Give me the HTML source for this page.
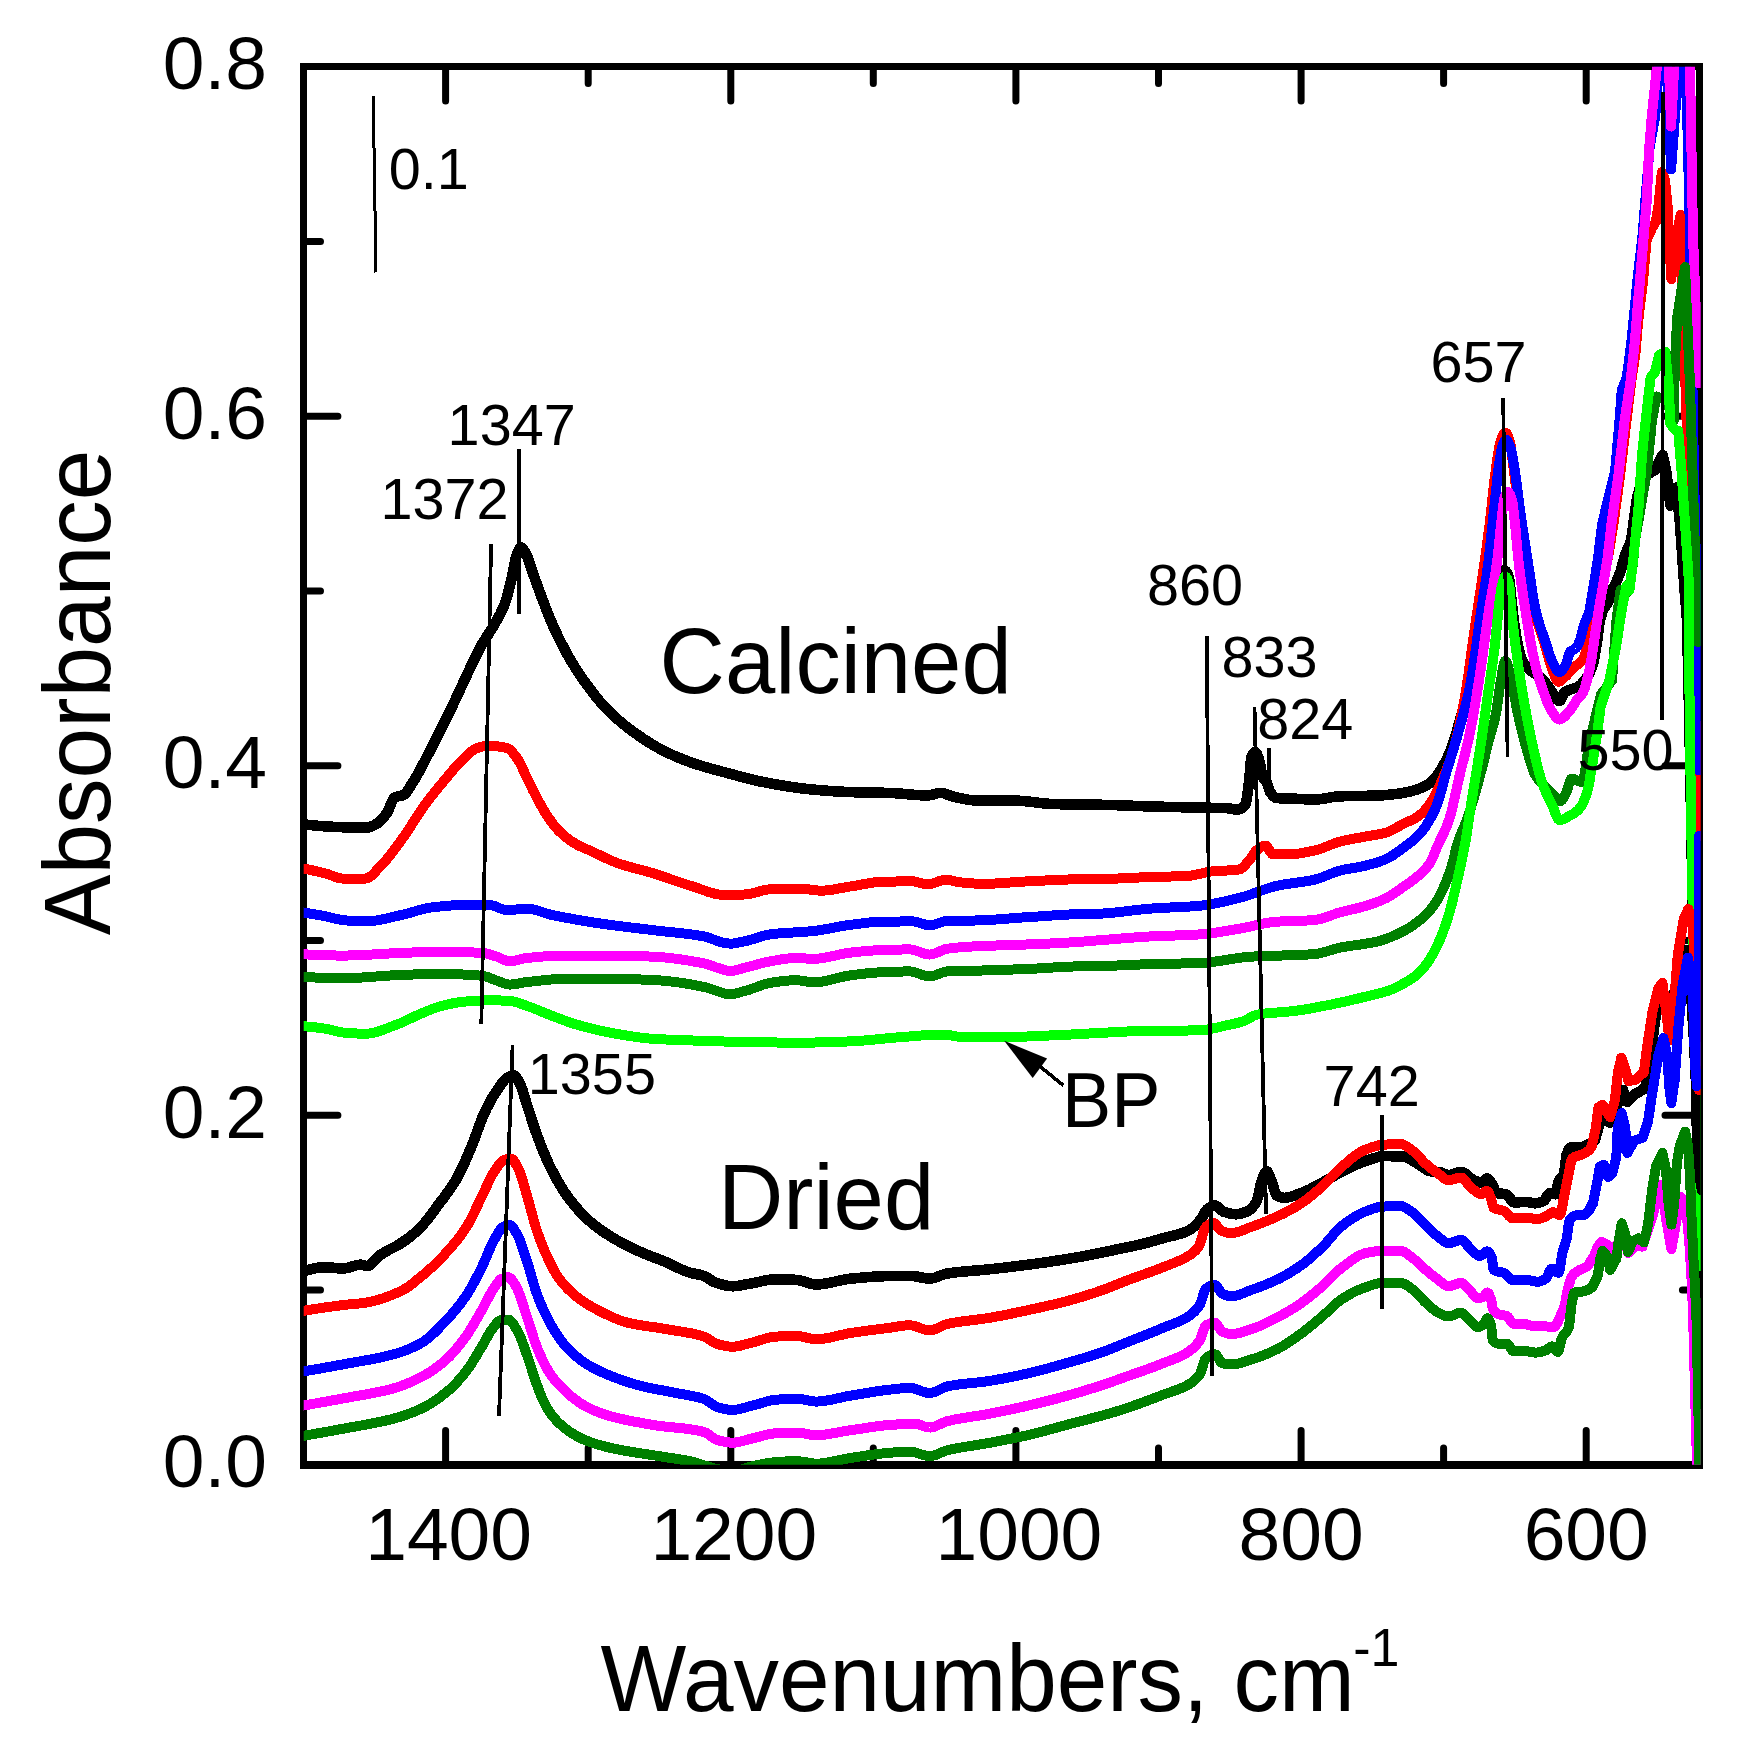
<!DOCTYPE html>
<html lang="en"><head><meta charset="utf-8"><title>IR spectra: calcined and dried samples</title>
<style>html,body{margin:0;padding:0;background:#fff}svg{display:block}text{font-family:"Liberation Sans",sans-serif;fill:#000}.cv{fill:none;stroke-width:10.0;stroke-linejoin:round;stroke-linecap:round}.ln{stroke:#000;stroke-width:3.8;fill:none;shape-rendering:crispEdges}.fr{stroke:#000;stroke-width:7;fill:none}.t{stroke:#000;stroke-width:7;stroke-linecap:round;fill:none}</style></head><body>
<svg width="1743" height="1762" viewBox="0 0 1743 1762">
<rect x="0" y="0" width="1743" height="1762" fill="#fff"/>
<defs><clipPath id="pc"><rect x="303.7" y="66.7" width="1397.0" height="1398.1"/></clipPath></defs>
<g shape-rendering="crispEdges">
<rect class="fr" x="303.7" y="66.7" width="1395.5" height="1398.1"/>
<path d="M300.2,1464.9 H1702.7" stroke="#000" stroke-width="8"/>
</g>
<path class="t" d="M445.6,1464.8 v-34.2 M445.6,66.7 v34.2 M588.2,1464.8 v-16.8 M588.2,66.7 v16.8 M730.8,1464.8 v-34.2 M730.8,66.7 v34.2 M873.3,1464.8 v-16.8 M873.3,66.7 v16.8 M1015.9,1464.8 v-34.2 M1015.9,66.7 v34.2 M1158.5,1464.8 v-16.8 M1158.5,66.7 v16.8 M1301.1,1464.8 v-34.2 M1301.1,66.7 v34.2 M1443.6,1464.8 v-16.8 M1443.6,66.7 v16.8 M1586.2,1464.8 v-34.2 M1586.2,66.7 v34.2 M303.7,1290.0 h16.8 M1699.2,1290.0 h-16.8 M303.7,1115.3 h34.2 M1699.2,1115.3 h-34.2 M303.7,940.5 h16.8 M1699.2,940.5 h-16.8 M303.7,765.8 h34.2 M1699.2,765.8 h-34.2 M303.7,591.0 h16.8 M1699.2,591.0 h-16.8 M303.7,416.2 h34.2 M1699.2,416.2 h-34.2 M303.7,241.5 h16.8 M1699.2,241.5 h-16.8"/>
<g clip-path="url(#pc)" shape-rendering="crispEdges">
<path class="cv" stroke="#000" style="stroke-width:10.6" d="M300.0,824.0 301.0,824.1 302.0,824.2 303.0,824.3 304.0,824.4 305.0,824.5 306.0,824.6 307.0,824.7 308.0,824.8 309.0,824.9 310.0,825.0 311.0,825.1 312.0,825.2 313.0,825.3 314.0,825.4 315.0,825.5 316.0,825.6 317.0,825.7 318.0,825.8 319.0,825.8 320.0,825.9 321.0,826.0 322.0,826.1 323.0,826.2 324.0,826.2 325.0,826.3 326.0,826.4 327.0,826.4 328.0,826.5 329.0,826.6 330.0,826.6 331.0,826.7 332.0,826.7 333.0,826.8 334.0,826.8 335.0,826.9 336.0,826.9 337.0,827.0 337.9,827.0 338.0,827.0 339.0,827.0 340.0,827.1 341.0,827.1 342.0,827.2 343.0,827.2 344.0,827.2 345.0,827.3 346.0,827.3 347.0,827.3 348.0,827.4 349.0,827.4 350.0,827.4 351.0,827.5 352.0,827.5 353.0,827.5 354.0,827.5 355.0,827.6 356.0,827.6 357.0,827.6 358.0,827.6 359.0,827.6 360.0,827.7 361.0,827.7 362.0,827.7 363.0,827.7 364.0,827.7 365.0,827.7 365.6,827.7 366.0,827.7 367.0,827.6 368.0,827.5 369.0,827.2 370.0,826.9 371.0,826.6 372.0,826.1 373.0,825.7 374.0,825.2 375.0,824.6 376.0,824.1 377.0,823.5 378.0,822.9 378.3,822.7 379.0,822.2 380.0,821.4 381.0,820.5 382.0,819.4 383.0,818.2 384.0,817.0 385.0,815.6 386.0,814.2 387.0,812.7 387.1,812.6 388.0,811.0 389.0,808.8 390.0,806.4 391.0,803.8 392.0,801.4 393.0,799.4 394.0,798.0 394.7,797.4 395.0,797.3 396.0,796.9 397.0,796.6 398.0,796.4 399.0,796.2 400.0,796.0 401.0,795.8 402.0,795.5 403.0,795.2 403.5,795.0 404.0,794.7 405.0,794.0 406.0,792.9 407.0,791.7 408.0,790.3 409.0,788.7 410.0,787.0 411.0,785.3 412.0,783.6 413.0,782.0 413.6,781.0 414.0,780.4 415.0,778.8 416.0,777.1 417.0,775.4 418.0,773.6 419.0,771.8 420.0,770.0 421.0,768.1 422.0,766.2 423.0,764.3 424.0,762.4 425.0,760.5 426.0,758.5 427.0,756.6 428.0,754.6 429.0,752.7 430.0,750.7 431.0,748.8 431.3,748.2 432.0,746.9 433.0,744.9 434.0,743.0 435.0,741.0 436.0,739.1 437.0,737.1 438.0,735.1 439.0,733.1 440.0,731.1 441.0,729.1 442.0,727.1 443.0,725.1 444.0,723.1 445.0,721.1 446.0,719.1 447.0,717.0 448.0,715.0 449.0,712.9 450.0,710.9 451.0,708.8 451.5,707.8 452.0,706.8 453.0,704.7 454.0,702.6 455.0,700.5 456.0,698.4 457.0,696.2 458.0,694.1 459.0,691.9 460.0,689.8 461.0,687.6 462.0,685.5 463.0,683.3 464.0,681.2 465.0,679.0 466.0,676.9 467.0,674.7 468.0,672.6 469.0,670.5 470.0,668.4 471.0,666.3 471.7,664.9 472.0,664.3 473.0,662.2 474.0,660.1 475.0,658.1 476.0,656.0 477.0,654.0 478.0,651.9 479.0,650.0 480.0,648.0 481.0,646.2 481.8,644.7 482.0,644.3 483.0,642.6 484.0,641.0 485.0,639.4 486.0,637.8 487.0,636.3 488.0,634.8 489.0,633.2 490.0,631.7 491.0,630.2 492.0,628.6 493.0,626.9 494.0,625.2 494.4,624.5 495.0,623.4 496.0,621.7 497.0,619.9 498.0,618.1 499.0,616.3 500.0,614.4 501.0,612.4 502.0,610.3 503.0,608.0 504.0,605.6 504.5,604.3 505.0,602.9 506.0,600.0 506.5,598.4 507.0,596.7 507.5,594.9 508.0,593.1 508.5,591.2 509.0,589.3 509.5,587.3 510.0,585.3 510.5,583.3 511.0,581.2 511.5,579.1 512.0,576.9 512.1,576.5 512.5,574.7 513.0,572.1 513.5,569.3 514.0,566.4 514.5,563.6 515.0,561.1 515.5,559.0 515.9,557.6 516.0,557.3 517.0,554.4 518.0,551.7 519.0,549.5 520.0,548.0 520.9,547.5 521.0,547.5 522.0,547.9 523.0,549.0 524.0,550.4 525.0,552.1 526.0,553.8 527.0,555.8 528.0,558.4 529.0,561.3 529.5,562.9 530.0,564.5 530.5,566.1 531.0,567.6 531.5,569.2 532.0,570.7 532.3,571.5 533.0,573.4 534.0,576.2 535.0,579.0 536.0,581.8 537.0,584.6 538.0,587.3 539.0,590.1 540.0,592.8 541.0,595.5 542.0,598.1 542.4,599.2 543.0,600.8 544.0,603.4 545.0,606.0 546.0,608.6 547.0,611.2 548.0,613.7 549.0,616.2 550.0,618.7 551.0,621.0 552.0,623.4 552.5,624.5 553.0,625.6 554.0,627.8 555.0,630.0 556.0,632.2 557.0,634.3 558.0,636.4 559.0,638.4 560.0,640.4 561.0,642.4 562.0,644.4 563.0,646.3 564.0,648.2 565.0,650.1 566.0,651.9 567.0,653.7 567.6,654.8 568.0,655.5 569.0,657.3 570.0,659.0 571.0,660.7 572.0,662.4 573.0,664.0 574.0,665.6 575.0,667.3 576.0,668.8 577.0,670.4 578.0,672.0 579.0,673.5 580.0,675.0 581.0,676.5 582.0,677.9 583.0,679.4 584.0,680.8 585.0,682.2 585.3,682.6 586.0,683.6 587.0,684.9 588.0,686.3 589.0,687.6 590.0,689.0 591.0,690.3 592.0,691.6 593.0,692.9 594.0,694.2 595.0,695.5 596.0,696.7 597.0,697.9 598.0,699.2 599.0,700.4 600.0,701.6 601.0,702.7 602.0,703.9 603.0,705.0 604.0,706.1 605.0,707.2 606.0,708.2 607.0,709.3 608.0,710.3 609.0,711.3 610.0,712.3 611.0,713.3 612.0,714.2 613.0,715.1 614.0,716.1 615.0,717.0 616.0,717.9 617.0,718.8 618.0,719.7 619.0,720.5 620.0,721.4 621.0,722.2 622.0,723.1 623.0,723.9 624.0,724.7 625.0,725.5 626.0,726.3 627.0,727.1 628.0,727.8 629.0,728.6 630.0,729.4 631.0,730.1 632.0,730.9 633.0,731.6 633.3,731.8 634.0,732.3 635.0,733.0 636.0,733.7 637.0,734.4 638.0,735.1 639.0,735.8 640.0,736.5 641.0,737.2 642.0,737.9 643.0,738.6 644.0,739.2 645.0,739.9 646.0,740.5 647.0,741.2 648.0,741.8 649.0,742.5 650.0,743.1 651.0,743.7 652.0,744.3 653.0,744.9 654.0,745.5 655.0,746.1 656.0,746.7 657.0,747.2 658.0,747.8 659.0,748.3 660.0,748.9 661.0,749.4 662.0,749.9 663.0,750.4 663.5,750.7 664.0,751.0 665.0,751.4 666.0,751.9 667.0,752.4 668.0,752.9 669.0,753.4 670.0,753.8 671.0,754.3 672.0,754.8 673.0,755.2 674.0,755.7 675.0,756.1 676.0,756.5 677.0,757.0 678.0,757.4 679.0,757.8 680.0,758.2 681.0,758.6 682.0,759.0 683.0,759.4 684.0,759.8 685.0,760.2 686.0,760.6 687.0,761.0 688.0,761.3 689.0,761.7 690.0,762.1 691.0,762.4 692.0,762.8 693.0,763.1 693.8,763.4 694.0,763.5 695.0,763.8 696.0,764.1 697.0,764.5 698.0,764.8 699.0,765.1 700.0,765.4 701.0,765.7 702.0,766.0 703.0,766.3 704.0,766.6 705.0,766.9 706.0,767.2 707.0,767.5 708.0,767.8 709.0,768.1 710.0,768.4 711.0,768.6 712.0,768.9 713.0,769.2 714.0,769.5 715.0,769.7 716.0,770.0 717.0,770.3 718.0,770.5 719.0,770.8 720.0,771.1 721.0,771.3 722.0,771.6 723.0,771.9 724.0,772.1 725.0,772.4 726.0,772.7 727.0,772.9 728.0,773.2 729.0,773.4 729.2,773.5 730.0,773.7 731.0,774.0 732.0,774.3 733.0,774.5 734.0,774.8 735.0,775.1 736.0,775.3 737.0,775.6 738.0,775.9 739.0,776.2 740.0,776.4 741.0,776.7 742.0,777.0 743.0,777.2 744.0,777.5 745.0,777.8 746.0,778.0 747.0,778.3 748.0,778.6 749.0,778.8 750.0,779.1 751.0,779.3 752.0,779.6 753.0,779.8 754.0,780.0 755.0,780.3 756.0,780.5 757.0,780.7 758.0,781.0 759.0,781.2 760.0,781.4 761.0,781.6 762.0,781.8 763.0,782.0 763.1,782.0 764.0,782.2 765.0,782.4 766.0,782.6 767.0,782.7 768.0,782.9 769.0,783.1 770.0,783.3 771.0,783.5 772.0,783.7 773.0,783.8 774.0,784.0 775.0,784.2 776.0,784.4 777.0,784.6 778.0,784.7 779.0,784.9 780.0,785.1 781.0,785.2 782.0,785.4 783.0,785.6 784.0,785.7 785.0,785.9 786.0,786.1 787.0,786.2 788.0,786.4 789.0,786.5 790.0,786.7 791.0,786.8 792.0,787.0 793.0,787.1 794.0,787.3 795.0,787.4 796.0,787.6 797.0,787.7 798.0,787.8 799.0,788.0 800.0,788.1 801.0,788.2 802.0,788.4 803.0,788.5 804.0,788.6 805.0,788.7 806.0,788.8 807.0,788.9 808.0,789.0 809.0,789.2 810.0,789.3 811.0,789.4 812.0,789.5 813.0,789.5 813.6,789.6 814.0,789.6 815.0,789.7 816.0,789.8 817.0,789.9 818.0,790.0 819.0,790.1 820.0,790.2 821.0,790.2 822.0,790.3 823.0,790.4 824.0,790.5 825.0,790.6 826.0,790.6 827.0,790.7 828.0,790.8 829.0,790.9 830.0,790.9 831.0,791.0 832.0,791.1 833.0,791.2 834.0,791.2 835.0,791.3 836.0,791.4 837.0,791.4 838.0,791.5 839.0,791.5 840.0,791.6 841.0,791.6 842.0,791.7 843.0,791.7 844.0,791.8 845.0,791.8 846.0,791.9 847.0,791.9 848.0,792.0 849.0,792.0 850.0,792.0 851.0,792.1 851.5,792.1 852.0,792.1 853.0,792.1 854.0,792.2 855.0,792.2 856.0,792.2 857.0,792.3 858.0,792.3 859.0,792.3 860.0,792.3 861.0,792.3 862.0,792.4 863.0,792.4 864.0,792.4 865.0,792.4 866.0,792.4 867.0,792.4 868.0,792.5 869.0,792.5 870.0,792.5 871.0,792.5 872.0,792.5 873.0,792.5 874.0,792.6 875.0,792.6 876.0,792.6 877.0,792.6 878.0,792.6 879.0,792.6 880.0,792.7 881.0,792.7 882.0,792.7 883.0,792.7 884.0,792.8 885.0,792.8 886.0,792.8 887.0,792.8 888.0,792.9 889.0,792.9 889.3,792.9 890.0,792.9 891.0,793.0 892.0,793.0 893.0,793.1 894.0,793.1 895.0,793.2 896.0,793.3 897.0,793.3 898.0,793.4 899.0,793.5 900.0,793.6 901.0,793.6 902.0,793.7 903.0,793.8 904.0,793.9 905.0,794.0 906.0,794.1 907.0,794.2 908.0,794.3 909.0,794.4 910.0,794.5 911.0,794.5 912.0,794.6 913.0,794.7 914.0,794.8 915.0,794.9 916.0,794.9 917.0,795.0 918.0,795.1 919.0,795.1 920.0,795.2 921.0,795.2 922.0,795.3 923.0,795.3 924.0,795.4 925.0,795.4 926.0,795.4 927.0,795.4 927.2,795.4 928.0,795.4 929.0,795.3 930.0,795.1 931.0,794.9 932.0,794.7 933.0,794.5 934.0,794.2 935.0,793.9 936.0,793.7 937.0,793.4 938.0,793.2 939.0,793.1 940.0,792.9 941.0,792.9 941.1,792.9 942.0,792.9 943.0,793.1 944.0,793.3 945.0,793.7 946.0,794.0 947.0,794.4 948.0,794.8 949.0,795.2 950.0,795.6 951.0,796.0 952.0,796.3 952.5,796.4 953.0,796.5 954.0,796.7 955.0,797.0 956.0,797.2 957.0,797.4 958.0,797.6 959.0,797.9 960.0,798.1 961.0,798.3 962.0,798.5 963.0,798.7 964.0,798.9 965.0,799.1 966.0,799.3 967.0,799.5 968.0,799.7 969.0,799.8 970.0,799.9 971.0,800.1 972.0,800.2 973.0,800.3 974.0,800.4 975.0,800.4 976.0,800.5 977.0,800.5 977.7,800.5 978.0,800.5 979.0,800.5 980.0,800.5 981.0,800.5 982.0,800.5 983.0,800.5 984.0,800.5 985.0,800.5 986.0,800.5 987.0,800.5 988.0,800.5 989.0,800.5 990.0,800.5 991.0,800.5 992.0,800.5 993.0,800.5 994.0,800.5 995.0,800.5 996.0,800.5 997.0,800.5 998.0,800.5 999.0,800.5 1000.0,800.5 1001.0,800.5 1002.0,800.5 1003.0,800.5 1004.0,800.5 1005.0,800.5 1006.0,800.5 1007.0,800.5 1008.0,800.5 1009.0,800.5 1010.0,800.5 1011.0,800.5 1012.0,800.5 1013.0,800.5 1014.0,800.5 1015.0,800.5 1016.0,800.5 1017.0,800.6 1018.0,800.6 1019.0,800.7 1020.0,800.8 1021.0,800.8 1022.0,800.9 1023.0,801.0 1024.0,801.1 1025.0,801.2 1026.0,801.3 1027.0,801.4 1028.0,801.5 1029.0,801.6 1030.0,801.7 1031.0,801.8 1032.0,802.0 1033.0,802.1 1034.0,802.2 1035.0,802.3 1036.0,802.4 1037.0,802.6 1038.0,802.7 1039.0,802.8 1040.0,802.9 1041.0,803.0 1042.0,803.2 1043.0,803.3 1044.0,803.4 1045.0,803.5 1046.0,803.5 1047.0,803.6 1048.0,803.7 1049.0,803.8 1050.0,803.8 1051.0,803.9 1052.0,803.9 1053.0,804.0 1053.5,804.0 1054.0,804.0 1055.0,804.0 1056.0,804.1 1057.0,804.1 1058.0,804.1 1059.0,804.1 1060.0,804.2 1061.0,804.2 1062.0,804.2 1063.0,804.2 1064.0,804.2 1065.0,804.2 1066.0,804.3 1067.0,804.3 1068.0,804.3 1069.0,804.3 1070.0,804.3 1071.0,804.3 1072.0,804.4 1073.0,804.4 1074.0,804.4 1075.0,804.4 1076.0,804.4 1077.0,804.4 1078.0,804.4 1079.0,804.4 1080.0,804.4 1081.0,804.5 1082.0,804.5 1083.0,804.5 1084.0,804.5 1085.0,804.5 1086.0,804.5 1087.0,804.5 1088.0,804.5 1089.0,804.6 1090.0,804.6 1091.0,804.6 1092.0,804.6 1093.0,804.6 1094.0,804.6 1095.0,804.6 1096.0,804.7 1097.0,804.7 1098.0,804.7 1099.0,804.7 1100.0,804.7 1101.0,804.7 1102.0,804.8 1103.0,804.8 1104.0,804.8 1105.0,804.8 1106.0,804.8 1107.0,804.9 1108.0,804.9 1109.0,804.9 1110.0,805.0 1111.0,805.0 1112.0,805.0 1113.0,805.0 1114.0,805.1 1115.0,805.1 1116.0,805.1 1117.0,805.2 1118.0,805.2 1119.0,805.2 1120.0,805.3 1121.0,805.3 1122.0,805.4 1123.0,805.4 1124.0,805.4 1125.0,805.5 1126.0,805.5 1127.0,805.6 1128.0,805.6 1129.0,805.6 1130.0,805.7 1131.0,805.7 1132.0,805.7 1133.0,805.8 1134.0,805.8 1135.0,805.9 1136.0,805.9 1137.0,805.9 1138.0,806.0 1139.0,806.0 1140.0,806.1 1141.0,806.1 1142.0,806.1 1143.0,806.2 1144.0,806.2 1145.0,806.2 1146.0,806.3 1147.0,806.3 1148.0,806.3 1149.0,806.4 1150.0,806.4 1150.5,806.4 1151.0,806.4 1152.0,806.4 1153.0,806.5 1154.0,806.5 1155.0,806.5 1156.0,806.6 1157.0,806.6 1158.0,806.6 1159.0,806.6 1160.0,806.7 1161.0,806.7 1162.0,806.7 1163.0,806.7 1164.0,806.8 1165.0,806.8 1166.0,806.8 1167.0,806.8 1168.0,806.9 1169.0,806.9 1170.0,806.9 1171.0,806.9 1172.0,807.0 1173.0,807.0 1174.0,807.0 1175.0,807.0 1176.0,807.0 1177.0,807.1 1178.0,807.1 1179.0,807.1 1180.0,807.1 1181.0,807.2 1182.0,807.2 1183.0,807.2 1184.0,807.2 1185.0,807.3 1186.0,807.3 1187.0,807.3 1188.0,807.3 1189.0,807.3 1190.0,807.4 1191.0,807.4 1192.0,807.4 1193.0,807.4 1194.0,807.4 1195.0,807.5 1196.0,807.5 1197.0,807.5 1198.0,807.5 1199.0,807.6 1200.0,807.6 1201.0,807.6 1202.0,807.6 1203.0,807.6 1204.0,807.7 1205.0,807.7 1206.0,807.7 1207.0,807.7 1208.0,807.7 1209.0,807.7 1210.0,807.7 1211.0,807.8 1212.0,807.8 1213.0,807.8 1214.0,807.8 1215.0,807.8 1216.0,807.8 1217.0,807.9 1218.0,807.9 1219.0,807.9 1220.0,807.9 1221.0,807.9 1222.0,808.0 1223.0,808.0 1224.0,808.0 1225.0,808.1 1226.0,808.1 1226.2,808.1 1227.0,808.1 1228.0,808.2 1229.0,808.4 1230.0,808.6 1231.0,808.7 1232.0,808.9 1233.0,809.1 1234.0,809.3 1235.0,809.4 1236.0,809.5 1237.0,809.6 1237.6,809.6 1238.0,809.6 1239.0,809.4 1240.0,809.2 1241.0,808.7 1242.0,808.1 1243.0,807.3 1244.0,806.4 1245.0,805.3 1245.2,805.1 1246.0,802.9 1246.5,800.5 1247.0,797.5 1247.5,794.0 1248.0,790.2 1248.5,786.3 1249.0,782.4 1249.5,777.5 1249.7,775.1 1249.9,772.6 1250.1,770.0 1250.3,767.5 1250.5,765.1 1250.7,762.8 1250.9,760.8 1251.4,757.4 1251.5,757.1 1251.9,756.2 1252.9,754.2 1253.9,752.8 1254.9,752.2 1255.3,752.1 1255.9,752.4 1256.9,754.0 1257.9,756.5 1258.9,759.3 1259.0,759.6 1259.9,763.2 1260.4,765.9 1260.9,768.8 1261.4,771.6 1261.9,774.2 1262.4,776.2 1262.8,777.3 1262.9,777.5 1263.9,779.1 1264.9,780.2 1265.9,781.3 1266.6,782.4 1266.9,783.0 1267.9,785.7 1268.4,787.3 1268.9,788.9 1269.4,790.4 1270.4,792.5 1270.4,792.5 1271.4,793.8 1272.4,795.0 1273.4,796.1 1274.4,797.0 1275.4,797.6 1276.4,798.0 1276.7,798.0 1277.4,798.1 1278.4,798.1 1279.4,798.2 1280.4,798.3 1281.4,798.3 1282.4,798.4 1283.4,798.4 1284.4,798.5 1285.4,798.5 1286.4,798.5 1287.4,798.5 1288.4,798.6 1289.4,798.6 1290.4,798.6 1291.4,798.6 1292.4,798.7 1293.4,798.7 1294.4,798.7 1295.4,798.7 1296.4,798.8 1296.9,798.8 1297.4,798.8 1298.4,798.9 1299.4,798.9 1300.4,799.0 1301.4,799.0 1302.4,799.1 1303.4,799.1 1304.4,799.2 1305.4,799.2 1306.4,799.3 1307.4,799.3 1308.4,799.4 1309.4,799.4 1310.4,799.4 1311.4,799.5 1312.4,799.5 1313.4,799.5 1314.4,799.5 1314.6,799.5 1315.4,799.5 1316.4,799.5 1317.4,799.4 1318.4,799.3 1319.4,799.2 1320.4,799.1 1321.4,799.0 1322.4,798.8 1323.4,798.7 1324.4,798.5 1325.4,798.3 1326.4,798.2 1327.4,798.0 1328.4,797.8 1329.4,797.6 1330.4,797.4 1331.4,797.3 1332.4,797.1 1333.4,796.9 1334.4,796.8 1335.4,796.7 1336.4,796.6 1337.4,796.5 1338.4,796.4 1339.4,796.3 1339.8,796.3 1340.4,796.3 1341.4,796.2 1342.4,796.2 1343.4,796.2 1344.4,796.2 1345.4,796.1 1346.4,796.1 1347.4,796.1 1348.4,796.1 1349.4,796.0 1350.4,796.0 1351.4,796.0 1352.4,796.0 1353.4,796.0 1354.4,796.0 1355.4,795.9 1356.4,795.9 1357.4,795.9 1358.4,795.9 1359.4,795.9 1360.4,795.9 1361.4,795.9 1362.4,795.8 1363.4,795.8 1364.4,795.8 1365.4,795.8 1366.4,795.8 1367.4,795.8 1368.4,795.7 1369.4,795.7 1370.4,795.7 1371.4,795.7 1372.4,795.7 1373.4,795.6 1374.4,795.6 1375.4,795.6 1376.4,795.5 1377.4,795.5 1377.7,795.5 1378.4,795.5 1379.4,795.4 1380.4,795.4 1381.4,795.3 1382.4,795.3 1383.4,795.2 1384.4,795.1 1385.4,795.0 1386.4,795.0 1387.4,794.9 1388.4,794.8 1389.4,794.7 1390.4,794.6 1391.4,794.5 1392.4,794.4 1393.4,794.2 1394.4,794.1 1395.4,794.0 1396.4,793.9 1397.4,793.8 1397.9,793.7 1398.4,793.6 1399.4,793.5 1400.4,793.4 1401.4,793.2 1402.4,793.0 1403.4,792.9 1404.4,792.7 1405.4,792.5 1406.4,792.3 1407.4,792.0 1408.4,791.8 1409.4,791.6 1410.4,791.3 1411.4,791.1 1412.4,790.8 1413.4,790.5 1414.4,790.3 1415.4,790.0 1415.6,789.9 1416.4,789.7 1417.4,789.3 1418.4,789.0 1419.4,788.6 1420.4,788.2 1421.4,787.8 1422.4,787.3 1423.4,786.8 1424.4,786.3 1425.4,785.8 1426.4,785.2 1427.4,784.6 1428.4,784.0 1429.4,783.3 1430.4,782.6 1430.7,782.4 1431.4,781.9 1432.4,780.9 1433.4,779.9 1434.4,778.8 1435.4,777.5 1436.4,776.2 1437.4,774.8 1438.4,773.3 1439.4,771.8 1440.4,770.3 1440.8,769.7 1441.4,768.8 1442.4,767.1 1443.4,765.4 1444.4,763.6 1445.4,761.7 1446.4,759.7 1447.4,757.6 1448.4,755.4 1449.4,753.1 1450.4,750.7 1450.9,749.5 1451.4,748.2 1452.4,745.5 1453.4,742.6 1453.9,741.0 1454.4,739.4 1454.9,737.8 1455.4,736.2 1455.9,734.5 1456.4,732.8 1456.9,731.0 1457.4,729.3 1457.9,727.5 1458.4,725.7 1458.9,723.9 1459.4,722.1 1459.9,720.4 1460.0,720.0 1460.4,718.6 1460.9,716.7 1461.4,714.8 1461.9,712.9 1462.4,711.0 1462.9,709.0 1463.4,707.0 1463.9,705.0 1464.4,703.0 1464.9,700.9 1465.4,698.9 1465.9,696.8 1466.4,694.8 1466.9,692.7 1467.4,690.6 1467.9,688.5 1468.4,686.5 1468.9,684.4 1469.4,682.4 1469.9,680.4 1470.0,680.0 1470.4,678.4 1470.9,676.4 1471.4,674.4 1471.9,672.4 1472.4,670.4 1472.9,668.4 1473.4,666.4 1473.9,664.4 1474.4,662.4 1474.9,660.4 1475.4,658.4 1475.9,656.4 1476.4,654.4 1476.9,652.4 1477.4,650.4 1477.9,648.4 1478.4,646.4 1478.9,644.4 1479.4,642.4 1479.9,640.4 1480.0,640.0 1480.4,638.4 1480.9,636.3 1481.4,634.3 1481.9,632.2 1482.4,630.1 1482.9,628.0 1483.4,625.9 1483.9,623.8 1484.4,621.6 1484.9,619.5 1485.4,617.5 1485.9,615.4 1486.4,613.4 1486.9,611.4 1487.4,609.4 1487.9,607.5 1488.4,605.6 1488.9,603.8 1489.4,602.0 1489.9,600.3 1490.0,600.0 1490.4,598.7 1490.9,597.0 1491.4,595.4 1491.9,593.7 1492.4,592.1 1492.9,590.5 1493.4,589.0 1493.9,587.5 1494.9,584.7 1495.9,582.3 1496.9,580.2 1497.0,580.0 1497.9,578.3 1498.9,576.5 1499.9,574.7 1500.9,573.1 1501.9,571.8 1502.9,570.8 1503.9,570.3 1504.3,570.3 1504.9,570.4 1505.9,571.3 1506.9,572.9 1507.9,575.0 1508.9,577.7 1509.0,578.0 1509.9,583.8 1510.4,588.8 1510.6,591.0 1510.8,593.1 1511.0,595.2 1511.2,597.2 1511.5,600.0 1511.7,601.7 1512.2,606.1 1512.7,610.5 1513.2,614.9 1513.7,619.0 1514.2,622.9 1514.5,625.0 1514.7,626.4 1515.2,629.7 1515.7,633.0 1516.2,636.1 1516.7,639.1 1517.2,641.8 1517.7,644.4 1518.2,646.7 1518.5,648.0 1518.7,648.8 1519.2,650.8 1519.7,652.7 1520.2,654.5 1520.7,656.2 1521.2,657.7 1522.2,660.4 1523.0,662.0 1523.2,662.3 1524.2,663.9 1525.2,665.3 1526.2,666.5 1527.2,667.6 1528.2,668.6 1529.2,669.5 1530.2,670.3 1531.0,671.0 1531.2,671.2 1532.2,671.9 1533.2,672.6 1534.2,673.2 1535.2,673.8 1536.2,674.4 1537.0,675.0 1537.2,675.1 1538.2,675.9 1539.2,676.7 1540.2,677.5 1541.2,678.3 1542.2,679.2 1543.2,680.2 1544.0,681.0 1544.2,681.2 1545.2,682.4 1546.2,683.7 1547.2,685.1 1548.2,686.5 1549.2,688.0 1550.2,689.5 1551.2,690.9 1552.0,692.0 1552.2,692.3 1553.2,693.7 1554.2,695.4 1555.2,697.0 1556.2,698.5 1557.2,699.8 1558.2,700.6 1559.2,701.0 1559.3,701.0 1560.2,700.5 1561.2,699.0 1562.2,696.9 1563.2,694.7 1564.2,692.9 1565.0,692.0 1565.2,691.9 1566.2,691.3 1567.2,690.8 1568.2,690.4 1569.2,690.0 1570.2,689.7 1571.2,689.3 1572.0,689.0 1572.2,688.9 1573.2,688.6 1574.2,688.2 1575.2,687.9 1576.2,687.6 1577.2,687.2 1578.2,686.7 1578.2,686.7 1579.2,686.1 1580.2,685.3 1581.2,684.4 1582.2,683.3 1583.2,682.2 1584.2,681.0 1585.0,680.0 1585.2,679.8 1586.2,678.4 1587.2,677.0 1588.2,675.4 1589.2,673.6 1590.0,672.0 1590.2,671.4 1591.2,668.7 1592.2,665.9 1593.2,663.1 1593.6,662.0 1593.7,661.4 1594.2,658.5 1594.7,655.5 1595.2,652.6 1595.7,649.6 1596.2,646.7 1596.7,643.8 1597.0,642.0 1597.2,640.4 1597.7,636.6 1598.2,632.7 1598.7,628.8 1599.2,624.9 1599.7,621.0 1599.7,621.0 1600.2,619.3 1600.7,617.7 1601.2,616.0 1601.7,614.3 1602.2,612.7 1603.0,610.0 1603.2,609.7 1604.2,608.2 1605.2,606.7 1606.2,605.2 1607.0,604.0 1607.2,603.6 1608.2,601.9 1609.2,600.1 1610.2,598.4 1610.4,598.0 1611.2,594.9 1611.7,593.0 1612.2,591.1 1612.7,589.2 1613.0,588.0 1613.2,587.7 1614.2,586.0 1615.2,584.3 1616.0,583.0 1616.2,582.5 1617.2,579.9 1618.2,577.3 1619.2,574.7 1620.2,572.1 1621.0,570.0 1621.2,569.2 1621.7,567.4 1622.2,565.5 1622.7,563.6 1623.2,561.7 1623.7,559.9 1624.2,558.0 1624.7,556.1 1625.0,555.0 1625.2,554.5 1626.2,552.2 1627.2,549.9 1628.2,547.5 1629.2,545.2 1630.2,542.9 1631.0,541.0 1631.2,539.6 1631.7,536.0 1632.2,532.4 1632.7,528.8 1633.2,525.2 1633.7,521.6 1634.2,518.1 1634.7,514.5 1635.2,510.9 1635.7,507.3 1636.2,503.7 1636.7,500.1 1637.0,498.0 1637.2,497.3 1637.7,495.5 1638.2,493.7 1638.7,491.9 1639.2,490.1 1639.7,488.3 1640.2,486.5 1640.7,484.7 1641.7,481.1 1642.0,480.0 1642.7,479.3 1643.7,478.3 1644.7,477.3 1645.7,476.3 1646.7,475.3 1647.7,474.3 1648.0,474.0 1648.7,473.6 1649.7,473.0 1650.7,472.5 1651.7,471.9 1652.7,471.3 1653.7,470.7 1654.7,470.2 1655.0,470.0 1655.7,468.6 1656.7,466.6 1657.7,464.6 1658.7,462.6 1659.0,462.0 1659.7,460.7 1660.7,458.8 1661.7,456.9 1662.7,455.0 1662.7,455.0 1663.7,459.5 1664.2,461.8 1664.7,464.1 1665.2,466.4 1665.7,468.6 1666.0,470.0 1666.2,471.6 1666.7,475.7 1667.2,479.7 1667.4,481.4 1667.6,483.0 1667.8,484.6 1668.0,486.2 1668.2,487.9 1668.4,489.5 1668.6,491.1 1669.1,495.2 1669.6,499.2 1670.1,503.3 1670.4,505.7 1671.1,503.7 1672.1,500.9 1672.6,499.5 1673.1,498.1 1673.5,497.0 1673.6,496.7 1674.1,495.1 1674.6,493.6 1675.1,492.0 1675.6,490.4 1676.5,487.6 1676.6,488.6 1677.6,499.0 1678.1,504.1 1678.3,506.2 1678.5,508.3 1678.7,510.4 1678.9,512.4 1679.1,514.5 1679.3,516.6 1679.5,518.6 1679.7,520.7 1679.9,522.8 1680.0,523.8 1680.1,525.3 1680.3,528.2 1680.5,531.1 1680.7,534.0 1680.9,537.0 1681.1,539.9 1681.3,542.8 1681.5,545.7 1681.7,548.7 1681.9,551.6 1682.1,554.5 1682.3,557.4 1682.5,560.4 1682.7,563.3 1682.9,566.2 1683.1,569.1 1683.3,572.1 1683.5,575.0 1683.5,575.0 1683.7,577.6 1683.9,580.1 1684.1,582.7 1684.3,585.3 1684.5,587.9 1684.7,590.4 1684.9,593.0 1685.1,595.6 1685.3,598.1 1685.5,600.7 1685.7,603.3 1685.9,605.9 1686.1,608.4 1686.3,611.0 1686.5,613.6 1686.7,616.1 1686.9,618.7 1687.0,620.0 1687.1,624.4 1687.3,633.2 1687.5,642.0 1687.7,650.8 1687.9,659.6 1688.1,668.4 1688.3,677.2 1688.5,686.0 1688.7,694.8 1688.9,703.6 1689.1,712.4 1689.3,721.2 1689.5,730.0 1689.5,730.0 1689.7,741.0 1689.9,752.0 1690.1,763.0 1690.3,774.0 1690.5,785.0 1690.7,796.0 1690.9,807.0 1691.1,818.0 1691.3,829.0 1691.5,840.0 1691.5,840.0 1691.7,852.0 1691.9,864.0 1692.1,876.0 1692.3,888.0 1692.5,900.0 1692.7,912.0 1692.9,924.0 1693.0,930.0 1693.1,933.2 1693.3,939.6 1693.5,946.0 1693.7,952.4 1693.9,958.8 1694.1,965.2 1694.3,971.6 1694.5,978.0 1694.7,984.4 1694.9,990.8 1695.1,997.2 1695.3,1003.6 1695.5,1010.0 1695.7,1016.4 1695.9,1022.8 1696.1,1029.2 1696.3,1035.6 1696.5,1042.0 1696.7,1048.4 1696.9,1054.8 1697.1,1061.2 1697.3,1067.6 1697.5,1074.0 1697.7,1080.4 1697.9,1086.8 1698.0,1090.0"/>
<path class="cv" stroke="#f00" d="M300.0,868.0 301.0,868.2 302.0,868.4 303.0,868.5 304.0,868.7 305.0,868.9 306.0,869.1 307.0,869.3 308.0,869.5 309.0,869.7 310.0,869.9 311.0,870.1 312.0,870.3 313.0,870.5 314.0,870.8 315.0,871.0 316.0,871.2 317.0,871.4 318.0,871.7 319.0,871.9 320.0,872.1 321.0,872.4 322.0,872.6 323.0,872.9 324.0,873.1 325.0,873.4 325.2,873.4 326.0,873.6 327.0,873.9 328.0,874.2 329.0,874.6 330.0,875.0 331.0,875.3 332.0,875.7 333.0,876.1 334.0,876.5 335.0,876.8 336.0,877.2 337.0,877.5 338.0,877.8 339.0,878.0 340.0,878.2 341.0,878.4 342.0,878.5 342.9,878.5 343.0,878.5 344.0,878.5 345.0,878.5 346.0,878.5 347.0,878.5 348.0,878.5 349.0,878.5 350.0,878.5 351.0,878.5 352.0,878.5 353.0,878.5 354.0,878.5 355.0,878.5 356.0,878.5 357.0,878.5 358.0,878.5 359.0,878.5 360.0,878.5 361.0,878.5 362.0,878.5 363.0,878.5 364.0,878.5 365.0,878.5 365.6,878.5 366.0,878.5 367.0,878.3 368.0,878.0 369.0,877.5 370.0,876.8 371.0,876.1 372.0,875.2 373.0,874.2 374.0,873.2 375.0,872.1 376.0,871.0 377.0,869.9 378.0,868.8 379.0,867.7 380.0,866.6 380.8,865.8 381.0,865.6 382.0,864.6 383.0,863.5 384.0,862.4 385.0,861.3 386.0,860.2 387.0,859.0 388.0,857.8 389.0,856.5 390.0,855.3 391.0,854.0 392.0,852.7 393.0,851.4 394.0,850.1 395.0,848.7 396.0,847.4 397.0,846.0 398.0,844.7 399.0,843.3 400.0,842.0 401.0,840.6 402.0,839.2 403.0,837.8 404.0,836.4 405.0,834.9 406.0,833.5 407.0,832.0 408.0,830.5 409.0,828.9 410.0,827.4 411.0,825.8 412.0,824.3 413.0,822.7 414.0,821.2 415.0,819.6 416.0,818.0 417.0,816.5 418.0,814.9 419.0,813.4 420.0,811.9 421.0,810.4 422.0,808.9 423.0,807.5 424.0,806.0 425.0,804.6 426.0,803.3 426.2,803.0 427.0,801.9 428.0,800.6 429.0,799.3 430.0,798.0 431.0,796.7 432.0,795.4 433.0,794.2 434.0,792.9 435.0,791.7 436.0,790.5 437.0,789.3 438.0,788.1 439.0,786.9 440.0,785.7 441.0,784.5 442.0,783.3 443.0,782.1 443.9,781.0 444.0,780.9 445.0,779.7 446.0,778.5 447.0,777.3 448.0,776.1 449.0,774.9 450.0,773.7 451.0,772.5 452.0,771.3 453.0,770.1 454.0,768.9 455.0,767.8 456.0,766.7 457.0,765.6 458.0,764.5 459.0,763.4 460.0,762.4 461.0,761.4 461.6,760.8 462.0,760.4 463.0,759.4 464.0,758.4 465.0,757.4 466.0,756.4 467.0,755.4 468.0,754.4 469.0,753.5 470.0,752.6 471.0,751.7 472.0,750.9 473.0,750.2 474.0,749.5 475.0,748.9 476.0,748.5 476.7,748.2 477.0,748.1 478.0,747.8 479.0,747.4 480.0,747.1 481.0,746.8 482.0,746.6 483.0,746.3 484.0,746.1 485.0,745.9 486.0,745.8 487.0,745.7 488.0,745.7 489.0,745.7 490.0,745.7 491.0,745.8 492.0,745.8 493.0,745.9 494.0,746.0 495.0,746.1 496.0,746.2 497.0,746.3 498.0,746.4 499.0,746.6 500.0,746.7 501.0,746.9 502.0,747.1 503.0,747.3 504.0,747.5 505.0,747.7 506.0,748.0 507.0,748.2 508.0,748.6 509.0,749.1 510.0,749.9 511.0,750.8 512.0,751.8 513.0,753.0 514.0,754.2 515.0,755.5 516.0,756.8 517.0,758.2 517.1,758.3 518.0,759.6 519.0,761.3 520.0,763.1 521.0,765.1 522.0,767.2 523.0,769.4 524.0,771.6 525.0,773.9 526.0,776.0 527.0,778.1 527.2,778.5 528.0,780.1 529.0,782.1 530.0,784.2 531.0,786.2 532.0,788.3 533.0,790.3 534.0,792.3 535.0,794.3 536.0,796.3 537.0,798.1 537.3,798.7 538.0,800.0 539.0,801.8 540.0,803.6 541.0,805.4 542.0,807.2 543.0,809.0 544.0,810.6 545.0,812.3 546.0,813.9 547.0,815.4 547.4,816.0 548.0,816.9 549.0,818.3 550.0,819.8 551.0,821.2 552.0,822.6 553.0,823.9 554.0,825.2 555.0,826.5 556.0,827.7 557.0,828.9 558.0,830.0 559.0,831.0 560.0,832.0 561.0,832.9 562.0,833.8 563.0,834.7 564.0,835.6 565.0,836.4 566.0,837.2 567.0,838.0 568.0,838.7 569.0,839.5 570.0,840.2 571.0,840.9 572.0,841.6 573.0,842.2 574.0,842.8 575.0,843.4 576.0,844.0 577.0,844.6 577.7,845.0 578.0,845.2 579.0,845.7 580.0,846.2 581.0,846.7 582.0,847.1 583.0,847.6 584.0,848.0 585.0,848.4 586.0,848.9 587.0,849.3 588.0,849.7 589.0,850.1 590.0,850.6 590.3,850.7 591.0,851.0 592.0,851.5 593.0,851.9 594.0,852.4 595.0,852.9 596.0,853.4 597.0,853.9 598.0,854.3 599.0,854.8 600.0,855.3 601.0,855.8 602.0,856.3 603.0,856.8 604.0,857.2 605.0,857.7 606.0,858.2 607.0,858.7 608.0,859.1 609.0,859.6 610.0,860.0 611.0,860.5 612.0,860.9 613.0,861.3 614.0,861.7 615.0,862.1 616.0,862.5 617.0,862.9 618.0,863.3 618.1,863.3 619.0,863.6 620.0,864.0 621.0,864.3 622.0,864.6 623.0,864.9 624.0,865.2 625.0,865.5 626.0,865.8 627.0,866.1 628.0,866.4 629.0,866.7 630.0,867.0 631.0,867.3 632.0,867.5 633.0,867.8 634.0,868.1 635.0,868.3 636.0,868.6 637.0,868.9 638.0,869.1 639.0,869.4 640.0,869.7 641.0,869.9 642.0,870.2 643.0,870.4 644.0,870.7 645.0,871.0 646.0,871.2 647.0,871.5 648.0,871.8 649.0,872.1 650.0,872.4 651.0,872.7 652.0,872.9 653.0,873.2 653.5,873.4 654.0,873.6 655.0,873.9 656.0,874.2 657.0,874.5 658.0,874.8 659.0,875.2 660.0,875.5 661.0,875.8 662.0,876.2 663.0,876.5 664.0,876.8 665.0,877.2 666.0,877.5 667.0,877.9 668.0,878.2 669.0,878.6 670.0,878.9 671.0,879.3 672.0,879.6 673.0,880.0 674.0,880.3 675.0,880.6 676.0,881.0 677.0,881.3 678.0,881.7 679.0,882.0 680.0,882.4 681.0,882.7 682.0,883.0 683.0,883.4 684.0,883.7 685.0,884.0 686.0,884.4 687.0,884.7 688.0,885.0 689.0,885.3 690.0,885.6 691.0,885.9 691.3,886.0 692.0,886.2 693.0,886.5 694.0,886.8 695.0,887.2 696.0,887.5 697.0,887.9 698.0,888.2 699.0,888.6 700.0,888.9 701.0,889.3 702.0,889.7 703.0,890.0 704.0,890.4 705.0,890.7 706.0,891.1 707.0,891.4 708.0,891.8 709.0,892.1 710.0,892.4 711.0,892.7 712.0,893.0 713.0,893.3 714.0,893.5 715.0,893.8 716.0,894.0 717.0,894.2 718.0,894.4 719.0,894.5 720.0,894.7 721.0,894.8 722.0,894.8 723.0,894.9 724.0,894.9 724.1,894.9 725.0,894.9 726.0,894.9 727.0,894.9 728.0,894.9 729.0,894.9 730.0,894.9 731.0,894.8 732.0,894.8 733.0,894.8 734.0,894.8 735.0,894.8 736.0,894.7 737.0,894.7 738.0,894.7 739.0,894.6 740.0,894.6 741.0,894.6 742.0,894.5 743.0,894.5 744.0,894.5 745.0,894.4 745.4,894.4 746.0,894.4 747.0,894.3 748.0,894.2 749.0,894.0 750.0,893.9 751.0,893.7 752.0,893.4 753.0,893.2 754.0,892.9 755.0,892.7 756.0,892.4 757.0,892.1 758.0,891.8 759.0,891.5 760.0,891.3 761.0,891.0 762.0,890.7 763.0,890.5 764.0,890.2 765.0,890.0 766.0,889.8 767.0,889.7 768.0,889.5 769.0,889.4 770.0,889.3 770.7,889.3 771.0,889.3 772.0,889.3 773.0,889.2 774.0,889.2 775.0,889.2 776.0,889.1 777.0,889.1 778.0,889.1 779.0,889.1 780.0,889.0 781.0,889.0 782.0,889.0 783.0,889.0 784.0,889.0 785.0,888.9 786.0,888.9 787.0,888.9 788.0,888.9 789.0,888.9 790.0,888.9 791.0,888.9 792.0,888.8 793.0,888.8 794.0,888.8 795.0,888.8 796.0,888.8 797.0,888.8 798.0,888.8 799.0,888.8 800.0,888.8 801.0,888.8 802.0,888.8 803.0,888.8 804.0,888.9 805.0,889.0 806.0,889.1 807.0,889.2 808.0,889.3 809.0,889.4 810.0,889.6 811.0,889.7 812.0,889.8 813.0,890.0 814.0,890.1 815.0,890.2 816.0,890.3 817.0,890.4 818.0,890.5 819.0,890.5 820.0,890.6 821.0,890.6 821.2,890.6 822.0,890.6 823.0,890.6 824.0,890.5 825.0,890.5 826.0,890.4 827.0,890.3 828.0,890.2 829.0,890.1 830.0,890.0 831.0,889.9 832.0,889.7 833.0,889.6 834.0,889.4 835.0,889.2 836.0,889.1 837.0,888.9 838.0,888.7 839.0,888.5 840.0,888.3 841.0,888.1 842.0,888.0 843.0,887.8 844.0,887.6 845.0,887.4 846.0,887.2 847.0,887.0 848.0,886.9 849.0,886.7 850.0,886.5 851.0,886.4 851.5,886.3 852.0,886.2 853.0,886.1 854.0,885.9 855.0,885.7 856.0,885.6 857.0,885.4 858.0,885.2 859.0,885.0 860.0,884.8 861.0,884.7 862.0,884.5 863.0,884.3 864.0,884.1 865.0,883.9 866.0,883.7 867.0,883.6 868.0,883.4 869.0,883.2 870.0,883.0 871.0,882.9 872.0,882.7 873.0,882.6 874.0,882.5 875.0,882.3 876.0,882.2 877.0,882.1 878.0,882.0 879.0,881.9 880.0,881.9 881.0,881.8 881.8,881.8 882.0,881.8 883.0,881.8 884.0,881.7 885.0,881.7 886.0,881.7 887.0,881.7 888.0,881.6 889.0,881.6 890.0,881.6 891.0,881.6 892.0,881.5 893.0,881.5 894.0,881.5 895.0,881.5 896.0,881.5 897.0,881.4 898.0,881.4 899.0,881.4 900.0,881.4 901.0,881.4 902.0,881.4 903.0,881.4 904.0,881.3 905.0,881.3 906.0,881.3 907.0,881.3 908.0,881.3 909.0,881.3 910.0,881.3 911.0,881.3 912.0,881.3 912.1,881.3 913.0,881.3 914.0,881.4 915.0,881.6 916.0,881.8 917.0,882.0 918.0,882.3 919.0,882.6 920.0,882.9 921.0,883.2 922.0,883.5 923.0,883.7 924.0,884.0 925.0,884.1 926.0,884.2 927.0,884.3 927.2,884.3 928.0,884.3 929.0,884.2 930.0,884.0 931.0,883.8 932.0,883.6 933.0,883.3 934.0,883.0 935.0,882.6 936.0,882.3 937.0,881.9 938.0,881.6 939.0,881.2 940.0,880.9 941.0,880.6 942.0,880.3 943.0,880.1 944.0,880.0 945.0,879.8 946.0,879.8 946.1,879.8 947.0,879.8 948.0,879.9 949.0,880.0 950.0,880.2 951.0,880.4 952.0,880.6 953.0,880.9 954.0,881.1 955.0,881.4 956.0,881.6 957.0,881.8 958.0,882.0 959.0,882.2 960.0,882.3 961.0,882.4 962.0,882.5 963.0,882.6 964.0,882.7 965.0,882.8 966.0,882.9 967.0,883.0 968.0,883.1 969.0,883.1 970.0,883.2 971.0,883.3 972.0,883.4 973.0,883.4 974.0,883.5 975.0,883.6 976.0,883.6 977.0,883.7 978.0,883.7 979.0,883.7 980.0,883.8 981.0,883.8 982.0,883.8 982.8,883.8 983.0,883.8 984.0,883.8 985.0,883.8 986.0,883.8 987.0,883.8 988.0,883.7 989.0,883.7 990.0,883.7 991.0,883.6 992.0,883.6 993.0,883.6 994.0,883.5 995.0,883.5 996.0,883.4 997.0,883.4 998.0,883.3 999.0,883.2 1000.0,883.2 1001.0,883.1 1002.0,883.1 1003.0,883.0 1004.0,882.9 1005.0,882.9 1006.0,882.8 1007.0,882.7 1008.0,882.6 1009.0,882.6 1010.0,882.5 1011.0,882.4 1012.0,882.3 1013.0,882.3 1014.0,882.2 1015.0,882.1 1016.0,882.1 1017.0,882.0 1018.0,881.9 1019.0,881.8 1020.0,881.8 1021.0,881.7 1022.0,881.6 1023.0,881.6 1024.0,881.5 1025.0,881.5 1026.0,881.4 1027.0,881.4 1028.0,881.3 1028.2,881.3 1029.0,881.3 1030.0,881.2 1031.0,881.2 1032.0,881.1 1033.0,881.1 1034.0,881.0 1035.0,881.0 1036.0,880.9 1037.0,880.9 1038.0,880.8 1039.0,880.8 1040.0,880.7 1041.0,880.7 1042.0,880.6 1043.0,880.6 1044.0,880.5 1045.0,880.5 1046.0,880.4 1047.0,880.4 1048.0,880.3 1049.0,880.3 1050.0,880.2 1051.0,880.2 1052.0,880.1 1053.0,880.1 1054.0,880.0 1055.0,880.0 1056.0,879.9 1057.0,879.9 1058.0,879.8 1059.0,879.8 1060.0,879.7 1061.0,879.7 1062.0,879.7 1063.0,879.6 1064.0,879.6 1065.0,879.6 1066.0,879.5 1067.0,879.5 1068.0,879.5 1069.0,879.4 1070.0,879.4 1071.0,879.4 1072.0,879.3 1073.0,879.3 1074.0,879.3 1075.0,879.3 1076.0,879.2 1077.0,879.2 1078.0,879.2 1078.7,879.2 1079.0,879.2 1080.0,879.2 1081.0,879.2 1082.0,879.2 1083.0,879.1 1084.0,879.1 1085.0,879.1 1086.0,879.1 1087.0,879.1 1088.0,879.1 1089.0,879.1 1090.0,879.1 1091.0,879.1 1092.0,879.1 1093.0,879.1 1094.0,879.1 1095.0,879.1 1096.0,879.0 1097.0,879.0 1098.0,879.0 1099.0,879.0 1100.0,879.0 1101.0,879.0 1102.0,879.0 1103.0,878.9 1104.0,878.9 1105.0,878.9 1106.0,878.9 1107.0,878.9 1108.0,878.8 1109.0,878.8 1110.0,878.8 1111.0,878.7 1112.0,878.7 1113.0,878.7 1114.0,878.6 1115.0,878.6 1116.0,878.5 1117.0,878.5 1118.0,878.5 1119.0,878.4 1120.0,878.4 1121.0,878.3 1122.0,878.3 1123.0,878.2 1124.0,878.2 1125.0,878.1 1126.0,878.1 1127.0,878.0 1128.0,878.0 1129.0,878.0 1130.0,877.9 1131.0,877.9 1132.0,877.8 1133.0,877.8 1134.0,877.7 1135.0,877.7 1136.0,877.6 1137.0,877.6 1138.0,877.5 1139.0,877.5 1140.0,877.4 1141.0,877.4 1142.0,877.3 1143.0,877.3 1144.0,877.3 1145.0,877.2 1146.0,877.2 1147.0,877.1 1148.0,877.1 1149.0,877.1 1150.0,877.0 1150.5,877.0 1151.0,877.0 1152.0,876.9 1153.0,876.9 1154.0,876.9 1155.0,876.9 1156.0,876.8 1157.0,876.8 1158.0,876.8 1159.0,876.8 1160.0,876.7 1161.0,876.7 1162.0,876.7 1163.0,876.7 1164.0,876.6 1165.0,876.6 1166.0,876.6 1167.0,876.6 1168.0,876.5 1169.0,876.5 1170.0,876.5 1171.0,876.5 1172.0,876.4 1173.0,876.4 1174.0,876.4 1175.0,876.4 1176.0,876.3 1177.0,876.3 1178.0,876.3 1179.0,876.2 1180.0,876.2 1181.0,876.2 1182.0,876.1 1183.0,876.1 1184.0,876.0 1185.0,876.0 1186.0,875.9 1187.0,875.9 1188.0,875.8 1188.4,875.8 1189.0,875.8 1190.0,875.7 1191.0,875.6 1192.0,875.4 1193.0,875.3 1194.0,875.1 1195.0,874.9 1196.0,874.7 1197.0,874.5 1198.0,874.3 1199.0,874.1 1200.0,873.9 1201.0,873.6 1202.0,873.4 1203.0,873.2 1204.0,872.9 1205.0,872.7 1206.0,872.5 1207.0,872.3 1208.0,872.1 1209.0,871.9 1210.0,871.7 1211.0,871.5 1212.0,871.4 1213.0,871.3 1213.6,871.2 1214.0,871.2 1215.0,871.1 1216.0,871.0 1217.0,870.9 1218.0,870.9 1219.0,870.8 1220.0,870.7 1221.0,870.7 1222.0,870.7 1223.0,870.6 1224.0,870.6 1225.0,870.5 1226.0,870.5 1227.0,870.5 1228.0,870.4 1229.0,870.4 1230.0,870.3 1231.0,870.3 1232.0,870.2 1233.0,870.1 1234.0,870.0 1235.0,870.0 1236.0,869.9 1237.0,869.7 1238.0,869.6 1238.9,869.5 1239.0,869.5 1240.0,869.2 1241.0,868.7 1242.0,868.0 1243.0,867.1 1244.0,866.2 1245.0,865.1 1246.0,864.0 1247.0,862.8 1248.0,861.7 1249.0,860.6 1250.0,859.4 1251.0,858.0 1252.0,856.5 1253.0,854.9 1254.0,853.4 1255.0,852.1 1256.0,850.9 1256.5,850.5 1257.0,850.1 1258.0,849.3 1259.0,848.5 1260.0,847.8 1261.0,847.1 1262.0,846.5 1263.0,846.0 1264.0,845.7 1265.0,845.5 1265.4,845.5 1266.0,845.7 1267.0,846.5 1268.0,847.9 1269.0,849.6 1270.0,851.4 1271.0,852.9 1272.0,854.0 1272.9,854.3 1273.0,854.3 1274.0,854.3 1275.0,854.3 1276.0,854.3 1277.0,854.3 1278.0,854.3 1279.0,854.3 1280.0,854.3 1281.0,854.3 1282.0,854.3 1283.0,854.3 1284.0,854.3 1285.0,854.3 1286.0,854.3 1287.0,854.3 1288.0,854.3 1289.0,854.3 1289.3,854.3 1290.0,854.3 1291.0,854.3 1292.0,854.2 1293.0,854.2 1294.0,854.1 1295.0,854.0 1296.0,853.9 1297.0,853.8 1298.0,853.7 1299.0,853.5 1300.0,853.4 1301.0,853.2 1302.0,853.1 1303.0,852.9 1304.0,852.7 1305.0,852.5 1306.0,852.3 1307.0,852.1 1308.0,851.9 1309.0,851.7 1310.0,851.5 1311.0,851.3 1312.0,851.1 1313.0,850.8 1314.0,850.6 1314.6,850.5 1315.0,850.4 1316.0,850.2 1317.0,849.9 1318.0,849.6 1319.0,849.3 1320.0,849.0 1321.0,848.6 1322.0,848.3 1323.0,847.9 1324.0,847.5 1325.0,847.1 1326.0,846.7 1327.0,846.3 1328.0,845.9 1329.0,845.5 1330.0,845.1 1331.0,844.7 1332.0,844.3 1333.0,843.9 1334.0,843.5 1335.0,843.2 1336.0,842.8 1337.0,842.5 1338.0,842.2 1339.0,841.9 1339.8,841.7 1340.0,841.6 1341.0,841.4 1342.0,841.2 1343.0,840.9 1344.0,840.7 1345.0,840.5 1346.0,840.2 1347.0,840.0 1348.0,839.8 1349.0,839.6 1350.0,839.4 1351.0,839.2 1352.0,839.0 1353.0,838.8 1354.0,838.7 1355.0,838.5 1356.0,838.3 1357.0,838.1 1358.0,837.9 1359.0,837.7 1360.0,837.6 1361.0,837.4 1362.0,837.2 1363.0,837.0 1364.0,836.8 1365.0,836.6 1365.1,836.6 1366.0,836.4 1367.0,836.3 1368.0,836.1 1369.0,835.9 1370.0,835.8 1371.0,835.6 1372.0,835.4 1373.0,835.3 1374.0,835.1 1375.0,835.0 1376.0,834.8 1377.0,834.7 1378.0,834.5 1379.0,834.3 1380.0,834.1 1381.0,833.9 1382.0,833.7 1383.0,833.5 1384.0,833.2 1385.0,833.0 1385.3,832.9 1386.0,832.7 1387.0,832.4 1388.0,832.0 1389.0,831.6 1390.0,831.1 1391.0,830.6 1392.0,830.1 1393.0,829.6 1394.0,829.0 1395.0,828.5 1396.0,827.9 1397.0,827.3 1398.0,826.7 1399.0,826.2 1400.0,825.6 1401.0,825.1 1402.0,824.5 1403.0,824.0 1404.0,823.5 1405.0,823.0 1406.0,822.6 1407.0,822.1 1408.0,821.7 1409.0,821.3 1410.0,820.8 1411.0,820.4 1412.0,819.9 1413.0,819.4 1414.0,818.9 1415.0,818.3 1416.0,817.8 1417.0,817.1 1418.0,816.5 1418.1,816.4 1419.0,815.7 1420.0,814.9 1421.0,814.1 1422.0,813.1 1423.0,812.1 1424.0,811.1 1425.0,810.0 1426.0,808.8 1427.0,807.6 1428.0,806.3 1429.0,805.0 1430.0,803.6 1430.7,802.6 1431.0,802.2 1432.0,800.6 1433.0,799.0 1434.0,797.2 1435.0,795.4 1436.0,793.4 1437.0,791.4 1438.0,789.3 1439.0,787.1 1440.0,784.9 1441.0,782.6 1442.0,780.3 1443.0,778.0 1443.3,777.3 1444.0,775.7 1445.0,773.3 1446.0,770.8 1447.0,768.3 1448.0,765.7 1449.0,763.0 1450.0,760.2 1451.0,757.2 1451.5,755.7 1452.0,754.1 1452.5,752.5 1453.0,750.9 1453.4,749.5 1453.5,749.2 1454.0,747.4 1454.5,745.6 1455.0,743.8 1455.5,741.8 1456.0,739.9 1456.5,737.9 1457.0,735.8 1457.5,733.7 1458.0,731.5 1458.5,729.3 1459.0,727.0 1459.5,724.7 1460.0,722.4 1460.5,720.0 1461.0,717.5 1461.5,715.0 1462.0,712.5 1462.5,709.9 1463.0,707.3 1463.5,704.7 1464.0,702.0 1464.5,699.3 1465.0,696.5 1465.5,693.6 1466.0,690.6 1466.5,687.5 1467.0,684.2 1467.5,680.9 1468.0,677.4 1468.5,673.9 1469.0,670.2 1469.5,666.6 1470.0,662.9 1470.5,659.2 1471.0,655.4 1471.5,651.7 1472.0,648.0 1472.5,644.3 1473.0,640.6 1473.5,637.0 1474.0,633.5 1474.5,630.0 1475.0,626.6 1475.5,623.3 1476.0,619.9 1476.5,616.6 1477.0,613.3 1477.5,610.1 1478.0,606.8 1478.5,603.5 1479.0,600.2 1479.5,596.9 1480.0,593.6 1480.5,590.3 1481.0,586.9 1481.5,583.5 1482.0,580.0 1482.5,576.5 1483.0,573.0 1483.5,569.5 1484.0,566.0 1484.5,562.4 1485.0,558.9 1485.5,555.3 1486.0,551.7 1486.5,548.0 1487.0,544.3 1487.5,540.6 1488.0,536.8 1488.5,532.9 1489.0,529.0 1489.5,525.0 1490.0,520.9 1490.5,516.5 1491.0,511.9 1491.5,507.3 1492.0,502.5 1492.5,497.8 1493.0,493.1 1493.5,488.5 1494.0,484.0 1494.5,479.7 1495.0,475.7 1495.5,472.0 1496.0,468.4 1496.5,464.8 1497.0,461.2 1497.5,457.8 1498.0,454.4 1498.5,451.3 1499.0,448.5 1499.5,445.9 1500.0,443.7 1500.5,442.0 1501.0,440.5 1502.0,437.6 1503.0,435.1 1504.0,433.4 1505.0,432.5 1505.2,432.5 1506.0,432.8 1507.0,434.2 1508.0,436.3 1509.0,438.9 1510.0,442.0 1510.5,444.1 1511.0,447.1 1511.5,450.7 1512.0,454.8 1512.5,459.2 1513.0,463.7 1513.5,468.0 1514.0,472.0 1514.5,475.8 1515.0,479.6 1515.5,483.4 1516.0,487.3 1516.5,491.1 1517.0,494.9 1517.5,498.7 1518.0,502.5 1518.5,506.3 1519.0,510.0 1519.5,513.7 1520.0,517.4 1520.5,521.1 1521.0,524.7 1521.5,528.4 1522.0,532.0 1522.5,535.7 1523.0,539.3 1523.5,542.8 1524.0,546.3 1524.5,549.8 1525.0,553.3 1525.5,556.7 1526.0,560.0 1526.5,563.3 1527.0,566.7 1527.5,570.1 1528.0,573.5 1528.5,577.0 1529.0,580.3 1529.5,583.7 1530.0,587.0 1530.5,590.2 1531.0,593.4 1531.5,596.5 1532.0,599.4 1532.5,602.2 1533.0,604.9 1533.5,607.4 1534.0,609.7 1534.3,611.0 1534.5,611.8 1535.0,613.8 1535.5,615.8 1536.0,617.6 1536.5,619.3 1537.0,621.0 1537.5,622.6 1538.0,624.1 1538.5,625.7 1539.5,628.6 1540.5,631.4 1541.5,634.2 1542.5,637.1 1543.5,640.2 1544.0,641.8 1544.5,643.5 1545.0,645.2 1545.5,646.9 1546.0,648.7 1546.5,650.5 1547.0,652.3 1547.5,654.1 1548.0,655.9 1548.5,657.6 1549.0,659.3 1549.5,661.0 1550.0,662.6 1550.5,664.2 1551.0,665.6 1551.5,667.0 1552.0,668.4 1553.0,671.3 1554.0,674.2 1555.0,677.0 1556.0,679.3 1557.0,680.9 1558.0,681.7 1558.2,681.7 1559.0,681.6 1560.0,681.2 1561.0,680.6 1562.0,679.8 1563.0,678.9 1564.0,677.9 1565.0,676.9 1566.0,676.0 1567.0,675.0 1568.0,673.9 1569.0,672.7 1570.0,671.4 1571.0,670.2 1572.0,669.0 1573.0,668.0 1574.0,667.1 1575.0,666.4 1576.0,665.7 1577.0,665.1 1578.0,664.4 1579.0,663.7 1580.0,662.8 1581.0,661.8 1581.7,661.0 1582.0,660.6 1583.0,658.9 1584.0,656.8 1585.0,654.3 1586.0,651.5 1587.0,648.4 1587.5,646.7 1588.0,645.0 1588.5,643.0 1589.0,640.7 1589.5,638.1 1590.0,635.3 1590.5,632.5 1591.0,630.0 1591.5,627.5 1592.0,625.0 1592.5,623.2 1593.0,621.5 1593.5,619.8 1594.0,618.0 1594.5,616.2 1595.0,614.5 1595.5,612.8 1596.0,611.0 1596.5,608.0 1597.0,605.0 1597.5,602.0 1598.0,599.0 1598.5,596.0 1599.0,593.0 1599.5,590.0 1600.0,587.0 1600.5,584.0 1601.0,581.0 1601.5,578.0 1602.0,575.0 1602.5,573.6 1603.0,572.2 1604.0,569.3 1605.0,566.5 1606.0,563.7 1607.0,560.8 1607.5,559.4 1608.0,558.0 1608.5,554.9 1609.0,551.8 1609.5,548.7 1610.0,545.6 1610.5,542.5 1611.0,539.3 1611.5,536.2 1612.0,533.1 1612.5,530.0 1613.0,526.9 1613.5,523.8 1614.0,520.1 1614.5,516.4 1615.0,512.7 1615.5,509.0 1616.0,505.3 1616.5,501.6 1617.0,497.9 1617.5,494.2 1618.0,490.5 1618.5,486.8 1619.0,483.1 1619.5,479.4 1620.0,475.7 1620.5,472.0 1621.0,467.7 1621.5,463.4 1622.0,459.1 1622.5,454.8 1623.0,450.5 1623.5,446.2 1624.0,442.0 1624.5,437.7 1625.0,433.4 1625.5,429.1 1626.0,424.8 1626.5,420.5 1627.0,416.4 1627.5,412.4 1628.0,408.4 1628.5,404.3 1629.0,400.2 1629.5,396.2 1630.0,392.1 1630.5,388.1 1631.0,384.1 1631.5,380.0 1632.0,376.6 1632.5,373.2 1633.0,369.9 1633.5,366.5 1634.0,363.1 1634.5,359.8 1635.0,356.4 1635.5,353.0 1636.0,346.9 1636.2,344.5 1636.4,342.1 1636.6,339.6 1636.8,337.2 1637.0,334.8 1637.2,332.3 1637.4,329.9 1637.6,327.5 1637.8,325.0 1638.0,322.6 1638.0,322.6 1638.5,318.5 1639.0,314.4 1639.5,310.3 1640.0,306.2 1640.5,302.1 1641.0,298.1 1641.5,294.0 1642.0,289.9 1642.5,285.8 1643.0,281.7 1643.0,281.7 1643.5,275.9 1643.7,273.5 1643.9,271.2 1644.1,268.9 1644.3,266.5 1644.5,264.2 1644.7,261.9 1644.9,259.6 1645.1,257.2 1645.3,254.9 1645.5,252.6 1645.7,250.2 1645.9,247.9 1646.4,242.1 1646.5,240.9 1646.9,240.0 1647.4,238.8 1647.9,237.6 1648.9,235.3 1649.9,232.9 1650.9,230.6 1651.9,228.2 1652.0,228.0 1652.9,226.6 1653.9,225.0 1654.9,223.4 1655.8,222.0 1655.9,221.4 1656.4,218.2 1656.9,215.1 1657.4,211.9 1657.9,208.8 1658.4,205.6 1658.5,205.0 1658.9,201.1 1659.1,199.2 1659.3,197.2 1659.5,195.3 1659.7,193.4 1659.9,191.4 1660.1,189.5 1660.3,187.5 1660.5,185.6 1660.7,183.6 1660.9,181.7 1661.4,176.9 1661.9,172.0 1661.9,172.0 1662.9,174.6 1663.9,177.2 1664.4,178.5 1664.9,179.7 1665.0,180.0 1665.4,184.0 1665.9,189.0 1666.4,194.0 1666.6,196.0 1666.8,198.0 1667.0,200.0 1667.2,202.0 1667.4,204.0 1667.5,205.0 1667.6,206.9 1667.8,210.8 1668.0,214.7 1668.2,218.6 1668.4,222.5 1668.6,226.4 1668.8,230.3 1669.0,234.2 1669.2,238.1 1669.4,242.0 1669.6,245.9 1669.8,249.8 1670.0,253.7 1670.2,257.6 1670.4,261.5 1670.6,265.4 1670.8,269.3 1671.0,273.2 1671.3,279.0 1671.5,277.3 1672.5,269.0 1673.0,264.9 1673.5,260.7 1673.7,259.1 1673.9,257.4 1674.1,255.8 1674.3,254.1 1674.5,252.4 1674.7,250.8 1674.9,249.1 1675.1,247.5 1675.6,243.3 1676.0,240.0 1676.1,239.4 1676.6,236.7 1677.1,233.9 1677.6,231.1 1678.1,228.3 1678.6,225.6 1679.1,222.8 1679.6,220.0 1680.1,217.2 1680.5,215.0 1681.1,236.9 1681.3,244.1 1681.5,251.4 1681.7,258.7 1681.9,266.0 1682.1,273.3 1682.3,280.6 1682.5,287.9 1682.7,295.1 1682.9,302.4 1683.1,309.7 1683.3,317.0 1683.3,317.0 1683.5,323.4 1683.7,329.7 1683.9,336.1 1684.1,342.5 1684.3,348.9 1684.5,355.2 1684.7,361.6 1684.9,368.0 1685.1,374.3 1685.3,380.7 1685.5,387.1 1685.7,393.4 1685.9,399.8 1686.0,403.0 1686.1,406.4 1686.3,413.3 1686.5,420.2 1686.7,427.1 1686.9,434.0 1687.1,440.8 1687.3,447.7 1687.5,454.6 1687.7,461.5 1687.9,468.4 1688.1,475.2 1688.3,482.1 1688.5,489.0 1688.5,489.0 1688.7,495.6 1688.9,502.2 1689.1,508.8 1689.3,515.4 1689.5,522.1 1689.7,528.7 1689.9,535.3 1690.1,541.9 1690.3,548.5 1690.5,555.1 1690.7,561.7 1690.9,568.3 1691.1,575.0 1691.3,581.6 1691.5,588.2 1691.7,594.8 1691.9,601.4 1692.1,608.0 1692.3,614.6 1692.5,621.2 1692.7,627.8 1692.9,634.5 1693.1,641.1 1693.3,647.7 1693.5,654.3 1693.7,660.9 1693.9,667.5 1694.1,674.1 1694.3,680.7 1694.5,687.4 1694.7,694.0 1694.9,700.6 1695.1,707.2 1695.3,713.8 1695.5,720.4 1695.7,727.0 1695.9,733.6 1696.1,740.2 1696.3,746.9 1696.5,753.5 1696.7,760.1 1696.9,766.7 1697.0,770.0 1697.1,774.4 1697.3,783.2 1697.5,792.0 1697.7,800.8 1697.9,809.6 1698.1,818.4 1698.3,827.2 1698.5,836.0"/>
<path class="cv" stroke="#00f" d="M300.0,912.0 301.0,912.1 302.0,912.3 303.0,912.4 304.0,912.6 305.0,912.8 306.0,912.9 307.0,913.1 308.0,913.2 309.0,913.4 310.0,913.6 311.0,913.7 312.0,913.9 313.0,914.1 314.0,914.2 315.0,914.4 316.0,914.6 317.0,914.8 318.0,915.0 319.0,915.1 320.0,915.3 321.0,915.5 322.0,915.7 323.0,915.9 324.0,916.1 325.0,916.3 325.2,916.3 326.0,916.5 327.0,916.7 328.0,916.9 329.0,917.1 330.0,917.4 331.0,917.6 332.0,917.9 333.0,918.2 334.0,918.4 335.0,918.7 336.0,918.9 337.0,919.1 338.0,919.3 339.0,919.5 340.0,919.7 341.0,919.9 342.0,920.0 342.9,920.1 343.0,920.1 344.0,920.2 345.0,920.3 346.0,920.4 347.0,920.5 348.0,920.6 349.0,920.6 350.0,920.7 351.0,920.8 352.0,920.9 353.0,920.9 354.0,921.0 355.0,921.1 356.0,921.1 357.0,921.2 358.0,921.2 359.0,921.3 360.0,921.3 361.0,921.3 362.0,921.4 363.0,921.4 364.0,921.4 365.0,921.4 365.6,921.4 366.0,921.4 367.0,921.4 368.0,921.3 369.0,921.3 370.0,921.2 371.0,921.2 372.0,921.1 373.0,920.9 374.0,920.8 375.0,920.7 376.0,920.5 377.0,920.4 378.0,920.2 379.0,920.0 380.0,919.8 381.0,919.7 382.0,919.4 383.0,919.2 384.0,919.0 385.0,918.8 386.0,918.6 387.0,918.3 388.0,918.1 389.0,917.9 390.0,917.6 391.0,917.4 392.0,917.2 393.0,916.9 394.0,916.7 395.0,916.4 396.0,916.2 397.0,916.0 398.0,915.8 399.0,915.5 400.0,915.3 401.0,915.1 402.0,914.9 403.0,914.7 404.0,914.4 405.0,914.2 406.0,913.9 407.0,913.6 408.0,913.4 409.0,913.1 410.0,912.8 411.0,912.5 412.0,912.2 413.0,911.9 414.0,911.6 415.0,911.3 416.0,911.0 417.0,910.7 418.0,910.4 419.0,910.1 420.0,909.9 421.0,909.6 422.0,909.3 423.0,909.1 424.0,908.8 425.0,908.6 426.0,908.4 427.0,908.2 428.0,908.0 429.0,907.8 430.0,907.7 431.0,907.5 431.3,907.5 432.0,907.4 433.0,907.3 434.0,907.2 435.0,907.1 436.0,907.0 437.0,906.8 438.0,906.7 439.0,906.6 440.0,906.5 441.0,906.4 442.0,906.3 443.0,906.2 444.0,906.1 445.0,906.0 446.0,905.9 447.0,905.8 448.0,905.7 449.0,905.7 450.0,905.6 451.0,905.5 452.0,905.4 453.0,905.4 454.0,905.3 455.0,905.3 456.0,905.2 457.0,905.2 458.0,905.1 459.0,905.1 460.0,905.1 461.0,905.0 462.0,905.0 463.0,905.0 464.0,905.0 464.1,905.0 465.0,905.0 466.0,905.0 467.0,905.0 468.0,905.0 469.0,905.0 470.0,905.0 471.0,905.0 472.0,905.0 473.0,905.0 474.0,905.0 475.0,905.0 476.0,905.0 477.0,905.0 478.0,905.0 479.0,905.0 480.0,905.0 481.0,905.0 482.0,905.0 483.0,905.0 484.0,905.0 485.0,905.0 486.0,905.0 487.0,905.0 488.0,905.0 489.0,905.0 489.3,905.0 490.0,905.0 491.0,905.1 492.0,905.3 493.0,905.6 494.0,905.9 495.0,906.2 496.0,906.6 497.0,907.0 498.0,907.4 499.0,907.9 500.0,908.3 501.0,908.7 502.0,909.0 503.0,909.3 504.0,909.6 505.0,909.8 506.0,910.0 507.0,910.0 508.0,910.0 509.0,910.0 510.0,909.9 511.0,909.9 512.0,909.8 513.0,909.7 514.0,909.7 515.0,909.6 516.0,909.5 517.0,909.4 518.0,909.3 519.0,909.2 520.0,909.1 521.0,909.1 522.0,909.0 523.0,908.9 524.0,908.9 525.0,908.8 526.0,908.8 527.0,908.8 527.2,908.8 528.0,908.8 529.0,908.9 530.0,909.0 531.0,909.1 532.0,909.2 533.0,909.4 534.0,909.6 535.0,909.9 536.0,910.1 537.0,910.4 538.0,910.7 539.0,911.0 540.0,911.3 541.0,911.7 542.0,912.0 543.0,912.3 544.0,912.7 545.0,913.0 546.0,913.3 547.0,913.6 548.0,913.9 549.0,914.2 550.0,914.5 551.0,914.8 552.0,915.0 552.5,915.1 553.0,915.2 554.0,915.4 555.0,915.6 556.0,915.8 557.0,916.0 558.0,916.2 559.0,916.4 560.0,916.6 561.0,916.8 562.0,917.0 563.0,917.2 564.0,917.4 565.0,917.6 566.0,917.8 567.0,918.0 568.0,918.2 569.0,918.3 570.0,918.5 571.0,918.7 572.0,918.9 573.0,919.1 574.0,919.2 575.0,919.4 576.0,919.6 577.0,919.8 578.0,919.9 579.0,920.1 580.0,920.3 581.0,920.5 582.0,920.6 583.0,920.8 584.0,921.0 585.0,921.1 586.0,921.3 587.0,921.4 588.0,921.6 589.0,921.8 590.0,921.9 591.0,922.1 592.0,922.2 593.0,922.4 594.0,922.6 595.0,922.7 596.0,922.9 597.0,923.0 598.0,923.2 599.0,923.3 600.0,923.5 601.0,923.6 602.0,923.8 603.0,923.9 604.0,924.0 605.0,924.2 606.0,924.3 607.0,924.5 608.0,924.6 609.0,924.7 610.0,924.9 611.0,925.0 612.0,925.1 613.0,925.3 614.0,925.4 615.0,925.5 616.0,925.7 617.0,925.8 618.0,925.9 619.0,926.1 620.0,926.2 621.0,926.3 622.0,926.4 623.0,926.5 624.0,926.7 625.0,926.8 626.0,926.9 627.0,927.0 628.0,927.2 629.0,927.3 630.0,927.4 631.0,927.5 632.0,927.6 633.0,927.7 634.0,927.9 635.0,928.0 636.0,928.1 637.0,928.2 638.0,928.3 639.0,928.5 640.0,928.6 641.0,928.7 642.0,928.8 643.0,928.9 644.0,929.0 645.0,929.2 646.0,929.3 647.0,929.4 648.0,929.5 649.0,929.6 650.0,929.8 651.0,929.9 652.0,930.0 653.0,930.1 653.5,930.2 654.0,930.3 655.0,930.4 656.0,930.5 657.0,930.6 658.0,930.7 659.0,930.9 660.0,931.0 661.0,931.1 662.0,931.2 663.0,931.3 664.0,931.4 665.0,931.5 666.0,931.6 667.0,931.7 668.0,931.8 669.0,931.9 670.0,932.0 671.0,932.1 672.0,932.2 673.0,932.3 674.0,932.4 675.0,932.5 676.0,932.6 677.0,932.7 678.0,932.9 679.0,933.0 680.0,933.1 681.0,933.2 682.0,933.3 683.0,933.4 684.0,933.5 685.0,933.6 686.0,933.8 687.0,933.9 688.0,934.0 689.0,934.1 690.0,934.3 691.0,934.4 692.0,934.5 693.0,934.7 694.0,934.8 695.0,935.0 696.0,935.1 697.0,935.3 698.0,935.4 699.0,935.6 700.0,935.8 701.0,936.0 702.0,936.1 703.0,936.3 704.0,936.5 705.0,936.7 706.0,937.0 707.0,937.2 708.0,937.5 709.0,937.9 710.0,938.2 711.0,938.6 712.0,938.9 713.0,939.3 714.0,939.7 715.0,940.1 716.0,940.4 717.0,940.8 718.0,941.2 719.0,941.5 720.0,941.8 721.0,942.1 722.0,942.4 723.0,942.6 724.0,942.8 724.1,942.8 725.0,943.0 726.0,943.1 727.0,943.3 728.0,943.4 729.0,943.5 730.0,943.6 730.3,943.6 731.0,943.6 732.0,943.5 733.0,943.5 734.0,943.4 735.0,943.2 736.0,943.1 737.0,942.9 738.0,942.7 739.0,942.5 740.0,942.3 741.0,942.1 742.0,941.8 743.0,941.6 744.0,941.4 745.0,941.2 745.4,941.1 746.0,941.0 747.0,940.8 748.0,940.5 749.0,940.2 750.0,940.0 751.0,939.7 752.0,939.4 753.0,939.1 754.0,938.8 755.0,938.4 756.0,938.1 757.0,937.8 758.0,937.5 759.0,937.2 760.0,936.8 761.0,936.5 762.0,936.2 763.0,935.9 764.0,935.7 765.0,935.4 766.0,935.2 767.0,934.9 768.0,934.7 769.0,934.6 770.0,934.4 770.7,934.3 771.0,934.3 772.0,934.1 773.0,934.0 774.0,933.9 775.0,933.8 776.0,933.7 777.0,933.6 778.0,933.5 779.0,933.4 780.0,933.4 781.0,933.3 782.0,933.2 783.0,933.1 784.0,933.1 785.0,933.0 786.0,932.9 787.0,932.9 788.0,932.8 789.0,932.7 790.0,932.7 791.0,932.6 792.0,932.6 793.0,932.5 794.0,932.4 795.0,932.4 796.0,932.3 797.0,932.3 798.0,932.2 799.0,932.1 800.0,932.1 801.0,932.0 802.0,932.0 803.0,931.9 804.0,931.8 805.0,931.8 806.0,931.7 807.0,931.6 808.0,931.5 809.0,931.4 810.0,931.4 811.0,931.3 812.0,931.2 813.0,931.1 813.6,931.0 814.0,931.0 815.0,930.8 816.0,930.7 817.0,930.6 818.0,930.5 819.0,930.3 820.0,930.2 821.0,930.0 822.0,929.8 823.0,929.7 824.0,929.5 825.0,929.3 826.0,929.2 827.0,929.0 828.0,928.8 829.0,928.6 830.0,928.4 831.0,928.2 832.0,928.0 833.0,927.8 834.0,927.7 835.0,927.5 836.0,927.3 837.0,927.1 838.0,926.9 839.0,926.7 840.0,926.5 841.0,926.3 842.0,926.2 843.0,926.0 844.0,925.8 845.0,925.6 846.0,925.5 847.0,925.3 848.0,925.2 849.0,925.0 850.0,924.9 851.0,924.8 851.5,924.7 852.0,924.6 853.0,924.5 854.0,924.4 855.0,924.3 856.0,924.1 857.0,924.0 858.0,923.9 859.0,923.7 860.0,923.6 861.0,923.5 862.0,923.4 863.0,923.2 864.0,923.1 865.0,923.0 866.0,922.9 867.0,922.8 868.0,922.7 869.0,922.5 870.0,922.4 871.0,922.3 872.0,922.3 873.0,922.2 874.0,922.1 875.0,922.0 876.0,921.9 877.0,921.9 878.0,921.8 879.0,921.8 880.0,921.7 881.0,921.7 881.8,921.7 882.0,921.7 883.0,921.7 884.0,921.7 885.0,921.6 886.0,921.6 887.0,921.6 888.0,921.6 889.0,921.6 890.0,921.6 891.0,921.6 892.0,921.5 893.0,921.5 894.0,921.5 895.0,921.5 896.0,921.5 897.0,921.5 898.0,921.5 899.0,921.5 900.0,921.5 901.0,921.4 902.0,921.4 903.0,921.4 904.0,921.4 905.0,921.4 906.0,921.4 907.0,921.4 908.0,921.4 909.0,921.4 910.0,921.4 911.0,921.4 912.0,921.4 912.1,921.4 913.0,921.4 914.0,921.5 915.0,921.7 916.0,921.9 917.0,922.1 918.0,922.4 919.0,922.7 920.0,923.0 921.0,923.3 922.0,923.7 923.0,924.0 924.0,924.3 925.0,924.5 926.0,924.8 927.0,925.0 928.0,925.1 929.0,925.2 929.7,925.2 930.0,925.2 931.0,925.1 932.0,925.0 933.0,924.8 934.0,924.6 935.0,924.3 936.0,924.0 937.0,923.7 938.0,923.3 939.0,923.0 940.0,922.6 941.0,922.3 942.0,921.9 943.0,921.6 944.0,921.4 945.0,921.2 946.0,921.0 947.0,920.9 947.4,920.9 948.0,920.9 949.0,920.8 950.0,920.8 951.0,920.8 952.0,920.8 953.0,920.8 954.0,920.7 955.0,920.7 956.0,920.7 957.0,920.7 958.0,920.7 959.0,920.7 960.0,920.6 961.0,920.6 962.0,920.6 963.0,920.6 964.0,920.6 965.0,920.6 966.0,920.6 967.0,920.6 968.0,920.6 969.0,920.6 970.0,920.5 971.0,920.5 972.0,920.5 973.0,920.5 974.0,920.5 975.0,920.5 976.0,920.4 977.0,920.4 977.7,920.4 978.0,920.4 979.0,920.4 980.0,920.3 981.0,920.3 982.0,920.3 983.0,920.2 984.0,920.2 985.0,920.1 986.0,920.1 987.0,920.0 988.0,920.0 989.0,919.9 990.0,919.9 991.0,919.8 992.0,919.8 993.0,919.7 994.0,919.6 995.0,919.6 996.0,919.5 997.0,919.4 998.0,919.4 999.0,919.3 1000.0,919.2 1001.0,919.1 1002.0,919.1 1003.0,919.0 1004.0,918.9 1005.0,918.8 1006.0,918.7 1007.0,918.7 1008.0,918.6 1009.0,918.5 1010.0,918.4 1011.0,918.4 1012.0,918.3 1013.0,918.2 1014.0,918.1 1015.0,918.0 1016.0,918.0 1017.0,917.9 1018.0,917.8 1019.0,917.7 1020.0,917.7 1021.0,917.6 1022.0,917.5 1023.0,917.4 1024.0,917.4 1025.0,917.3 1026.0,917.2 1027.0,917.2 1028.0,917.1 1028.2,917.1 1029.0,917.0 1030.0,917.0 1031.0,916.9 1032.0,916.9 1033.0,916.8 1034.0,916.7 1035.0,916.7 1036.0,916.6 1037.0,916.5 1038.0,916.5 1039.0,916.4 1040.0,916.3 1041.0,916.3 1042.0,916.2 1043.0,916.1 1044.0,916.0 1045.0,916.0 1046.0,915.9 1047.0,915.8 1048.0,915.8 1049.0,915.7 1050.0,915.6 1051.0,915.6 1052.0,915.5 1053.0,915.4 1054.0,915.4 1055.0,915.3 1056.0,915.2 1057.0,915.2 1058.0,915.1 1059.0,915.1 1060.0,915.0 1061.0,914.9 1062.0,914.9 1063.0,914.8 1064.0,914.8 1065.0,914.7 1066.0,914.7 1067.0,914.6 1068.0,914.5 1069.0,914.5 1070.0,914.4 1071.0,914.4 1072.0,914.4 1073.0,914.3 1074.0,914.3 1075.0,914.2 1076.0,914.2 1077.0,914.2 1078.0,914.1 1078.7,914.1 1079.0,914.1 1080.0,914.1 1081.0,914.0 1082.0,914.0 1083.0,914.0 1084.0,914.0 1085.0,913.9 1086.0,913.9 1087.0,913.9 1088.0,913.9 1089.0,913.9 1090.0,913.8 1091.0,913.8 1092.0,913.8 1093.0,913.8 1094.0,913.8 1095.0,913.7 1096.0,913.7 1097.0,913.7 1098.0,913.7 1099.0,913.6 1100.0,913.6 1101.0,913.6 1102.0,913.5 1103.0,913.5 1104.0,913.4 1105.0,913.4 1106.0,913.3 1107.0,913.2 1108.0,913.1 1109.0,913.1 1110.0,913.0 1111.0,912.9 1112.0,912.8 1113.0,912.7 1114.0,912.6 1115.0,912.5 1116.0,912.4 1117.0,912.3 1118.0,912.2 1119.0,912.1 1120.0,912.0 1121.0,911.9 1122.0,911.7 1123.0,911.6 1124.0,911.5 1125.0,911.4 1126.0,911.3 1127.0,911.1 1128.0,911.0 1129.0,910.9 1130.0,910.8 1131.0,910.6 1132.0,910.5 1133.0,910.4 1134.0,910.3 1135.0,910.2 1136.0,910.0 1137.0,909.9 1138.0,909.8 1139.0,909.7 1140.0,909.6 1141.0,909.5 1142.0,909.4 1143.0,909.3 1144.0,909.2 1145.0,909.1 1146.0,909.0 1147.0,908.9 1148.0,908.8 1149.0,908.7 1150.0,908.6 1150.5,908.6 1151.0,908.6 1152.0,908.5 1153.0,908.4 1154.0,908.4 1155.0,908.3 1156.0,908.2 1157.0,908.2 1158.0,908.1 1159.0,908.0 1160.0,908.0 1161.0,907.9 1162.0,907.9 1163.0,907.8 1164.0,907.8 1165.0,907.7 1166.0,907.7 1167.0,907.6 1168.0,907.6 1169.0,907.5 1170.0,907.5 1171.0,907.4 1172.0,907.4 1173.0,907.4 1174.0,907.3 1175.0,907.3 1176.0,907.2 1177.0,907.2 1178.0,907.1 1179.0,907.1 1180.0,907.0 1181.0,907.0 1182.0,906.9 1183.0,906.9 1184.0,906.8 1185.0,906.8 1186.0,906.7 1187.0,906.6 1188.0,906.6 1189.0,906.5 1190.0,906.5 1191.0,906.4 1192.0,906.3 1193.0,906.3 1194.0,906.2 1195.0,906.1 1196.0,906.0 1197.0,906.0 1198.0,905.9 1199.0,905.8 1200.0,905.7 1201.0,905.6 1202.0,905.5 1203.0,905.4 1204.0,905.3 1205.0,905.2 1206.0,905.0 1207.0,904.9 1208.0,904.7 1209.0,904.6 1210.0,904.4 1211.0,904.3 1212.0,904.1 1213.0,903.9 1214.0,903.7 1215.0,903.5 1216.0,903.3 1217.0,903.1 1218.0,902.9 1219.0,902.7 1220.0,902.5 1221.0,902.3 1222.0,902.1 1223.0,901.8 1224.0,901.6 1225.0,901.4 1226.0,901.2 1227.0,900.9 1228.0,900.7 1229.0,900.4 1230.0,900.2 1231.0,900.0 1232.0,899.7 1233.0,899.5 1234.0,899.2 1235.0,899.0 1236.0,898.7 1237.0,898.5 1238.0,898.2 1238.9,898.0 1239.0,898.0 1240.0,897.7 1241.0,897.5 1242.0,897.2 1243.0,896.9 1244.0,896.6 1245.0,896.3 1246.0,896.0 1247.0,895.6 1248.0,895.3 1249.0,895.0 1250.0,894.6 1251.0,894.3 1252.0,893.9 1253.0,893.6 1254.0,893.2 1255.0,892.8 1256.0,892.5 1257.0,892.1 1258.0,891.7 1259.0,891.4 1260.0,891.0 1261.0,890.7 1262.0,890.3 1263.0,890.0 1264.0,889.6 1265.0,889.3 1266.0,888.9 1267.0,888.6 1268.0,888.3 1269.0,888.0 1270.0,887.7 1271.0,887.4 1272.0,887.1 1273.0,886.8 1274.0,886.5 1275.0,886.3 1276.0,886.1 1276.7,885.9 1277.0,885.8 1278.0,885.6 1279.0,885.4 1280.0,885.2 1281.0,885.0 1282.0,884.9 1283.0,884.7 1284.0,884.5 1285.0,884.3 1286.0,884.2 1287.0,884.0 1288.0,883.9 1289.0,883.7 1290.0,883.6 1291.0,883.5 1292.0,883.3 1293.0,883.2 1294.0,883.0 1295.0,882.9 1296.0,882.8 1297.0,882.6 1298.0,882.5 1299.0,882.3 1300.0,882.2 1301.0,882.1 1302.0,881.9 1303.0,881.8 1304.0,881.6 1305.0,881.5 1306.0,881.3 1307.0,881.1 1308.0,880.9 1309.0,880.8 1310.0,880.6 1311.0,880.4 1312.0,880.2 1313.0,880.0 1314.0,879.7 1314.6,879.6 1315.0,879.5 1316.0,879.2 1317.0,879.0 1318.0,878.7 1319.0,878.3 1320.0,878.0 1321.0,877.7 1322.0,877.3 1323.0,876.9 1324.0,876.5 1325.0,876.1 1326.0,875.7 1327.0,875.3 1328.0,874.9 1329.0,874.5 1330.0,874.1 1331.0,873.7 1332.0,873.3 1333.0,872.9 1334.0,872.5 1335.0,872.2 1336.0,871.8 1337.0,871.5 1338.0,871.2 1339.0,870.9 1339.8,870.7 1340.0,870.6 1341.0,870.4 1342.0,870.2 1343.0,869.9 1344.0,869.7 1345.0,869.5 1346.0,869.3 1347.0,869.1 1348.0,869.0 1349.0,868.8 1350.0,868.6 1351.0,868.4 1352.0,868.2 1353.0,868.1 1354.0,867.9 1355.0,867.7 1356.0,867.6 1357.0,867.4 1358.0,867.2 1359.0,867.0 1360.0,866.8 1361.0,866.6 1362.0,866.4 1363.0,866.2 1364.0,866.0 1365.0,865.7 1365.1,865.7 1366.0,865.5 1367.0,865.2 1368.0,865.0 1369.0,864.7 1370.0,864.5 1371.0,864.2 1372.0,863.9 1373.0,863.6 1374.0,863.4 1375.0,863.1 1376.0,862.8 1377.0,862.4 1378.0,862.1 1379.0,861.8 1380.0,861.4 1381.0,861.1 1382.0,860.7 1383.0,860.3 1384.0,859.9 1385.0,859.5 1385.3,859.4 1386.0,859.1 1387.0,858.6 1388.0,858.1 1389.0,857.6 1390.0,857.0 1391.0,856.4 1392.0,855.8 1393.0,855.2 1394.0,854.5 1395.0,853.8 1396.0,853.1 1397.0,852.4 1398.0,851.7 1399.0,851.0 1400.0,850.2 1401.0,849.5 1402.0,848.7 1403.0,848.0 1404.0,847.3 1405.0,846.5 1406.0,845.8 1407.0,845.1 1408.0,844.3 1409.0,843.6 1410.0,842.8 1411.0,842.0 1412.0,841.2 1413.0,840.3 1414.0,839.5 1415.0,838.6 1416.0,837.7 1417.0,836.7 1418.0,835.7 1419.0,834.7 1420.0,833.6 1420.6,832.9 1421.0,832.4 1422.0,831.2 1423.0,830.0 1424.0,828.7 1425.0,827.3 1426.0,825.8 1427.0,824.3 1428.0,822.7 1429.0,821.0 1430.0,819.3 1431.0,817.5 1432.0,815.6 1433.0,813.6 1434.0,811.5 1435.0,809.4 1435.8,807.6 1436.0,807.1 1437.0,804.6 1438.0,801.8 1439.0,798.6 1439.5,797.0 1440.0,795.3 1440.5,793.5 1441.0,791.8 1441.5,789.9 1442.0,788.1 1442.5,786.3 1443.0,784.4 1443.5,782.6 1444.0,780.7 1444.5,778.8 1445.0,777.0 1445.5,775.2 1446.0,773.4 1446.5,771.7 1447.0,770.0 1447.5,768.3 1448.0,766.7 1448.5,765.0 1449.0,763.4 1449.5,761.8 1450.0,760.2 1450.5,758.5 1451.0,756.9 1451.5,755.3 1452.0,753.7 1452.5,752.1 1453.0,750.4 1453.5,748.8 1454.0,747.2 1454.5,745.5 1455.0,743.9 1455.5,742.2 1456.0,740.5 1456.5,738.8 1457.0,737.1 1457.5,735.4 1458.0,733.6 1458.5,731.8 1459.0,730.0 1459.5,728.2 1460.0,726.4 1460.5,724.6 1461.0,722.8 1461.5,721.0 1462.0,719.2 1462.5,717.4 1463.0,715.5 1463.5,713.7 1464.0,711.8 1464.5,709.9 1465.0,708.0 1465.5,706.0 1466.0,704.0 1466.5,701.9 1467.0,699.8 1467.5,697.7 1468.0,695.5 1468.5,693.2 1469.0,690.9 1469.5,688.5 1470.0,686.0 1470.5,683.4 1471.0,680.7 1471.5,677.8 1472.0,674.8 1472.5,671.7 1473.0,668.5 1473.5,665.2 1474.0,661.9 1474.5,658.4 1475.0,654.9 1475.5,651.3 1476.0,647.7 1476.5,644.1 1477.0,640.5 1477.5,636.8 1478.0,633.2 1478.5,629.6 1479.0,626.0 1479.5,622.4 1480.0,618.9 1480.5,615.4 1481.0,612.0 1481.5,608.7 1482.0,605.4 1482.5,602.2 1483.0,599.0 1483.5,595.8 1484.0,592.6 1484.5,589.4 1485.0,586.2 1485.5,582.9 1486.0,579.5 1486.5,576.1 1487.0,572.5 1487.5,568.8 1488.0,565.0 1488.5,561.0 1489.0,556.8 1489.5,552.4 1490.0,547.9 1490.5,543.2 1491.0,538.5 1491.5,533.7 1492.0,528.9 1492.5,524.1 1493.0,519.3 1493.5,514.6 1494.0,510.0 1494.5,505.4 1495.0,500.6 1495.5,495.7 1496.0,490.8 1496.5,486.0 1497.0,481.3 1497.5,476.8 1498.0,472.5 1498.5,468.6 1499.0,465.0 1499.5,461.7 1500.0,458.4 1500.5,455.2 1501.0,452.3 1501.5,449.8 1502.0,447.6 1502.5,446.0 1503.5,443.4 1504.5,441.3 1505.5,440.0 1506.0,439.8 1506.5,439.9 1507.5,440.9 1508.5,442.7 1509.5,444.8 1510.0,446.0 1510.5,447.4 1511.0,449.2 1511.5,451.4 1512.0,453.8 1512.5,456.5 1513.0,459.2 1513.5,462.1 1514.0,465.0 1514.5,468.0 1515.0,471.3 1515.5,474.9 1516.0,478.6 1516.5,482.5 1517.0,486.5 1517.5,490.6 1518.0,494.6 1518.5,498.7 1519.0,502.6 1519.5,506.4 1520.0,510.0 1520.5,513.5 1521.0,516.9 1521.5,520.3 1522.0,523.7 1522.5,527.1 1523.0,530.4 1523.5,533.6 1524.0,536.9 1524.5,540.1 1525.0,543.4 1525.5,546.6 1526.0,549.8 1526.5,553.0 1527.0,556.2 1527.5,559.4 1527.6,560.0 1528.0,562.6 1528.5,565.9 1529.0,569.3 1529.5,572.7 1530.0,576.1 1530.5,579.6 1531.0,583.0 1531.5,586.4 1532.0,589.7 1532.5,592.9 1533.0,596.1 1533.5,599.1 1534.0,602.0 1534.5,604.8 1535.0,607.3 1535.5,609.7 1535.8,611.0 1536.0,611.8 1536.5,613.9 1537.0,615.8 1537.5,617.7 1538.0,619.5 1538.5,621.2 1539.0,622.8 1539.5,624.4 1540.0,625.9 1540.5,627.4 1541.5,630.4 1542.5,633.2 1543.5,636.0 1544.5,638.9 1545.5,641.8 1546.0,643.3 1546.5,644.9 1547.0,646.5 1547.5,648.1 1548.0,649.7 1548.5,651.3 1549.0,652.8 1549.5,654.4 1550.5,657.2 1551.5,659.8 1552.5,662.0 1553.5,664.0 1554.5,666.0 1555.5,667.9 1556.5,669.6 1557.5,671.0 1558.5,671.8 1559.3,672.0 1559.5,672.0 1560.5,671.6 1561.5,670.8 1562.5,669.7 1563.5,668.3 1564.5,666.6 1565.5,664.9 1566.0,664.0 1566.5,662.9 1567.5,659.6 1568.0,657.7 1568.5,655.8 1569.0,654.2 1569.5,652.9 1570.0,652.0 1570.5,651.5 1571.5,650.7 1572.5,650.2 1573.5,649.7 1574.5,649.2 1575.5,648.5 1576.0,648.0 1576.5,647.4 1577.5,645.8 1578.5,643.7 1579.5,641.3 1580.0,640.0 1580.5,638.5 1581.0,636.8 1581.5,634.8 1582.0,632.7 1582.5,630.6 1583.0,628.6 1583.5,626.7 1584.0,625.0 1584.5,623.5 1585.5,621.0 1586.5,618.7 1587.5,616.5 1588.5,613.9 1589.4,611.0 1589.5,610.6 1590.0,608.7 1590.5,604.3 1591.0,601.3 1591.5,598.3 1592.0,595.2 1592.5,592.2 1593.0,589.1 1593.5,586.1 1594.0,583.1 1594.5,580.0 1595.0,577.0 1595.5,574.0 1596.0,570.9 1596.5,567.9 1597.0,564.9 1597.5,561.8 1597.8,560.0 1598.0,558.3 1598.5,554.1 1599.0,549.9 1599.5,545.7 1600.0,541.5 1600.5,537.3 1601.0,533.1 1601.5,528.9 1602.0,524.6 1602.1,523.8 1602.5,522.2 1603.0,520.2 1603.5,518.2 1604.0,516.2 1604.5,514.2 1605.0,512.2 1605.5,510.1 1606.0,508.1 1606.5,506.1 1607.0,504.1 1607.5,502.1 1608.5,498.1 1609.5,494.1 1610.0,492.1 1610.5,490.1 1611.0,488.1 1611.5,486.1 1612.0,484.0 1612.5,482.0 1613.0,480.0 1613.5,478.0 1614.0,476.0 1614.5,474.0 1615.0,472.0 1615.5,466.3 1616.0,460.6 1616.5,454.8 1616.7,452.5 1616.9,450.3 1617.1,448.0 1617.3,445.7 1617.5,443.4 1617.7,441.1 1617.9,438.8 1618.1,436.5 1618.3,434.2 1618.5,431.9 1618.7,429.7 1618.9,427.4 1619.1,425.1 1619.3,422.8 1619.5,420.5 1619.5,420.5 1619.7,417.8 1619.9,415.2 1620.1,412.5 1620.3,409.9 1620.5,407.2 1620.7,404.6 1620.9,401.9 1621.1,399.3 1621.3,396.6 1621.5,394.0 1621.8,390.0 1622.0,389.5 1622.5,388.2 1623.0,386.9 1624.0,384.4 1625.0,381.8 1626.0,379.3 1626.5,378.0 1627.0,374.9 1627.5,371.9 1628.0,368.8 1628.0,368.8 1628.5,364.7 1629.0,360.6 1629.5,356.5 1630.0,352.3 1630.5,348.2 1631.0,344.1 1631.5,340.0 1631.5,340.0 1632.0,335.0 1632.5,330.0 1633.0,325.0 1633.2,323.0 1633.4,321.0 1633.6,319.0 1633.8,317.0 1634.0,315.0 1634.2,313.0 1634.4,311.0 1634.6,309.0 1634.8,307.0 1635.0,305.0 1635.2,303.0 1635.4,301.0 1635.5,300.0 1635.6,299.0 1635.8,296.9 1636.0,294.9 1636.2,292.9 1636.4,290.8 1636.6,288.8 1636.8,286.8 1637.0,284.7 1637.3,281.7 1637.5,279.9 1638.0,275.4 1638.5,270.9 1639.0,266.4 1639.5,261.9 1640.0,257.5 1640.5,253.0 1641.0,248.5 1641.5,244.0 1642.0,239.5 1642.5,235.0 1642.5,235.0 1642.7,232.6 1642.9,230.1 1643.1,227.7 1643.3,225.2 1643.5,222.8 1643.7,220.3 1643.9,217.9 1644.1,215.4 1644.3,213.0 1644.5,210.6 1644.7,208.1 1644.9,205.7 1645.1,203.2 1645.3,200.8 1645.5,198.3 1645.7,195.9 1645.9,193.4 1646.1,191.0 1646.3,188.6 1646.5,186.1 1646.7,183.7 1646.9,181.2 1647.1,178.8 1647.3,176.3 1647.5,173.9 1647.7,171.4 1647.9,169.0 1648.1,166.6 1648.3,164.1 1648.5,161.7 1648.7,159.2 1648.9,156.8 1649.4,150.7 1649.7,147.0 1649.9,145.9 1650.4,143.1 1650.9,140.4 1651.4,137.6 1651.9,134.8 1652.4,132.1 1652.9,129.3 1653.4,126.5 1653.9,123.7 1654.4,121.0 1654.9,118.2 1655.3,116.0 1655.4,114.6 1655.9,107.8 1656.1,105.1 1656.3,102.4 1656.5,99.7 1656.7,96.9 1656.9,94.2 1657.1,91.5 1657.3,88.8 1657.5,86.1 1657.7,83.3 1657.9,80.6 1658.1,77.9 1658.3,75.2 1658.5,72.4 1658.7,69.7 1658.9,67.0 1658.9,67.0 1659.1,64.4 1659.3,61.9 1659.5,59.3 1659.7,56.7 1659.9,54.1 1660.1,51.6 1660.3,49.0 1660.5,46.4 1660.7,43.9 1660.9,41.3 1661.0,40.0 1661.4,37.3 1661.9,34.0 1662.4,30.7 1662.9,27.3 1663.4,24.0 1663.9,20.7 1664.0,20.0 1664.9,27.2 1665.4,31.2 1665.9,35.2 1666.1,36.8 1666.3,38.4 1666.5,40.0 1666.5,40.0 1666.7,50.8 1666.9,61.6 1667.0,67.0 1667.1,69.5 1667.3,74.5 1667.5,79.5 1667.7,84.5 1667.9,89.5 1668.1,94.5 1668.3,99.5 1668.5,104.5 1668.7,109.5 1668.9,114.5 1669.1,119.5 1669.3,124.5 1669.5,129.5 1669.7,134.5 1669.9,139.5 1670.1,144.5 1670.3,149.5 1670.5,154.5 1670.7,159.5 1671.1,169.5 1671.2,168.1 1672.2,154.5 1672.4,151.8 1672.6,149.1 1672.8,146.3 1673.0,143.6 1673.2,140.9 1673.4,138.2 1673.6,135.4 1673.8,132.7 1674.0,130.0 1674.2,127.3 1674.4,124.5 1674.6,121.8 1674.8,119.1 1675.0,116.4 1675.2,113.6 1675.4,110.9 1675.6,108.2 1675.8,105.5 1676.0,102.7 1676.2,100.0 1676.2,100.0 1676.4,98.4 1676.9,94.4 1677.4,90.3 1677.9,86.3 1678.4,82.3 1678.9,78.3 1679.4,74.2 1679.9,70.2 1680.1,68.6 1680.3,67.0 1680.3,67.0 1680.5,62.5 1680.7,58.0 1680.9,53.5 1681.1,49.0 1681.3,44.5 1681.5,40.0 1681.5,40.0 1682.5,40.0 1683.5,40.0 1684.0,40.0 1684.5,48.7 1684.7,52.2 1684.9,55.7 1685.1,59.1 1685.3,62.6 1685.5,66.1 1685.7,69.6 1685.9,73.0 1686.1,76.5 1686.3,80.0 1686.3,80.0 1686.5,88.4 1686.7,96.8 1686.9,105.1 1687.1,113.5 1687.3,121.9 1687.5,130.3 1687.7,138.6 1687.9,147.0 1688.1,155.4 1688.3,163.8 1688.5,172.2 1688.7,180.5 1688.9,188.9 1689.1,197.3 1689.3,205.7 1689.5,214.1 1689.7,222.4 1689.9,230.8 1690.0,235.0 1690.1,241.2 1690.3,253.5 1690.5,265.8 1690.7,278.2 1690.9,290.5 1691.1,302.8 1691.3,315.2 1691.5,327.5 1691.7,339.8 1691.9,352.2 1692.1,364.5 1692.3,376.8 1692.5,389.2 1692.7,401.5 1692.9,413.8 1693.0,420.0 1693.1,424.9 1693.3,434.8 1693.5,444.7 1693.7,454.5 1693.9,464.4 1694.1,474.3 1694.3,484.1 1694.5,494.0 1694.7,503.9 1694.9,513.7 1695.1,523.6 1695.3,533.5 1695.5,543.3 1695.7,553.2 1695.9,563.1 1696.1,572.9 1696.3,582.8 1696.5,592.7 1696.7,602.5 1696.9,612.4 1697.1,622.3 1697.3,632.1 1697.5,642.0 1697.5,642.0 1697.7,667.6 1697.9,693.2 1698.1,718.8 1698.3,744.4 1698.5,770.0"/>
<path class="cv" stroke="#f0f" d="M300.0,954.0 301.0,954.1 302.0,954.1 303.0,954.2 304.0,954.3 305.0,954.3 306.0,954.4 307.0,954.4 308.0,954.5 309.0,954.6 310.0,954.6 311.0,954.7 312.0,954.7 313.0,954.8 314.0,954.8 315.0,954.9 316.0,954.9 317.0,954.9 318.0,955.0 319.0,955.0 320.0,955.1 321.0,955.1 322.0,955.1 323.0,955.2 324.0,955.2 325.0,955.2 326.0,955.3 327.0,955.3 328.0,955.3 329.0,955.3 330.0,955.4 331.0,955.4 332.0,955.4 333.0,955.4 334.0,955.4 335.0,955.4 336.0,955.5 337.0,955.5 338.0,955.5 339.0,955.5 340.0,955.5 341.0,955.5 342.0,955.5 342.9,955.5 343.0,955.5 344.0,955.5 345.0,955.5 346.0,955.5 347.0,955.5 348.0,955.5 349.0,955.4 350.0,955.4 351.0,955.4 352.0,955.4 353.0,955.3 354.0,955.3 355.0,955.3 356.0,955.2 357.0,955.2 358.0,955.2 359.0,955.1 360.0,955.1 361.0,955.0 362.0,955.0 363.0,954.9 364.0,954.9 365.0,954.8 366.0,954.8 367.0,954.7 368.0,954.7 369.0,954.6 370.0,954.6 371.0,954.5 372.0,954.5 373.0,954.4 374.0,954.3 375.0,954.3 376.0,954.2 377.0,954.2 378.0,954.1 379.0,954.0 380.0,954.0 381.0,953.9 382.0,953.9 383.0,953.8 384.0,953.7 385.0,953.7 386.0,953.6 387.0,953.6 388.0,953.5 389.0,953.5 390.0,953.4 391.0,953.4 392.0,953.3 393.0,953.3 394.0,953.2 395.0,953.2 396.0,953.1 397.0,953.1 398.0,953.0 399.0,953.0 400.0,952.9 401.0,952.9 402.0,952.9 403.0,952.8 404.0,952.8 405.0,952.7 406.0,952.7 407.0,952.7 408.0,952.6 409.0,952.6 410.0,952.5 411.0,952.5 412.0,952.5 413.0,952.4 414.0,952.4 415.0,952.3 416.0,952.3 417.0,952.2 418.0,952.2 419.0,952.2 420.0,952.1 421.0,952.1 422.0,952.1 423.0,952.0 424.0,952.0 425.0,951.9 426.0,951.9 427.0,951.9 428.0,951.9 429.0,951.8 430.0,951.8 431.0,951.8 432.0,951.8 433.0,951.7 434.0,951.7 435.0,951.7 436.0,951.7 437.0,951.7 438.0,951.7 438.9,951.7 439.0,951.7 440.0,951.7 441.0,951.7 442.0,951.7 443.0,951.7 444.0,951.7 445.0,951.7 446.0,951.7 447.0,951.7 448.0,951.8 449.0,951.8 450.0,951.8 451.0,951.8 452.0,951.8 453.0,951.8 454.0,951.8 455.0,951.9 456.0,951.9 457.0,951.9 458.0,951.9 459.0,952.0 460.0,952.0 461.0,952.0 462.0,952.0 463.0,952.1 464.0,952.1 465.0,952.1 466.0,952.2 467.0,952.2 468.0,952.2 469.0,952.3 470.0,952.3 471.0,952.4 472.0,952.4 473.0,952.4 474.0,952.5 475.0,952.5 476.0,952.6 477.0,952.6 478.0,952.7 479.0,952.7 480.0,952.8 481.0,952.9 481.8,952.9 482.0,952.9 483.0,953.0 484.0,953.1 485.0,953.3 486.0,953.5 487.0,953.7 488.0,954.0 489.0,954.2 490.0,954.5 491.0,954.8 492.0,955.2 493.0,955.5 494.0,955.8 495.0,956.1 496.0,956.4 496.9,956.7 497.0,956.7 498.0,957.1 499.0,957.5 500.0,957.9 501.0,958.4 502.0,958.9 503.0,959.4 504.0,959.8 505.0,960.3 506.0,960.6 507.0,960.9 508.0,961.2 509.0,961.3 509.5,961.3 510.0,961.3 511.0,961.2 512.0,961.2 513.0,961.0 514.0,960.9 515.0,960.7 516.0,960.4 517.0,960.2 518.0,960.0 519.0,959.7 520.0,959.5 521.0,959.2 522.0,959.0 523.0,958.7 524.0,958.5 525.0,958.3 526.0,958.2 527.0,958.0 527.2,958.0 528.0,957.9 529.0,957.8 530.0,957.7 531.0,957.6 532.0,957.5 533.0,957.4 534.0,957.3 535.0,957.2 536.0,957.1 537.0,957.0 538.0,956.9 539.0,956.8 540.0,956.8 541.0,956.7 542.0,956.6 543.0,956.5 544.0,956.4 545.0,956.3 546.0,956.3 547.0,956.2 548.0,956.1 549.0,956.1 550.0,956.0 551.0,955.9 552.0,955.9 553.0,955.8 554.0,955.8 555.0,955.7 556.0,955.7 557.0,955.7 558.0,955.6 559.0,955.6 560.0,955.6 561.0,955.5 562.0,955.5 563.0,955.5 564.0,955.5 565.0,955.5 565.1,955.5 566.0,955.5 567.0,955.5 568.0,955.5 569.0,955.5 570.0,955.5 571.0,955.5 572.0,955.5 573.0,955.5 574.0,955.5 575.0,955.5 576.0,955.5 577.0,955.5 578.0,955.5 579.0,955.5 580.0,955.5 581.0,955.5 582.0,955.5 583.0,955.5 584.0,955.5 585.0,955.5 586.0,955.5 587.0,955.5 588.0,955.5 589.0,955.5 590.0,955.5 591.0,955.5 592.0,955.5 593.0,955.5 594.0,955.5 595.0,955.5 596.0,955.5 597.0,955.5 598.0,955.5 599.0,955.5 600.0,955.5 601.0,955.5 602.0,955.5 603.0,955.5 604.0,955.5 605.0,955.5 606.0,955.5 607.0,955.5 608.0,955.5 609.0,955.5 610.0,955.5 611.0,955.5 612.0,955.5 613.0,955.5 614.0,955.5 615.0,955.5 615.6,955.5 616.0,955.5 617.0,955.5 618.0,955.5 619.0,955.5 620.0,955.5 621.0,955.5 622.0,955.5 623.0,955.6 624.0,955.6 625.0,955.6 626.0,955.6 627.0,955.6 628.0,955.7 629.0,955.7 630.0,955.7 631.0,955.7 632.0,955.8 633.0,955.8 634.0,955.8 635.0,955.9 636.0,955.9 637.0,956.0 638.0,956.0 639.0,956.0 640.0,956.1 641.0,956.1 642.0,956.2 643.0,956.2 644.0,956.2 645.0,956.3 646.0,956.3 647.0,956.4 648.0,956.4 649.0,956.5 650.0,956.5 651.0,956.6 652.0,956.6 653.0,956.7 653.5,956.7 654.0,956.7 655.0,956.8 656.0,956.8 657.0,956.9 658.0,957.0 659.0,957.0 660.0,957.1 661.0,957.2 662.0,957.3 663.0,957.4 664.0,957.4 665.0,957.5 666.0,957.6 667.0,957.7 668.0,957.8 669.0,957.9 670.0,958.0 671.0,958.2 672.0,958.3 673.0,958.4 674.0,958.5 675.0,958.6 676.0,958.8 677.0,958.9 678.0,959.0 679.0,959.2 680.0,959.3 681.0,959.5 682.0,959.6 683.0,959.8 684.0,959.9 685.0,960.1 686.0,960.2 687.0,960.4 688.0,960.5 689.0,960.7 690.0,960.9 691.0,961.1 692.0,961.2 693.0,961.4 694.0,961.6 695.0,961.8 696.0,962.0 697.0,962.1 698.0,962.3 699.0,962.5 700.0,962.7 701.0,962.9 702.0,963.1 703.0,963.3 704.0,963.5 705.0,963.7 706.0,964.0 707.0,964.2 708.0,964.5 709.0,964.8 710.0,965.2 711.0,965.5 712.0,965.9 713.0,966.2 714.0,966.6 715.0,966.9 716.0,967.3 717.0,967.6 718.0,967.9 719.0,968.2 720.0,968.5 721.0,968.8 722.0,969.1 723.0,969.4 724.0,969.8 725.0,970.1 726.0,970.4 727.0,970.6 728.0,970.8 729.0,971.0 730.0,971.0 731.0,971.0 732.0,970.9 733.0,970.8 734.0,970.6 735.0,970.4 736.0,970.2 737.0,969.9 738.0,969.7 739.0,969.4 740.0,969.1 741.0,968.8 742.0,968.5 743.0,968.2 744.0,967.9 745.0,967.7 745.4,967.6 746.0,967.5 747.0,967.2 748.0,967.0 749.0,966.7 750.0,966.5 751.0,966.2 752.0,965.9 753.0,965.6 754.0,965.4 755.0,965.1 756.0,964.8 757.0,964.5 758.0,964.3 759.0,964.0 760.0,963.7 761.0,963.5 762.0,963.2 763.0,963.0 764.0,962.7 765.0,962.5 766.0,962.2 767.0,962.0 768.0,961.8 769.0,961.6 770.0,961.4 770.7,961.3 771.0,961.2 772.0,961.1 773.0,960.9 774.0,960.7 775.0,960.5 776.0,960.4 777.0,960.2 778.0,960.0 779.0,959.8 780.0,959.6 781.0,959.5 782.0,959.3 783.0,959.2 784.0,959.0 785.0,958.9 786.0,958.7 787.0,958.6 788.0,958.5 789.0,958.4 790.0,958.3 791.0,958.2 792.0,958.1 793.0,958.1 794.0,958.0 795.0,958.0 795.9,958.0 796.0,958.0 797.0,958.0 798.0,958.0 799.0,958.1 800.0,958.1 801.0,958.2 802.0,958.2 803.0,958.3 804.0,958.3 805.0,958.4 806.0,958.5 807.0,958.5 808.0,958.6 809.0,958.7 810.0,958.7 811.0,958.8 812.0,958.8 813.0,958.8 813.6,958.8 814.0,958.8 815.0,958.8 816.0,958.7 817.0,958.7 818.0,958.6 819.0,958.5 820.0,958.4 821.0,958.3 822.0,958.2 823.0,958.0 824.0,957.9 825.0,957.7 826.0,957.5 827.0,957.3 828.0,957.1 829.0,956.9 830.0,956.7 831.0,956.5 832.0,956.3 833.0,956.1 834.0,955.8 835.0,955.6 836.0,955.4 837.0,955.2 838.0,954.9 839.0,954.7 840.0,954.5 841.0,954.3 842.0,954.1 843.0,953.9 844.0,953.7 845.0,953.5 846.0,953.3 847.0,953.1 848.0,953.0 849.0,952.8 850.0,952.7 851.0,952.6 851.5,952.5 852.0,952.4 853.0,952.3 854.0,952.2 855.0,952.1 856.0,952.0 857.0,951.9 858.0,951.8 859.0,951.7 860.0,951.6 861.0,951.5 862.0,951.4 863.0,951.3 864.0,951.2 865.0,951.1 866.0,951.0 867.0,950.9 868.0,950.8 869.0,950.8 870.0,950.7 871.0,950.6 872.0,950.5 873.0,950.5 874.0,950.4 875.0,950.3 876.0,950.3 877.0,950.2 878.0,950.2 879.0,950.1 880.0,950.1 881.0,950.0 881.8,950.0 882.0,950.0 883.0,950.0 884.0,949.9 885.0,949.9 886.0,949.9 887.0,949.8 888.0,949.8 889.0,949.8 890.0,949.7 891.0,949.7 892.0,949.7 893.0,949.6 894.0,949.6 895.0,949.6 896.0,949.6 897.0,949.6 898.0,949.5 899.0,949.5 900.0,949.5 901.0,949.5 902.0,949.5 903.0,949.4 904.0,949.4 905.0,949.4 906.0,949.4 907.0,949.4 908.0,949.4 909.0,949.4 909.5,949.4 910.0,949.4 911.0,949.5 912.0,949.6 913.0,949.8 914.0,950.0 915.0,950.3 916.0,950.6 917.0,951.0 918.0,951.3 919.0,951.7 920.0,952.1 921.0,952.5 922.0,952.8 923.0,953.2 924.0,953.5 925.0,953.8 926.0,954.0 927.0,954.3 928.0,954.4 929.0,954.5 929.7,954.5 930.0,954.5 931.0,954.4 932.0,954.3 933.0,954.0 934.0,953.7 935.0,953.4 936.0,953.0 937.0,952.6 938.0,952.2 939.0,951.7 940.0,951.2 941.0,950.8 942.0,950.4 943.0,949.9 944.0,949.6 945.0,949.2 946.0,949.0 947.0,948.8 947.4,948.7 948.0,948.6 949.0,948.5 950.0,948.4 951.0,948.2 952.0,948.1 953.0,948.0 954.0,947.9 955.0,947.8 956.0,947.7 957.0,947.6 958.0,947.5 959.0,947.4 960.0,947.3 961.0,947.2 962.0,947.2 963.0,947.1 964.0,947.0 965.0,946.9 966.0,946.9 967.0,946.8 968.0,946.7 969.0,946.7 970.0,946.6 971.0,946.6 972.0,946.5 973.0,946.4 974.0,946.4 975.0,946.3 976.0,946.3 977.0,946.2 977.7,946.2 978.0,946.2 979.0,946.1 980.0,946.1 981.0,946.0 982.0,946.0 983.0,945.9 984.0,945.9 985.0,945.9 986.0,945.8 987.0,945.8 988.0,945.7 989.0,945.7 990.0,945.7 991.0,945.6 992.0,945.6 993.0,945.6 994.0,945.5 995.0,945.5 996.0,945.5 997.0,945.4 998.0,945.4 999.0,945.4 1000.0,945.3 1001.0,945.3 1002.0,945.3 1003.0,945.2 1004.0,945.2 1005.0,945.2 1006.0,945.1 1007.0,945.1 1008.0,945.1 1009.0,945.1 1010.0,945.0 1011.0,945.0 1012.0,945.0 1013.0,944.9 1014.0,944.9 1015.0,944.9 1016.0,944.8 1017.0,944.8 1018.0,944.8 1019.0,944.7 1020.0,944.7 1021.0,944.7 1022.0,944.6 1023.0,944.6 1024.0,944.6 1025.0,944.5 1026.0,944.5 1027.0,944.4 1028.0,944.4 1028.2,944.4 1029.0,944.4 1030.0,944.3 1031.0,944.3 1032.0,944.2 1033.0,944.2 1034.0,944.2 1035.0,944.1 1036.0,944.1 1037.0,944.0 1038.0,944.0 1039.0,943.9 1040.0,943.9 1041.0,943.9 1042.0,943.8 1043.0,943.8 1044.0,943.7 1045.0,943.7 1046.0,943.6 1047.0,943.6 1048.0,943.5 1049.0,943.5 1050.0,943.5 1051.0,943.4 1052.0,943.4 1053.0,943.3 1054.0,943.3 1055.0,943.2 1056.0,943.2 1057.0,943.1 1058.0,943.1 1059.0,943.0 1060.0,943.0 1061.0,942.9 1062.0,942.9 1063.0,942.8 1064.0,942.8 1065.0,942.7 1066.0,942.6 1067.0,942.6 1068.0,942.5 1069.0,942.5 1070.0,942.4 1071.0,942.4 1072.0,942.3 1073.0,942.2 1074.0,942.2 1075.0,942.1 1076.0,942.1 1077.0,942.0 1078.0,941.9 1078.7,941.9 1079.0,941.9 1080.0,941.8 1081.0,941.7 1082.0,941.7 1083.0,941.6 1084.0,941.5 1085.0,941.4 1086.0,941.4 1087.0,941.3 1088.0,941.2 1089.0,941.1 1090.0,941.0 1091.0,940.9 1092.0,940.9 1093.0,940.8 1094.0,940.7 1095.0,940.6 1096.0,940.5 1097.0,940.4 1098.0,940.4 1099.0,940.3 1100.0,940.2 1101.0,940.1 1102.0,940.0 1103.0,940.0 1104.0,939.9 1105.0,939.8 1106.0,939.7 1107.0,939.6 1108.0,939.6 1109.0,939.5 1110.0,939.4 1111.0,939.3 1112.0,939.2 1113.0,939.1 1114.0,939.1 1115.0,939.0 1116.0,938.9 1117.0,938.8 1118.0,938.7 1119.0,938.7 1120.0,938.6 1121.0,938.5 1122.0,938.4 1123.0,938.3 1124.0,938.2 1125.0,938.2 1126.0,938.1 1127.0,938.0 1128.0,937.9 1129.0,937.9 1130.0,937.8 1131.0,937.7 1132.0,937.6 1133.0,937.5 1134.0,937.5 1135.0,937.4 1136.0,937.3 1137.0,937.3 1138.0,937.2 1139.0,937.1 1140.0,937.0 1141.0,937.0 1142.0,936.9 1143.0,936.8 1144.0,936.8 1145.0,936.7 1146.0,936.7 1147.0,936.6 1148.0,936.5 1149.0,936.5 1150.0,936.4 1150.5,936.4 1151.0,936.4 1152.0,936.3 1153.0,936.3 1154.0,936.2 1155.0,936.2 1156.0,936.1 1157.0,936.1 1158.0,936.0 1159.0,936.0 1160.0,936.0 1161.0,935.9 1162.0,935.9 1163.0,935.9 1164.0,935.8 1165.0,935.8 1166.0,935.7 1167.0,935.7 1168.0,935.7 1169.0,935.6 1170.0,935.6 1171.0,935.6 1172.0,935.6 1173.0,935.5 1174.0,935.5 1175.0,935.5 1176.0,935.4 1177.0,935.4 1178.0,935.4 1179.0,935.3 1180.0,935.3 1181.0,935.3 1182.0,935.2 1183.0,935.2 1184.0,935.1 1185.0,935.1 1186.0,935.1 1187.0,935.0 1188.0,935.0 1189.0,934.9 1190.0,934.9 1191.0,934.9 1192.0,934.8 1193.0,934.8 1194.0,934.7 1195.0,934.7 1196.0,934.6 1197.0,934.5 1198.0,934.5 1199.0,934.4 1200.0,934.4 1201.0,934.3 1202.0,934.2 1203.0,934.2 1204.0,934.1 1205.0,934.0 1206.0,933.9 1207.0,933.8 1208.0,933.7 1209.0,933.6 1210.0,933.4 1211.0,933.3 1212.0,933.2 1213.0,933.0 1214.0,932.9 1215.0,932.8 1216.0,932.6 1217.0,932.5 1218.0,932.3 1219.0,932.2 1220.0,932.0 1221.0,931.8 1222.0,931.7 1223.0,931.5 1224.0,931.3 1225.0,931.2 1226.0,931.0 1227.0,930.8 1228.0,930.7 1229.0,930.5 1230.0,930.3 1231.0,930.1 1232.0,930.0 1233.0,929.8 1234.0,929.6 1235.0,929.5 1236.0,929.3 1237.0,929.1 1238.0,928.9 1238.9,928.8 1239.0,928.8 1240.0,928.6 1241.0,928.4 1242.0,928.3 1243.0,928.1 1244.0,927.9 1245.0,927.7 1246.0,927.5 1247.0,927.2 1248.0,927.0 1249.0,926.8 1250.0,926.6 1251.0,926.4 1252.0,926.1 1253.0,925.9 1254.0,925.7 1255.0,925.4 1256.0,925.2 1257.0,925.0 1258.0,924.8 1259.0,924.6 1260.0,924.3 1261.0,924.1 1262.0,923.9 1263.0,923.7 1264.0,923.5 1265.0,923.3 1266.0,923.1 1267.0,922.9 1268.0,922.8 1269.0,922.6 1270.0,922.5 1271.0,922.3 1272.0,922.2 1273.0,922.1 1274.0,921.9 1275.0,921.8 1276.0,921.8 1276.7,921.7 1277.0,921.7 1278.0,921.6 1279.0,921.5 1280.0,921.5 1281.0,921.4 1282.0,921.4 1283.0,921.3 1284.0,921.3 1285.0,921.2 1286.0,921.2 1287.0,921.2 1288.0,921.1 1289.0,921.1 1290.0,921.1 1291.0,921.0 1292.0,921.0 1293.0,921.0 1294.0,920.9 1295.0,920.9 1296.0,920.9 1297.0,920.9 1298.0,920.8 1299.0,920.8 1300.0,920.8 1301.0,920.7 1302.0,920.7 1303.0,920.7 1304.0,920.6 1305.0,920.6 1306.0,920.5 1307.0,920.5 1308.0,920.4 1309.0,920.4 1310.0,920.3 1311.0,920.3 1312.0,920.2 1313.0,920.1 1314.0,920.0 1314.6,920.0 1315.0,920.0 1316.0,919.8 1317.0,919.7 1318.0,919.5 1319.0,919.3 1320.0,919.1 1321.0,918.8 1322.0,918.5 1323.0,918.2 1324.0,917.9 1325.0,917.6 1326.0,917.2 1327.0,916.9 1328.0,916.5 1329.0,916.1 1330.0,915.8 1331.0,915.4 1332.0,915.0 1333.0,914.6 1334.0,914.3 1335.0,913.9 1336.0,913.6 1337.0,913.2 1338.0,912.9 1339.0,912.6 1339.8,912.4 1340.0,912.3 1341.0,912.1 1342.0,911.8 1343.0,911.6 1344.0,911.3 1345.0,911.1 1346.0,910.8 1347.0,910.6 1348.0,910.4 1349.0,910.1 1350.0,909.9 1351.0,909.7 1352.0,909.4 1353.0,909.2 1354.0,909.0 1355.0,908.8 1356.0,908.5 1357.0,908.3 1358.0,908.0 1359.0,907.8 1360.0,907.5 1361.0,907.3 1362.0,907.0 1363.0,906.7 1364.0,906.4 1365.0,906.1 1365.1,906.1 1366.0,905.8 1367.0,905.5 1368.0,905.2 1369.0,904.9 1370.0,904.6 1371.0,904.2 1372.0,903.9 1373.0,903.5 1374.0,903.2 1375.0,902.8 1376.0,902.4 1377.0,902.1 1378.0,901.7 1379.0,901.3 1380.0,900.9 1381.0,900.4 1382.0,900.0 1383.0,899.6 1384.0,899.1 1385.0,898.6 1385.3,898.5 1386.0,898.2 1387.0,897.6 1388.0,897.1 1389.0,896.5 1390.0,895.9 1391.0,895.3 1392.0,894.7 1393.0,894.0 1394.0,893.4 1395.0,892.7 1396.0,892.0 1397.0,891.3 1398.0,890.6 1399.0,889.9 1400.0,889.2 1401.0,888.5 1402.0,887.8 1403.0,887.1 1404.0,886.4 1405.0,885.7 1406.0,885.0 1407.0,884.3 1408.0,883.6 1409.0,883.0 1410.0,882.2 1411.0,881.5 1412.0,880.8 1413.0,880.1 1414.0,879.3 1415.0,878.5 1416.0,877.7 1417.0,876.9 1418.0,876.1 1419.0,875.2 1420.0,874.3 1420.3,874.0 1421.0,873.3 1422.0,872.4 1423.0,871.4 1424.0,870.4 1425.0,869.3 1426.0,868.2 1427.0,867.0 1428.0,865.7 1429.0,864.4 1430.0,862.9 1430.3,862.4 1431.0,861.2 1432.0,859.2 1433.0,856.9 1434.0,854.4 1435.0,851.9 1436.0,849.4 1437.0,847.0 1438.0,844.8 1439.0,842.7 1440.0,840.6 1441.0,838.6 1442.0,836.6 1443.0,834.5 1444.0,832.4 1445.0,830.2 1446.0,827.9 1447.0,825.5 1448.0,822.8 1449.0,820.0 1450.0,816.8 1450.5,815.1 1451.0,813.2 1451.5,811.3 1452.0,809.3 1452.5,807.3 1453.0,805.1 1453.5,803.0 1454.0,800.7 1454.5,798.5 1455.0,796.2 1455.5,793.9 1456.0,791.6 1456.5,789.3 1457.0,787.0 1457.5,784.8 1458.0,782.5 1458.5,780.3 1459.0,778.1 1459.5,776.0 1460.0,773.9 1460.5,771.9 1461.0,769.9 1461.5,767.8 1462.0,765.9 1462.5,763.9 1463.0,761.9 1463.5,759.9 1464.0,758.0 1464.5,756.0 1465.0,754.0 1465.5,752.0 1466.0,750.0 1466.5,747.9 1467.0,745.8 1467.5,743.7 1468.0,741.6 1468.5,739.3 1469.0,737.1 1469.5,734.8 1470.0,732.4 1470.5,730.0 1471.0,727.5 1471.5,724.9 1472.0,722.3 1472.5,719.6 1473.0,716.8 1473.5,714.0 1474.0,711.1 1474.5,708.2 1475.0,705.2 1475.5,702.2 1476.0,699.1 1476.5,696.0 1477.0,692.9 1477.5,689.7 1478.0,686.6 1478.5,683.4 1479.0,680.2 1479.5,677.0 1480.0,673.7 1480.5,670.4 1481.0,667.0 1481.5,663.5 1482.0,660.0 1482.5,656.4 1483.0,652.7 1483.5,649.1 1484.0,645.4 1484.5,641.7 1485.0,638.1 1485.5,634.4 1486.0,630.8 1486.5,627.1 1487.0,623.6 1487.5,620.1 1488.0,616.6 1488.5,613.3 1489.0,610.0 1489.5,606.8 1490.0,603.8 1490.5,600.9 1491.0,598.0 1491.5,595.2 1492.0,592.5 1492.5,589.7 1493.0,587.0 1493.5,584.2 1494.0,581.4 1494.5,578.5 1495.0,575.5 1495.5,572.3 1496.0,569.1 1496.5,565.6 1497.0,562.0 1497.5,558.0 1498.0,553.6 1498.5,548.9 1499.0,543.9 1499.2,541.9 1499.4,539.9 1499.6,537.9 1499.8,535.8 1500.0,533.8 1500.5,528.9 1501.0,524.3 1501.5,520.0 1501.5,520.0 1502.0,515.7 1502.5,511.3 1503.0,507.0 1503.5,503.2 1504.0,500.1 1504.5,498.0 1504.5,498.0 1505.5,495.3 1506.5,493.1 1507.5,492.1 1507.8,492.0 1508.5,492.3 1509.5,493.5 1510.5,495.5 1511.5,498.0 1511.5,498.0 1512.5,502.7 1513.0,506.3 1513.5,510.5 1514.0,514.9 1514.5,519.5 1515.0,524.0 1515.0,524.0 1515.5,528.7 1515.7,530.8 1515.9,533.0 1516.1,535.2 1516.3,537.4 1516.5,539.7 1516.7,542.0 1516.9,544.3 1517.1,546.6 1517.3,548.8 1517.5,551.0 1517.7,553.2 1517.9,555.3 1518.1,557.2 1518.4,560.0 1518.6,561.7 1519.1,566.0 1519.6,570.1 1520.1,574.0 1520.6,577.9 1521.1,581.6 1521.6,585.2 1522.1,588.7 1522.6,592.2 1523.1,595.5 1523.6,598.8 1524.1,602.1 1524.6,605.3 1525.1,608.5 1525.5,611.0 1525.6,611.6 1526.1,614.8 1526.6,617.9 1527.1,621.0 1527.6,624.1 1528.1,627.2 1528.6,630.2 1529.1,633.2 1529.6,636.2 1530.1,639.1 1530.6,641.9 1531.1,644.7 1531.6,647.4 1532.1,650.0 1532.6,652.5 1533.1,655.0 1533.6,657.4 1534.1,659.6 1534.6,661.8 1534.7,662.2 1535.1,663.8 1535.6,665.9 1536.1,667.8 1536.6,669.7 1537.1,671.5 1537.6,673.3 1538.1,675.1 1538.6,676.8 1539.1,678.4 1539.6,680.1 1540.1,681.6 1540.6,683.2 1541.1,684.7 1541.6,686.2 1542.6,689.1 1543.6,692.0 1543.9,692.8 1544.6,694.8 1545.6,697.5 1546.6,700.3 1547.6,702.9 1548.6,705.3 1549.6,707.5 1550.6,709.3 1551.0,710.0 1551.6,711.0 1552.6,712.6 1553.6,714.1 1554.6,715.6 1555.6,717.0 1556.6,718.1 1557.6,718.9 1558.6,719.4 1559.3,719.5 1559.6,719.5 1560.6,719.3 1561.6,718.8 1562.6,718.2 1563.6,717.4 1564.6,716.4 1565.6,715.4 1566.6,714.3 1567.6,713.1 1568.6,712.0 1569.5,711.0 1569.6,710.9 1570.6,709.7 1571.6,708.2 1572.6,706.7 1573.6,705.1 1574.6,703.4 1575.6,701.8 1576.6,700.2 1577.5,699.0 1577.6,698.9 1578.6,697.7 1579.6,696.7 1580.6,695.7 1581.6,694.6 1582.6,693.1 1582.8,692.8 1583.6,691.2 1584.6,688.6 1585.6,685.4 1586.1,683.7 1586.6,681.8 1587.1,679.8 1587.6,677.7 1588.1,675.5 1588.6,673.3 1589.1,671.0 1589.6,668.7 1590.1,665.4 1590.6,663.5 1591.0,662.0 1591.1,661.3 1591.6,658.0 1592.1,654.6 1592.6,651.3 1593.1,647.9 1593.6,644.6 1594.1,641.2 1594.6,637.8 1595.1,634.5 1595.6,631.1 1596.1,627.8 1596.6,624.4 1597.1,621.1 1597.6,617.7 1598.1,614.4 1598.6,611.0 1598.6,611.0 1599.1,608.1 1599.6,605.1 1600.1,602.2 1600.6,599.3 1601.1,596.3 1601.6,593.4 1602.1,590.5 1602.6,587.6 1603.1,584.6 1603.6,581.7 1604.1,578.8 1604.6,575.8 1605.1,572.9 1605.6,570.0 1606.1,567.0 1606.6,564.1 1607.1,561.2 1607.3,560.0 1607.6,557.4 1608.1,553.1 1608.6,548.8 1609.1,544.5 1609.6,540.2 1610.1,535.9 1610.6,531.6 1611.1,527.2 1611.5,523.8 1611.6,523.1 1612.1,519.5 1612.6,516.0 1613.1,512.4 1613.6,508.9 1614.1,505.4 1614.6,501.8 1615.1,498.3 1615.6,494.7 1616.1,491.2 1616.6,487.6 1617.1,484.1 1617.6,480.5 1618.1,477.0 1618.6,473.4 1618.8,472.0 1619.1,469.3 1619.6,464.9 1620.1,460.5 1620.6,456.0 1621.1,451.6 1621.6,447.1 1622.1,442.7 1622.6,438.3 1623.1,433.8 1623.6,429.4 1624.1,424.9 1624.6,420.5 1624.6,420.5 1625.1,417.2 1625.6,413.9 1626.1,410.5 1626.6,407.2 1627.1,403.9 1627.6,400.6 1628.1,397.3 1628.6,393.9 1629.1,390.6 1629.6,387.3 1630.1,384.0 1630.6,380.7 1630.7,380.0 1631.1,376.3 1631.6,371.6 1632.1,367.0 1632.6,362.3 1633.1,357.7 1633.6,353.0 1634.1,348.4 1634.3,346.5 1634.5,344.7 1634.7,342.8 1634.9,340.9 1635.0,340.0 1635.1,338.7 1635.3,336.2 1635.5,333.7 1635.7,331.2 1635.9,328.7 1636.1,326.2 1636.3,323.7 1636.5,321.2 1636.7,318.7 1636.9,316.2 1637.1,313.7 1637.3,311.2 1637.5,308.7 1637.7,306.2 1637.9,303.7 1638.1,301.2 1638.2,300.0 1638.3,298.9 1638.5,296.8 1638.7,294.6 1638.9,292.5 1639.1,290.3 1639.3,288.2 1639.5,286.0 1639.7,283.9 1639.9,281.7 1639.9,281.7 1640.1,279.3 1640.3,276.9 1640.5,274.5 1640.7,272.1 1640.9,269.7 1641.1,267.3 1641.3,264.9 1641.5,262.5 1641.7,260.1 1641.9,257.8 1642.1,255.4 1642.3,253.0 1642.5,250.6 1642.7,248.2 1642.9,245.8 1643.1,243.4 1643.3,241.0 1643.5,238.6 1643.7,236.2 1643.8,235.0 1643.9,233.8 1644.1,231.5 1644.3,229.2 1644.5,226.8 1644.7,224.5 1644.9,222.2 1645.1,219.8 1645.3,217.5 1645.5,215.2 1645.7,212.8 1645.9,210.5 1646.1,208.2 1646.3,205.8 1646.5,203.5 1646.7,201.2 1646.8,200.0 1646.9,197.7 1647.1,193.2 1647.3,188.6 1647.5,184.1 1647.7,179.5 1647.9,175.0 1648.1,170.5 1648.3,165.9 1648.5,161.4 1648.7,156.8 1648.9,152.3 1649.0,150.0 1649.1,148.8 1649.3,146.4 1649.5,143.9 1649.7,141.5 1649.9,139.1 1650.1,136.6 1650.3,134.2 1650.5,131.8 1650.7,129.4 1650.9,126.9 1651.1,124.5 1651.3,122.1 1651.5,119.6 1651.7,117.2 1651.8,116.0 1651.9,115.0 1652.1,113.1 1652.3,111.2 1652.8,106.4 1653.3,101.6 1653.8,96.8 1654.3,92.0 1654.8,87.2 1655.3,82.4 1655.8,77.6 1656.3,72.8 1656.5,70.8 1656.7,68.9 1656.9,67.0 1656.9,67.0 1657.1,64.0 1657.3,61.0 1657.5,58.0 1657.7,55.0 1657.9,52.0 1658.1,49.0 1658.3,46.0 1658.5,43.0 1658.7,40.0 1658.7,40.0 1658.9,38.6 1659.1,37.2 1659.3,35.8 1659.5,34.4 1660.0,30.9 1660.5,27.4 1661.0,24.0 1661.5,20.5 1662.0,17.0 1662.5,13.5 1663.0,10.0 1663.5,13.0 1664.5,19.0 1665.0,22.0 1665.5,25.0 1666.0,28.0 1666.5,31.0 1667.0,34.0 1667.5,37.0 1667.7,38.2 1667.9,39.4 1668.0,40.0 1668.1,43.0 1668.3,49.0 1668.5,55.0 1668.7,61.0 1668.9,67.0 1668.9,67.0 1669.1,72.4 1669.3,77.8 1669.5,83.3 1669.7,88.7 1669.9,94.1 1670.1,99.5 1670.3,104.9 1670.5,110.3 1670.7,115.8 1670.9,121.2 1671.1,126.6 1671.4,120.8 1671.9,111.2 1672.1,107.4 1672.3,103.5 1672.5,99.7 1672.7,95.8 1672.9,92.0 1673.1,88.1 1673.3,84.3 1673.5,80.5 1673.7,76.6 1673.9,72.8 1674.1,68.9 1674.2,67.0 1674.3,63.6 1674.5,56.9 1674.7,50.1 1674.9,43.4 1675.0,40.0 1675.1,39.4 1675.3,38.2 1675.5,37.0 1675.7,35.8 1675.9,34.6 1676.4,31.6 1676.9,28.6 1677.4,25.6 1677.9,22.6 1678.4,19.6 1678.9,16.6 1679.9,10.6 1680.0,10.0 1680.9,14.2 1681.9,18.8 1682.4,21.1 1682.9,23.4 1683.4,25.7 1683.9,28.0 1684.4,30.3 1684.9,32.6 1685.4,34.9 1685.9,37.2 1686.4,39.5 1686.5,40.0 1686.9,43.1 1687.4,46.9 1687.9,50.8 1688.4,54.7 1688.9,58.5 1689.4,62.4 1689.6,63.9 1689.8,65.5 1690.0,67.0 1690.0,67.0 1690.2,78.2 1690.4,89.4 1690.6,100.6 1690.8,111.8 1691.0,123.0 1691.2,134.2 1691.4,145.4 1691.6,156.6 1691.8,167.8 1692.0,179.0 1692.2,190.2 1692.4,201.4 1692.6,212.6 1692.8,223.8 1693.0,235.0 1693.0,235.0 1693.2,240.4 1693.4,245.8 1693.6,251.1 1693.8,256.5 1694.0,261.9 1694.2,267.3 1694.4,272.7 1694.6,278.1 1694.8,283.4 1695.0,288.8 1695.2,294.2 1695.4,299.6 1695.6,305.0 1695.8,310.3 1696.0,315.7 1696.2,321.1 1696.4,326.5 1696.6,331.9 1696.8,337.3 1697.0,342.6 1697.2,348.0 1697.4,353.4 1697.6,358.8 1697.8,364.2 1698.0,369.5 1698.2,374.9 1698.4,380.3 1698.5,383.0"/>
<path class="cv" stroke="#008000" d="M300.0,976.5 301.0,976.6 302.0,976.7 303.0,976.7 304.0,976.8 305.0,976.9 306.0,976.9 307.0,977.0 308.0,977.1 309.0,977.1 310.0,977.2 311.0,977.3 312.0,977.3 313.0,977.4 314.0,977.4 315.0,977.5 316.0,977.5 317.0,977.6 318.0,977.6 319.0,977.7 320.0,977.7 321.0,977.8 322.0,977.8 323.0,977.8 324.0,977.9 325.0,977.9 326.0,977.9 327.0,978.0 328.0,978.0 329.0,978.0 330.0,978.0 331.0,978.1 332.0,978.1 333.0,978.1 334.0,978.1 335.0,978.1 336.0,978.2 337.0,978.2 338.0,978.2 339.0,978.2 340.0,978.2 341.0,978.2 342.0,978.2 342.9,978.2 343.0,978.2 344.0,978.2 345.0,978.2 346.0,978.2 347.0,978.2 348.0,978.1 349.0,978.1 350.0,978.1 351.0,978.1 352.0,978.0 353.0,978.0 354.0,977.9 355.0,977.9 356.0,977.9 357.0,977.8 358.0,977.7 359.0,977.7 360.0,977.6 361.0,977.6 362.0,977.5 363.0,977.4 364.0,977.4 365.0,977.3 366.0,977.2 367.0,977.2 368.0,977.1 369.0,977.0 370.0,977.0 371.0,976.9 372.0,976.8 373.0,976.7 374.0,976.6 375.0,976.6 376.0,976.5 377.0,976.4 378.0,976.3 379.0,976.3 380.0,976.2 381.0,976.1 382.0,976.0 383.0,976.0 384.0,975.9 385.0,975.8 386.0,975.7 387.0,975.7 388.0,975.6 389.0,975.5 390.0,975.5 391.0,975.4 392.0,975.3 393.0,975.3 394.0,975.2 395.0,975.2 396.0,975.1 397.0,975.1 398.0,975.0 399.0,975.0 400.0,974.9 401.0,974.9 402.0,974.9 403.0,974.8 404.0,974.8 405.0,974.8 406.0,974.7 407.0,974.7 408.0,974.6 409.0,974.6 410.0,974.6 411.0,974.5 412.0,974.5 413.0,974.5 414.0,974.4 415.0,974.4 416.0,974.4 417.0,974.3 418.0,974.3 419.0,974.3 420.0,974.2 421.0,974.2 422.0,974.2 423.0,974.1 424.0,974.1 425.0,974.1 426.0,974.1 427.0,974.0 428.0,974.0 429.0,974.0 430.0,974.0 431.0,974.0 432.0,974.0 433.0,973.9 434.0,973.9 435.0,973.9 436.0,973.9 437.0,973.9 438.0,973.9 438.9,973.9 439.0,973.9 440.0,973.9 441.0,973.9 442.0,973.9 443.0,973.9 444.0,973.9 445.0,973.9 446.0,973.9 447.0,974.0 448.0,974.0 449.0,974.0 450.0,974.0 451.0,974.0 452.0,974.1 453.0,974.1 454.0,974.1 455.0,974.1 456.0,974.2 457.0,974.2 458.0,974.3 459.0,974.3 460.0,974.3 461.0,974.4 462.0,974.4 463.0,974.5 464.0,974.5 465.0,974.6 466.0,974.6 467.0,974.7 468.0,974.7 469.0,974.8 470.0,974.8 471.0,974.9 472.0,975.0 473.0,975.0 474.0,975.1 475.0,975.2 476.0,975.2 477.0,975.3 478.0,975.4 479.0,975.5 480.0,975.6 481.0,975.6 481.8,975.7 482.0,975.7 483.0,975.8 484.0,976.0 485.0,976.3 486.0,976.6 487.0,976.9 488.0,977.2 489.0,977.6 490.0,978.0 491.0,978.4 492.0,978.8 493.0,979.3 494.0,979.7 495.0,980.0 496.0,980.4 496.9,980.7 497.0,980.7 498.0,981.1 499.0,981.4 500.0,981.8 501.0,982.2 502.0,982.6 503.0,983.0 504.0,983.4 505.0,983.7 506.0,984.0 507.0,984.2 508.0,984.4 509.0,984.5 509.5,984.5 510.0,984.5 511.0,984.5 512.0,984.4 513.0,984.3 514.0,984.2 515.0,984.1 516.0,983.9 517.0,983.7 518.0,983.6 519.0,983.4 520.0,983.2 521.0,983.0 522.0,982.8 523.0,982.6 524.0,982.4 525.0,982.3 526.0,982.1 527.0,982.0 527.2,982.0 528.0,981.9 529.0,981.8 530.0,981.7 531.0,981.6 532.0,981.5 533.0,981.4 534.0,981.2 535.0,981.1 536.0,981.0 537.0,980.9 538.0,980.8 539.0,980.7 540.0,980.6 541.0,980.5 542.0,980.4 543.0,980.3 544.0,980.2 545.0,980.1 546.0,980.0 547.0,979.9 548.0,979.8 549.0,979.7 550.0,979.6 551.0,979.5 552.0,979.4 553.0,979.4 554.0,979.3 555.0,979.2 556.0,979.2 557.0,979.1 558.0,979.1 559.0,979.0 560.0,979.0 561.0,979.0 562.0,978.9 563.0,978.9 564.0,978.9 565.0,978.9 565.1,978.9 566.0,978.9 567.0,978.9 568.0,978.9 569.0,978.9 570.0,978.9 571.0,978.9 572.0,978.9 573.0,978.9 574.0,978.9 575.0,978.9 576.0,978.9 577.0,978.9 578.0,978.9 579.0,978.9 580.0,978.9 581.0,978.9 582.0,978.9 583.0,978.9 584.0,978.9 585.0,978.9 586.0,978.9 587.0,978.9 588.0,978.9 589.0,978.9 590.0,978.9 591.0,978.9 592.0,978.9 593.0,978.9 594.0,978.9 595.0,978.9 596.0,978.9 597.0,978.9 598.0,978.9 599.0,978.9 600.0,978.9 601.0,978.9 602.0,978.9 603.0,978.9 604.0,978.9 605.0,978.9 606.0,978.9 607.0,978.9 608.0,978.9 609.0,978.9 610.0,978.9 611.0,978.9 612.0,978.9 613.0,978.9 614.0,978.9 615.0,978.9 615.6,978.9 616.0,978.9 617.0,978.9 618.0,978.9 619.0,978.9 620.0,978.9 621.0,978.9 622.0,978.9 623.0,979.0 624.0,979.0 625.0,979.0 626.0,979.0 627.0,979.0 628.0,979.0 629.0,979.1 630.0,979.1 631.0,979.1 632.0,979.2 633.0,979.2 634.0,979.2 635.0,979.2 636.0,979.3 637.0,979.3 638.0,979.3 639.0,979.4 640.0,979.4 641.0,979.5 642.0,979.5 643.0,979.5 644.0,979.6 645.0,979.6 646.0,979.7 647.0,979.7 648.0,979.8 649.0,979.8 650.0,979.8 651.0,979.9 652.0,979.9 653.0,980.0 653.5,980.0 654.0,980.0 655.0,980.1 656.0,980.1 657.0,980.2 658.0,980.3 659.0,980.3 660.0,980.4 661.0,980.5 662.0,980.6 663.0,980.6 664.0,980.7 665.0,980.8 666.0,980.9 667.0,981.0 668.0,981.1 669.0,981.2 670.0,981.4 671.0,981.5 672.0,981.6 673.0,981.7 674.0,981.8 675.0,982.0 676.0,982.1 677.0,982.2 678.0,982.4 679.0,982.5 680.0,982.7 681.0,982.8 682.0,983.0 683.0,983.1 684.0,983.3 685.0,983.5 686.0,983.6 687.0,983.8 688.0,984.0 689.0,984.1 690.0,984.3 691.0,984.5 692.0,984.7 693.0,984.9 694.0,985.0 695.0,985.2 696.0,985.4 697.0,985.6 698.0,985.8 699.0,986.0 700.0,986.2 701.0,986.4 702.0,986.6 703.0,986.8 704.0,987.0 705.0,987.2 706.0,987.5 707.0,987.7 708.0,988.0 709.0,988.3 710.0,988.7 711.0,989.0 712.0,989.4 713.0,989.7 714.0,990.1 715.0,990.4 716.0,990.7 717.0,991.1 718.0,991.4 719.0,991.7 720.0,992.0 721.0,992.3 722.0,992.6 723.0,993.0 724.0,993.3 725.0,993.6 726.0,993.9 727.0,994.1 728.0,994.2 729.0,994.3 730.0,994.3 731.0,994.2 732.0,994.1 733.0,994.0 734.0,993.8 735.0,993.6 736.0,993.4 737.0,993.1 738.0,992.9 739.0,992.6 740.0,992.3 741.0,992.0 742.0,991.7 743.0,991.4 744.0,991.2 745.0,990.9 745.4,990.8 746.0,990.6 747.0,990.4 748.0,990.1 749.0,989.8 750.0,989.4 751.0,989.1 752.0,988.7 753.0,988.4 754.0,988.0 755.0,987.6 756.0,987.3 757.0,986.9 758.0,986.5 759.0,986.1 760.0,985.8 761.0,985.4 762.0,985.1 763.0,984.7 764.0,984.4 765.0,984.1 766.0,983.8 767.0,983.6 768.0,983.3 769.0,983.1 770.0,982.9 770.7,982.8 771.0,982.8 772.0,982.6 773.0,982.4 774.0,982.3 775.0,982.1 776.0,982.0 777.0,981.8 778.0,981.7 779.0,981.6 780.0,981.4 781.0,981.3 782.0,981.2 783.0,981.0 784.0,980.9 785.0,980.8 786.0,980.7 787.0,980.6 788.0,980.5 789.0,980.5 790.0,980.4 791.0,980.3 792.0,980.3 793.0,980.2 794.0,980.2 795.0,980.2 795.9,980.2 796.0,980.2 797.0,980.2 798.0,980.3 799.0,980.4 800.0,980.5 801.0,980.6 802.0,980.8 803.0,980.9 804.0,981.1 805.0,981.3 806.0,981.5 807.0,981.6 808.0,981.8 809.0,981.9 810.0,982.1 811.0,982.2 812.0,982.3 813.0,982.3 813.6,982.3 814.0,982.3 815.0,982.3 816.0,982.2 817.0,982.2 818.0,982.1 819.0,982.0 820.0,981.9 821.0,981.7 822.0,981.6 823.0,981.4 824.0,981.3 825.0,981.1 826.0,980.9 827.0,980.7 828.0,980.4 829.0,980.2 830.0,980.0 831.0,979.7 832.0,979.5 833.0,979.2 834.0,979.0 835.0,978.7 836.0,978.5 837.0,978.2 838.0,978.0 839.0,977.7 840.0,977.5 841.0,977.2 842.0,977.0 843.0,976.8 844.0,976.5 845.0,976.3 846.0,976.1 847.0,975.9 848.0,975.7 849.0,975.6 850.0,975.4 851.0,975.3 851.5,975.2 852.0,975.1 853.0,975.0 854.0,974.9 855.0,974.8 856.0,974.6 857.0,974.5 858.0,974.4 859.0,974.3 860.0,974.1 861.0,974.0 862.0,973.9 863.0,973.8 864.0,973.7 865.0,973.6 866.0,973.5 867.0,973.3 868.0,973.2 869.0,973.1 870.0,973.0 871.0,973.0 872.0,972.9 873.0,972.8 874.0,972.7 875.0,972.6 876.0,972.5 877.0,972.5 878.0,972.4 879.0,972.3 880.0,972.3 881.0,972.2 881.8,972.2 882.0,972.2 883.0,972.1 884.0,972.1 885.0,972.1 886.0,972.0 887.0,972.0 888.0,971.9 889.0,971.9 890.0,971.9 891.0,971.8 892.0,971.8 893.0,971.7 894.0,971.7 895.0,971.7 896.0,971.6 897.0,971.6 898.0,971.6 899.0,971.5 900.0,971.5 901.0,971.5 902.0,971.5 903.0,971.5 904.0,971.4 905.0,971.4 906.0,971.4 907.0,971.4 908.0,971.4 909.0,971.4 909.5,971.4 910.0,971.4 911.0,971.5 912.0,971.6 913.0,971.8 914.0,972.0 915.0,972.3 916.0,972.6 917.0,973.0 918.0,973.3 919.0,973.7 920.0,974.0 921.0,974.4 922.0,974.8 923.0,975.1 924.0,975.4 925.0,975.7 926.0,976.0 927.0,976.2 928.0,976.3 929.0,976.4 929.7,976.4 930.0,976.4 931.0,976.3 932.0,976.2 933.0,976.0 934.0,975.7 935.0,975.4 936.0,975.0 937.0,974.6 938.0,974.2 939.0,973.8 940.0,973.4 941.0,973.0 942.0,972.6 943.0,972.3 944.0,972.0 945.0,971.7 946.0,971.6 947.0,971.4 947.4,971.4 948.0,971.4 949.0,971.3 950.0,971.3 951.0,971.2 952.0,971.2 953.0,971.2 954.0,971.1 955.0,971.1 956.0,971.1 957.0,971.0 958.0,971.0 959.0,971.0 960.0,971.0 961.0,970.9 962.0,970.9 963.0,970.9 964.0,970.9 965.0,970.9 966.0,970.9 967.0,970.8 968.0,970.8 969.0,970.8 970.0,970.8 971.0,970.8 972.0,970.7 973.0,970.7 974.0,970.7 975.0,970.7 976.0,970.6 977.0,970.6 977.7,970.6 978.0,970.6 979.0,970.6 980.0,970.5 981.0,970.5 982.0,970.5 983.0,970.4 984.0,970.4 985.0,970.4 986.0,970.4 987.0,970.3 988.0,970.3 989.0,970.3 990.0,970.2 991.0,970.2 992.0,970.2 993.0,970.1 994.0,970.1 995.0,970.1 996.0,970.0 997.0,970.0 998.0,970.0 999.0,970.0 1000.0,969.9 1001.0,969.9 1002.0,969.9 1003.0,969.8 1004.0,969.8 1005.0,969.8 1006.0,969.7 1007.0,969.7 1008.0,969.7 1009.0,969.6 1010.0,969.6 1011.0,969.5 1012.0,969.5 1013.0,969.5 1014.0,969.4 1015.0,969.4 1016.0,969.4 1017.0,969.3 1018.0,969.3 1019.0,969.3 1020.0,969.2 1021.0,969.2 1022.0,969.1 1023.0,969.1 1024.0,969.1 1025.0,969.0 1026.0,969.0 1027.0,968.9 1028.0,968.9 1028.2,968.9 1029.0,968.9 1030.0,968.8 1031.0,968.8 1032.0,968.7 1033.0,968.7 1034.0,968.6 1035.0,968.6 1036.0,968.5 1037.0,968.5 1038.0,968.4 1039.0,968.4 1040.0,968.3 1041.0,968.2 1042.0,968.2 1043.0,968.1 1044.0,968.1 1045.0,968.0 1046.0,967.9 1047.0,967.9 1048.0,967.8 1049.0,967.8 1050.0,967.7 1051.0,967.6 1052.0,967.6 1053.0,967.5 1054.0,967.4 1055.0,967.4 1056.0,967.3 1057.0,967.3 1058.0,967.2 1059.0,967.1 1060.0,967.1 1061.0,967.0 1062.0,967.0 1063.0,966.9 1064.0,966.9 1065.0,966.8 1066.0,966.8 1067.0,966.7 1068.0,966.7 1069.0,966.6 1070.0,966.6 1071.0,966.5 1072.0,966.5 1073.0,966.5 1074.0,966.4 1075.0,966.4 1076.0,966.4 1077.0,966.3 1078.0,966.3 1078.7,966.3 1079.0,966.3 1080.0,966.3 1081.0,966.3 1082.0,966.2 1083.0,966.2 1084.0,966.2 1085.0,966.2 1086.0,966.2 1087.0,966.2 1088.0,966.2 1089.0,966.2 1090.0,966.1 1091.0,966.1 1092.0,966.1 1093.0,966.1 1094.0,966.1 1095.0,966.1 1096.0,966.1 1097.0,966.1 1098.0,966.0 1099.0,966.0 1100.0,966.0 1101.0,966.0 1102.0,966.0 1103.0,965.9 1104.0,965.9 1105.0,965.9 1106.0,965.9 1107.0,965.8 1108.0,965.8 1109.0,965.8 1110.0,965.7 1111.0,965.7 1112.0,965.7 1113.0,965.6 1114.0,965.6 1115.0,965.5 1116.0,965.5 1117.0,965.5 1118.0,965.4 1119.0,965.4 1120.0,965.3 1121.0,965.3 1122.0,965.3 1123.0,965.2 1124.0,965.2 1125.0,965.1 1126.0,965.1 1127.0,965.0 1128.0,965.0 1129.0,964.9 1130.0,964.9 1131.0,964.9 1132.0,964.8 1133.0,964.8 1134.0,964.7 1135.0,964.7 1136.0,964.6 1137.0,964.6 1138.0,964.6 1139.0,964.5 1140.0,964.5 1141.0,964.4 1142.0,964.4 1143.0,964.4 1144.0,964.3 1145.0,964.3 1146.0,964.2 1147.0,964.2 1148.0,964.2 1149.0,964.1 1150.0,964.1 1150.5,964.1 1151.0,964.1 1152.0,964.1 1153.0,964.0 1154.0,964.0 1155.0,964.0 1156.0,964.0 1157.0,963.9 1158.0,963.9 1159.0,963.9 1160.0,963.9 1161.0,963.8 1162.0,963.8 1163.0,963.8 1164.0,963.8 1165.0,963.8 1166.0,963.7 1167.0,963.7 1168.0,963.7 1169.0,963.7 1170.0,963.7 1171.0,963.7 1172.0,963.6 1173.0,963.6 1174.0,963.6 1175.0,963.6 1176.0,963.6 1177.0,963.5 1178.0,963.5 1179.0,963.5 1180.0,963.5 1181.0,963.5 1182.0,963.4 1183.0,963.4 1184.0,963.4 1185.0,963.4 1186.0,963.4 1187.0,963.3 1188.0,963.3 1189.0,963.3 1190.0,963.3 1191.0,963.2 1192.0,963.2 1193.0,963.2 1194.0,963.1 1195.0,963.1 1196.0,963.1 1197.0,963.0 1198.0,963.0 1199.0,963.0 1200.0,962.9 1201.0,962.9 1202.0,962.9 1203.0,962.8 1204.0,962.7 1205.0,962.7 1206.0,962.6 1207.0,962.5 1208.0,962.4 1209.0,962.3 1210.0,962.2 1211.0,962.1 1212.0,962.0 1213.0,961.9 1214.0,961.7 1215.0,961.6 1216.0,961.5 1217.0,961.3 1218.0,961.2 1219.0,961.0 1220.0,960.9 1221.0,960.7 1222.0,960.6 1223.0,960.4 1224.0,960.3 1225.0,960.1 1226.0,959.9 1227.0,959.8 1228.0,959.6 1229.0,959.5 1230.0,959.3 1231.0,959.1 1232.0,959.0 1233.0,958.8 1234.0,958.7 1235.0,958.5 1236.0,958.4 1237.0,958.2 1238.0,958.1 1239.0,957.9 1240.0,957.8 1241.0,957.7 1242.0,957.5 1243.0,957.4 1244.0,957.3 1245.0,957.2 1246.0,957.1 1247.0,957.0 1248.0,956.9 1249.0,956.8 1250.0,956.7 1251.0,956.6 1251.5,956.6 1252.0,956.6 1253.0,956.5 1254.0,956.5 1255.0,956.4 1256.0,956.3 1257.0,956.3 1258.0,956.2 1259.0,956.2 1260.0,956.1 1261.0,956.1 1262.0,956.1 1263.0,956.0 1264.0,956.0 1265.0,955.9 1266.0,955.9 1267.0,955.9 1268.0,955.8 1269.0,955.8 1270.0,955.8 1271.0,955.7 1272.0,955.7 1273.0,955.7 1274.0,955.7 1275.0,955.6 1276.0,955.6 1277.0,955.6 1278.0,955.6 1279.0,955.5 1280.0,955.5 1281.0,955.5 1282.0,955.5 1283.0,955.4 1284.0,955.4 1285.0,955.4 1286.0,955.3 1287.0,955.3 1288.0,955.3 1289.0,955.3 1290.0,955.2 1291.0,955.2 1292.0,955.2 1293.0,955.1 1294.0,955.1 1295.0,955.1 1296.0,955.0 1297.0,955.0 1298.0,955.0 1299.0,954.9 1300.0,954.9 1301.0,954.8 1302.0,954.8 1303.0,954.7 1304.0,954.7 1305.0,954.6 1306.0,954.6 1307.0,954.5 1308.0,954.5 1309.0,954.4 1310.0,954.3 1311.0,954.3 1312.0,954.2 1313.0,954.1 1314.0,954.0 1314.6,954.0 1315.0,954.0 1316.0,953.9 1317.0,953.7 1318.0,953.6 1319.0,953.4 1320.0,953.2 1321.0,953.0 1322.0,952.7 1323.0,952.5 1324.0,952.2 1325.0,951.9 1326.0,951.6 1327.0,951.3 1328.0,951.0 1329.0,950.7 1330.0,950.4 1331.0,950.1 1332.0,949.8 1333.0,949.5 1334.0,949.2 1335.0,948.9 1336.0,948.6 1337.0,948.3 1338.0,948.1 1339.0,947.9 1339.8,947.7 1340.0,947.7 1341.0,947.5 1342.0,947.3 1343.0,947.1 1344.0,946.9 1345.0,946.7 1346.0,946.6 1347.0,946.4 1348.0,946.3 1349.0,946.1 1350.0,946.0 1351.0,945.8 1352.0,945.7 1353.0,945.5 1354.0,945.4 1355.0,945.3 1356.0,945.1 1357.0,945.0 1358.0,944.8 1359.0,944.7 1360.0,944.6 1361.0,944.4 1362.0,944.3 1363.0,944.1 1364.0,944.0 1365.0,943.8 1366.0,943.7 1367.0,943.5 1368.0,943.3 1369.0,943.2 1370.0,943.0 1371.0,942.8 1372.0,942.6 1373.0,942.4 1374.0,942.2 1375.0,942.0 1376.0,941.8 1377.0,941.6 1377.7,941.4 1378.0,941.3 1379.0,941.1 1380.0,940.8 1381.0,940.5 1382.0,940.2 1383.0,939.9 1384.0,939.6 1385.0,939.2 1386.0,938.9 1387.0,938.5 1388.0,938.1 1389.0,937.7 1390.0,937.3 1391.0,936.9 1392.0,936.5 1393.0,936.1 1394.0,935.6 1395.0,935.2 1396.0,934.7 1397.0,934.2 1398.0,933.8 1399.0,933.3 1400.0,932.8 1401.0,932.3 1402.0,931.8 1403.0,931.3 1404.0,930.8 1405.0,930.2 1406.0,929.7 1407.0,929.1 1408.0,928.5 1409.0,927.9 1410.0,927.3 1411.0,926.6 1412.0,926.0 1413.0,925.3 1414.0,924.6 1415.0,923.9 1416.0,923.1 1417.0,922.4 1418.0,921.6 1419.0,920.8 1420.0,920.0 1420.6,919.5 1421.0,919.2 1422.0,918.3 1423.0,917.4 1424.0,916.5 1425.0,915.6 1426.0,914.6 1427.0,913.5 1428.0,912.5 1429.0,911.4 1430.0,910.2 1431.0,909.0 1432.0,907.8 1433.0,906.5 1433.8,905.4 1434.0,905.1 1435.0,903.7 1436.0,902.1 1437.0,900.5 1438.0,898.8 1439.0,897.0 1440.0,895.1 1441.0,893.1 1442.0,891.0 1443.0,888.9 1444.0,886.7 1444.1,886.5 1445.0,884.4 1446.0,882.0 1447.0,879.5 1448.0,876.8 1449.0,874.0 1450.0,871.0 1450.5,869.5 1451.0,867.9 1451.5,866.4 1452.0,864.7 1452.5,863.1 1452.7,862.4 1453.0,861.3 1453.5,859.4 1454.0,857.3 1454.5,855.2 1455.0,853.0 1455.5,850.8 1456.0,848.7 1456.5,846.8 1457.0,845.0 1457.5,843.4 1458.0,841.9 1459.0,839.0 1460.0,836.4 1461.0,833.9 1462.0,831.5 1463.0,829.1 1464.0,826.8 1465.0,824.4 1466.0,822.0 1467.0,819.4 1468.0,816.6 1468.2,816.0 1469.0,813.6 1469.5,812.1 1470.0,810.5 1470.5,809.0 1471.0,807.4 1471.5,805.7 1472.0,804.1 1472.5,802.4 1473.0,800.7 1473.5,799.0 1474.0,797.3 1474.5,795.6 1475.0,793.8 1475.5,792.1 1476.0,790.3 1476.5,788.5 1477.0,786.7 1477.5,784.9 1478.0,783.1 1478.5,781.3 1479.0,779.4 1479.5,777.6 1480.0,775.7 1480.2,775.0 1480.5,773.9 1481.0,772.0 1481.5,770.1 1482.0,768.1 1482.5,766.1 1483.0,764.1 1483.5,762.1 1484.0,760.1 1484.5,758.0 1485.0,756.0 1485.5,753.9 1486.0,751.9 1486.5,749.8 1487.0,747.8 1487.5,745.8 1488.0,743.8 1488.5,741.9 1488.8,740.7 1489.0,739.9 1489.5,738.1 1490.0,736.3 1490.5,734.6 1491.0,732.9 1491.5,731.2 1492.0,729.5 1492.5,727.8 1493.0,726.0 1493.5,724.2 1494.0,722.3 1494.5,720.3 1495.0,718.1 1495.5,715.9 1495.7,714.9 1496.0,713.4 1496.5,710.5 1497.0,707.3 1497.5,703.9 1498.0,700.3 1498.5,696.6 1499.0,692.9 1499.5,689.3 1500.0,685.9 1500.5,682.8 1500.9,680.5 1501.0,680.0 1501.5,677.1 1502.0,674.0 1502.5,670.9 1503.0,668.0 1503.5,665.3 1504.0,663.2 1504.5,661.6 1505.2,660.7 1505.5,660.8 1506.5,662.2 1507.5,665.0 1508.0,666.9 1508.5,668.9 1509.0,671.0 1509.5,673.2 1510.0,675.4 1510.5,677.6 1511.0,679.7 1511.2,680.5 1511.5,681.7 1512.0,683.9 1512.5,686.2 1513.0,688.6 1513.5,691.2 1514.0,693.8 1514.5,696.5 1515.0,699.1 1515.5,701.8 1516.0,704.5 1516.5,707.1 1517.0,709.7 1517.5,712.1 1518.0,714.5 1518.1,714.9 1518.5,716.7 1519.0,718.9 1519.5,721.1 1520.0,723.2 1520.5,725.3 1521.0,727.5 1521.5,729.5 1522.0,731.6 1522.5,733.6 1523.0,735.6 1523.5,737.6 1524.0,739.5 1524.5,741.4 1525.0,743.3 1525.5,745.1 1526.0,746.9 1526.5,748.6 1526.7,749.3 1527.0,750.3 1527.5,752.1 1528.0,753.8 1528.5,755.5 1529.0,757.3 1529.5,759.0 1530.0,760.7 1530.5,762.4 1531.0,764.0 1531.5,765.6 1532.0,767.1 1533.0,769.9 1534.0,772.4 1535.0,774.5 1535.3,775.0 1536.0,776.2 1537.0,777.7 1538.0,779.1 1539.0,780.3 1540.0,781.5 1541.0,782.6 1542.0,783.6 1543.0,784.6 1544.0,785.6 1545.0,786.6 1546.0,787.6 1547.0,788.6 1547.4,789.0 1548.0,789.6 1549.0,790.7 1550.0,791.7 1551.0,792.7 1552.0,793.7 1553.0,794.7 1554.0,795.7 1555.0,796.6 1556.0,797.5 1557.0,798.5 1558.0,799.6 1559.0,800.5 1560.0,801.0 1560.3,801.0 1561.0,800.8 1562.0,800.0 1563.0,798.6 1564.0,796.9 1565.0,794.9 1566.0,793.0 1566.3,792.4 1567.0,790.7 1568.0,787.5 1568.5,785.7 1569.0,783.9 1569.5,782.3 1570.0,780.8 1571.0,778.9 1571.5,778.6 1572.0,778.6 1573.0,778.8 1574.0,779.1 1575.0,779.5 1576.0,780.0 1577.0,780.5 1578.0,781.0 1579.0,781.4 1580.0,781.7 1581.0,781.9 1581.8,782.0 1582.0,781.9 1583.0,780.3 1584.0,776.5 1584.5,774.1 1585.0,771.3 1585.5,768.3 1586.0,765.1 1586.5,761.7 1587.0,758.3 1587.5,754.9 1588.0,751.5 1588.5,748.3 1589.0,745.3 1589.5,742.5 1590.0,740.0 1590.5,737.9 1591.0,735.8 1591.5,733.8 1592.0,731.7 1592.5,729.6 1593.0,727.5 1593.5,725.5 1594.0,723.4 1594.5,721.3 1595.0,719.2 1595.5,717.1 1596.0,715.1 1596.5,713.0 1597.0,710.9 1597.5,708.8 1598.0,706.8 1598.5,704.7 1599.0,702.6 1599.5,700.5 1600.5,696.4 1601.0,694.3 1601.5,693.7 1602.5,692.4 1603.5,691.2 1604.5,689.9 1605.5,688.7 1606.5,687.4 1607.5,686.1 1608.5,684.9 1609.5,683.6 1610.5,682.4 1611.5,681.1 1612.0,680.5 1612.5,673.8 1613.0,667.1 1613.2,664.4 1613.4,661.7 1613.6,659.0 1613.8,656.3 1614.0,653.6 1614.2,650.9 1614.4,648.2 1614.6,645.5 1614.8,642.9 1615.0,640.2 1615.2,637.5 1615.4,634.8 1615.6,632.1 1615.8,629.4 1616.0,626.7 1616.2,624.0 1616.4,621.3 1616.5,620.0 1616.6,619.2 1617.1,615.5 1617.3,614.0 1617.5,612.5 1617.7,611.0 1617.9,609.5 1618.4,605.7 1618.9,602.0 1619.4,598.2 1619.9,594.5 1620.4,590.7 1620.5,590.0 1621.4,591.5 1622.4,593.3 1623.4,595.0 1624.0,596.0 1624.4,595.5 1625.4,594.4 1626.4,593.2 1627.4,592.0 1628.4,590.8 1629.1,590.0 1629.4,588.0 1629.9,584.5 1630.4,581.1 1630.9,577.7 1631.4,574.3 1631.9,570.9 1632.4,567.5 1632.9,564.1 1633.0,563.4 1633.4,558.9 1633.6,556.7 1633.8,554.4 1634.0,552.2 1634.2,550.0 1634.4,547.7 1634.6,545.5 1634.8,543.2 1635.0,541.0 1635.3,539.2 1635.8,536.2 1636.3,533.3 1636.8,530.3 1637.3,527.3 1637.8,524.3 1638.3,521.4 1638.8,518.4 1639.3,515.4 1639.8,512.4 1640.3,509.5 1640.8,506.5 1640.8,506.5 1641.3,503.6 1641.8,500.7 1642.3,497.9 1642.8,495.0 1643.3,492.1 1643.8,489.2 1644.3,486.4 1644.8,483.5 1645.3,480.6 1645.8,477.7 1646.3,474.9 1646.8,472.0 1646.8,472.0 1647.3,467.0 1647.8,462.1 1648.3,457.1 1648.5,455.2 1648.7,453.2 1648.9,451.2 1649.1,449.2 1649.3,447.2 1649.5,445.3 1649.7,443.3 1649.9,441.3 1650.1,439.3 1650.3,437.3 1650.5,435.4 1650.7,433.4 1650.9,431.4 1651.4,426.4 1651.9,421.5 1652.0,420.5 1652.4,418.4 1652.9,415.7 1653.4,413.0 1653.9,410.3 1654.4,407.6 1654.9,405.0 1655.4,402.3 1655.9,399.6 1656.5,396.4 1656.9,396.6 1657.9,396.9 1658.9,397.3 1659.9,397.7 1660.9,398.1 1661.9,398.4 1662.9,398.8 1663.9,399.2 1664.9,399.6 1665.9,400.0 1666.0,400.0 1666.9,402.3 1667.9,404.9 1668.9,407.5 1669.4,408.8 1669.9,410.1 1670.4,411.4 1670.9,412.7 1671.4,414.0 1671.9,415.3 1672.9,417.9 1673.9,420.5 1673.9,420.5 1674.7,368.8 1674.9,364.4 1675.1,359.9 1675.3,355.5 1675.5,351.1 1675.7,346.6 1675.9,342.2 1676.0,340.0 1676.1,338.2 1676.3,334.7 1676.5,331.2 1676.7,327.7 1676.9,324.2 1677.1,320.7 1677.3,317.2 1677.3,317.2 1677.5,315.9 1677.7,314.6 1677.9,313.3 1678.1,312.0 1678.3,310.7 1678.5,309.4 1679.0,306.1 1679.5,302.9 1680.0,299.6 1680.5,296.3 1681.0,293.1 1681.5,289.8 1682.0,286.6 1682.5,283.3 1683.0,280.0 1683.5,276.8 1684.0,273.5 1685.0,267.0 1685.0,267.0 1686.0,290.5 1686.2,295.3 1686.4,300.0 1686.6,304.7 1686.8,309.4 1687.0,314.1 1687.2,318.8 1687.4,323.5 1687.6,328.2 1687.8,332.9 1688.0,337.6 1688.2,342.3 1688.4,347.0 1688.6,351.8 1688.8,356.5 1689.0,361.2 1689.2,365.9 1689.4,370.6 1689.6,375.3 1689.8,380.0 1689.8,380.0 1690.0,386.6 1690.2,393.3 1690.4,399.9 1690.6,406.5 1690.8,413.2 1691.0,419.8 1691.2,426.4 1691.4,433.1 1691.6,439.7 1691.8,446.3 1692.0,453.0 1692.2,459.6 1692.4,466.2 1692.6,472.9 1692.8,479.5 1693.0,486.1 1693.2,492.8 1693.4,499.4 1693.6,506.0 1693.8,512.7 1694.0,519.3 1694.2,525.9 1694.4,532.6 1694.6,539.2 1694.8,545.8 1695.0,552.5 1695.2,559.1 1695.4,565.7 1695.6,572.4 1695.8,579.0 1696.0,585.6 1696.2,592.3 1696.4,598.9 1696.6,605.5 1696.8,612.2 1697.0,618.8 1697.2,625.4 1697.4,632.1 1697.6,638.7 1697.7,642.0"/>
<path class="cv" stroke="#0f0" d="M300.0,1026.0 301.0,1026.0 302.0,1026.1 303.0,1026.2 304.0,1026.2 305.0,1026.3 306.0,1026.4 307.0,1026.5 308.0,1026.6 309.0,1026.6 310.0,1026.7 311.0,1026.9 312.0,1027.0 313.0,1027.1 314.0,1027.2 315.0,1027.3 316.0,1027.4 317.0,1027.6 318.0,1027.7 319.0,1027.8 320.0,1028.0 321.0,1028.1 322.0,1028.2 323.0,1028.4 324.0,1028.5 325.0,1028.7 325.2,1028.7 326.0,1028.8 327.0,1029.0 328.0,1029.2 329.0,1029.4 330.0,1029.7 331.0,1029.9 332.0,1030.2 333.0,1030.5 334.0,1030.7 335.0,1031.0 336.0,1031.2 337.0,1031.5 338.0,1031.7 339.0,1031.9 340.0,1032.1 341.0,1032.3 342.0,1032.4 342.9,1032.5 343.0,1032.5 344.0,1032.6 345.0,1032.7 346.0,1032.8 347.0,1032.8 348.0,1032.9 349.0,1033.0 350.0,1033.1 351.0,1033.1 352.0,1033.2 353.0,1033.3 354.0,1033.3 355.0,1033.4 356.0,1033.4 357.0,1033.5 358.0,1033.5 359.0,1033.6 360.0,1033.6 361.0,1033.6 362.0,1033.7 363.0,1033.7 364.0,1033.7 365.0,1033.7 365.6,1033.7 366.0,1033.7 367.0,1033.7 368.0,1033.6 369.0,1033.5 370.0,1033.4 371.0,1033.2 372.0,1033.1 373.0,1032.9 374.0,1032.6 375.0,1032.4 376.0,1032.1 377.0,1031.9 378.0,1031.6 379.0,1031.2 380.0,1030.9 381.0,1030.6 382.0,1030.2 383.0,1029.8 384.0,1029.5 385.0,1029.1 386.0,1028.7 387.0,1028.3 388.0,1027.9 389.0,1027.5 390.0,1027.1 391.0,1026.7 392.0,1026.4 393.0,1026.0 394.0,1025.6 395.0,1025.2 395.9,1024.9 396.0,1024.9 397.0,1024.5 398.0,1024.1 399.0,1023.7 400.0,1023.3 401.0,1022.9 402.0,1022.4 403.0,1022.0 404.0,1021.5 405.0,1021.1 406.0,1020.6 407.0,1020.1 408.0,1019.6 409.0,1019.1 410.0,1018.7 411.0,1018.2 412.0,1017.7 413.0,1017.2 414.0,1016.7 415.0,1016.2 416.0,1015.8 417.0,1015.3 418.0,1014.9 419.0,1014.4 420.0,1014.0 421.0,1013.6 421.2,1013.5 422.0,1013.2 423.0,1012.8 424.0,1012.3 425.0,1011.9 426.0,1011.5 427.0,1011.1 428.0,1010.7 429.0,1010.3 430.0,1009.9 431.0,1009.5 432.0,1009.1 433.0,1008.7 434.0,1008.3 435.0,1008.0 436.0,1007.6 437.0,1007.3 438.0,1007.0 439.0,1006.7 440.0,1006.4 441.0,1006.1 441.4,1006.0 442.0,1005.8 443.0,1005.6 444.0,1005.4 445.0,1005.1 446.0,1004.9 447.0,1004.6 448.0,1004.4 449.0,1004.2 450.0,1004.0 451.0,1003.8 452.0,1003.5 453.0,1003.3 454.0,1003.2 455.0,1003.0 456.0,1002.8 457.0,1002.6 458.0,1002.5 459.0,1002.3 460.0,1002.2 461.0,1002.0 462.0,1001.9 463.0,1001.8 464.0,1001.7 464.1,1001.7 465.0,1001.6 466.0,1001.5 467.0,1001.4 468.0,1001.3 469.0,1001.3 470.0,1001.2 471.0,1001.1 472.0,1001.0 473.0,1000.9 474.0,1000.9 475.0,1000.8 476.0,1000.7 477.0,1000.6 478.0,1000.6 479.0,1000.5 480.0,1000.5 481.0,1000.4 482.0,1000.4 483.0,1000.3 484.0,1000.3 485.0,1000.3 486.0,1000.2 487.0,1000.2 488.0,1000.2 489.0,1000.2 489.3,1000.2 490.0,1000.2 491.0,1000.2 492.0,1000.2 493.0,1000.2 494.0,1000.2 495.0,1000.3 496.0,1000.3 497.0,1000.3 498.0,1000.3 499.0,1000.4 500.0,1000.4 501.0,1000.5 502.0,1000.5 503.0,1000.5 504.0,1000.6 505.0,1000.6 506.0,1000.7 507.0,1000.7 508.0,1000.8 509.0,1000.9 509.5,1000.9 510.0,1000.9 511.0,1001.0 512.0,1001.2 513.0,1001.4 514.0,1001.6 515.0,1001.8 516.0,1002.1 517.0,1002.4 518.0,1002.7 519.0,1003.1 520.0,1003.4 521.0,1003.8 522.0,1004.1 523.0,1004.5 524.0,1004.9 525.0,1005.2 526.0,1005.6 527.0,1005.9 527.2,1006.0 528.0,1006.3 529.0,1006.6 530.0,1007.0 531.0,1007.3 532.0,1007.7 533.0,1008.1 534.0,1008.5 535.0,1008.9 536.0,1009.3 537.0,1009.7 538.0,1010.1 539.0,1010.5 540.0,1010.9 541.0,1011.3 542.0,1011.8 543.0,1012.2 544.0,1012.6 545.0,1013.0 546.0,1013.4 547.0,1013.8 548.0,1014.2 549.0,1014.6 550.0,1015.0 551.0,1015.4 552.0,1015.8 552.5,1016.0 553.0,1016.2 554.0,1016.6 555.0,1016.9 556.0,1017.3 557.0,1017.7 558.0,1018.1 559.0,1018.5 560.0,1018.8 561.0,1019.2 562.0,1019.6 563.0,1020.0 564.0,1020.3 565.0,1020.7 566.0,1021.1 567.0,1021.4 568.0,1021.8 569.0,1022.1 570.0,1022.5 571.0,1022.8 572.0,1023.1 573.0,1023.5 574.0,1023.8 575.0,1024.1 576.0,1024.4 577.0,1024.7 577.7,1024.9 578.0,1025.0 579.0,1025.3 580.0,1025.5 581.0,1025.8 582.0,1026.1 583.0,1026.4 584.0,1026.6 585.0,1026.9 586.0,1027.2 587.0,1027.4 588.0,1027.7 589.0,1028.0 590.0,1028.2 591.0,1028.5 592.0,1028.7 593.0,1029.0 594.0,1029.2 595.0,1029.4 596.0,1029.7 597.0,1029.9 598.0,1030.2 599.0,1030.4 600.0,1030.6 601.0,1030.8 602.0,1031.1 603.0,1031.3 604.0,1031.5 605.0,1031.7 606.0,1031.9 607.0,1032.1 608.0,1032.3 609.0,1032.5 610.0,1032.7 611.0,1032.9 612.0,1033.1 613.0,1033.2 614.0,1033.4 615.0,1033.6 615.6,1033.7 616.0,1033.8 617.0,1033.9 618.0,1034.1 619.0,1034.3 620.0,1034.4 621.0,1034.6 622.0,1034.8 623.0,1035.0 624.0,1035.1 625.0,1035.3 626.0,1035.4 627.0,1035.6 628.0,1035.8 629.0,1035.9 630.0,1036.1 631.0,1036.2 632.0,1036.4 633.0,1036.5 634.0,1036.7 635.0,1036.8 636.0,1037.0 637.0,1037.1 638.0,1037.2 639.0,1037.4 640.0,1037.5 641.0,1037.6 642.0,1037.7 643.0,1037.9 644.0,1038.0 645.0,1038.1 646.0,1038.2 647.0,1038.3 648.0,1038.4 649.0,1038.5 650.0,1038.5 651.0,1038.6 652.0,1038.7 653.0,1038.8 653.5,1038.8 654.0,1038.8 655.0,1038.9 656.0,1039.0 657.0,1039.0 658.0,1039.1 659.0,1039.1 660.0,1039.2 661.0,1039.2 662.0,1039.3 663.0,1039.3 664.0,1039.4 665.0,1039.4 666.0,1039.5 667.0,1039.5 668.0,1039.6 669.0,1039.6 670.0,1039.7 671.0,1039.7 672.0,1039.7 673.0,1039.8 674.0,1039.8 675.0,1039.9 676.0,1039.9 677.0,1039.9 678.0,1040.0 679.0,1040.0 680.0,1040.0 681.0,1040.1 682.0,1040.1 683.0,1040.1 684.0,1040.2 685.0,1040.2 686.0,1040.2 687.0,1040.3 688.0,1040.3 689.0,1040.3 690.0,1040.4 691.0,1040.4 692.0,1040.4 693.0,1040.5 694.0,1040.5 695.0,1040.5 696.0,1040.5 697.0,1040.6 698.0,1040.6 699.0,1040.6 700.0,1040.7 701.0,1040.7 702.0,1040.7 703.0,1040.8 704.0,1040.8 705.0,1040.8 706.0,1040.9 707.0,1040.9 708.0,1040.9 709.0,1041.0 710.0,1041.0 711.0,1041.0 712.0,1041.1 713.0,1041.1 714.0,1041.1 715.0,1041.2 716.0,1041.2 717.0,1041.2 718.0,1041.3 719.0,1041.3 720.0,1041.3 721.0,1041.4 722.0,1041.4 723.0,1041.4 724.0,1041.5 725.0,1041.5 726.0,1041.5 727.0,1041.5 728.0,1041.6 729.0,1041.6 730.0,1041.6 731.0,1041.7 732.0,1041.7 733.0,1041.7 734.0,1041.7 735.0,1041.8 736.0,1041.8 737.0,1041.8 738.0,1041.9 739.0,1041.9 740.0,1041.9 741.0,1041.9 742.0,1041.9 743.0,1042.0 744.0,1042.0 745.0,1042.0 746.0,1042.0 747.0,1042.0 748.0,1042.1 749.0,1042.1 750.0,1042.1 750.5,1042.1 751.0,1042.1 752.0,1042.1 753.0,1042.1 754.0,1042.2 755.0,1042.2 756.0,1042.2 757.0,1042.2 758.0,1042.2 759.0,1042.2 760.0,1042.2 761.0,1042.3 762.0,1042.3 763.0,1042.3 764.0,1042.3 765.0,1042.3 766.0,1042.3 767.0,1042.3 768.0,1042.3 769.0,1042.4 770.0,1042.4 771.0,1042.4 772.0,1042.4 773.0,1042.4 774.0,1042.4 775.0,1042.4 776.0,1042.4 777.0,1042.5 778.0,1042.5 779.0,1042.5 780.0,1042.5 781.0,1042.5 782.0,1042.5 783.0,1042.5 784.0,1042.5 785.0,1042.5 786.0,1042.5 787.0,1042.5 788.0,1042.6 789.0,1042.6 790.0,1042.6 791.0,1042.6 792.0,1042.6 793.0,1042.6 794.0,1042.6 795.0,1042.6 796.0,1042.6 797.0,1042.6 798.0,1042.6 799.0,1042.6 800.0,1042.6 801.0,1042.6 802.0,1042.6 803.0,1042.6 804.0,1042.6 805.0,1042.6 806.0,1042.6 807.0,1042.6 808.0,1042.6 809.0,1042.6 810.0,1042.5 811.0,1042.5 812.0,1042.5 813.0,1042.5 814.0,1042.5 815.0,1042.5 816.0,1042.4 817.0,1042.4 818.0,1042.4 819.0,1042.4 820.0,1042.4 821.0,1042.3 822.0,1042.3 823.0,1042.3 824.0,1042.3 825.0,1042.2 826.0,1042.2 827.0,1042.2 828.0,1042.1 829.0,1042.1 830.0,1042.1 831.0,1042.1 832.0,1042.0 833.0,1042.0 834.0,1042.0 835.0,1041.9 836.0,1041.9 837.0,1041.9 838.0,1041.8 839.0,1041.8 840.0,1041.7 841.0,1041.7 842.0,1041.7 843.0,1041.6 844.0,1041.6 845.0,1041.6 846.0,1041.5 847.0,1041.5 848.0,1041.4 849.0,1041.4 850.0,1041.4 851.0,1041.3 851.5,1041.3 852.0,1041.3 853.0,1041.2 854.0,1041.2 855.0,1041.1 856.0,1041.1 857.0,1041.0 858.0,1041.0 859.0,1040.9 860.0,1040.8 861.0,1040.8 862.0,1040.7 863.0,1040.6 864.0,1040.5 865.0,1040.4 866.0,1040.4 867.0,1040.3 868.0,1040.2 869.0,1040.1 870.0,1040.0 871.0,1039.9 872.0,1039.8 873.0,1039.7 874.0,1039.6 875.0,1039.5 876.0,1039.4 877.0,1039.3 878.0,1039.2 879.0,1039.1 880.0,1039.0 881.0,1038.9 882.0,1038.8 883.0,1038.7 884.0,1038.6 885.0,1038.5 886.0,1038.4 887.0,1038.3 888.0,1038.2 889.0,1038.1 890.0,1038.0 891.0,1037.9 892.0,1037.8 893.0,1037.7 894.0,1037.7 895.0,1037.6 896.0,1037.5 897.0,1037.4 898.0,1037.3 899.0,1037.2 900.0,1037.1 901.0,1037.1 902.0,1037.0 903.0,1036.9 904.0,1036.9 905.0,1036.8 906.0,1036.7 907.0,1036.6 908.0,1036.5 909.0,1036.5 910.0,1036.4 911.0,1036.3 912.0,1036.2 913.0,1036.1 914.0,1036.0 915.0,1036.0 916.0,1035.9 917.0,1035.8 918.0,1035.7 919.0,1035.6 920.0,1035.6 921.0,1035.5 922.0,1035.4 923.0,1035.3 924.0,1035.3 925.0,1035.2 926.0,1035.1 927.0,1035.1 928.0,1035.0 929.0,1034.9 930.0,1034.9 931.0,1034.8 932.0,1034.8 933.0,1034.7 934.0,1034.7 935.0,1034.6 936.0,1034.6 937.0,1034.6 938.0,1034.6 939.0,1034.5 940.0,1034.5 941.0,1034.5 942.0,1034.5 942.4,1034.5 943.0,1034.5 944.0,1034.5 945.0,1034.6 946.0,1034.7 947.0,1034.8 948.0,1035.0 949.0,1035.1 950.0,1035.3 951.0,1035.5 952.0,1035.7 953.0,1035.8 954.0,1036.0 955.0,1036.2 956.0,1036.4 957.0,1036.5 958.0,1036.7 959.0,1036.8 960.0,1036.9 961.0,1037.0 962.0,1037.0 962.6,1037.0 963.0,1037.0 964.0,1037.0 965.0,1037.0 966.0,1037.0 967.0,1037.0 968.0,1037.0 969.0,1037.0 970.0,1037.0 971.0,1037.0 972.0,1037.0 973.0,1037.0 974.0,1037.0 975.0,1037.0 976.0,1037.0 977.0,1037.0 978.0,1037.0 979.0,1037.0 980.0,1037.0 981.0,1037.0 982.0,1037.0 983.0,1037.0 984.0,1037.0 985.0,1037.0 986.0,1037.0 987.0,1037.0 988.0,1037.0 989.0,1037.0 990.0,1037.0 991.0,1037.0 992.0,1037.0 993.0,1037.0 994.0,1037.0 995.0,1037.0 996.0,1037.0 997.0,1037.0 998.0,1037.0 999.0,1037.0 1000.0,1037.0 1001.0,1037.0 1002.0,1037.0 1003.0,1037.0 1004.0,1037.0 1005.0,1037.0 1006.0,1037.0 1007.0,1037.0 1008.0,1037.0 1009.0,1037.0 1010.0,1036.9 1011.0,1036.9 1012.0,1036.9 1013.0,1036.9 1014.0,1036.9 1015.0,1036.8 1016.0,1036.8 1017.0,1036.8 1018.0,1036.8 1019.0,1036.7 1020.0,1036.7 1021.0,1036.7 1022.0,1036.6 1023.0,1036.6 1024.0,1036.6 1025.0,1036.5 1026.0,1036.5 1027.0,1036.5 1028.0,1036.4 1029.0,1036.4 1030.0,1036.3 1031.0,1036.3 1032.0,1036.3 1033.0,1036.2 1034.0,1036.2 1035.0,1036.1 1036.0,1036.1 1037.0,1036.0 1038.0,1036.0 1039.0,1035.9 1040.0,1035.9 1041.0,1035.8 1042.0,1035.8 1043.0,1035.8 1044.0,1035.7 1045.0,1035.7 1046.0,1035.6 1047.0,1035.6 1048.0,1035.5 1049.0,1035.5 1050.0,1035.4 1051.0,1035.4 1052.0,1035.4 1053.0,1035.3 1053.5,1035.3 1054.0,1035.3 1055.0,1035.2 1056.0,1035.2 1057.0,1035.2 1058.0,1035.1 1059.0,1035.1 1060.0,1035.0 1061.0,1035.0 1062.0,1034.9 1063.0,1034.9 1064.0,1034.8 1065.0,1034.8 1066.0,1034.7 1067.0,1034.7 1068.0,1034.6 1069.0,1034.6 1070.0,1034.5 1071.0,1034.5 1072.0,1034.4 1073.0,1034.4 1074.0,1034.3 1075.0,1034.3 1076.0,1034.2 1077.0,1034.1 1078.0,1034.1 1079.0,1034.0 1080.0,1034.0 1081.0,1033.9 1082.0,1033.9 1083.0,1033.8 1084.0,1033.8 1085.0,1033.7 1086.0,1033.7 1087.0,1033.6 1088.0,1033.5 1089.0,1033.5 1090.0,1033.4 1091.0,1033.4 1092.0,1033.3 1093.0,1033.3 1094.0,1033.2 1095.0,1033.2 1096.0,1033.1 1097.0,1033.1 1098.0,1033.0 1099.0,1033.0 1100.0,1032.9 1101.0,1032.9 1102.0,1032.8 1103.0,1032.7 1104.0,1032.7 1105.0,1032.7 1106.0,1032.6 1107.0,1032.5 1108.0,1032.5 1109.0,1032.4 1110.0,1032.4 1111.0,1032.3 1112.0,1032.3 1113.0,1032.2 1114.0,1032.2 1115.0,1032.1 1116.0,1032.1 1117.0,1032.0 1118.0,1031.9 1119.0,1031.9 1120.0,1031.8 1121.0,1031.8 1122.0,1031.7 1123.0,1031.7 1124.0,1031.6 1125.0,1031.6 1126.0,1031.5 1127.0,1031.5 1128.0,1031.4 1129.0,1031.4 1130.0,1031.3 1131.0,1031.3 1132.0,1031.3 1133.0,1031.2 1134.0,1031.2 1135.0,1031.1 1136.0,1031.1 1137.0,1031.1 1138.0,1031.0 1139.0,1031.0 1140.0,1031.0 1141.0,1031.0 1142.0,1031.0 1143.0,1030.9 1144.0,1030.9 1145.0,1030.9 1146.0,1030.9 1147.0,1030.9 1148.0,1030.9 1149.0,1030.8 1150.0,1030.8 1151.0,1030.8 1152.0,1030.8 1153.0,1030.8 1154.0,1030.8 1155.0,1030.8 1156.0,1030.8 1157.0,1030.8 1158.0,1030.7 1159.0,1030.7 1160.0,1030.7 1161.0,1030.7 1162.0,1030.7 1163.0,1030.7 1164.0,1030.7 1165.0,1030.7 1166.0,1030.7 1167.0,1030.7 1168.0,1030.7 1169.0,1030.7 1170.0,1030.6 1171.0,1030.6 1172.0,1030.6 1173.0,1030.6 1174.0,1030.6 1175.0,1030.6 1176.0,1030.6 1177.0,1030.6 1178.0,1030.6 1179.0,1030.6 1180.0,1030.6 1181.0,1030.6 1182.0,1030.5 1183.0,1030.5 1184.0,1030.5 1185.0,1030.5 1186.0,1030.5 1187.0,1030.5 1188.0,1030.5 1189.0,1030.4 1190.0,1030.4 1191.0,1030.4 1192.0,1030.4 1193.0,1030.4 1194.0,1030.4 1195.0,1030.3 1196.0,1030.3 1197.0,1030.3 1198.0,1030.3 1199.0,1030.2 1200.0,1030.2 1200.2,1030.2 1201.0,1030.2 1202.0,1030.1 1203.0,1030.0 1204.0,1029.9 1205.0,1029.8 1206.0,1029.7 1207.0,1029.6 1208.0,1029.4 1209.0,1029.2 1210.0,1029.1 1211.0,1028.9 1212.0,1028.7 1213.0,1028.5 1214.0,1028.3 1215.0,1028.0 1216.0,1027.8 1217.0,1027.6 1218.0,1027.3 1219.0,1027.1 1220.0,1026.9 1221.0,1026.6 1222.0,1026.4 1223.0,1026.2 1224.0,1025.9 1225.0,1025.7 1226.0,1025.5 1227.0,1025.3 1228.0,1025.1 1229.0,1024.9 1230.0,1024.6 1231.0,1024.4 1232.0,1024.2 1233.0,1024.0 1234.0,1023.8 1235.0,1023.5 1236.0,1023.3 1237.0,1023.0 1238.0,1022.8 1239.0,1022.5 1240.0,1022.2 1241.0,1021.9 1242.0,1021.6 1243.0,1021.3 1243.3,1021.2 1244.0,1020.9 1245.0,1020.5 1246.0,1020.0 1247.0,1019.5 1248.0,1019.0 1249.0,1018.4 1250.0,1017.8 1251.0,1017.2 1252.0,1016.7 1253.0,1016.1 1254.0,1015.7 1255.0,1015.3 1256.0,1014.9 1257.0,1014.7 1258.0,1014.5 1259.0,1014.4 1260.0,1014.2 1261.0,1014.0 1262.0,1013.9 1263.0,1013.8 1264.0,1013.6 1265.0,1013.5 1266.0,1013.4 1267.0,1013.3 1268.0,1013.2 1269.0,1013.1 1270.0,1013.0 1271.0,1012.9 1272.0,1012.8 1273.0,1012.8 1274.0,1012.7 1275.0,1012.6 1276.0,1012.5 1277.0,1012.5 1278.0,1012.4 1279.0,1012.3 1280.0,1012.2 1281.0,1012.2 1282.0,1012.1 1283.0,1012.0 1284.0,1012.0 1285.0,1011.9 1286.0,1011.8 1287.0,1011.7 1288.0,1011.6 1289.0,1011.5 1290.0,1011.4 1291.0,1011.3 1292.0,1011.2 1293.0,1011.1 1294.0,1011.0 1294.9,1010.9 1295.0,1010.9 1296.0,1010.8 1297.0,1010.6 1298.0,1010.5 1299.0,1010.3 1300.0,1010.2 1301.0,1010.0 1302.0,1009.9 1303.0,1009.7 1304.0,1009.6 1305.0,1009.4 1306.0,1009.3 1307.0,1009.1 1308.0,1008.9 1309.0,1008.7 1310.0,1008.6 1311.0,1008.4 1312.0,1008.2 1313.0,1008.0 1314.0,1007.9 1315.0,1007.7 1316.0,1007.5 1317.0,1007.3 1318.0,1007.1 1319.0,1006.9 1320.0,1006.7 1321.0,1006.5 1322.0,1006.3 1323.0,1006.1 1324.0,1005.9 1325.0,1005.7 1326.0,1005.5 1327.0,1005.4 1328.0,1005.2 1329.0,1005.0 1329.3,1004.9 1330.0,1004.8 1331.0,1004.6 1332.0,1004.4 1333.0,1004.2 1334.0,1004.0 1335.0,1003.7 1336.0,1003.5 1337.0,1003.3 1338.0,1003.1 1339.0,1002.9 1340.0,1002.7 1341.0,1002.5 1342.0,1002.2 1343.0,1002.0 1344.0,1001.8 1345.0,1001.6 1346.0,1001.3 1347.0,1001.1 1348.0,1000.9 1349.0,1000.6 1350.0,1000.4 1351.0,1000.2 1352.0,999.9 1353.0,999.7 1354.0,999.5 1355.0,999.2 1356.0,999.0 1357.0,998.8 1358.0,998.5 1359.0,998.3 1360.0,998.0 1361.0,997.8 1362.0,997.5 1363.0,997.3 1363.8,997.1 1364.0,997.1 1365.0,996.8 1366.0,996.6 1367.0,996.3 1368.0,996.1 1369.0,995.9 1370.0,995.6 1371.0,995.4 1372.0,995.1 1373.0,994.9 1374.0,994.7 1375.0,994.4 1376.0,994.2 1377.0,993.9 1378.0,993.7 1379.0,993.4 1380.0,993.1 1381.0,992.9 1382.0,992.6 1383.0,992.3 1384.0,992.0 1385.0,991.7 1386.0,991.4 1387.0,991.1 1388.0,990.8 1389.0,990.4 1389.6,990.2 1390.0,990.1 1391.0,989.7 1392.0,989.3 1393.0,988.9 1394.0,988.4 1395.0,988.0 1396.0,987.5 1397.0,987.0 1398.0,986.5 1399.0,986.0 1400.0,985.5 1401.0,984.9 1402.0,984.4 1403.0,983.8 1404.0,983.2 1405.0,982.7 1406.0,982.1 1406.8,981.6 1407.0,981.5 1408.0,980.9 1409.0,980.3 1410.0,979.6 1411.0,979.0 1412.0,978.3 1413.0,977.6 1414.0,976.9 1415.0,976.2 1416.0,975.4 1417.0,974.6 1418.0,973.7 1418.8,973.0 1419.0,972.8 1420.0,971.8 1421.0,970.8 1422.0,969.7 1423.0,968.5 1424.0,967.3 1425.0,966.0 1426.0,964.7 1427.0,963.3 1428.0,961.9 1429.0,960.4 1430.0,958.9 1430.9,957.5 1431.0,957.3 1432.0,955.7 1433.0,954.0 1434.0,952.2 1435.0,950.3 1436.0,948.3 1437.0,946.2 1438.0,944.0 1439.0,941.7 1440.0,939.4 1441.0,937.0 1442.0,934.4 1443.0,931.8 1444.0,929.1 1445.0,926.3 1446.0,923.4 1447.0,920.4 1447.5,918.8 1448.0,917.2 1448.5,915.6 1449.0,914.0 1449.3,913.0 1449.5,912.3 1450.0,910.6 1450.5,908.8 1451.0,907.0 1451.5,905.0 1452.0,903.1 1452.5,901.1 1453.0,899.0 1453.5,896.9 1454.0,894.8 1454.5,892.6 1455.0,890.4 1455.5,888.2 1456.0,886.0 1456.5,883.8 1457.0,881.6 1457.5,879.4 1457.9,877.6 1458.0,877.2 1458.5,875.0 1459.0,872.8 1459.5,870.6 1460.0,868.3 1460.5,866.1 1461.0,863.9 1461.5,861.6 1462.0,859.3 1462.5,856.9 1463.0,854.5 1463.5,852.0 1464.0,849.5 1464.5,846.9 1465.0,844.3 1465.5,841.6 1465.6,841.0 1466.0,838.7 1466.5,835.7 1467.0,832.5 1467.5,829.2 1468.0,825.8 1468.5,822.3 1469.0,818.8 1469.5,815.3 1470.0,811.8 1470.5,808.3 1471.0,804.9 1471.5,801.6 1471.6,801.0 1472.0,798.5 1472.5,795.3 1473.0,792.2 1473.5,789.1 1474.0,786.1 1474.5,783.1 1475.0,780.0 1475.5,777.0 1476.0,774.0 1476.5,771.0 1477.0,768.0 1477.5,765.0 1478.0,761.9 1478.5,758.8 1479.0,755.7 1479.5,752.5 1480.0,749.3 1480.5,746.0 1481.0,742.7 1481.5,739.4 1482.0,736.0 1482.5,732.6 1483.0,729.1 1483.5,725.7 1484.0,722.2 1484.5,718.7 1485.0,715.2 1485.5,711.7 1486.0,708.2 1486.5,704.7 1487.0,701.2 1487.5,697.7 1488.0,694.2 1488.5,690.8 1489.0,687.5 1489.5,684.1 1490.0,680.8 1490.5,677.4 1491.0,674.0 1491.5,670.6 1492.0,667.1 1492.5,663.6 1493.0,660.0 1493.5,656.2 1494.0,652.4 1494.5,648.4 1494.8,646.0 1495.0,644.3 1495.5,639.8 1496.0,634.9 1496.2,632.9 1496.4,630.8 1496.6,628.8 1496.8,626.7 1497.0,624.6 1497.2,622.5 1497.4,620.5 1497.6,618.4 1497.8,616.4 1498.3,611.6 1498.8,607.0 1499.3,603.0 1499.3,603.0 1499.8,599.2 1500.3,595.5 1500.8,592.1 1501.3,588.9 1501.8,586.2 1502.3,584.0 1502.3,584.0 1502.8,582.2 1503.3,580.4 1503.8,578.8 1504.8,576.7 1505.2,576.5 1505.8,576.7 1506.8,578.0 1507.8,580.3 1508.8,583.3 1509.0,584.0 1509.3,585.6 1509.8,590.3 1510.0,592.7 1510.2,595.3 1510.4,598.0 1510.6,600.7 1510.8,603.4 1511.0,606.0 1511.2,608.4 1511.4,610.6 1511.5,611.6 1511.6,612.5 1512.1,617.2 1512.6,621.7 1513.1,626.0 1513.6,630.2 1514.1,634.3 1514.6,638.3 1515.1,642.2 1515.6,646.0 1516.1,649.7 1516.6,653.3 1517.1,656.9 1517.6,660.5 1518.0,663.3 1518.1,664.0 1518.6,667.5 1519.1,670.8 1519.6,674.2 1520.1,677.5 1520.6,680.7 1521.1,683.8 1521.6,687.0 1522.1,690.0 1522.6,693.0 1523.1,696.0 1523.6,698.9 1524.1,701.8 1524.6,704.6 1524.9,706.3 1525.1,707.4 1525.6,710.2 1526.1,712.9 1526.6,715.6 1527.1,718.3 1527.6,720.9 1528.1,723.5 1528.6,726.1 1529.1,728.6 1529.6,731.1 1530.1,733.6 1530.6,736.0 1531.1,738.4 1531.6,740.7 1532.1,743.1 1532.6,745.3 1533.1,747.5 1533.5,749.3 1533.6,749.7 1534.1,751.9 1534.6,754.1 1535.1,756.2 1535.6,758.4 1536.1,760.5 1536.6,762.6 1537.1,764.6 1537.6,766.7 1538.1,768.7 1538.6,770.6 1539.1,772.5 1539.6,774.4 1540.1,776.1 1540.6,777.9 1541.1,779.5 1541.6,781.1 1542.1,782.6 1542.5,783.8 1543.1,785.5 1544.1,788.1 1545.1,790.5 1546.1,792.8 1547.1,794.9 1548.1,797.0 1549.1,799.1 1550.1,801.1 1551.1,803.1 1552.1,805.2 1552.5,806.0 1553.1,807.4 1554.1,809.9 1555.1,812.6 1556.1,815.2 1557.1,817.5 1558.1,819.1 1559.1,819.9 1559.4,820.0 1560.1,820.0 1561.1,819.8 1562.1,819.6 1563.1,819.3 1564.1,818.9 1565.1,818.4 1566.1,817.9 1567.1,817.3 1568.1,816.7 1569.1,816.1 1570.1,815.5 1571.1,814.9 1571.5,814.7 1572.1,814.4 1573.1,813.8 1574.1,813.1 1575.1,812.4 1576.1,811.7 1577.1,810.9 1578.1,810.0 1579.1,808.9 1580.1,807.8 1580.1,807.8 1581.1,806.4 1582.1,804.8 1583.1,802.8 1584.1,800.5 1585.1,798.0 1586.1,795.1 1587.0,792.4 1587.1,792.1 1587.6,790.3 1588.1,788.2 1588.6,785.9 1589.1,783.5 1589.6,780.8 1590.1,776.7 1590.6,774.1 1591.1,771.6 1591.6,769.0 1592.1,766.5 1592.1,766.5 1592.6,763.2 1593.1,759.9 1593.6,756.5 1594.1,753.2 1594.6,749.9 1595.1,746.6 1595.6,743.3 1596.1,740.0 1596.6,736.6 1597.1,733.3 1597.3,732.0 1597.6,729.7 1598.1,726.0 1598.6,722.2 1599.1,718.4 1599.6,714.6 1600.1,710.8 1600.6,707.1 1600.7,706.3 1601.1,705.1 1601.6,703.6 1602.1,702.1 1602.6,700.6 1603.1,699.1 1604.1,696.1 1605.1,693.1 1606.1,690.1 1607.1,687.1 1608.1,684.1 1608.6,682.6 1609.1,681.1 1609.3,680.5 1609.6,679.0 1610.1,676.5 1610.6,674.0 1611.1,671.5 1611.6,669.0 1612.1,666.5 1612.6,664.0 1613.1,661.5 1613.6,659.0 1614.1,656.5 1614.6,654.0 1615.1,651.5 1615.6,649.0 1616.1,646.5 1616.2,646.0 1616.6,643.4 1617.1,640.0 1617.6,636.7 1618.1,633.4 1618.6,630.1 1619.1,626.8 1619.6,623.5 1620.1,620.2 1620.6,616.9 1621.1,613.6 1621.4,611.6 1621.6,610.6 1622.1,608.1 1622.6,605.5 1623.1,603.0 1623.6,600.5 1624.1,597.9 1624.6,595.4 1625.1,592.9 1625.6,590.4 1626.5,585.8 1626.6,585.9 1627.6,587.3 1628.6,588.7 1629.5,590.0 1629.6,589.2 1630.6,581.0 1631.1,576.9 1631.6,572.8 1631.8,571.1 1632.0,569.5 1632.2,567.8 1632.4,566.2 1632.6,564.6 1632.8,562.9 1633.0,561.3 1633.2,559.6 1633.4,558.0 1633.7,555.0 1634.2,550.1 1634.7,545.1 1635.2,540.2 1635.7,535.2 1636.2,530.3 1636.7,525.3 1636.9,523.3 1637.1,521.4 1637.3,519.4 1637.5,517.4 1637.7,515.4 1637.9,513.4 1638.1,511.5 1638.3,509.5 1638.5,507.5 1638.6,506.5 1638.7,505.0 1638.9,502.0 1639.1,498.9 1639.3,495.9 1639.5,492.9 1639.7,489.8 1639.9,486.8 1640.1,483.8 1640.3,480.7 1640.5,477.7 1640.7,474.7 1640.9,471.7 1641.1,468.6 1641.3,465.6 1641.5,462.6 1641.7,459.5 1641.9,456.5 1642.0,455.0 1642.1,454.1 1642.3,452.2 1642.5,450.4 1642.7,448.5 1642.9,446.6 1643.1,444.8 1643.3,442.9 1643.8,438.3 1644.3,433.6 1644.8,429.0 1645.3,424.3 1645.8,419.7 1646.3,415.1 1646.8,410.4 1647.2,406.7 1647.3,405.8 1647.8,401.5 1648.0,399.8 1648.2,398.1 1648.4,396.4 1648.6,394.7 1648.8,393.0 1649.0,391.2 1649.5,386.9 1650.0,382.7 1650.5,378.4 1650.6,377.5 1651.5,376.4 1652.5,375.1 1653.5,373.9 1654.5,372.6 1655.0,372.0 1655.5,370.0 1656.0,368.0 1656.5,365.9 1657.0,363.9 1657.5,361.9 1658.0,359.9 1658.5,357.8 1659.0,355.8 1659.2,355.0 1660.0,354.6 1661.0,354.0 1662.0,353.4 1663.0,352.9 1664.0,352.3 1665.0,351.8 1665.3,351.6 1666.0,358.7 1666.5,363.7 1667.0,368.8 1667.2,370.8 1667.4,372.8 1667.6,374.9 1667.8,376.9 1668.0,378.9 1668.2,380.9 1668.4,383.0 1668.6,385.0 1668.7,386.0 1668.8,388.2 1669.0,392.7 1669.2,397.2 1669.4,401.6 1669.6,406.1 1669.8,410.6 1670.0,415.1 1670.2,419.5 1670.4,424.0 1670.4,424.0 1671.4,425.3 1672.4,426.6 1673.4,427.9 1674.4,429.2 1675.0,430.0 1675.4,430.1 1676.4,430.4 1677.4,430.6 1678.2,430.8 1678.4,433.2 1679.4,445.3 1679.6,447.8 1679.8,450.2 1680.0,452.6 1680.2,455.0 1680.4,457.5 1680.6,459.9 1680.8,462.3 1681.0,464.7 1681.2,467.2 1681.4,469.6 1681.6,472.0 1681.6,472.0 1681.8,475.0 1682.0,478.1 1682.2,481.1 1682.4,484.2 1682.6,487.2 1682.8,490.3 1683.0,493.3 1683.2,496.4 1683.4,499.4 1683.6,502.5 1683.8,505.5 1684.0,508.6 1684.2,511.6 1684.4,514.7 1684.6,517.7 1684.8,520.8 1685.0,523.8 1685.0,523.8 1685.2,526.7 1685.4,529.7 1685.6,532.6 1685.8,535.6 1686.0,538.5 1686.5,545.9 1686.7,548.9 1686.9,551.8 1687.1,554.8 1687.3,557.7 1687.5,560.7 1687.7,563.6 1687.9,566.6 1688.1,569.5 1688.3,572.5 1688.5,575.4 1688.5,575.4 1688.7,599.2 1688.9,623.0 1689.1,646.8 1689.3,670.5 1689.5,694.3 1689.7,718.1 1689.8,730.0 1689.9,736.5 1690.1,749.4 1690.3,762.4 1690.5,775.3 1690.7,788.2 1690.9,801.2 1691.1,814.1 1691.3,827.1 1691.5,840.0 1691.5,840.0 1691.7,852.0 1691.9,864.0 1692.1,876.0 1692.3,888.0 1692.5,900.0 1692.7,912.0 1692.9,924.0 1693.0,930.0 1693.1,934.5 1693.3,943.4 1693.5,952.3 1693.7,961.2 1693.9,970.1 1694.1,979.0 1694.3,987.9 1694.5,996.9 1694.7,1005.8 1694.9,1014.7 1695.1,1023.6 1695.3,1032.5 1695.5,1041.4 1695.7,1050.3 1695.9,1059.3 1696.1,1068.2 1696.3,1077.1 1696.5,1086.0 1696.5,1086.0 1696.7,1095.6 1696.9,1105.2 1697.1,1114.8 1697.3,1124.4 1697.5,1134.0 1697.7,1143.6 1697.9,1153.2 1698.1,1162.8 1698.3,1172.4 1698.5,1182.0 1698.5,1182.0 1698.7,1194.9 1698.9,1207.8 1699.1,1220.8 1699.3,1233.7 1699.5,1246.6 1699.7,1259.5 1699.8,1266.0"/>
<path class="cv" stroke="#000" style="stroke-width:10.6" d="M300.0,1273.0 301.0,1272.6 302.0,1272.2 303.0,1271.8 304.0,1271.5 305.0,1271.1 306.0,1270.7 307.0,1270.4 308.0,1270.1 309.0,1269.8 310.0,1269.5 311.0,1269.2 312.0,1269.0 313.0,1268.7 314.0,1268.5 315.0,1268.3 316.0,1268.1 317.0,1267.9 318.0,1267.7 319.0,1267.6 320.0,1267.5 321.0,1267.4 322.0,1267.3 323.0,1267.3 324.0,1267.2 325.0,1267.2 325.2,1267.2 326.0,1267.2 327.0,1267.2 328.0,1267.3 329.0,1267.4 330.0,1267.4 331.0,1267.5 332.0,1267.6 333.0,1267.7 334.0,1267.8 335.0,1268.0 336.0,1268.1 337.0,1268.2 338.0,1268.3 339.0,1268.3 340.0,1268.4 341.0,1268.5 342.0,1268.5 342.9,1268.5 343.0,1268.5 344.0,1268.5 345.0,1268.4 346.0,1268.2 347.0,1268.0 348.0,1267.7 349.0,1267.5 350.0,1267.2 351.0,1266.8 352.0,1266.5 353.0,1266.2 354.0,1265.9 355.0,1265.6 356.0,1265.3 357.0,1265.1 358.0,1264.9 359.0,1264.8 360.0,1264.7 360.6,1264.7 361.0,1264.7 362.0,1264.9 363.0,1265.1 364.0,1265.4 365.0,1265.7 366.0,1265.9 366.9,1266.0 367.0,1266.0 368.0,1265.9 369.0,1265.5 370.0,1264.9 371.0,1264.2 372.0,1263.3 373.0,1262.4 374.0,1261.3 375.0,1260.2 376.0,1259.1 377.0,1258.0 378.0,1257.0 379.0,1256.0 380.0,1255.2 380.8,1254.6 381.0,1254.5 382.0,1253.8 383.0,1253.2 384.0,1252.6 385.0,1252.0 386.0,1251.4 387.0,1250.9 388.0,1250.4 389.0,1249.8 390.0,1249.3 391.0,1248.8 392.0,1248.3 393.0,1247.8 394.0,1247.3 395.0,1246.7 396.0,1246.2 397.0,1245.6 398.0,1245.1 399.0,1244.5 400.0,1243.8 401.0,1243.2 402.0,1242.5 403.0,1241.9 404.0,1241.2 405.0,1240.5 406.0,1239.8 407.0,1239.1 408.0,1238.3 409.0,1237.6 410.0,1236.8 411.0,1236.0 412.0,1235.2 413.0,1234.4 414.0,1233.5 415.0,1232.7 416.0,1231.8 417.0,1230.9 418.0,1230.0 418.7,1229.3 419.0,1229.0 420.0,1228.0 421.0,1227.0 422.0,1225.9 423.0,1224.8 424.0,1223.6 425.0,1222.4 426.0,1221.2 427.0,1220.0 428.0,1218.7 429.0,1217.4 430.0,1216.1 431.0,1214.8 432.0,1213.4 433.0,1212.1 434.0,1210.7 435.0,1209.4 436.0,1208.0 437.0,1206.7 438.0,1205.3 438.9,1204.1 439.0,1204.0 440.0,1202.6 441.0,1201.3 442.0,1200.0 443.0,1198.7 444.0,1197.4 445.0,1196.0 446.0,1194.7 447.0,1193.3 448.0,1192.0 449.0,1190.6 450.0,1189.1 451.0,1187.7 452.0,1186.2 453.0,1184.6 454.0,1183.1 455.0,1181.4 456.0,1179.8 456.5,1178.9 457.0,1178.0 458.0,1176.2 459.0,1174.3 460.0,1172.3 461.0,1170.3 462.0,1168.2 463.0,1166.1 464.0,1163.9 465.0,1161.6 466.0,1159.4 467.0,1157.1 468.0,1154.7 469.0,1152.4 470.0,1150.0 471.0,1147.7 471.7,1146.0 472.0,1145.3 473.0,1142.8 474.0,1140.2 475.0,1137.5 476.0,1134.8 477.0,1132.0 478.0,1129.2 479.0,1126.5 480.0,1123.7 481.0,1121.1 482.0,1118.5 483.0,1116.1 484.0,1113.8 484.3,1113.2 485.0,1111.7 486.0,1109.7 487.0,1107.6 488.0,1105.7 489.0,1103.8 490.0,1101.9 491.0,1100.1 492.0,1098.3 493.0,1096.6 494.0,1095.0 495.0,1093.4 496.0,1091.8 496.9,1090.5 497.0,1090.4 498.0,1088.9 499.0,1087.4 500.0,1085.9 501.0,1084.4 502.0,1083.0 503.0,1081.7 504.0,1080.5 505.0,1079.5 506.0,1078.6 507.0,1077.9 508.0,1077.3 509.0,1076.7 510.0,1076.2 511.0,1075.8 512.0,1075.5 513.0,1075.3 513.3,1075.3 514.0,1075.4 515.0,1076.1 516.0,1077.2 517.0,1078.6 518.0,1080.2 519.0,1081.9 519.6,1082.9 520.0,1083.6 521.0,1085.9 522.0,1088.6 523.0,1091.7 523.5,1093.3 524.0,1095.0 524.5,1096.7 525.0,1098.4 525.5,1100.1 526.0,1101.8 526.5,1103.4 527.0,1105.0 527.2,1105.6 527.5,1106.5 528.0,1108.0 528.5,1109.5 529.0,1111.1 529.5,1112.6 530.0,1114.2 530.5,1115.7 531.0,1117.3 531.5,1118.8 532.0,1120.4 532.5,1121.9 533.0,1123.4 533.5,1125.0 534.0,1126.5 535.0,1129.4 536.0,1132.3 537.0,1135.1 537.3,1135.9 538.0,1137.8 539.0,1140.4 540.0,1143.0 541.0,1145.6 542.0,1148.1 543.0,1150.6 544.0,1153.1 545.0,1155.4 546.0,1157.8 547.0,1160.0 548.0,1162.2 549.0,1164.4 549.9,1166.2 550.0,1166.4 551.0,1168.4 552.0,1170.4 553.0,1172.3 554.0,1174.2 555.0,1176.1 556.0,1177.9 557.0,1179.7 558.0,1181.5 559.0,1183.2 560.0,1184.9 561.0,1186.6 562.0,1188.2 563.0,1189.8 564.0,1191.3 565.0,1192.8 566.0,1194.3 567.0,1195.7 567.6,1196.5 568.0,1197.0 569.0,1198.4 570.0,1199.7 571.0,1201.0 572.0,1202.3 573.0,1203.5 574.0,1204.8 575.0,1206.0 576.0,1207.2 577.0,1208.4 578.0,1209.5 579.0,1210.6 580.0,1211.7 581.0,1212.8 582.0,1213.9 583.0,1214.9 584.0,1215.9 585.0,1216.9 586.0,1217.9 587.0,1218.8 588.0,1219.8 589.0,1220.7 590.0,1221.5 590.3,1221.8 591.0,1222.4 592.0,1223.2 593.0,1224.1 594.0,1224.9 595.0,1225.7 596.0,1226.4 597.0,1227.2 598.0,1228.0 599.0,1228.7 600.0,1229.4 601.0,1230.1 602.0,1230.8 603.0,1231.5 604.0,1232.2 605.0,1232.8 606.0,1233.5 607.0,1234.2 608.0,1234.8 609.0,1235.4 610.0,1236.0 611.0,1236.7 612.0,1237.3 613.0,1237.9 614.0,1238.5 615.0,1239.0 615.6,1239.4 616.0,1239.6 617.0,1240.2 618.0,1240.8 619.0,1241.3 620.0,1241.9 621.0,1242.4 622.0,1243.0 623.0,1243.5 624.0,1244.0 625.0,1244.6 626.0,1245.1 627.0,1245.6 628.0,1246.1 629.0,1246.6 630.0,1247.1 631.0,1247.6 632.0,1248.0 633.0,1248.5 634.0,1249.0 635.0,1249.5 636.0,1249.9 637.0,1250.4 638.0,1250.8 639.0,1251.3 640.0,1251.7 640.8,1252.1 641.0,1252.2 642.0,1252.6 643.0,1253.1 644.0,1253.5 645.0,1253.9 646.0,1254.3 647.0,1254.7 648.0,1255.1 649.0,1255.5 650.0,1255.9 651.0,1256.3 652.0,1256.7 653.0,1257.1 654.0,1257.4 655.0,1257.8 656.0,1258.2 657.0,1258.6 658.0,1259.0 659.0,1259.4 660.0,1259.7 661.0,1260.1 662.0,1260.5 663.0,1260.9 664.0,1261.3 665.0,1261.7 666.0,1262.2 666.1,1262.2 667.0,1262.6 668.0,1263.0 669.0,1263.5 670.0,1263.9 671.0,1264.4 672.0,1264.9 673.0,1265.4 674.0,1265.9 675.0,1266.4 676.0,1266.9 677.0,1267.4 678.0,1267.8 679.0,1268.3 680.0,1268.8 681.0,1269.2 682.0,1269.7 683.0,1270.1 684.0,1270.6 685.0,1271.0 686.0,1271.3 687.0,1271.7 688.0,1272.0 688.8,1272.3 689.0,1272.4 690.0,1272.6 691.0,1272.9 692.0,1273.2 693.0,1273.4 694.0,1273.6 695.0,1273.8 696.0,1274.0 697.0,1274.2 698.0,1274.4 699.0,1274.6 700.0,1274.8 701.0,1275.1 702.0,1275.4 703.0,1275.7 704.0,1276.0 705.0,1276.4 706.0,1276.9 707.0,1277.5 708.0,1278.2 709.0,1278.9 710.0,1279.5 711.0,1280.2 712.0,1280.9 713.0,1281.5 714.0,1282.0 715.0,1282.4 715.1,1282.4 716.0,1282.7 717.0,1283.0 718.0,1283.3 719.0,1283.6 720.0,1283.9 721.0,1284.2 722.0,1284.5 723.0,1284.8 724.0,1285.0 725.0,1285.3 726.0,1285.5 727.0,1285.7 728.0,1285.8 729.0,1286.0 730.0,1286.1 731.0,1286.1 732.0,1286.2 732.8,1286.2 733.0,1286.2 734.0,1286.2 735.0,1286.1 736.0,1286.1 737.0,1285.9 738.0,1285.8 739.0,1285.7 740.0,1285.5 741.0,1285.4 742.0,1285.2 743.0,1285.0 744.0,1284.8 745.0,1284.6 746.0,1284.4 747.0,1284.2 748.0,1284.0 749.0,1283.9 750.0,1283.7 750.5,1283.6 751.0,1283.5 752.0,1283.3 753.0,1283.2 754.0,1283.0 755.0,1282.8 756.0,1282.5 757.0,1282.3 758.0,1282.1 759.0,1281.9 760.0,1281.6 761.0,1281.4 762.0,1281.2 763.0,1281.0 764.0,1280.8 765.0,1280.6 766.0,1280.4 767.0,1280.2 768.0,1280.0 769.0,1279.8 770.0,1279.7 771.0,1279.6 772.0,1279.5 773.0,1279.4 774.0,1279.3 775.0,1279.3 775.7,1279.3 776.0,1279.3 777.0,1279.3 778.0,1279.3 779.0,1279.3 780.0,1279.3 781.0,1279.3 782.0,1279.4 783.0,1279.4 784.0,1279.4 785.0,1279.4 786.0,1279.4 787.0,1279.5 788.0,1279.5 789.0,1279.5 790.0,1279.6 791.0,1279.6 792.0,1279.6 793.0,1279.7 794.0,1279.7 795.0,1279.8 795.9,1279.8 796.0,1279.8 797.0,1279.9 798.0,1280.0 799.0,1280.2 800.0,1280.4 801.0,1280.7 802.0,1280.9 803.0,1281.2 804.0,1281.6 805.0,1281.9 806.0,1282.2 807.0,1282.5 808.0,1282.9 809.0,1283.2 810.0,1283.5 811.0,1283.7 812.0,1283.9 813.0,1284.1 814.0,1284.3 815.0,1284.4 816.0,1284.4 816.1,1284.4 817.0,1284.4 818.0,1284.4 819.0,1284.3 820.0,1284.2 821.0,1284.2 822.0,1284.0 823.0,1283.9 824.0,1283.8 825.0,1283.6 826.0,1283.5 827.0,1283.3 828.0,1283.1 829.0,1282.9 830.0,1282.7 831.0,1282.5 832.0,1282.3 833.0,1282.1 834.0,1281.9 835.0,1281.7 836.0,1281.4 837.0,1281.2 838.0,1281.0 839.0,1280.8 840.0,1280.5 841.0,1280.3 842.0,1280.1 843.0,1279.9 844.0,1279.7 845.0,1279.5 846.0,1279.3 847.0,1279.2 848.0,1279.0 849.0,1278.9 850.0,1278.8 851.0,1278.6 851.5,1278.6 852.0,1278.6 853.0,1278.5 854.0,1278.4 855.0,1278.3 856.0,1278.2 857.0,1278.1 858.0,1278.0 859.0,1277.9 860.0,1277.8 861.0,1277.7 862.0,1277.6 863.0,1277.5 864.0,1277.4 865.0,1277.3 866.0,1277.3 867.0,1277.2 868.0,1277.1 869.0,1277.0 870.0,1276.9 871.0,1276.9 872.0,1276.8 873.0,1276.7 874.0,1276.6 875.0,1276.6 876.0,1276.5 877.0,1276.5 878.0,1276.4 879.0,1276.4 880.0,1276.3 881.0,1276.3 882.0,1276.2 883.0,1276.2 884.0,1276.2 885.0,1276.1 886.0,1276.1 887.0,1276.1 888.0,1276.1 889.0,1276.1 889.3,1276.1 890.0,1276.1 891.0,1276.1 892.0,1276.1 893.0,1276.1 894.0,1276.1 895.0,1276.1 896.0,1276.1 897.0,1276.1 898.0,1276.1 899.0,1276.1 900.0,1276.1 901.0,1276.1 902.0,1276.1 903.0,1276.1 904.0,1276.1 905.0,1276.1 906.0,1276.1 907.0,1276.1 908.0,1276.1 909.0,1276.1 910.0,1276.1 911.0,1276.1 912.0,1276.1 912.1,1276.1 913.0,1276.1 914.0,1276.2 915.0,1276.3 916.0,1276.4 917.0,1276.6 918.0,1276.8 919.0,1277.0 920.0,1277.2 921.0,1277.4 922.0,1277.6 923.0,1277.8 924.0,1278.0 925.0,1278.2 926.0,1278.3 927.0,1278.4 928.0,1278.5 929.0,1278.6 929.7,1278.6 930.0,1278.6 931.0,1278.5 932.0,1278.4 933.0,1278.2 934.0,1278.0 935.0,1277.7 936.0,1277.4 937.0,1277.0 938.0,1276.6 939.0,1276.2 940.0,1275.8 941.0,1275.4 942.0,1275.1 943.0,1274.7 944.0,1274.3 945.0,1274.0 946.0,1273.8 947.0,1273.6 947.4,1273.5 948.0,1273.4 949.0,1273.3 950.0,1273.1 951.0,1273.0 952.0,1272.8 953.0,1272.7 954.0,1272.6 955.0,1272.4 956.0,1272.3 957.0,1272.2 958.0,1272.1 959.0,1272.0 960.0,1271.9 961.0,1271.8 962.0,1271.7 963.0,1271.6 964.0,1271.5 965.0,1271.4 966.0,1271.3 967.0,1271.2 968.0,1271.2 969.0,1271.1 970.0,1271.0 971.0,1270.9 972.0,1270.8 973.0,1270.7 974.0,1270.7 975.0,1270.6 976.0,1270.5 977.0,1270.4 978.0,1270.3 979.0,1270.3 980.0,1270.2 981.0,1270.1 982.0,1270.0 983.0,1269.9 984.0,1269.8 985.0,1269.7 986.0,1269.6 987.0,1269.5 988.0,1269.4 989.0,1269.3 990.0,1269.2 990.3,1269.2 991.0,1269.1 992.0,1269.0 993.0,1268.9 994.0,1268.8 995.0,1268.7 996.0,1268.6 997.0,1268.5 998.0,1268.4 999.0,1268.2 1000.0,1268.1 1001.0,1268.0 1002.0,1267.9 1003.0,1267.8 1004.0,1267.7 1005.0,1267.6 1006.0,1267.4 1007.0,1267.3 1008.0,1267.2 1009.0,1267.1 1010.0,1267.0 1011.0,1266.9 1012.0,1266.7 1013.0,1266.6 1014.0,1266.5 1015.0,1266.4 1016.0,1266.2 1017.0,1266.1 1018.0,1266.0 1019.0,1265.9 1020.0,1265.8 1021.0,1265.6 1022.0,1265.5 1023.0,1265.4 1024.0,1265.2 1025.0,1265.1 1026.0,1265.0 1027.0,1264.9 1028.0,1264.7 1028.2,1264.7 1029.0,1264.6 1030.0,1264.5 1031.0,1264.3 1032.0,1264.2 1033.0,1264.1 1034.0,1263.9 1035.0,1263.8 1036.0,1263.7 1037.0,1263.5 1038.0,1263.4 1039.0,1263.2 1040.0,1263.1 1041.0,1263.0 1042.0,1262.8 1043.0,1262.7 1044.0,1262.5 1045.0,1262.4 1046.0,1262.3 1047.0,1262.1 1048.0,1262.0 1049.0,1261.8 1050.0,1261.7 1051.0,1261.5 1052.0,1261.4 1053.0,1261.2 1054.0,1261.1 1055.0,1260.9 1056.0,1260.8 1057.0,1260.6 1058.0,1260.5 1059.0,1260.3 1060.0,1260.2 1061.0,1260.0 1062.0,1259.9 1063.0,1259.7 1064.0,1259.5 1065.0,1259.4 1066.0,1259.2 1067.0,1259.1 1068.0,1258.9 1069.0,1258.7 1070.0,1258.6 1071.0,1258.4 1072.0,1258.2 1073.0,1258.1 1074.0,1257.9 1075.0,1257.7 1076.0,1257.6 1077.0,1257.4 1078.0,1257.2 1078.7,1257.1 1079.0,1257.0 1080.0,1256.9 1081.0,1256.7 1082.0,1256.5 1083.0,1256.3 1084.0,1256.1 1085.0,1256.0 1086.0,1255.8 1087.0,1255.6 1088.0,1255.4 1089.0,1255.2 1090.0,1255.0 1091.0,1254.8 1092.0,1254.6 1093.0,1254.4 1094.0,1254.2 1095.0,1254.0 1096.0,1253.8 1097.0,1253.6 1098.0,1253.4 1099.0,1253.2 1100.0,1253.0 1101.0,1252.8 1102.0,1252.6 1103.0,1252.4 1104.0,1252.1 1105.0,1251.9 1106.0,1251.7 1107.0,1251.5 1108.0,1251.3 1109.0,1251.1 1110.0,1250.9 1111.0,1250.7 1112.0,1250.5 1113.0,1250.3 1114.0,1250.0 1115.0,1249.8 1116.0,1249.6 1116.6,1249.5 1117.0,1249.4 1118.0,1249.2 1119.0,1249.0 1120.0,1248.8 1121.0,1248.6 1122.0,1248.4 1123.0,1248.2 1124.0,1248.0 1125.0,1247.8 1126.0,1247.6 1127.0,1247.4 1128.0,1247.2 1129.0,1246.9 1130.0,1246.7 1131.0,1246.5 1132.0,1246.3 1133.0,1246.1 1134.0,1245.9 1135.0,1245.7 1136.0,1245.4 1137.0,1245.2 1138.0,1245.0 1139.0,1244.7 1140.0,1244.5 1141.0,1244.3 1142.0,1244.0 1143.0,1243.8 1144.0,1243.5 1145.0,1243.2 1146.0,1243.0 1147.0,1242.7 1148.0,1242.5 1149.0,1242.2 1150.0,1241.9 1151.0,1241.6 1152.0,1241.4 1153.0,1241.1 1154.0,1240.8 1155.0,1240.5 1156.0,1240.2 1157.0,1239.9 1158.0,1239.7 1159.0,1239.4 1160.0,1239.1 1161.0,1238.8 1162.0,1238.5 1163.0,1238.2 1163.1,1238.2 1164.0,1237.9 1165.0,1237.7 1166.0,1237.4 1167.0,1237.2 1168.0,1236.9 1169.0,1236.7 1170.0,1236.4 1171.0,1236.2 1172.0,1235.9 1173.0,1235.7 1174.0,1235.5 1175.0,1235.2 1176.0,1234.9 1177.0,1234.7 1178.0,1234.4 1179.0,1234.1 1180.0,1233.8 1181.0,1233.5 1182.0,1233.2 1183.0,1232.8 1184.0,1232.5 1185.0,1232.1 1186.0,1231.7 1187.0,1231.2 1188.0,1230.8 1188.4,1230.6 1189.0,1230.3 1190.0,1229.7 1191.0,1229.1 1192.0,1228.3 1193.0,1227.5 1194.0,1226.7 1195.0,1225.7 1196.0,1224.8 1197.0,1223.7 1198.0,1222.6 1199.0,1221.5 1200.0,1220.4 1201.0,1219.2 1202.0,1217.8 1203.0,1216.0 1204.0,1214.2 1205.0,1212.3 1206.0,1210.7 1207.0,1209.5 1207.3,1209.2 1208.0,1208.7 1209.0,1207.9 1210.0,1207.2 1211.0,1206.6 1212.0,1206.1 1213.0,1205.7 1214.0,1205.5 1214.9,1205.4 1215.0,1205.4 1216.0,1205.6 1217.0,1206.2 1218.0,1207.0 1219.0,1207.9 1220.0,1208.9 1221.0,1209.9 1222.0,1210.7 1223.0,1211.4 1223.7,1211.7 1224.0,1211.8 1225.0,1212.1 1226.0,1212.4 1227.0,1212.7 1228.0,1213.0 1229.0,1213.2 1230.0,1213.5 1231.0,1213.7 1232.0,1213.8 1233.0,1214.0 1234.0,1214.1 1235.0,1214.2 1236.0,1214.2 1236.3,1214.2 1237.0,1214.2 1238.0,1214.1 1239.0,1214.0 1240.0,1213.8 1241.0,1213.5 1242.0,1213.3 1243.0,1213.0 1244.0,1212.6 1245.0,1212.2 1246.0,1211.9 1246.4,1211.7 1247.0,1211.4 1248.0,1210.9 1249.0,1210.3 1250.0,1209.6 1251.0,1208.7 1252.0,1207.8 1253.0,1206.6 1254.0,1205.4 1255.0,1204.0 1256.0,1202.4 1256.5,1201.6 1257.0,1200.5 1258.0,1196.9 1258.5,1194.7 1259.0,1192.4 1259.5,1189.9 1260.0,1187.5 1260.5,1185.3 1261.0,1183.3 1261.5,1181.7 1261.6,1181.4 1262.5,1178.9 1263.5,1176.2 1264.5,1173.8 1265.5,1172.0 1266.5,1171.3 1266.6,1171.3 1267.5,1171.8 1268.5,1173.4 1269.5,1175.7 1270.5,1178.4 1271.5,1180.9 1271.7,1181.4 1272.5,1183.6 1273.0,1185.2 1273.5,1187.0 1274.0,1188.7 1274.5,1190.4 1275.0,1192.0 1276.0,1194.4 1276.7,1195.3 1277.0,1195.5 1278.0,1196.1 1279.0,1196.5 1280.0,1197.0 1281.0,1197.3 1282.0,1197.6 1283.0,1197.7 1284.0,1197.8 1284.3,1197.8 1285.0,1197.8 1286.0,1197.7 1287.0,1197.6 1288.0,1197.4 1289.0,1197.2 1290.0,1197.0 1291.0,1196.7 1292.0,1196.4 1293.0,1196.1 1294.0,1195.8 1295.0,1195.4 1296.0,1195.0 1297.0,1194.6 1298.0,1194.2 1299.0,1193.8 1300.0,1193.5 1301.0,1193.1 1302.0,1192.7 1303.0,1192.3 1304.0,1191.9 1305.0,1191.5 1306.0,1191.1 1307.0,1190.6 1308.0,1190.1 1309.0,1189.7 1310.0,1189.2 1311.0,1188.6 1312.0,1188.1 1313.0,1187.6 1314.0,1187.1 1315.0,1186.5 1316.0,1186.0 1317.0,1185.4 1318.0,1184.9 1319.0,1184.3 1320.0,1183.8 1321.0,1183.2 1322.0,1182.7 1322.2,1182.6 1323.0,1182.2 1324.0,1181.6 1325.0,1181.1 1326.0,1180.5 1327.0,1179.9 1328.0,1179.4 1329.0,1178.8 1330.0,1178.2 1331.0,1177.6 1332.0,1177.0 1333.0,1176.5 1334.0,1175.9 1335.0,1175.3 1336.0,1174.7 1337.0,1174.2 1338.0,1173.6 1339.0,1173.1 1340.0,1172.5 1341.0,1172.0 1342.0,1171.5 1342.4,1171.3 1343.0,1171.0 1344.0,1170.5 1345.0,1170.0 1346.0,1169.5 1347.0,1169.0 1348.0,1168.5 1349.0,1168.0 1350.0,1167.5 1351.0,1167.0 1352.0,1166.6 1353.0,1166.1 1354.0,1165.6 1355.0,1165.2 1356.0,1164.7 1357.0,1164.3 1358.0,1163.9 1359.0,1163.4 1360.0,1163.0 1361.0,1162.7 1362.0,1162.3 1363.0,1161.9 1364.0,1161.6 1365.0,1161.2 1365.1,1161.2 1366.0,1160.9 1367.0,1160.6 1368.0,1160.2 1369.0,1159.9 1370.0,1159.5 1371.0,1159.2 1372.0,1158.9 1373.0,1158.5 1374.0,1158.2 1375.0,1157.9 1376.0,1157.6 1377.0,1157.3 1378.0,1157.1 1379.0,1156.8 1380.0,1156.6 1381.0,1156.5 1382.0,1156.3 1383.0,1156.2 1384.0,1156.1 1385.0,1156.1 1385.3,1156.1 1386.0,1156.1 1387.0,1156.1 1388.0,1156.1 1389.0,1156.1 1390.0,1156.1 1391.0,1156.2 1392.0,1156.2 1393.0,1156.2 1394.0,1156.2 1395.0,1156.3 1396.0,1156.3 1397.0,1156.3 1398.0,1156.4 1399.0,1156.4 1400.0,1156.4 1401.0,1156.5 1402.0,1156.5 1403.0,1156.6 1404.0,1156.7 1405.0,1156.9 1406.0,1157.2 1407.0,1157.6 1408.0,1158.1 1409.0,1158.6 1410.0,1159.2 1411.0,1159.8 1412.0,1160.3 1413.0,1160.9 1414.0,1161.5 1415.0,1162.1 1415.6,1162.4 1416.0,1162.6 1417.0,1163.2 1418.0,1163.8 1419.0,1164.5 1420.0,1165.2 1421.0,1165.9 1422.0,1166.6 1423.0,1167.4 1424.0,1168.1 1425.0,1168.7 1426.0,1169.3 1427.0,1169.9 1428.0,1170.4 1429.0,1170.8 1430.0,1171.1 1430.7,1171.3 1431.0,1171.4 1432.0,1171.5 1433.0,1171.6 1434.0,1171.8 1435.0,1171.8 1436.0,1171.9 1437.0,1172.0 1438.0,1172.1 1439.0,1172.2 1440.0,1172.4 1440.8,1172.5 1441.0,1172.5 1442.0,1172.8 1443.0,1173.2 1444.0,1173.7 1445.0,1174.2 1446.0,1174.6 1447.0,1174.9 1448.0,1175.1 1448.4,1175.1 1449.0,1175.1 1450.0,1175.0 1451.0,1174.7 1452.0,1174.4 1453.0,1174.1 1454.0,1173.7 1455.0,1173.3 1456.0,1172.9 1457.0,1172.6 1458.0,1172.3 1459.0,1172.0 1460.0,1171.9 1461.0,1171.8 1462.0,1171.9 1463.0,1172.2 1464.0,1172.8 1465.0,1173.4 1466.0,1174.2 1467.0,1175.0 1468.0,1175.9 1469.0,1176.8 1470.0,1177.7 1471.0,1178.5 1472.0,1179.2 1473.0,1179.8 1473.6,1180.1 1474.0,1180.3 1475.0,1180.7 1476.0,1181.2 1477.0,1181.6 1478.0,1182.0 1479.0,1182.3 1480.0,1182.5 1481.0,1182.6 1481.2,1182.6 1482.0,1182.4 1483.0,1181.6 1484.0,1180.6 1485.0,1179.6 1486.0,1178.8 1486.9,1178.5 1487.0,1178.5 1488.0,1178.9 1489.0,1179.8 1490.0,1181.0 1491.0,1182.5 1492.0,1184.0 1492.4,1184.6 1493.0,1185.7 1494.0,1188.2 1495.0,1190.7 1496.0,1192.5 1496.5,1192.9 1497.0,1193.0 1498.0,1193.3 1499.0,1193.4 1500.0,1193.5 1501.0,1193.6 1502.0,1193.7 1503.0,1193.8 1504.0,1193.9 1505.0,1194.0 1506.0,1194.3 1506.2,1194.3 1507.0,1194.7 1508.0,1195.6 1509.0,1196.8 1510.0,1198.2 1511.0,1199.7 1512.0,1200.9 1513.0,1201.9 1514.0,1202.4 1514.4,1202.5 1515.0,1202.5 1516.0,1202.5 1517.0,1202.4 1518.0,1202.3 1519.0,1202.3 1520.0,1202.2 1521.0,1202.1 1522.0,1202.0 1523.0,1202.0 1524.0,1201.9 1525.0,1201.9 1525.4,1201.9 1526.0,1201.9 1527.0,1202.0 1528.0,1202.1 1529.0,1202.3 1530.0,1202.5 1531.0,1202.7 1532.0,1202.9 1533.0,1203.0 1534.0,1203.2 1535.0,1203.2 1535.1,1203.2 1536.0,1203.2 1537.0,1203.1 1538.0,1202.9 1539.0,1202.7 1540.0,1202.4 1541.0,1202.1 1542.0,1201.7 1543.0,1201.3 1543.3,1201.2 1544.0,1200.7 1545.0,1199.5 1546.0,1198.0 1547.0,1196.3 1548.0,1194.7 1549.0,1193.5 1550.0,1192.9 1550.2,1192.9 1551.0,1193.0 1552.0,1193.3 1553.0,1193.6 1554.0,1194.0 1555.0,1194.2 1555.7,1194.3 1556.0,1194.0 1557.0,1189.5 1557.5,1186.5 1558.0,1183.7 1558.5,1181.9 1559.5,1180.0 1560.5,1178.7 1561.5,1177.7 1562.5,1176.5 1563.5,1174.8 1564.0,1173.6 1564.5,1171.2 1565.0,1167.2 1565.5,1162.6 1566.0,1158.3 1566.5,1155.1 1566.7,1154.4 1567.0,1153.6 1568.0,1151.1 1569.0,1149.1 1570.0,1147.9 1570.9,1147.5 1571.0,1147.5 1572.0,1147.5 1573.0,1147.5 1574.0,1147.5 1575.0,1147.5 1576.0,1147.5 1577.0,1147.5 1578.0,1147.5 1579.0,1147.5 1579.1,1147.5 1580.0,1147.4 1581.0,1147.3 1582.0,1147.0 1583.0,1146.7 1584.0,1146.2 1585.0,1145.8 1586.0,1145.3 1587.0,1144.9 1587.4,1144.7 1588.0,1144.4 1589.0,1144.0 1590.0,1143.6 1591.0,1142.5 1592.0,1141.9 1593.0,1141.2 1594.0,1140.6 1595.0,1140.0 1596.0,1136.4 1596.5,1134.6 1597.0,1132.8 1597.5,1131.0 1598.0,1129.2 1598.5,1127.4 1599.0,1125.6 1599.5,1123.8 1600.0,1122.0 1601.0,1120.5 1602.0,1119.0 1603.0,1117.5 1604.0,1116.0 1605.0,1117.1 1606.0,1118.2 1607.0,1119.3 1608.0,1120.4 1609.0,1121.5 1610.0,1122.6 1610.1,1122.7 1611.0,1121.1 1612.0,1119.3 1613.0,1117.4 1614.0,1115.6 1615.0,1113.8 1616.0,1112.0 1617.0,1107.0 1617.5,1104.5 1618.0,1102.0 1618.5,1099.5 1619.0,1097.0 1619.5,1094.5 1620.0,1092.0 1621.0,1091.3 1622.0,1090.7 1623.0,1090.0 1624.0,1092.8 1625.0,1095.6 1625.5,1097.0 1626.0,1098.4 1626.5,1099.8 1627.3,1102.0 1627.5,1101.8 1628.5,1100.8 1629.5,1099.8 1630.5,1098.8 1631.5,1097.9 1632.5,1096.9 1633.5,1095.9 1634.5,1094.9 1635.5,1093.9 1635.6,1093.8 1636.5,1093.3 1637.5,1092.7 1638.5,1092.1 1639.5,1091.6 1640.5,1091.0 1641.5,1090.4 1642.5,1089.8 1643.5,1089.3 1644.5,1088.7 1645.2,1088.3 1645.5,1086.5 1646.5,1080.6 1647.0,1077.7 1647.5,1074.7 1648.0,1071.8 1648.5,1068.8 1649.0,1065.9 1649.5,1062.9 1650.0,1060.0 1650.5,1056.0 1651.0,1052.0 1651.5,1048.0 1652.0,1044.0 1652.5,1040.0 1653.0,1036.0 1653.5,1032.0 1654.0,1028.0 1654.5,1024.0 1655.0,1020.0 1655.5,1017.8 1656.0,1015.6 1656.5,1013.4 1657.0,1011.2 1657.5,1009.0 1658.0,1006.8 1658.5,1004.6 1659.0,1002.4 1659.5,1000.2 1660.0,998.0 1660.5,997.6 1661.5,996.9 1662.5,996.1 1663.5,995.4 1664.0,995.0 1664.5,997.7 1665.5,1003.1 1666.0,1005.8 1666.5,1008.5 1667.0,1011.2 1667.5,1013.9 1668.0,1016.6 1668.5,1019.3 1669.0,1022.0 1669.5,1019.3 1670.5,1013.9 1671.0,1011.2 1671.5,1008.5 1672.0,1005.8 1672.5,1003.1 1673.0,1000.4 1673.5,997.7 1674.0,995.0 1674.5,992.5 1675.0,990.0 1675.5,987.5 1676.0,985.0 1676.5,982.5 1677.0,980.0 1677.5,977.5 1678.0,975.0 1678.5,972.5 1679.0,970.0 1679.5,967.5 1680.0,965.0 1680.5,963.8 1681.0,962.5 1681.5,961.2 1682.0,960.0 1682.5,958.8 1683.0,957.5 1684.0,955.0 1685.0,952.5 1686.0,950.0 1687.0,958.3 1687.5,962.5 1687.7,964.2 1687.9,965.8 1688.1,967.5 1688.3,969.2 1688.5,970.8 1688.7,972.5 1689.0,975.0 1689.2,976.6 1689.7,980.6 1690.2,984.6 1690.7,988.6 1691.0,991.0 1691.2,994.3 1691.4,997.5 1691.6,1000.8 1691.8,1004.1 1692.0,1007.3 1692.2,1010.6 1692.4,1013.9 1692.6,1017.1 1692.8,1020.4 1693.0,1023.7 1693.2,1026.9 1693.4,1030.2 1693.6,1033.5 1693.8,1036.7 1694.0,1040.0 1694.0,1040.0 1694.2,1044.3 1694.4,1048.6 1694.6,1052.9 1694.8,1057.3 1695.0,1061.6 1695.2,1065.9 1695.4,1070.2 1695.6,1074.5 1695.8,1078.8 1696.0,1083.1 1696.2,1087.4 1696.3,1089.6 1696.4,1096.8 1696.6,1111.2 1696.8,1125.6 1697.0,1140.0 1697.0,1140.0 1697.2,1143.0 1697.4,1146.0 1697.6,1149.0 1697.8,1152.0 1698.0,1155.0 1698.2,1158.0 1698.4,1161.0 1698.6,1164.0 1699.0,1170.0 1699.1,1170.7 1699.6,1174.0 1700.1,1177.3 1700.6,1180.7 1701.1,1184.0 1701.6,1187.3 1702.0,1190.0"/>
<path class="cv" stroke="#f00" d="M300.0,1311.4 301.0,1311.2 302.0,1311.1 303.0,1310.9 304.0,1310.7 305.0,1310.6 306.0,1310.4 307.0,1310.2 308.0,1310.1 309.0,1309.9 310.0,1309.7 311.0,1309.6 312.0,1309.4 313.0,1309.3 314.0,1309.1 315.0,1309.0 316.0,1308.8 317.0,1308.7 318.0,1308.5 319.0,1308.4 320.0,1308.2 321.0,1308.1 322.0,1307.9 323.0,1307.8 324.0,1307.6 325.0,1307.5 326.0,1307.3 327.0,1307.2 328.0,1307.1 329.0,1306.9 330.0,1306.8 331.0,1306.6 332.0,1306.5 333.0,1306.4 334.0,1306.2 335.0,1306.1 336.0,1306.0 337.0,1305.8 338.0,1305.7 339.0,1305.6 340.0,1305.5 341.0,1305.3 342.0,1305.2 342.9,1305.1 343.0,1305.1 344.0,1305.0 345.0,1304.9 346.0,1304.7 347.0,1304.6 348.0,1304.5 349.0,1304.4 350.0,1304.3 351.0,1304.3 352.0,1304.2 353.0,1304.1 354.0,1304.0 355.0,1303.9 356.0,1303.8 357.0,1303.7 358.0,1303.6 359.0,1303.5 360.0,1303.4 361.0,1303.2 362.0,1303.1 363.0,1303.0 364.0,1302.8 365.0,1302.7 365.6,1302.6 366.0,1302.5 367.0,1302.4 368.0,1302.2 369.0,1302.0 370.0,1301.8 371.0,1301.6 372.0,1301.4 373.0,1301.1 374.0,1300.9 375.0,1300.6 376.0,1300.4 377.0,1300.1 378.0,1299.8 379.0,1299.5 380.0,1299.2 381.0,1298.9 382.0,1298.6 383.0,1298.3 384.0,1297.9 385.0,1297.6 386.0,1297.2 387.0,1296.9 388.0,1296.5 389.0,1296.1 390.0,1295.7 391.0,1295.3 392.0,1294.9 393.0,1294.5 394.0,1294.1 395.0,1293.7 396.0,1293.2 397.0,1292.8 398.0,1292.4 399.0,1291.9 400.0,1291.5 401.0,1291.0 402.0,1290.5 403.0,1290.0 404.0,1289.4 405.0,1288.8 406.0,1288.2 407.0,1287.6 408.0,1286.9 409.0,1286.2 410.0,1285.5 411.0,1284.7 412.0,1283.9 413.0,1283.2 414.0,1282.4 415.0,1281.6 416.0,1280.8 417.0,1279.9 418.0,1279.1 419.0,1278.3 420.0,1277.5 421.0,1276.7 421.2,1276.5 422.0,1275.8 423.0,1275.0 424.0,1274.2 425.0,1273.3 426.0,1272.5 427.0,1271.6 428.0,1270.7 429.0,1269.8 430.0,1268.9 431.0,1268.0 432.0,1267.1 433.0,1266.1 434.0,1265.2 435.0,1264.2 436.0,1263.3 437.0,1262.3 438.0,1261.3 439.0,1260.3 440.0,1259.3 441.0,1258.2 442.0,1257.2 443.0,1256.2 444.0,1255.1 445.0,1254.0 446.0,1252.9 446.4,1252.5 447.0,1251.8 448.0,1250.7 449.0,1249.6 450.0,1248.5 451.0,1247.4 452.0,1246.2 453.0,1245.1 454.0,1243.9 455.0,1242.7 456.0,1241.5 457.0,1240.2 458.0,1239.0 459.0,1237.7 460.0,1236.3 461.0,1235.0 462.0,1233.6 463.0,1232.2 464.0,1230.7 465.0,1229.3 466.0,1227.7 466.6,1226.8 467.0,1226.2 468.0,1224.5 469.0,1222.7 470.0,1220.9 471.0,1219.0 472.0,1217.0 473.0,1215.0 474.0,1212.9 475.0,1210.8 476.0,1208.6 477.0,1206.5 478.0,1204.4 479.0,1202.3 480.0,1200.2 481.0,1198.1 481.8,1196.5 482.0,1196.1 483.0,1194.0 484.0,1191.9 485.0,1189.8 486.0,1187.6 487.0,1185.4 488.0,1183.2 489.0,1181.1 490.0,1179.0 491.0,1177.1 492.0,1175.2 493.0,1173.5 494.0,1171.9 494.4,1171.3 495.0,1170.4 496.0,1169.0 497.0,1167.5 498.0,1166.1 499.0,1164.8 500.0,1163.5 501.0,1162.4 502.0,1161.4 503.0,1160.6 504.0,1160.1 504.5,1159.9 505.0,1159.7 506.0,1159.5 507.0,1159.2 508.0,1159.0 509.0,1158.8 510.0,1158.7 510.8,1158.7 511.0,1158.7 512.0,1159.1 513.0,1159.9 514.0,1161.1 515.0,1162.6 516.0,1164.3 517.0,1166.2 518.0,1168.1 518.4,1168.8 519.0,1170.0 520.0,1172.4 521.0,1175.2 522.0,1178.4 522.5,1180.0 523.0,1181.7 523.5,1183.5 524.0,1185.3 524.5,1187.0 525.0,1188.8 525.5,1190.6 526.0,1192.4 526.5,1194.1 527.0,1195.8 527.2,1196.5 527.5,1197.5 528.0,1199.2 528.5,1201.0 529.0,1202.7 529.5,1204.5 530.0,1206.4 530.5,1208.2 531.0,1210.1 531.5,1211.9 532.0,1213.8 532.5,1215.6 533.0,1217.5 533.5,1219.3 534.0,1221.1 534.5,1222.8 535.0,1224.6 535.5,1226.3 536.0,1227.9 536.5,1229.5 537.0,1231.0 537.3,1231.9 538.0,1233.9 539.0,1236.7 540.0,1239.5 541.0,1242.1 542.0,1244.6 543.0,1247.1 544.0,1249.5 545.0,1251.8 546.0,1254.1 547.0,1256.3 547.4,1257.1 548.0,1258.4 549.0,1260.4 550.0,1262.5 551.0,1264.5 552.0,1266.5 553.0,1268.4 554.0,1270.3 555.0,1272.1 556.0,1273.8 557.0,1275.4 558.0,1277.0 559.0,1278.4 560.0,1279.8 561.0,1281.1 562.0,1282.3 563.0,1283.5 564.0,1284.7 565.0,1285.8 566.0,1286.9 567.0,1288.0 568.0,1289.0 569.0,1290.0 570.0,1290.9 571.0,1291.9 572.0,1292.8 573.0,1293.7 574.0,1294.5 575.0,1295.3 576.0,1296.2 577.0,1297.0 577.7,1297.5 578.0,1297.7 579.0,1298.5 580.0,1299.2 581.0,1300.0 582.0,1300.7 583.0,1301.4 584.0,1302.0 585.0,1302.7 586.0,1303.3 587.0,1304.0 588.0,1304.6 589.0,1305.2 590.0,1305.8 591.0,1306.4 592.0,1306.9 593.0,1307.5 594.0,1308.1 595.0,1308.6 596.0,1309.1 597.0,1309.6 597.9,1310.1 598.0,1310.2 599.0,1310.7 600.0,1311.2 601.0,1311.7 602.0,1312.2 603.0,1312.7 604.0,1313.2 605.0,1313.7 606.0,1314.2 607.0,1314.6 608.0,1315.1 609.0,1315.6 610.0,1316.1 611.0,1316.5 612.0,1317.0 613.0,1317.4 614.0,1317.9 615.0,1318.3 616.0,1318.7 617.0,1319.1 618.0,1319.5 619.0,1319.9 620.0,1320.3 621.0,1320.6 622.0,1321.0 623.0,1321.3 624.0,1321.6 625.0,1321.9 626.0,1322.2 627.0,1322.5 628.0,1322.8 628.2,1322.8 629.0,1323.0 630.0,1323.2 631.0,1323.4 632.0,1323.7 633.0,1323.9 634.0,1324.1 635.0,1324.3 636.0,1324.5 637.0,1324.6 638.0,1324.8 639.0,1325.0 640.0,1325.1 641.0,1325.3 642.0,1325.5 643.0,1325.6 644.0,1325.8 645.0,1325.9 646.0,1326.1 647.0,1326.2 648.0,1326.4 649.0,1326.5 650.0,1326.6 651.0,1326.8 652.0,1326.9 653.0,1327.1 654.0,1327.2 655.0,1327.3 656.0,1327.5 657.0,1327.6 658.0,1327.8 659.0,1327.9 660.0,1328.1 661.0,1328.2 662.0,1328.4 663.0,1328.6 664.0,1328.7 665.0,1328.9 666.0,1329.1 666.1,1329.1 667.0,1329.3 668.0,1329.4 669.0,1329.6 670.0,1329.8 671.0,1329.9 672.0,1330.1 673.0,1330.3 674.0,1330.4 675.0,1330.6 676.0,1330.7 677.0,1330.9 678.0,1331.1 679.0,1331.2 680.0,1331.4 681.0,1331.5 682.0,1331.7 683.0,1331.9 684.0,1332.0 685.0,1332.2 686.0,1332.4 687.0,1332.6 688.0,1332.7 689.0,1332.9 690.0,1333.1 691.0,1333.3 692.0,1333.5 693.0,1333.7 694.0,1334.0 695.0,1334.2 696.0,1334.4 697.0,1334.7 698.0,1334.9 699.0,1335.2 700.0,1335.4 701.0,1335.7 702.0,1336.0 703.0,1336.3 704.0,1336.6 705.0,1337.0 706.0,1337.4 707.0,1338.0 708.0,1338.6 709.0,1339.2 710.0,1339.9 711.0,1340.6 712.0,1341.3 713.0,1341.9 714.0,1342.6 715.0,1343.1 716.0,1343.6 717.0,1344.0 717.7,1344.2 718.0,1344.3 719.0,1344.5 720.0,1344.8 721.0,1345.0 722.0,1345.3 723.0,1345.5 724.0,1345.7 725.0,1345.9 726.0,1346.1 727.0,1346.2 728.0,1346.4 729.0,1346.5 730.0,1346.6 731.0,1346.7 732.0,1346.7 732.8,1346.7 733.0,1346.7 734.0,1346.7 735.0,1346.6 736.0,1346.5 737.0,1346.3 738.0,1346.2 739.0,1346.0 740.0,1345.8 741.0,1345.5 742.0,1345.3 743.0,1345.0 744.0,1344.7 745.0,1344.4 746.0,1344.2 747.0,1343.9 748.0,1343.6 749.0,1343.4 750.0,1343.1 750.5,1343.0 751.0,1342.9 752.0,1342.6 753.0,1342.4 754.0,1342.1 755.0,1341.8 756.0,1341.5 757.0,1341.2 758.0,1340.9 759.0,1340.6 760.0,1340.2 761.0,1339.9 762.0,1339.6 763.0,1339.3 764.0,1339.0 765.0,1338.7 766.0,1338.4 767.0,1338.1 768.0,1337.9 769.0,1337.6 770.0,1337.4 771.0,1337.2 772.0,1337.0 773.0,1336.9 774.0,1336.7 775.0,1336.6 775.7,1336.6 776.0,1336.6 777.0,1336.5 778.0,1336.5 779.0,1336.4 780.0,1336.4 781.0,1336.3 782.0,1336.3 783.0,1336.2 784.0,1336.2 785.0,1336.1 786.0,1336.1 787.0,1336.1 788.0,1336.0 789.0,1336.0 790.0,1336.0 791.0,1336.0 792.0,1335.9 793.0,1335.9 794.0,1335.9 795.0,1335.9 795.9,1335.9 796.0,1335.9 797.0,1335.9 798.0,1336.0 799.0,1336.1 800.0,1336.3 801.0,1336.4 802.0,1336.6 803.0,1336.8 804.0,1337.1 805.0,1337.3 806.0,1337.5 807.0,1337.8 808.0,1338.0 809.0,1338.3 810.0,1338.5 811.0,1338.7 812.0,1338.8 813.0,1339.0 814.0,1339.1 815.0,1339.2 816.0,1339.2 816.1,1339.2 817.0,1339.2 818.0,1339.2 819.0,1339.1 820.0,1339.0 821.0,1339.0 822.0,1338.9 823.0,1338.7 824.0,1338.6 825.0,1338.5 826.0,1338.3 827.0,1338.1 828.0,1338.0 829.0,1337.8 830.0,1337.6 831.0,1337.3 832.0,1337.1 833.0,1336.9 834.0,1336.7 835.0,1336.5 836.0,1336.2 837.0,1336.0 838.0,1335.7 839.0,1335.5 840.0,1335.3 841.0,1335.0 842.0,1334.8 843.0,1334.6 844.0,1334.3 845.0,1334.1 846.0,1333.9 847.0,1333.7 848.0,1333.5 849.0,1333.3 850.0,1333.1 851.0,1333.0 851.5,1332.9 852.0,1332.8 853.0,1332.7 854.0,1332.5 855.0,1332.4 856.0,1332.2 857.0,1332.1 858.0,1331.9 859.0,1331.8 860.0,1331.6 861.0,1331.5 862.0,1331.4 863.0,1331.2 864.0,1331.1 865.0,1331.0 866.0,1330.8 867.0,1330.7 868.0,1330.5 869.0,1330.4 870.0,1330.3 871.0,1330.2 872.0,1330.0 873.0,1329.9 874.0,1329.8 875.0,1329.6 876.0,1329.5 877.0,1329.4 878.0,1329.2 879.0,1329.1 880.0,1329.0 881.0,1328.9 882.0,1328.7 883.0,1328.6 884.0,1328.5 885.0,1328.4 886.0,1328.2 887.0,1328.1 888.0,1328.0 889.0,1327.8 889.3,1327.8 890.0,1327.7 891.0,1327.6 892.0,1327.4 893.0,1327.3 894.0,1327.1 895.0,1326.9 896.0,1326.8 897.0,1326.6 898.0,1326.4 899.0,1326.3 900.0,1326.1 901.0,1326.0 902.0,1325.9 903.0,1325.7 904.0,1325.6 905.0,1325.5 906.0,1325.4 907.0,1325.4 908.0,1325.3 909.0,1325.3 909.5,1325.3 910.0,1325.3 911.0,1325.4 912.0,1325.5 913.0,1325.7 914.0,1325.9 915.0,1326.2 916.0,1326.5 917.0,1326.9 918.0,1327.2 919.0,1327.6 920.0,1327.9 921.0,1328.3 922.0,1328.7 923.0,1329.0 924.0,1329.3 925.0,1329.6 926.0,1329.9 927.0,1330.1 928.0,1330.2 929.0,1330.3 929.7,1330.3 930.0,1330.3 931.0,1330.2 932.0,1330.1 933.0,1329.8 934.0,1329.5 935.0,1329.2 936.0,1328.8 937.0,1328.4 938.0,1327.9 939.0,1327.4 940.0,1326.9 941.0,1326.5 942.0,1326.0 943.0,1325.5 944.0,1325.1 945.0,1324.7 946.0,1324.4 947.0,1324.1 947.4,1324.0 948.0,1323.9 949.0,1323.7 950.0,1323.5 951.0,1323.3 952.0,1323.1 953.0,1322.9 954.0,1322.7 955.0,1322.5 956.0,1322.4 957.0,1322.2 958.0,1322.0 959.0,1321.9 960.0,1321.7 961.0,1321.6 962.0,1321.5 963.0,1321.3 964.0,1321.2 965.0,1321.1 966.0,1320.9 967.0,1320.8 968.0,1320.7 969.0,1320.6 970.0,1320.4 971.0,1320.3 972.0,1320.2 973.0,1320.1 974.0,1320.0 975.0,1319.8 976.0,1319.7 977.0,1319.6 978.0,1319.5 979.0,1319.3 980.0,1319.2 981.0,1319.1 982.0,1318.9 983.0,1318.8 984.0,1318.7 985.0,1318.5 986.0,1318.4 987.0,1318.2 988.0,1318.1 989.0,1317.9 990.0,1317.8 990.3,1317.7 991.0,1317.6 992.0,1317.4 993.0,1317.2 994.0,1317.1 995.0,1316.9 996.0,1316.7 997.0,1316.5 998.0,1316.3 999.0,1316.1 1000.0,1315.9 1001.0,1315.8 1002.0,1315.6 1003.0,1315.4 1004.0,1315.2 1005.0,1315.0 1006.0,1314.8 1007.0,1314.6 1008.0,1314.4 1009.0,1314.2 1010.0,1314.0 1011.0,1313.8 1012.0,1313.5 1013.0,1313.3 1014.0,1313.1 1015.0,1312.9 1016.0,1312.7 1017.0,1312.5 1018.0,1312.3 1019.0,1312.1 1020.0,1311.9 1021.0,1311.6 1022.0,1311.4 1023.0,1311.2 1024.0,1311.0 1025.0,1310.8 1026.0,1310.6 1027.0,1310.4 1028.0,1310.1 1028.2,1310.1 1029.0,1309.9 1030.0,1309.7 1031.0,1309.5 1032.0,1309.3 1033.0,1309.1 1034.0,1308.8 1035.0,1308.6 1036.0,1308.4 1037.0,1308.2 1038.0,1308.0 1039.0,1307.8 1040.0,1307.5 1041.0,1307.3 1042.0,1307.1 1043.0,1306.9 1044.0,1306.7 1045.0,1306.4 1046.0,1306.2 1047.0,1306.0 1048.0,1305.7 1049.0,1305.5 1050.0,1305.3 1051.0,1305.1 1052.0,1304.8 1053.0,1304.6 1054.0,1304.3 1055.0,1304.1 1056.0,1303.9 1057.0,1303.6 1058.0,1303.4 1059.0,1303.1 1060.0,1302.9 1061.0,1302.6 1062.0,1302.4 1063.0,1302.1 1064.0,1301.9 1065.0,1301.6 1066.0,1301.3 1066.1,1301.3 1067.0,1301.1 1068.0,1300.8 1069.0,1300.5 1070.0,1300.2 1071.0,1300.0 1072.0,1299.7 1073.0,1299.4 1074.0,1299.1 1075.0,1298.8 1076.0,1298.5 1077.0,1298.2 1078.0,1298.0 1079.0,1297.7 1080.0,1297.4 1081.0,1297.1 1082.0,1296.8 1083.0,1296.4 1084.0,1296.1 1085.0,1295.8 1086.0,1295.5 1087.0,1295.2 1088.0,1294.9 1089.0,1294.6 1090.0,1294.2 1091.0,1293.9 1092.0,1293.6 1093.0,1293.3 1094.0,1292.9 1095.0,1292.6 1096.0,1292.3 1097.0,1291.9 1098.0,1291.6 1099.0,1291.2 1100.0,1290.9 1101.0,1290.5 1102.0,1290.2 1103.0,1289.9 1104.0,1289.5 1105.0,1289.1 1106.0,1288.8 1107.0,1288.4 1108.0,1288.0 1109.0,1287.6 1110.0,1287.2 1111.0,1286.8 1112.0,1286.4 1113.0,1286.0 1114.0,1285.6 1115.0,1285.2 1116.0,1284.8 1117.0,1284.4 1118.0,1284.0 1119.0,1283.6 1120.0,1283.2 1121.0,1282.8 1122.0,1282.4 1123.0,1282.0 1124.0,1281.6 1125.0,1281.2 1125.2,1281.1 1126.0,1280.8 1127.0,1280.4 1128.0,1280.0 1129.0,1279.7 1130.0,1279.3 1131.0,1278.9 1132.0,1278.6 1133.0,1278.2 1134.0,1277.9 1135.0,1277.5 1136.0,1277.1 1137.0,1276.8 1138.0,1276.4 1139.0,1276.1 1140.0,1275.7 1141.0,1275.4 1142.0,1275.0 1143.0,1274.7 1144.0,1274.3 1145.0,1274.0 1146.0,1273.6 1147.0,1273.2 1148.0,1272.9 1149.0,1272.5 1150.0,1272.2 1151.0,1271.8 1152.0,1271.4 1153.0,1271.1 1154.0,1270.7 1155.0,1270.3 1156.0,1270.0 1157.0,1269.6 1158.0,1269.2 1159.0,1268.8 1160.0,1268.4 1161.0,1268.0 1162.0,1267.6 1163.0,1267.2 1163.1,1267.2 1164.0,1266.8 1165.0,1266.4 1166.0,1266.1 1167.0,1265.7 1168.0,1265.3 1169.0,1264.9 1170.0,1264.5 1171.0,1264.1 1172.0,1263.7 1173.0,1263.3 1174.0,1262.9 1175.0,1262.5 1176.0,1262.1 1177.0,1261.7 1178.0,1261.3 1179.0,1260.8 1180.0,1260.4 1181.0,1259.9 1182.0,1259.4 1183.0,1258.9 1184.0,1258.4 1185.0,1257.9 1186.0,1257.3 1187.0,1256.7 1188.0,1256.1 1188.4,1255.9 1189.0,1255.5 1190.0,1254.9 1191.0,1254.2 1192.0,1253.5 1193.0,1252.7 1194.0,1251.9 1195.0,1251.0 1196.0,1250.0 1197.0,1248.9 1198.0,1247.7 1198.5,1247.0 1199.0,1246.2 1200.0,1243.8 1201.0,1240.7 1201.5,1239.0 1202.0,1237.3 1202.5,1235.5 1203.0,1233.8 1203.5,1232.2 1204.0,1230.7 1205.0,1228.3 1206.0,1226.8 1207.0,1226.0 1208.0,1225.2 1209.0,1224.6 1210.0,1224.0 1211.0,1223.5 1212.0,1223.2 1213.0,1223.0 1213.6,1223.0 1214.0,1223.1 1215.0,1223.6 1216.0,1224.6 1217.0,1225.9 1218.0,1227.3 1219.0,1228.6 1220.0,1229.7 1221.0,1230.5 1221.2,1230.6 1222.0,1230.9 1223.0,1231.3 1224.0,1231.7 1225.0,1232.0 1226.0,1232.3 1227.0,1232.6 1228.0,1232.8 1229.0,1232.9 1230.0,1233.0 1231.0,1233.1 1231.3,1233.1 1232.0,1233.1 1233.0,1233.0 1234.0,1232.9 1235.0,1232.7 1236.0,1232.5 1237.0,1232.3 1238.0,1232.0 1239.0,1231.7 1240.0,1231.3 1241.0,1231.0 1242.0,1230.6 1243.0,1230.2 1244.0,1229.8 1245.0,1229.4 1246.0,1229.0 1247.0,1228.5 1248.0,1228.1 1249.0,1227.7 1250.0,1227.3 1251.0,1227.0 1251.5,1226.8 1252.0,1226.6 1253.0,1226.3 1254.0,1225.9 1255.0,1225.6 1256.0,1225.2 1257.0,1224.8 1258.0,1224.5 1259.0,1224.1 1260.0,1223.7 1261.0,1223.3 1262.0,1222.9 1263.0,1222.5 1264.0,1222.1 1265.0,1221.7 1266.0,1221.3 1267.0,1220.9 1268.0,1220.5 1269.0,1220.1 1270.0,1219.7 1271.0,1219.2 1272.0,1218.8 1273.0,1218.4 1274.0,1217.9 1275.0,1217.5 1276.0,1217.0 1276.7,1216.7 1277.0,1216.6 1278.0,1216.1 1279.0,1215.6 1280.0,1215.1 1281.0,1214.7 1282.0,1214.2 1283.0,1213.7 1284.0,1213.2 1285.0,1212.7 1286.0,1212.1 1287.0,1211.6 1288.0,1211.1 1289.0,1210.6 1290.0,1210.0 1291.0,1209.5 1292.0,1208.9 1293.0,1208.3 1294.0,1207.8 1295.0,1207.2 1296.0,1206.6 1297.0,1206.0 1298.0,1205.4 1299.0,1204.7 1300.0,1204.1 1301.0,1203.5 1302.0,1202.8 1303.0,1202.1 1304.0,1201.4 1305.0,1200.7 1306.0,1200.0 1307.0,1199.2 1308.0,1198.5 1309.0,1197.7 1310.0,1196.9 1311.0,1196.1 1312.0,1195.3 1313.0,1194.4 1314.0,1193.6 1315.0,1192.7 1316.0,1191.9 1317.0,1191.0 1318.0,1190.1 1319.0,1189.3 1320.0,1188.4 1321.0,1187.5 1322.0,1186.6 1322.2,1186.4 1323.0,1185.7 1324.0,1184.7 1325.0,1183.8 1326.0,1182.8 1327.0,1181.8 1328.0,1180.7 1329.0,1179.7 1330.0,1178.6 1331.0,1177.5 1332.0,1176.5 1333.0,1175.4 1334.0,1174.4 1335.0,1173.3 1336.0,1172.3 1337.0,1171.3 1338.0,1170.3 1339.0,1169.3 1340.0,1168.3 1341.0,1167.4 1342.0,1166.5 1342.4,1166.2 1343.0,1165.7 1344.0,1164.8 1345.0,1164.0 1346.0,1163.1 1347.0,1162.3 1348.0,1161.4 1349.0,1160.6 1350.0,1159.8 1351.0,1158.9 1352.0,1158.1 1353.0,1157.3 1354.0,1156.6 1355.0,1155.8 1356.0,1155.1 1357.0,1154.3 1358.0,1153.7 1359.0,1153.0 1360.0,1152.4 1361.0,1151.8 1362.0,1151.2 1363.0,1150.7 1364.0,1150.3 1365.0,1149.8 1365.1,1149.8 1366.0,1149.4 1367.0,1149.0 1368.0,1148.7 1369.0,1148.3 1370.0,1147.9 1371.0,1147.6 1372.0,1147.2 1373.0,1146.9 1374.0,1146.6 1375.0,1146.3 1376.0,1146.0 1377.0,1145.8 1378.0,1145.5 1379.0,1145.3 1380.0,1145.1 1381.0,1145.0 1382.0,1144.9 1382.8,1144.8 1383.0,1144.8 1384.0,1144.7 1385.0,1144.6 1386.0,1144.6 1387.0,1144.5 1388.0,1144.4 1389.0,1144.4 1390.0,1144.3 1391.0,1144.3 1392.0,1144.2 1393.0,1144.2 1394.0,1144.1 1395.0,1144.1 1396.0,1144.1 1397.0,1144.0 1398.0,1144.0 1399.0,1144.0 1400.0,1144.0 1400.4,1144.0 1401.0,1144.0 1402.0,1144.2 1403.0,1144.5 1404.0,1144.9 1405.0,1145.4 1406.0,1145.9 1407.0,1146.6 1408.0,1147.3 1409.0,1148.0 1410.0,1148.8 1411.0,1149.5 1412.0,1150.3 1413.0,1151.0 1413.1,1151.1 1414.0,1151.8 1415.0,1152.6 1416.0,1153.6 1417.0,1154.6 1418.0,1155.6 1419.0,1156.7 1420.0,1157.8 1421.0,1158.9 1422.0,1160.0 1423.0,1161.1 1424.0,1162.1 1425.0,1163.1 1425.7,1163.7 1426.0,1164.0 1427.0,1164.8 1428.0,1165.7 1429.0,1166.6 1430.0,1167.4 1431.0,1168.2 1432.0,1169.1 1433.0,1169.8 1434.0,1170.6 1435.0,1171.4 1436.0,1172.1 1437.0,1172.9 1438.0,1173.6 1438.3,1173.8 1439.0,1174.3 1440.0,1175.1 1441.0,1175.9 1442.0,1176.8 1443.0,1177.6 1444.0,1178.3 1445.0,1179.0 1446.0,1179.5 1447.0,1179.9 1448.0,1180.1 1448.4,1180.1 1449.0,1180.1 1450.0,1180.0 1451.0,1179.8 1452.0,1179.6 1453.0,1179.3 1454.0,1179.1 1455.0,1178.8 1456.0,1178.5 1457.0,1178.2 1458.0,1178.0 1459.0,1177.8 1460.0,1177.6 1461.0,1177.6 1462.0,1177.8 1463.0,1178.4 1464.0,1179.3 1465.0,1180.4 1466.0,1181.6 1467.0,1182.9 1468.0,1184.3 1469.0,1185.6 1470.0,1186.7 1471.0,1187.6 1471.1,1187.7 1472.0,1188.4 1473.0,1189.2 1474.0,1190.1 1475.0,1190.9 1476.0,1191.7 1477.0,1192.4 1478.0,1193.0 1479.0,1193.5 1480.0,1193.9 1481.0,1194.0 1481.2,1194.0 1482.0,1193.8 1483.0,1193.2 1484.0,1192.4 1485.0,1191.6 1486.0,1191.0 1486.9,1190.8 1487.0,1190.8 1488.0,1191.6 1489.0,1193.5 1490.0,1195.9 1491.0,1198.4 1492.0,1202.1 1492.5,1204.3 1493.0,1206.2 1493.5,1207.6 1493.8,1208.0 1494.5,1208.4 1495.5,1208.9 1496.5,1209.2 1497.5,1209.4 1498.5,1209.6 1499.5,1209.8 1500.5,1210.0 1501.5,1210.2 1502.5,1210.5 1503.4,1210.8 1503.5,1210.8 1504.5,1211.4 1505.5,1212.3 1506.5,1213.3 1507.5,1214.3 1508.5,1215.4 1509.5,1216.5 1510.5,1217.3 1511.5,1218.0 1512.5,1218.4 1513.0,1218.4 1513.5,1218.4 1514.5,1218.4 1515.5,1218.3 1516.5,1218.3 1517.5,1218.2 1518.5,1218.1 1519.5,1218.0 1520.5,1217.9 1521.5,1217.9 1522.5,1217.8 1523.5,1217.7 1524.5,1217.7 1525.4,1217.7 1525.5,1217.7 1526.5,1217.7 1527.5,1217.8 1528.5,1217.9 1529.5,1218.0 1530.5,1218.2 1531.5,1218.3 1532.5,1218.5 1533.5,1218.6 1534.5,1218.8 1535.5,1218.9 1536.5,1219.0 1537.5,1219.0 1537.8,1219.0 1538.5,1219.0 1539.5,1218.8 1540.5,1218.6 1541.5,1218.3 1542.5,1217.9 1543.5,1217.4 1544.5,1217.0 1545.5,1216.6 1546.1,1216.3 1546.5,1216.1 1547.5,1215.5 1548.5,1214.7 1549.5,1213.9 1550.5,1213.2 1551.5,1212.6 1552.5,1212.2 1553.0,1212.2 1553.5,1212.2 1554.5,1212.5 1555.5,1213.0 1556.5,1213.6 1557.5,1214.2 1558.5,1214.7 1559.5,1215.0 1559.9,1215.0 1560.5,1214.3 1561.5,1210.7 1562.0,1208.1 1562.5,1205.3 1563.0,1202.4 1563.5,1199.5 1564.0,1197.0 1564.5,1194.6 1565.0,1192.1 1565.5,1189.5 1566.0,1186.9 1566.5,1184.3 1567.0,1181.8 1567.5,1179.3 1568.0,1176.9 1568.1,1176.4 1568.5,1174.5 1569.0,1171.9 1569.5,1169.2 1570.0,1166.5 1570.5,1164.0 1571.0,1161.8 1571.5,1160.1 1572.3,1158.5 1572.5,1158.3 1573.5,1157.6 1574.5,1157.0 1575.5,1156.6 1576.5,1156.2 1577.5,1155.9 1578.5,1155.7 1579.5,1155.4 1580.5,1155.0 1581.5,1154.6 1581.9,1154.4 1582.5,1154.1 1583.5,1153.6 1584.5,1153.1 1585.5,1152.6 1586.5,1152.1 1587.5,1151.4 1588.5,1150.7 1589.5,1149.8 1590.5,1148.2 1591.5,1147.5 1592.5,1142.9 1593.0,1140.6 1593.5,1138.3 1594.0,1136.0 1594.5,1133.7 1595.0,1131.4 1595.5,1129.1 1595.7,1128.2 1596.0,1125.9 1596.5,1122.1 1597.0,1118.2 1597.5,1114.4 1598.0,1110.6 1598.4,1107.5 1598.5,1107.4 1599.5,1106.8 1600.5,1106.1 1601.5,1105.5 1602.5,1104.8 1603.5,1106.4 1604.5,1108.1 1605.5,1109.7 1606.5,1111.4 1606.7,1111.7 1607.5,1113.0 1608.5,1114.6 1609.5,1116.2 1610.1,1117.2 1610.5,1115.8 1611.5,1112.2 1612.5,1108.6 1613.0,1106.8 1613.5,1105.0 1614.0,1103.2 1614.5,1101.4 1614.9,1100.0 1615.0,1099.1 1615.5,1094.5 1616.0,1089.9 1616.2,1088.0 1616.4,1086.2 1616.6,1084.4 1616.8,1082.5 1617.0,1080.7 1617.2,1078.8 1617.7,1074.2 1617.9,1072.4 1618.2,1071.1 1618.7,1068.9 1619.2,1066.8 1619.7,1064.6 1620.2,1062.5 1620.7,1060.3 1621.3,1057.7 1621.7,1058.9 1622.7,1061.8 1623.7,1064.7 1624.2,1066.2 1624.7,1067.7 1625.2,1069.1 1625.7,1070.6 1625.7,1070.6 1626.2,1072.6 1626.7,1074.6 1627.2,1076.6 1627.7,1078.6 1628.2,1080.6 1628.3,1081.0 1629.2,1080.9 1630.2,1080.7 1631.2,1080.6 1632.2,1080.4 1633.2,1080.3 1634.2,1080.1 1635.1,1080.0 1635.2,1079.9 1636.2,1079.0 1637.2,1078.2 1638.2,1077.3 1639.2,1076.4 1640.2,1075.5 1641.2,1074.7 1642.2,1073.8 1643.2,1072.9 1643.8,1072.4 1644.2,1069.4 1644.7,1065.5 1645.2,1061.7 1645.7,1057.9 1646.2,1054.1 1646.7,1050.3 1647.2,1046.5 1647.2,1046.5 1647.7,1043.2 1648.2,1039.9 1648.7,1036.6 1649.2,1033.3 1649.7,1030.0 1650.2,1026.7 1650.7,1023.3 1651.2,1020.0 1651.7,1016.7 1652.2,1013.4 1652.4,1012.1 1652.7,1010.9 1653.2,1008.9 1653.7,1006.9 1654.2,1004.9 1654.7,1002.9 1655.2,1000.9 1655.7,998.8 1656.2,996.8 1656.7,994.8 1657.2,992.8 1657.7,990.8 1658.4,988.0 1658.7,987.6 1659.7,986.3 1660.7,985.1 1661.7,983.8 1662.4,982.9 1662.7,985.2 1663.7,992.7 1664.2,996.5 1664.7,1000.2 1665.2,1004.0 1665.7,1007.7 1666.0,1010.0 1666.2,1011.7 1666.7,1016.0 1666.9,1017.7 1667.1,1019.4 1667.3,1021.1 1667.5,1022.9 1667.7,1024.6 1667.9,1026.3 1668.1,1028.0 1668.6,1032.3 1669.1,1036.6 1669.5,1040.0 1669.6,1039.1 1670.6,1029.7 1671.1,1025.1 1671.3,1023.2 1671.5,1021.3 1671.7,1019.5 1671.9,1017.6 1672.1,1015.7 1672.3,1013.9 1672.5,1012.0 1672.5,1012.0 1673.0,1007.4 1673.5,1002.8 1674.0,998.2 1674.5,993.7 1675.0,989.1 1675.5,984.5 1675.5,984.5 1675.7,981.9 1675.9,979.3 1676.1,976.7 1676.3,974.1 1676.5,971.5 1676.7,969.0 1676.9,966.4 1677.1,963.8 1677.3,961.2 1677.5,958.6 1677.7,956.0 1677.7,956.0 1678.2,952.9 1678.7,949.8 1679.2,946.7 1679.7,943.6 1680.2,940.5 1680.7,937.4 1681.2,934.3 1681.7,931.3 1682.2,928.2 1682.7,925.1 1683.2,922.0 1683.6,919.5 1683.7,919.3 1684.2,918.2 1684.7,917.0 1685.2,915.9 1686.2,913.7 1687.2,911.5 1688.2,909.2 1688.3,909.0 1689.2,912.4 1690.2,916.2 1690.7,918.1 1691.2,920.0 1691.7,922.0 1692.2,923.9 1692.5,925.0 1692.7,927.8 1693.2,934.8 1693.4,937.6 1693.6,940.4 1693.8,943.2 1694.0,946.0 1694.2,948.8 1694.4,951.6 1694.6,954.4 1694.8,957.2 1695.0,960.0 1695.0,960.0 1695.2,964.0 1695.4,968.0 1695.6,972.0 1695.8,976.0 1696.0,980.0 1696.2,984.0 1696.4,988.0 1696.6,992.0 1696.8,996.0 1697.0,1000.0 1697.0,1000.0 1697.2,1009.0 1697.4,1018.0 1697.6,1027.0 1697.8,1036.0 1698.0,1045.0 1698.2,1054.0 1698.4,1063.0 1698.6,1072.0 1698.8,1081.0 1699.0,1090.0"/>
<path class="cv" stroke="#00f" d="M300.0,1372.0 301.0,1371.8 302.0,1371.7 303.0,1371.5 304.0,1371.3 305.0,1371.2 306.0,1371.0 307.0,1370.8 308.0,1370.7 309.0,1370.5 310.0,1370.3 311.0,1370.1 312.0,1370.0 313.0,1369.8 314.0,1369.6 315.0,1369.4 316.0,1369.3 317.0,1369.1 318.0,1368.9 319.0,1368.7 320.0,1368.6 321.0,1368.4 322.0,1368.2 323.0,1368.0 324.0,1367.9 325.0,1367.7 326.0,1367.5 327.0,1367.3 328.0,1367.1 329.0,1367.0 330.0,1366.8 331.0,1366.6 332.0,1366.4 333.0,1366.2 334.0,1366.1 335.0,1365.9 336.0,1365.7 337.0,1365.5 338.0,1365.3 339.0,1365.1 340.0,1364.9 341.0,1364.8 342.0,1364.6 342.9,1364.4 343.0,1364.4 344.0,1364.2 345.0,1364.0 346.0,1363.8 347.0,1363.6 348.0,1363.5 349.0,1363.3 350.0,1363.1 351.0,1362.9 352.0,1362.8 353.0,1362.6 354.0,1362.4 355.0,1362.2 356.0,1362.1 357.0,1361.9 358.0,1361.7 359.0,1361.5 360.0,1361.4 361.0,1361.2 362.0,1361.0 363.0,1360.8 364.0,1360.7 365.0,1360.5 366.0,1360.3 367.0,1360.1 368.0,1359.9 369.0,1359.8 370.0,1359.6 371.0,1359.4 372.0,1359.2 373.0,1359.0 374.0,1358.8 375.0,1358.6 376.0,1358.4 377.0,1358.2 378.0,1358.0 379.0,1357.8 380.0,1357.6 381.0,1357.4 382.0,1357.1 383.0,1356.9 384.0,1356.7 385.0,1356.4 386.0,1356.2 387.0,1356.0 388.0,1355.7 389.0,1355.5 390.0,1355.2 391.0,1354.9 392.0,1354.7 393.0,1354.4 393.4,1354.3 394.0,1354.1 395.0,1353.8 396.0,1353.6 397.0,1353.3 398.0,1352.9 399.0,1352.6 400.0,1352.3 401.0,1352.0 402.0,1351.6 403.0,1351.3 404.0,1350.9 405.0,1350.5 406.0,1350.2 407.0,1349.8 408.0,1349.4 409.0,1349.0 410.0,1348.5 411.0,1348.1 412.0,1347.7 413.0,1347.2 414.0,1346.7 415.0,1346.3 416.0,1345.8 417.0,1345.3 418.0,1344.7 419.0,1344.2 420.0,1343.7 421.0,1343.1 421.2,1343.0 422.0,1342.5 423.0,1341.9 424.0,1341.3 425.0,1340.6 426.0,1339.8 427.0,1339.1 428.0,1338.3 429.0,1337.5 430.0,1336.6 431.0,1335.7 432.0,1334.8 433.0,1333.9 434.0,1333.0 435.0,1332.0 436.0,1331.0 437.0,1330.0 438.0,1329.0 439.0,1328.0 440.0,1326.9 441.0,1325.9 442.0,1324.8 443.0,1323.8 444.0,1322.7 445.0,1321.7 446.0,1320.6 446.4,1320.2 447.0,1319.6 448.0,1318.5 449.0,1317.4 450.0,1316.3 451.0,1315.2 452.0,1314.1 453.0,1312.9 454.0,1311.7 455.0,1310.5 456.0,1309.3 457.0,1308.1 458.0,1306.8 459.0,1305.6 460.0,1304.3 461.0,1302.9 462.0,1301.6 463.0,1300.2 464.0,1298.8 465.0,1297.4 466.0,1295.9 466.6,1295.0 467.0,1294.4 468.0,1292.8 469.0,1291.2 470.0,1289.6 471.0,1287.9 472.0,1286.1 473.0,1284.3 474.0,1282.4 475.0,1280.6 476.0,1278.7 477.0,1276.7 478.0,1274.8 479.0,1272.8 480.0,1270.8 481.0,1268.8 481.8,1267.2 482.0,1266.8 483.0,1264.7 484.0,1262.5 485.0,1260.2 486.0,1257.8 487.0,1255.5 488.0,1253.1 489.0,1250.7 490.0,1248.4 491.0,1246.1 492.0,1244.0 493.0,1242.0 494.0,1240.1 494.4,1239.4 495.0,1238.4 496.0,1236.6 497.0,1234.8 498.0,1233.0 499.0,1231.4 500.0,1229.9 501.0,1228.6 502.0,1227.6 503.0,1226.9 503.2,1226.8 504.0,1226.4 505.0,1226.0 506.0,1225.7 507.0,1225.4 508.0,1225.1 509.0,1225.0 509.5,1225.0 510.0,1225.1 511.0,1225.6 512.0,1226.5 513.0,1227.7 514.0,1229.2 515.0,1230.8 516.0,1232.5 517.0,1234.2 517.1,1234.4 518.0,1236.1 519.0,1238.2 520.0,1240.7 521.0,1243.3 522.0,1246.2 523.0,1249.2 523.5,1250.8 524.0,1252.3 524.5,1253.9 525.0,1255.4 525.5,1257.0 526.0,1258.6 526.5,1260.1 527.0,1261.6 527.2,1262.2 527.5,1263.1 528.0,1264.7 528.5,1266.2 529.0,1267.9 529.5,1269.5 530.0,1271.2 530.5,1273.0 531.0,1274.7 531.5,1276.4 532.0,1278.2 532.5,1279.9 533.0,1281.6 533.5,1283.3 534.0,1285.0 534.5,1286.6 535.0,1288.2 535.5,1289.8 536.0,1291.3 537.0,1294.2 537.3,1295.0 538.0,1296.8 539.0,1299.4 540.0,1301.9 541.0,1304.3 542.0,1306.6 543.0,1308.9 544.0,1311.1 545.0,1313.3 546.0,1315.3 547.0,1317.3 548.0,1319.3 549.0,1321.2 549.9,1322.8 550.0,1323.0 551.0,1324.8 552.0,1326.5 553.0,1328.2 554.0,1329.9 555.0,1331.5 556.0,1333.1 557.0,1334.7 558.0,1336.2 559.0,1337.6 560.0,1339.1 561.0,1340.4 562.0,1341.8 563.0,1343.0 564.0,1344.2 565.0,1345.4 565.1,1345.5 566.0,1346.5 567.0,1347.6 568.0,1348.6 569.0,1349.7 570.0,1350.7 571.0,1351.7 572.0,1352.6 573.0,1353.6 574.0,1354.5 575.0,1355.4 576.0,1356.2 577.0,1357.1 578.0,1357.9 579.0,1358.7 580.0,1359.5 581.0,1360.2 582.0,1361.0 583.0,1361.7 584.0,1362.3 585.0,1363.0 585.3,1363.2 586.0,1363.6 587.0,1364.3 588.0,1364.9 589.0,1365.5 590.0,1366.1 591.0,1366.6 592.0,1367.2 593.0,1367.7 594.0,1368.3 595.0,1368.8 596.0,1369.3 597.0,1369.8 598.0,1370.3 599.0,1370.8 600.0,1371.3 601.0,1371.7 602.0,1372.2 603.0,1372.6 604.0,1373.1 605.0,1373.5 606.0,1373.9 607.0,1374.4 608.0,1374.8 609.0,1375.2 610.0,1375.6 610.5,1375.8 611.0,1376.0 612.0,1376.4 613.0,1376.8 614.0,1377.2 615.0,1377.6 616.0,1378.0 617.0,1378.3 618.0,1378.7 619.0,1379.1 620.0,1379.4 621.0,1379.8 622.0,1380.2 623.0,1380.5 624.0,1380.9 625.0,1381.2 626.0,1381.5 627.0,1381.9 628.0,1382.2 629.0,1382.5 630.0,1382.8 631.0,1383.1 632.0,1383.4 633.0,1383.7 634.0,1384.0 635.0,1384.3 636.0,1384.6 637.0,1384.9 638.0,1385.2 639.0,1385.4 640.0,1385.7 640.8,1385.9 641.0,1386.0 642.0,1386.2 643.0,1386.4 644.0,1386.7 645.0,1386.9 646.0,1387.1 647.0,1387.4 648.0,1387.6 649.0,1387.8 650.0,1388.0 651.0,1388.2 652.0,1388.4 653.0,1388.6 654.0,1388.8 655.0,1389.0 656.0,1389.2 657.0,1389.4 658.0,1389.6 659.0,1389.8 660.0,1390.0 661.0,1390.1 662.0,1390.3 663.0,1390.5 664.0,1390.7 665.0,1390.9 666.0,1391.1 667.0,1391.2 668.0,1391.4 669.0,1391.6 670.0,1391.8 671.0,1392.0 672.0,1392.2 673.0,1392.4 674.0,1392.6 675.0,1392.7 676.0,1392.9 677.0,1393.1 678.0,1393.4 678.7,1393.5 679.0,1393.6 680.0,1393.8 681.0,1394.0 682.0,1394.2 683.0,1394.3 684.0,1394.5 685.0,1394.7 686.0,1394.9 687.0,1395.1 688.0,1395.2 689.0,1395.4 690.0,1395.6 691.0,1395.8 692.0,1396.0 693.0,1396.2 694.0,1396.4 695.0,1396.6 696.0,1396.8 697.0,1397.0 698.0,1397.3 699.0,1397.5 700.0,1397.8 701.0,1398.1 702.0,1398.4 703.0,1398.7 704.0,1399.0 705.0,1399.4 706.0,1399.9 707.0,1400.5 708.0,1401.2 709.0,1401.9 710.0,1402.6 711.0,1403.4 712.0,1404.1 713.0,1404.8 714.0,1405.5 715.0,1406.1 716.0,1406.7 717.0,1407.1 717.7,1407.3 718.0,1407.4 719.0,1407.6 720.0,1407.9 721.0,1408.2 722.0,1408.4 723.0,1408.6 724.0,1408.9 725.0,1409.1 726.0,1409.2 727.0,1409.4 728.0,1409.6 729.0,1409.7 730.0,1409.8 731.0,1409.8 732.0,1409.9 732.8,1409.9 733.0,1409.9 734.0,1409.9 735.0,1409.8 736.0,1409.7 737.0,1409.5 738.0,1409.4 739.0,1409.2 740.0,1408.9 741.0,1408.7 742.0,1408.4 743.0,1408.1 744.0,1407.9 745.0,1407.6 746.0,1407.3 747.0,1407.0 748.0,1406.7 749.0,1406.5 750.0,1406.2 750.5,1406.1 751.0,1406.0 752.0,1405.7 753.0,1405.5 754.0,1405.2 755.0,1404.9 756.0,1404.7 757.0,1404.4 758.0,1404.1 759.0,1403.8 760.0,1403.5 761.0,1403.2 762.0,1402.9 763.0,1402.6 764.0,1402.3 765.0,1402.0 766.0,1401.7 767.0,1401.5 768.0,1401.2 769.0,1401.0 770.0,1400.7 771.0,1400.5 772.0,1400.3 773.0,1400.2 774.0,1400.0 775.0,1399.9 775.7,1399.8 776.0,1399.8 777.0,1399.7 778.0,1399.6 779.0,1399.5 780.0,1399.4 781.0,1399.3 782.0,1399.2 783.0,1399.1 784.0,1399.0 785.0,1399.0 786.0,1398.9 787.0,1398.8 788.0,1398.8 789.0,1398.7 790.0,1398.6 791.0,1398.6 792.0,1398.6 793.0,1398.5 794.0,1398.5 795.0,1398.5 795.9,1398.5 796.0,1398.5 797.0,1398.5 798.0,1398.6 799.0,1398.7 800.0,1398.8 801.0,1399.0 802.0,1399.2 803.0,1399.4 804.0,1399.6 805.0,1399.8 806.0,1400.0 807.0,1400.2 808.0,1400.4 809.0,1400.6 810.0,1400.8 811.0,1401.0 812.0,1401.2 813.0,1401.3 814.0,1401.4 815.0,1401.5 816.0,1401.5 816.1,1401.5 817.0,1401.5 818.0,1401.5 819.0,1401.4 820.0,1401.4 821.0,1401.3 822.0,1401.2 823.0,1401.1 824.0,1401.0 825.0,1400.8 826.0,1400.7 827.0,1400.5 828.0,1400.3 829.0,1400.2 830.0,1400.0 831.0,1399.8 832.0,1399.6 833.0,1399.4 834.0,1399.2 835.0,1399.0 836.0,1398.7 837.0,1398.5 838.0,1398.3 839.0,1398.1 840.0,1397.8 841.0,1397.6 842.0,1397.4 843.0,1397.2 844.0,1396.9 845.0,1396.7 846.0,1396.5 847.0,1396.3 848.0,1396.1 849.0,1395.9 850.0,1395.8 851.0,1395.6 851.5,1395.5 852.0,1395.4 853.0,1395.3 854.0,1395.1 855.0,1394.9 856.0,1394.8 857.0,1394.6 858.0,1394.4 859.0,1394.3 860.0,1394.1 861.0,1393.9 862.0,1393.8 863.0,1393.6 864.0,1393.4 865.0,1393.3 866.0,1393.1 867.0,1392.9 868.0,1392.8 869.0,1392.6 870.0,1392.4 871.0,1392.3 872.0,1392.1 873.0,1391.9 874.0,1391.8 875.0,1391.6 876.0,1391.5 877.0,1391.3 878.0,1391.2 879.0,1391.0 880.0,1390.9 881.0,1390.7 882.0,1390.6 883.0,1390.5 884.0,1390.3 885.0,1390.2 886.0,1390.1 887.0,1390.0 888.0,1389.8 889.0,1389.7 889.3,1389.7 890.0,1389.6 891.0,1389.5 892.0,1389.4 893.0,1389.3 894.0,1389.1 895.0,1389.0 896.0,1388.9 897.0,1388.8 898.0,1388.7 899.0,1388.6 900.0,1388.5 901.0,1388.4 902.0,1388.3 903.0,1388.2 904.0,1388.1 905.0,1388.0 906.0,1388.0 907.0,1387.9 908.0,1387.9 909.0,1387.9 909.5,1387.9 910.0,1387.9 911.0,1388.0 912.0,1388.1 913.0,1388.3 914.0,1388.5 915.0,1388.8 916.0,1389.1 917.0,1389.5 918.0,1389.8 919.0,1390.2 920.0,1390.6 921.0,1391.0 922.0,1391.3 923.0,1391.7 924.0,1392.0 925.0,1392.3 926.0,1392.5 927.0,1392.8 928.0,1392.9 929.0,1393.0 929.7,1393.0 930.0,1393.0 931.0,1392.9 932.0,1392.7 933.0,1392.5 934.0,1392.2 935.0,1391.8 936.0,1391.4 937.0,1390.9 938.0,1390.4 939.0,1389.9 940.0,1389.4 941.0,1388.9 942.0,1388.4 943.0,1387.9 944.0,1387.5 945.0,1387.1 946.0,1386.8 947.0,1386.5 947.4,1386.4 948.0,1386.3 949.0,1386.1 950.0,1385.9 951.0,1385.7 952.0,1385.5 953.0,1385.4 954.0,1385.2 955.0,1385.0 956.0,1384.9 957.0,1384.7 958.0,1384.6 959.0,1384.5 960.0,1384.3 961.0,1384.2 962.0,1384.1 963.0,1384.0 964.0,1383.9 965.0,1383.8 966.0,1383.6 967.0,1383.5 968.0,1383.4 969.0,1383.3 970.0,1383.2 971.0,1383.1 972.0,1383.0 973.0,1382.9 974.0,1382.8 975.0,1382.7 976.0,1382.6 977.0,1382.5 978.0,1382.4 979.0,1382.3 980.0,1382.2 981.0,1382.0 982.0,1381.9 983.0,1381.8 984.0,1381.7 985.0,1381.6 986.0,1381.4 987.0,1381.3 988.0,1381.1 989.0,1381.0 990.0,1380.8 990.3,1380.8 991.0,1380.7 992.0,1380.5 993.0,1380.4 994.0,1380.2 995.0,1380.0 996.0,1379.9 997.0,1379.7 998.0,1379.5 999.0,1379.3 1000.0,1379.1 1001.0,1379.0 1002.0,1378.8 1003.0,1378.6 1004.0,1378.4 1005.0,1378.2 1006.0,1378.0 1007.0,1377.8 1008.0,1377.6 1009.0,1377.4 1010.0,1377.2 1011.0,1377.0 1012.0,1376.8 1013.0,1376.6 1014.0,1376.4 1015.0,1376.2 1016.0,1376.0 1017.0,1375.8 1018.0,1375.6 1019.0,1375.3 1020.0,1375.1 1021.0,1374.9 1022.0,1374.7 1023.0,1374.5 1024.0,1374.2 1025.0,1374.0 1026.0,1373.8 1027.0,1373.6 1028.0,1373.3 1028.2,1373.3 1029.0,1373.1 1030.0,1372.9 1031.0,1372.7 1032.0,1372.4 1033.0,1372.2 1034.0,1371.9 1035.0,1371.7 1036.0,1371.4 1037.0,1371.2 1038.0,1370.9 1039.0,1370.7 1040.0,1370.4 1041.0,1370.2 1042.0,1369.9 1043.0,1369.6 1044.0,1369.4 1045.0,1369.1 1046.0,1368.8 1047.0,1368.6 1048.0,1368.3 1049.0,1368.0 1050.0,1367.7 1051.0,1367.5 1052.0,1367.2 1053.0,1366.9 1054.0,1366.6 1055.0,1366.4 1056.0,1366.1 1057.0,1365.8 1058.0,1365.5 1059.0,1365.2 1060.0,1364.9 1061.0,1364.7 1062.0,1364.4 1063.0,1364.1 1064.0,1363.8 1065.0,1363.5 1066.0,1363.2 1066.1,1363.2 1067.0,1362.9 1068.0,1362.7 1069.0,1362.4 1070.0,1362.1 1071.0,1361.8 1072.0,1361.5 1073.0,1361.2 1074.0,1360.9 1075.0,1360.6 1076.0,1360.4 1077.0,1360.1 1078.0,1359.8 1079.0,1359.5 1080.0,1359.2 1081.0,1358.9 1082.0,1358.6 1083.0,1358.3 1084.0,1358.0 1085.0,1357.7 1086.0,1357.4 1087.0,1357.1 1088.0,1356.8 1089.0,1356.5 1090.0,1356.1 1091.0,1355.8 1092.0,1355.5 1093.0,1355.2 1094.0,1354.9 1095.0,1354.5 1096.0,1354.2 1097.0,1353.9 1098.0,1353.6 1099.0,1353.2 1100.0,1352.9 1101.0,1352.5 1102.0,1352.2 1103.0,1351.9 1104.0,1351.5 1105.0,1351.1 1106.0,1350.8 1107.0,1350.4 1108.0,1350.0 1109.0,1349.6 1110.0,1349.2 1111.0,1348.8 1112.0,1348.4 1113.0,1348.0 1114.0,1347.6 1115.0,1347.2 1116.0,1346.8 1117.0,1346.4 1118.0,1346.0 1119.0,1345.5 1120.0,1345.1 1121.0,1344.7 1122.0,1344.3 1123.0,1343.9 1124.0,1343.5 1125.0,1343.1 1125.2,1343.0 1126.0,1342.7 1127.0,1342.3 1128.0,1341.9 1129.0,1341.5 1130.0,1341.1 1131.0,1340.7 1132.0,1340.3 1133.0,1339.9 1134.0,1339.5 1135.0,1339.1 1136.0,1338.7 1137.0,1338.3 1138.0,1337.9 1139.0,1337.5 1140.0,1337.2 1141.0,1336.8 1142.0,1336.4 1143.0,1336.0 1144.0,1335.6 1145.0,1335.2 1146.0,1334.8 1147.0,1334.4 1148.0,1334.0 1149.0,1333.6 1150.0,1333.2 1151.0,1332.8 1152.0,1332.4 1153.0,1332.0 1154.0,1331.6 1155.0,1331.2 1156.0,1330.8 1157.0,1330.4 1158.0,1329.9 1159.0,1329.5 1160.0,1329.1 1161.0,1328.7 1162.0,1328.3 1163.0,1327.8 1163.1,1327.8 1164.0,1327.4 1165.0,1327.0 1166.0,1326.6 1167.0,1326.2 1168.0,1325.8 1169.0,1325.4 1170.0,1325.1 1171.0,1324.7 1172.0,1324.3 1173.0,1323.9 1174.0,1323.5 1175.0,1323.1 1176.0,1322.7 1177.0,1322.3 1178.0,1321.9 1179.0,1321.4 1180.0,1321.0 1181.0,1320.5 1182.0,1320.0 1183.0,1319.5 1184.0,1319.0 1185.0,1318.5 1186.0,1317.9 1187.0,1317.3 1188.0,1316.7 1188.4,1316.4 1189.0,1316.0 1190.0,1315.3 1191.0,1314.6 1192.0,1313.8 1193.0,1312.9 1194.0,1312.0 1195.0,1311.0 1196.0,1309.9 1197.0,1308.8 1198.0,1307.5 1199.0,1306.1 1199.7,1305.1 1200.0,1304.6 1201.0,1302.2 1202.0,1299.1 1202.5,1297.5 1203.0,1295.8 1203.5,1294.2 1204.0,1292.7 1205.0,1290.1 1206.0,1288.7 1207.0,1288.0 1208.0,1287.3 1209.0,1286.7 1210.0,1286.2 1211.0,1285.7 1212.0,1285.4 1213.0,1285.1 1214.0,1284.9 1214.9,1284.9 1215.0,1284.9 1216.0,1285.3 1217.0,1286.4 1218.0,1287.8 1219.0,1289.4 1220.0,1291.1 1221.0,1292.5 1222.0,1293.5 1222.4,1293.7 1223.0,1294.0 1224.0,1294.4 1225.0,1294.8 1226.0,1295.2 1227.0,1295.5 1228.0,1295.8 1229.0,1296.0 1230.0,1296.1 1231.0,1296.2 1231.3,1296.2 1232.0,1296.2 1233.0,1296.1 1234.0,1296.0 1235.0,1295.8 1236.0,1295.6 1237.0,1295.4 1238.0,1295.1 1239.0,1294.8 1240.0,1294.4 1241.0,1294.1 1242.0,1293.7 1243.0,1293.3 1244.0,1292.9 1245.0,1292.5 1246.0,1292.1 1247.0,1291.6 1248.0,1291.2 1249.0,1290.8 1250.0,1290.4 1251.0,1290.1 1251.5,1289.9 1252.0,1289.7 1253.0,1289.4 1254.0,1289.0 1255.0,1288.7 1256.0,1288.3 1257.0,1287.9 1258.0,1287.6 1259.0,1287.2 1260.0,1286.8 1261.0,1286.5 1262.0,1286.1 1263.0,1285.7 1264.0,1285.3 1265.0,1284.9 1266.0,1284.5 1267.0,1284.1 1268.0,1283.7 1269.0,1283.3 1270.0,1282.8 1271.0,1282.4 1272.0,1282.0 1273.0,1281.5 1274.0,1281.1 1275.0,1280.6 1276.0,1280.1 1276.7,1279.8 1277.0,1279.7 1278.0,1279.2 1279.0,1278.7 1280.0,1278.2 1281.0,1277.7 1282.0,1277.1 1283.0,1276.6 1284.0,1276.1 1285.0,1275.5 1286.0,1274.9 1287.0,1274.4 1288.0,1273.8 1289.0,1273.2 1290.0,1272.6 1291.0,1272.0 1292.0,1271.4 1293.0,1270.8 1294.0,1270.1 1295.0,1269.5 1296.0,1268.8 1297.0,1268.2 1298.0,1267.5 1299.0,1266.8 1300.0,1266.1 1301.0,1265.4 1302.0,1264.7 1303.0,1264.0 1304.0,1263.2 1305.0,1262.5 1306.0,1261.7 1307.0,1260.9 1308.0,1260.0 1309.0,1259.2 1310.0,1258.3 1311.0,1257.4 1312.0,1256.6 1313.0,1255.7 1314.0,1254.7 1315.0,1253.8 1316.0,1252.9 1317.0,1252.0 1318.0,1251.0 1319.0,1250.1 1320.0,1249.1 1321.0,1248.2 1322.0,1247.2 1322.2,1247.0 1323.0,1246.2 1324.0,1245.2 1325.0,1244.1 1326.0,1243.1 1327.0,1242.0 1328.0,1240.8 1329.0,1239.7 1330.0,1238.5 1331.0,1237.4 1332.0,1236.2 1333.0,1235.0 1334.0,1233.9 1335.0,1232.8 1336.0,1231.7 1337.0,1230.6 1338.0,1229.6 1339.0,1228.6 1340.0,1227.6 1341.0,1226.8 1342.0,1225.9 1342.4,1225.6 1343.0,1225.1 1344.0,1224.4 1345.0,1223.6 1346.0,1222.9 1347.0,1222.1 1348.0,1221.4 1349.0,1220.7 1350.0,1220.0 1351.0,1219.3 1352.0,1218.7 1353.0,1218.0 1354.0,1217.4 1355.0,1216.8 1356.0,1216.2 1357.0,1215.6 1358.0,1215.0 1359.0,1214.5 1360.0,1214.0 1361.0,1213.5 1362.0,1213.0 1363.0,1212.6 1364.0,1212.1 1365.0,1211.7 1365.1,1211.7 1366.0,1211.4 1367.0,1211.0 1368.0,1210.6 1369.0,1210.2 1370.0,1209.8 1371.0,1209.4 1372.0,1209.1 1373.0,1208.7 1374.0,1208.4 1375.0,1208.1 1376.0,1207.8 1377.0,1207.5 1378.0,1207.3 1379.0,1207.1 1380.0,1206.9 1381.0,1206.8 1382.0,1206.7 1382.8,1206.6 1383.0,1206.6 1384.0,1206.5 1385.0,1206.5 1386.0,1206.4 1387.0,1206.4 1388.0,1206.4 1389.0,1206.3 1390.0,1206.3 1391.0,1206.3 1392.0,1206.2 1393.0,1206.2 1394.0,1206.2 1395.0,1206.2 1396.0,1206.1 1397.0,1206.1 1398.0,1206.1 1399.0,1206.1 1400.0,1206.1 1400.4,1206.1 1401.0,1206.1 1402.0,1206.3 1403.0,1206.5 1404.0,1206.9 1405.0,1207.4 1406.0,1207.9 1407.0,1208.5 1408.0,1209.2 1409.0,1209.9 1410.0,1210.6 1411.0,1211.4 1412.0,1212.1 1413.0,1212.8 1413.1,1212.9 1414.0,1213.6 1415.0,1214.4 1416.0,1215.3 1417.0,1216.3 1418.0,1217.3 1419.0,1218.4 1420.0,1219.5 1421.0,1220.6 1422.0,1221.7 1423.0,1222.8 1424.0,1223.9 1425.0,1224.9 1425.7,1225.6 1426.0,1225.9 1427.0,1226.8 1428.0,1227.8 1429.0,1228.8 1430.0,1229.7 1431.0,1230.7 1432.0,1231.6 1433.0,1232.5 1434.0,1233.4 1435.0,1234.3 1436.0,1235.1 1437.0,1235.9 1438.0,1236.7 1438.3,1236.9 1439.0,1237.4 1440.0,1238.2 1441.0,1239.1 1442.0,1239.9 1443.0,1240.7 1444.0,1241.4 1445.0,1242.1 1446.0,1242.6 1447.0,1243.0 1448.0,1243.2 1448.4,1243.2 1449.0,1243.2 1450.0,1243.1 1451.0,1242.8 1452.0,1242.6 1453.0,1242.2 1454.0,1241.9 1455.0,1241.5 1456.0,1241.1 1457.0,1240.8 1458.0,1240.5 1459.0,1240.2 1460.0,1240.1 1461.0,1240.0 1462.0,1240.2 1463.0,1240.7 1464.0,1241.5 1465.0,1242.5 1466.0,1243.7 1467.0,1244.9 1468.0,1246.1 1469.0,1247.4 1470.0,1248.5 1471.0,1249.4 1471.1,1249.5 1472.0,1250.3 1473.0,1251.2 1474.0,1252.2 1475.0,1253.2 1476.0,1254.1 1477.0,1254.8 1478.0,1255.4 1479.0,1255.9 1480.0,1256.0 1481.0,1255.7 1482.0,1255.1 1483.0,1254.1 1484.0,1253.2 1485.0,1252.3 1486.0,1251.6 1486.9,1251.4 1487.0,1251.4 1488.0,1251.8 1489.0,1252.7 1490.0,1254.2 1491.0,1256.1 1491.7,1257.6 1492.0,1258.8 1492.5,1262.2 1493.0,1266.2 1493.5,1269.2 1493.8,1270.0 1494.0,1270.1 1495.0,1270.7 1496.0,1271.1 1497.0,1271.4 1498.0,1271.6 1499.0,1271.8 1500.0,1271.9 1501.0,1272.1 1502.0,1272.3 1503.0,1272.6 1503.4,1272.8 1504.0,1273.1 1505.0,1273.8 1506.0,1274.7 1507.0,1275.8 1508.0,1276.8 1509.0,1277.9 1510.0,1278.8 1511.0,1279.6 1512.0,1280.1 1513.0,1280.3 1514.0,1280.3 1515.0,1280.3 1516.0,1280.2 1517.0,1280.2 1518.0,1280.1 1519.0,1280.0 1520.0,1279.9 1521.0,1279.9 1522.0,1279.8 1523.0,1279.8 1524.0,1279.7 1525.0,1279.7 1525.4,1279.7 1526.0,1279.7 1527.0,1279.8 1528.0,1279.9 1529.0,1280.1 1530.0,1280.3 1531.0,1280.6 1532.0,1280.8 1533.0,1281.0 1534.0,1281.3 1535.0,1281.4 1536.0,1281.6 1537.0,1281.7 1537.8,1281.7 1538.0,1281.7 1539.0,1281.6 1540.0,1281.4 1541.0,1281.1 1542.0,1280.7 1543.0,1280.2 1544.0,1279.7 1545.0,1279.0 1546.0,1278.4 1546.1,1278.3 1547.0,1277.2 1548.0,1275.1 1549.0,1272.6 1550.0,1270.4 1551.0,1268.9 1551.6,1268.6 1552.0,1268.6 1553.0,1269.0 1554.0,1269.8 1555.0,1270.7 1556.0,1271.5 1557.0,1272.3 1558.0,1272.7 1558.5,1272.8 1559.0,1272.2 1560.0,1267.9 1560.5,1264.8 1561.0,1261.5 1561.5,1258.1 1562.0,1255.1 1562.5,1252.5 1562.6,1252.1 1563.0,1250.6 1563.5,1248.9 1564.0,1247.3 1565.0,1244.4 1566.0,1241.1 1566.5,1239.2 1566.7,1238.3 1567.0,1236.7 1567.5,1233.2 1568.0,1229.2 1568.5,1225.3 1569.0,1222.1 1569.5,1220.4 1570.5,1218.9 1571.5,1217.7 1572.5,1216.8 1573.5,1216.1 1574.5,1215.7 1575.0,1215.6 1575.5,1215.5 1576.5,1215.4 1577.5,1215.3 1578.5,1215.3 1579.5,1215.2 1580.5,1215.2 1581.5,1215.1 1582.5,1215.0 1583.3,1214.9 1583.5,1214.9 1584.5,1214.6 1585.5,1214.0 1586.5,1213.3 1587.5,1212.3 1588.5,1211.2 1589.5,1209.8 1590.5,1206.7 1591.5,1205.5 1592.5,1204.4 1592.9,1203.9 1593.5,1200.9 1594.0,1198.4 1594.5,1195.9 1595.0,1193.3 1595.5,1190.8 1596.0,1188.3 1596.5,1185.8 1597.0,1183.3 1597.5,1180.3 1598.0,1177.4 1598.5,1174.4 1599.0,1171.4 1599.5,1168.5 1599.8,1166.7 1600.5,1166.4 1601.5,1165.9 1602.5,1165.4 1603.5,1164.9 1603.9,1164.7 1604.5,1166.5 1605.5,1169.5 1606.0,1171.0 1606.5,1172.5 1607.0,1174.0 1607.5,1175.5 1608.0,1177.0 1608.5,1176.6 1609.5,1175.8 1610.5,1175.0 1611.5,1174.2 1612.2,1173.6 1612.5,1172.4 1613.5,1168.4 1614.5,1164.3 1615.0,1162.3 1615.5,1160.3 1616.0,1158.3 1616.3,1157.1 1616.5,1153.0 1616.7,1148.8 1616.9,1144.7 1617.1,1140.6 1617.3,1136.5 1617.5,1132.3 1617.7,1128.2 1617.7,1128.2 1618.2,1126.3 1618.7,1124.5 1619.2,1122.6 1619.7,1120.8 1620.2,1118.9 1621.2,1115.2 1621.8,1113.0 1622.2,1114.7 1623.2,1119.1 1623.7,1121.3 1624.2,1123.4 1624.7,1125.6 1625.2,1127.8 1625.3,1128.2 1625.7,1133.2 1625.9,1135.6 1626.1,1138.1 1626.3,1140.6 1626.5,1143.1 1626.7,1145.6 1626.9,1148.0 1627.1,1150.5 1627.3,1153.0 1627.6,1152.5 1628.6,1150.7 1629.6,1148.9 1630.6,1147.1 1631.6,1145.3 1632.6,1143.5 1633.6,1141.7 1634.2,1140.6 1634.6,1140.5 1635.6,1140.1 1636.6,1139.8 1637.6,1139.5 1638.6,1139.1 1639.6,1138.8 1640.6,1138.4 1641.6,1138.1 1642.5,1137.8 1642.6,1137.5 1643.6,1134.5 1644.6,1131.5 1645.6,1128.5 1646.1,1127.0 1646.6,1125.5 1647.1,1124.0 1647.6,1122.5 1648.0,1121.3 1648.1,1120.6 1648.6,1117.3 1649.1,1113.9 1649.6,1110.6 1650.1,1107.2 1650.6,1103.9 1651.1,1100.5 1651.6,1097.2 1652.1,1093.8 1652.1,1093.8 1652.6,1090.7 1653.1,1087.7 1653.6,1084.6 1654.1,1081.5 1654.6,1078.5 1655.1,1075.4 1655.6,1072.4 1656.1,1069.3 1656.6,1066.2 1657.1,1063.2 1657.6,1060.1 1658.1,1057.0 1658.4,1055.2 1658.6,1054.5 1659.1,1052.8 1659.6,1051.2 1660.1,1049.5 1660.6,1047.8 1661.1,1046.1 1661.6,1044.4 1662.1,1042.7 1663.1,1039.3 1663.5,1038.0 1664.1,1040.9 1665.1,1045.9 1665.6,1048.3 1666.1,1050.8 1666.6,1053.2 1667.0,1055.2 1667.1,1056.5 1667.6,1063.1 1667.8,1065.8 1668.0,1068.4 1668.2,1071.1 1668.4,1073.7 1668.6,1076.4 1668.8,1079.0 1669.0,1081.7 1669.2,1084.3 1669.4,1087.0 1669.6,1089.6 1669.6,1089.6 1670.1,1093.6 1670.3,1095.2 1670.5,1096.9 1671.0,1100.9 1671.3,1103.3 1671.5,1101.9 1672.5,1095.1 1673.0,1091.6 1673.5,1088.2 1674.0,1084.8 1674.5,1081.4 1674.7,1080.0 1675.0,1075.7 1675.2,1072.8 1675.4,1069.9 1675.6,1067.0 1675.8,1064.1 1676.0,1061.2 1676.2,1058.3 1676.4,1055.4 1676.6,1052.5 1676.8,1049.6 1677.0,1046.7 1677.2,1043.8 1677.4,1040.9 1677.6,1038.0 1677.8,1035.1 1678.0,1032.2 1678.2,1029.3 1678.2,1029.3 1678.4,1027.3 1678.6,1025.3 1678.8,1023.3 1679.0,1021.3 1679.2,1019.3 1679.4,1017.3 1679.6,1015.3 1679.8,1013.3 1680.0,1011.3 1680.2,1009.3 1680.4,1007.3 1680.6,1005.3 1681.1,1000.3 1681.6,995.3 1682.1,990.3 1682.5,986.3 1682.6,985.8 1683.1,983.0 1683.6,980.3 1684.1,977.6 1684.6,974.9 1685.1,972.2 1685.6,969.5 1686.1,966.7 1686.6,964.0 1687.1,961.3 1687.8,957.5 1688.1,959.1 1689.1,964.6 1689.6,967.3 1690.1,970.1 1690.6,972.8 1691.1,975.5 1691.5,977.7 1691.6,979.4 1692.1,988.0 1692.3,991.4 1692.5,994.9 1692.7,998.3 1692.9,1001.7 1693.1,1005.1 1693.3,1008.6 1693.5,1012.0 1693.5,1012.0 1693.7,1018.9 1693.9,1025.8 1694.1,1032.7 1694.3,1039.6 1694.5,1046.5 1694.7,1053.4 1694.9,1060.3 1695.0,1063.8 1695.1,1064.9 1695.3,1067.1 1695.5,1069.4 1695.7,1071.6 1695.9,1073.8 1696.1,1076.0 1696.3,1078.2 1696.8,1083.8 1697.0,1086.0"/>
<path class="cv" stroke="#00f" d="M1698.8,836 L1698.8,1000 L1696.5,1086"/>
<path class="cv" stroke="#f0f" d="M300.0,1406.1 301.0,1405.9 302.0,1405.8 303.0,1405.6 304.0,1405.4 305.0,1405.3 306.0,1405.1 307.0,1404.9 308.0,1404.8 309.0,1404.6 310.0,1404.4 311.0,1404.2 312.0,1404.1 313.0,1403.9 314.0,1403.7 315.0,1403.5 316.0,1403.4 317.0,1403.2 318.0,1403.0 319.0,1402.8 320.0,1402.7 321.0,1402.5 322.0,1402.3 323.0,1402.1 324.0,1402.0 325.0,1401.8 326.0,1401.6 327.0,1401.4 328.0,1401.2 329.0,1401.1 330.0,1400.9 331.0,1400.7 332.0,1400.5 333.0,1400.3 334.0,1400.2 335.0,1400.0 336.0,1399.8 337.0,1399.6 338.0,1399.4 339.0,1399.2 340.0,1399.0 341.0,1398.9 342.0,1398.7 342.9,1398.5 343.0,1398.5 344.0,1398.3 345.0,1398.1 346.0,1397.9 347.0,1397.7 348.0,1397.6 349.0,1397.4 350.0,1397.2 351.0,1397.0 352.0,1396.9 353.0,1396.7 354.0,1396.5 355.0,1396.3 356.0,1396.2 357.0,1396.0 358.0,1395.8 359.0,1395.6 360.0,1395.5 361.0,1395.3 362.0,1395.1 363.0,1394.9 364.0,1394.8 365.0,1394.6 366.0,1394.4 367.0,1394.2 368.0,1394.0 369.0,1393.9 370.0,1393.7 371.0,1393.5 372.0,1393.3 373.0,1393.1 374.0,1392.9 375.0,1392.7 376.0,1392.5 377.0,1392.3 378.0,1392.1 379.0,1391.9 380.0,1391.7 381.0,1391.5 382.0,1391.2 383.0,1391.0 384.0,1390.8 385.0,1390.6 386.0,1390.3 387.0,1390.1 388.0,1389.8 389.0,1389.6 390.0,1389.3 391.0,1389.1 392.0,1388.8 393.0,1388.5 393.4,1388.4 394.0,1388.2 395.0,1387.9 396.0,1387.6 397.0,1387.3 398.0,1387.0 399.0,1386.7 400.0,1386.3 401.0,1386.0 402.0,1385.6 403.0,1385.2 404.0,1384.9 405.0,1384.5 406.0,1384.1 407.0,1383.7 408.0,1383.2 409.0,1382.8 410.0,1382.4 411.0,1381.9 412.0,1381.5 413.0,1381.0 414.0,1380.6 415.0,1380.1 416.0,1379.6 417.0,1379.1 418.0,1378.6 419.0,1378.1 420.0,1377.6 421.0,1377.1 421.2,1377.0 422.0,1376.6 423.0,1376.0 424.0,1375.5 425.0,1374.9 426.0,1374.4 427.0,1373.8 428.0,1373.2 429.0,1372.5 430.0,1371.9 431.0,1371.3 432.0,1370.6 433.0,1369.9 434.0,1369.2 435.0,1368.5 436.0,1367.8 437.0,1367.1 438.0,1366.3 439.0,1365.5 440.0,1364.8 441.0,1364.0 442.0,1363.2 443.0,1362.3 444.0,1361.5 445.0,1360.6 446.0,1359.8 446.4,1359.4 447.0,1358.9 448.0,1357.9 449.0,1357.0 450.0,1356.0 451.0,1354.9 452.0,1353.9 453.0,1352.8 454.0,1351.6 455.0,1350.5 456.0,1349.3 457.0,1348.1 458.0,1346.8 459.0,1345.6 460.0,1344.3 461.0,1343.0 462.0,1341.7 463.0,1340.3 464.0,1339.0 465.0,1337.6 466.0,1336.2 466.6,1335.4 467.0,1334.8 468.0,1333.4 469.0,1331.9 470.0,1330.3 471.0,1328.7 472.0,1327.1 473.0,1325.4 474.0,1323.7 475.0,1322.0 476.0,1320.3 477.0,1318.5 478.0,1316.8 479.0,1315.0 480.0,1313.2 481.0,1311.5 481.8,1310.1 482.0,1309.8 483.0,1308.0 484.0,1306.1 485.0,1304.2 486.0,1302.3 487.0,1300.3 488.0,1298.4 489.0,1296.5 490.0,1294.6 491.0,1292.8 492.0,1291.1 493.0,1289.5 494.0,1288.0 494.4,1287.4 495.0,1286.6 496.0,1285.1 497.0,1283.7 498.0,1282.3 499.0,1281.0 500.0,1279.9 501.0,1279.1 502.0,1278.6 503.0,1278.3 504.0,1278.0 505.0,1277.7 506.0,1277.5 507.0,1277.4 508.0,1277.3 508.3,1277.3 509.0,1277.4 510.0,1278.0 511.0,1278.9 512.0,1280.1 513.0,1281.5 514.0,1283.1 515.0,1284.7 515.9,1286.2 516.0,1286.4 517.0,1288.2 518.0,1290.4 519.0,1292.8 520.0,1295.6 521.0,1298.5 522.0,1301.5 522.5,1303.1 523.0,1304.7 523.5,1306.2 524.0,1307.8 524.5,1309.4 525.0,1311.0 525.5,1312.6 526.0,1314.1 526.5,1315.6 527.2,1317.7 527.5,1318.6 528.5,1321.6 529.0,1323.1 529.5,1324.7 530.0,1326.3 530.5,1327.9 531.0,1329.5 531.5,1331.1 532.0,1332.6 532.5,1334.2 533.0,1335.8 533.5,1337.4 534.0,1338.9 534.5,1340.4 535.5,1343.3 536.5,1346.0 537.3,1348.0 537.5,1348.5 538.5,1350.9 539.5,1353.2 540.5,1355.5 541.5,1357.7 542.5,1359.9 543.5,1361.9 544.5,1363.9 545.5,1365.9 546.5,1367.7 547.5,1369.5 548.5,1371.1 549.5,1372.7 549.9,1373.3 550.5,1374.2 551.5,1375.6 552.5,1377.0 553.5,1378.3 554.5,1379.6 555.5,1380.8 556.5,1382.0 557.5,1383.2 558.5,1384.3 559.5,1385.4 560.5,1386.4 561.5,1387.4 562.5,1388.4 563.5,1389.4 564.5,1390.3 565.1,1390.9 565.5,1391.3 566.5,1392.2 567.5,1393.1 568.5,1394.0 569.5,1394.8 570.5,1395.7 571.5,1396.5 572.5,1397.4 573.5,1398.2 574.5,1398.9 575.5,1399.7 576.5,1400.5 577.5,1401.2 578.5,1401.9 579.5,1402.6 580.5,1403.3 581.5,1403.9 582.5,1404.5 583.5,1405.1 584.5,1405.7 585.3,1406.1 585.5,1406.2 586.5,1406.7 587.5,1407.2 588.5,1407.7 589.5,1408.2 590.5,1408.7 591.5,1409.2 592.5,1409.6 593.5,1410.1 594.5,1410.5 595.5,1411.0 596.5,1411.4 597.5,1411.8 598.5,1412.2 599.5,1412.6 600.5,1412.9 601.5,1413.3 602.5,1413.7 603.5,1414.0 604.5,1414.4 605.5,1414.7 606.5,1415.0 607.5,1415.3 608.5,1415.6 609.5,1415.9 610.5,1416.2 611.5,1416.5 612.5,1416.7 613.5,1417.0 614.5,1417.3 615.5,1417.5 616.5,1417.8 617.5,1418.0 618.5,1418.3 619.5,1418.5 620.5,1418.8 621.5,1419.0 622.5,1419.2 623.5,1419.4 624.5,1419.7 625.5,1419.9 626.5,1420.1 627.5,1420.3 628.5,1420.5 629.5,1420.7 630.5,1420.9 631.5,1421.1 632.5,1421.3 633.5,1421.5 634.5,1421.7 635.5,1421.9 636.5,1422.1 637.5,1422.2 638.5,1422.4 639.5,1422.6 640.5,1422.8 641.5,1423.0 642.5,1423.1 643.5,1423.3 644.5,1423.5 645.5,1423.7 646.5,1423.8 647.5,1424.0 648.5,1424.2 649.5,1424.3 650.5,1424.5 651.5,1424.7 652.5,1424.8 653.5,1425.0 654.5,1425.2 655.5,1425.3 656.5,1425.5 657.5,1425.6 658.5,1425.8 659.5,1425.9 660.5,1426.0 661.5,1426.1 662.5,1426.3 663.5,1426.4 664.5,1426.5 665.5,1426.6 666.5,1426.7 667.5,1426.8 668.5,1426.9 669.5,1427.0 670.5,1427.1 671.5,1427.2 672.5,1427.3 673.5,1427.4 674.5,1427.5 675.5,1427.6 676.5,1427.7 677.5,1427.8 678.5,1427.9 679.5,1428.0 680.5,1428.1 681.5,1428.2 682.5,1428.3 683.5,1428.4 684.5,1428.6 685.5,1428.7 686.5,1428.8 687.5,1428.9 688.5,1429.1 689.5,1429.2 690.5,1429.4 691.5,1429.5 692.5,1429.7 693.5,1429.8 694.5,1430.0 695.5,1430.2 696.5,1430.4 697.5,1430.5 698.5,1430.7 699.5,1430.9 700.5,1431.2 701.5,1431.4 702.5,1431.6 703.5,1431.9 704.0,1432.0 704.5,1432.1 705.5,1432.5 706.5,1433.0 707.5,1433.7 708.5,1434.3 709.5,1435.1 710.5,1435.8 711.5,1436.6 712.5,1437.3 713.5,1438.1 714.5,1438.7 715.5,1439.3 716.5,1439.8 717.5,1440.1 717.7,1440.2 718.5,1440.4 719.5,1440.7 720.5,1440.9 721.5,1441.2 722.5,1441.4 723.5,1441.6 724.5,1441.8 725.5,1442.0 726.5,1442.2 727.5,1442.3 728.5,1442.4 729.5,1442.5 730.5,1442.6 731.5,1442.7 732.5,1442.7 732.8,1442.7 733.5,1442.7 734.5,1442.6 735.5,1442.5 736.5,1442.4 737.5,1442.2 738.5,1442.0 739.5,1441.8 740.5,1441.6 741.5,1441.3 742.5,1441.1 743.5,1440.8 744.5,1440.5 745.5,1440.2 746.5,1439.9 747.5,1439.6 748.5,1439.4 749.5,1439.1 750.5,1438.9 751.5,1438.7 752.5,1438.4 753.5,1438.2 754.5,1437.9 755.5,1437.7 756.5,1437.4 757.5,1437.1 758.5,1436.9 759.5,1436.6 760.5,1436.3 761.5,1436.0 762.5,1435.8 763.5,1435.5 764.5,1435.2 765.5,1435.0 766.5,1434.7 767.5,1434.5 768.5,1434.3 769.5,1434.1 770.5,1433.9 771.5,1433.8 772.5,1433.6 773.5,1433.5 774.5,1433.4 775.5,1433.3 775.7,1433.3 776.5,1433.3 777.5,1433.2 778.5,1433.1 779.5,1433.1 780.5,1433.0 781.5,1433.0 782.5,1432.9 783.5,1432.9 784.5,1432.9 785.5,1432.8 786.5,1432.8 787.5,1432.7 788.5,1432.7 789.5,1432.7 790.5,1432.7 791.5,1432.6 792.5,1432.6 793.5,1432.6 794.5,1432.6 795.5,1432.6 795.9,1432.6 796.5,1432.6 797.5,1432.6 798.5,1432.7 799.5,1432.8 800.5,1432.9 801.5,1433.1 802.5,1433.2 803.5,1433.4 804.5,1433.6 805.5,1433.8 806.5,1433.9 807.5,1434.1 808.5,1434.3 809.5,1434.5 810.5,1434.6 811.5,1434.8 812.5,1434.9 813.5,1435.0 814.5,1435.1 815.5,1435.1 816.1,1435.1 816.5,1435.1 817.5,1435.1 818.5,1435.1 819.5,1435.0 820.5,1435.0 821.5,1434.9 822.5,1434.8 823.5,1434.7 824.5,1434.6 825.5,1434.5 826.5,1434.4 827.5,1434.2 828.5,1434.1 829.5,1433.9 830.5,1433.8 831.5,1433.6 832.5,1433.4 833.5,1433.3 834.5,1433.1 835.5,1432.9 836.5,1432.7 837.5,1432.5 838.5,1432.3 839.5,1432.2 840.5,1432.0 841.5,1431.8 842.5,1431.6 843.5,1431.4 844.5,1431.2 845.5,1431.1 846.5,1430.9 847.5,1430.7 848.5,1430.5 849.5,1430.4 850.5,1430.2 851.5,1430.1 852.5,1430.0 853.5,1429.8 854.5,1429.7 855.5,1429.5 856.5,1429.4 857.5,1429.2 858.5,1429.1 859.5,1428.9 860.5,1428.8 861.5,1428.6 862.5,1428.5 863.5,1428.3 864.5,1428.1 865.5,1428.0 866.5,1427.8 867.5,1427.7 868.5,1427.5 869.5,1427.4 870.5,1427.2 871.5,1427.1 872.5,1426.9 873.5,1426.8 874.5,1426.6 875.5,1426.5 876.5,1426.4 877.5,1426.2 878.5,1426.1 879.5,1426.0 880.5,1425.9 881.5,1425.7 882.5,1425.6 883.5,1425.5 884.5,1425.4 885.5,1425.3 886.5,1425.2 887.5,1425.1 888.5,1425.1 889.3,1425.0 889.5,1425.0 890.5,1424.9 891.5,1424.8 892.5,1424.8 893.5,1424.7 894.5,1424.6 895.5,1424.5 896.5,1424.5 897.5,1424.4 898.5,1424.3 899.5,1424.3 900.5,1424.2 901.5,1424.1 902.5,1424.1 903.5,1424.0 904.5,1424.0 905.5,1423.9 906.5,1423.9 907.5,1423.8 908.5,1423.8 909.5,1423.8 910.5,1423.8 911.5,1423.7 912.5,1423.7 913.5,1423.7 914.5,1423.7 914.6,1423.7 915.5,1423.7 916.5,1423.9 917.5,1424.1 918.5,1424.3 919.5,1424.6 920.5,1425.0 921.5,1425.4 922.5,1425.7 923.5,1426.1 924.5,1426.5 925.5,1426.8 926.5,1427.1 927.5,1427.3 928.5,1427.4 929.5,1427.5 929.7,1427.5 930.5,1427.5 931.5,1427.4 932.5,1427.2 933.5,1426.9 934.5,1426.6 935.5,1426.2 936.5,1425.8 937.5,1425.4 938.5,1424.9 939.5,1424.4 940.5,1424.0 941.5,1423.5 942.5,1423.0 943.5,1422.6 944.5,1422.2 945.5,1421.8 946.5,1421.4 947.4,1421.2 947.5,1421.2 948.5,1420.9 949.5,1420.7 950.5,1420.5 951.5,1420.2 952.5,1420.0 953.5,1419.8 954.5,1419.6 955.5,1419.4 956.5,1419.2 957.5,1419.0 958.5,1418.8 959.5,1418.7 960.5,1418.5 961.5,1418.3 962.5,1418.1 963.5,1418.0 964.5,1417.8 965.5,1417.6 966.5,1417.5 967.5,1417.3 968.5,1417.2 969.5,1417.0 970.5,1416.8 971.5,1416.7 972.5,1416.5 973.5,1416.4 974.5,1416.2 975.5,1416.1 976.5,1415.9 977.5,1415.8 978.5,1415.6 979.5,1415.5 980.5,1415.3 981.5,1415.1 982.5,1415.0 983.5,1414.8 984.5,1414.6 985.5,1414.5 986.5,1414.3 987.5,1414.1 988.5,1413.9 989.5,1413.8 990.3,1413.6 990.5,1413.6 991.5,1413.4 992.5,1413.2 993.5,1413.0 994.5,1412.8 995.5,1412.6 996.5,1412.4 997.5,1412.2 998.5,1412.0 999.5,1411.8 1000.5,1411.6 1001.5,1411.4 1002.5,1411.2 1003.5,1411.0 1004.5,1410.8 1005.5,1410.6 1006.5,1410.4 1007.5,1410.1 1008.5,1409.9 1009.5,1409.7 1010.5,1409.5 1011.5,1409.3 1012.5,1409.1 1013.5,1408.9 1014.5,1408.7 1015.5,1408.4 1016.5,1408.2 1017.5,1408.0 1018.5,1407.8 1019.5,1407.6 1020.5,1407.3 1021.5,1407.1 1022.5,1406.9 1023.5,1406.7 1024.5,1406.4 1025.5,1406.2 1026.5,1406.0 1027.5,1405.8 1028.2,1405.6 1028.5,1405.5 1029.5,1405.3 1030.5,1405.1 1031.5,1404.8 1032.5,1404.6 1033.5,1404.4 1034.5,1404.1 1035.5,1403.9 1036.5,1403.6 1037.5,1403.4 1038.5,1403.2 1039.5,1402.9 1040.5,1402.7 1041.5,1402.4 1042.5,1402.2 1043.5,1401.9 1044.5,1401.7 1045.5,1401.4 1046.5,1401.2 1047.5,1400.9 1048.5,1400.7 1049.5,1400.4 1050.5,1400.2 1051.5,1399.9 1052.5,1399.6 1053.5,1399.4 1054.5,1399.1 1055.5,1398.9 1056.5,1398.6 1057.5,1398.3 1058.5,1398.1 1059.5,1397.8 1060.5,1397.5 1061.5,1397.3 1062.5,1397.0 1063.5,1396.7 1064.5,1396.4 1065.5,1396.2 1066.1,1396.0 1066.5,1395.9 1067.5,1395.6 1068.5,1395.3 1069.5,1395.1 1070.5,1394.8 1071.5,1394.5 1072.5,1394.2 1073.5,1393.9 1074.5,1393.6 1075.5,1393.3 1076.5,1393.0 1077.5,1392.8 1078.5,1392.5 1079.5,1392.2 1080.5,1391.9 1081.5,1391.6 1082.5,1391.3 1083.5,1391.0 1084.5,1390.7 1085.5,1390.4 1086.5,1390.1 1087.5,1389.8 1088.5,1389.4 1089.5,1389.1 1090.5,1388.8 1091.5,1388.5 1092.5,1388.2 1093.5,1387.9 1094.5,1387.6 1095.5,1387.3 1096.5,1386.9 1097.5,1386.6 1098.5,1386.3 1099.5,1386.0 1100.5,1385.6 1101.5,1385.3 1102.5,1385.0 1103.5,1384.7 1104.0,1384.5 1104.5,1384.3 1105.5,1384.0 1106.5,1383.7 1107.5,1383.3 1108.5,1383.0 1109.5,1382.6 1110.5,1382.3 1111.5,1381.9 1112.5,1381.6 1113.5,1381.2 1114.5,1380.9 1115.5,1380.5 1116.5,1380.1 1117.5,1379.8 1118.5,1379.4 1119.5,1379.1 1120.5,1378.7 1121.5,1378.3 1122.5,1378.0 1123.5,1377.6 1124.5,1377.3 1125.2,1377.0 1125.5,1376.9 1126.5,1376.5 1127.5,1376.2 1128.5,1375.8 1129.5,1375.5 1130.5,1375.1 1131.5,1374.8 1132.5,1374.4 1133.5,1374.1 1134.5,1373.7 1135.5,1373.4 1136.5,1373.0 1137.5,1372.7 1138.5,1372.3 1139.5,1372.0 1140.5,1371.6 1141.5,1371.3 1142.5,1370.9 1143.5,1370.6 1144.5,1370.2 1145.5,1369.8 1146.5,1369.5 1147.5,1369.1 1148.5,1368.8 1149.5,1368.4 1150.5,1368.0 1151.5,1367.7 1152.5,1367.3 1153.5,1366.9 1154.5,1366.6 1155.5,1366.2 1156.5,1365.8 1157.5,1365.4 1158.5,1365.0 1159.5,1364.6 1160.5,1364.2 1161.5,1363.8 1162.5,1363.4 1163.1,1363.2 1163.5,1363.0 1164.5,1362.6 1165.5,1362.2 1166.5,1361.9 1167.5,1361.5 1168.5,1361.1 1169.5,1360.7 1170.5,1360.3 1171.5,1360.0 1172.5,1359.6 1173.5,1359.2 1174.5,1358.8 1175.5,1358.4 1176.5,1358.0 1177.5,1357.6 1178.5,1357.1 1179.5,1356.7 1180.5,1356.2 1181.5,1355.7 1182.5,1355.2 1183.5,1354.7 1184.5,1354.2 1185.5,1353.6 1186.5,1353.0 1187.5,1352.4 1188.4,1351.8 1188.5,1351.7 1189.5,1351.1 1190.5,1350.3 1191.5,1349.5 1192.5,1348.7 1193.5,1347.8 1194.5,1346.8 1195.5,1345.8 1196.5,1344.6 1197.5,1343.4 1198.5,1342.1 1199.5,1340.7 1199.7,1340.4 1200.5,1338.9 1201.5,1336.2 1202.5,1333.2 1203.0,1331.6 1203.5,1330.1 1204.5,1327.5 1205.5,1325.7 1206.0,1325.3 1206.5,1325.0 1207.5,1324.6 1208.5,1324.1 1209.5,1323.8 1210.5,1323.4 1211.5,1323.2 1212.5,1323.0 1213.5,1322.9 1214.5,1322.8 1214.9,1322.8 1215.5,1322.9 1216.5,1323.7 1217.5,1325.0 1218.5,1326.5 1219.5,1328.2 1220.5,1329.7 1221.5,1330.9 1222.4,1331.6 1222.5,1331.6 1223.5,1332.1 1224.5,1332.5 1225.5,1332.9 1226.5,1333.3 1227.5,1333.6 1228.5,1333.8 1229.5,1334.0 1230.5,1334.1 1231.3,1334.1 1231.5,1334.1 1232.5,1334.1 1233.5,1334.0 1234.5,1333.9 1235.5,1333.8 1236.5,1333.6 1237.5,1333.4 1238.5,1333.2 1239.5,1332.9 1240.5,1332.7 1241.5,1332.4 1242.5,1332.1 1243.5,1331.8 1244.5,1331.4 1245.5,1331.1 1246.5,1330.8 1247.5,1330.4 1248.5,1330.1 1249.5,1329.8 1250.5,1329.4 1251.5,1329.1 1252.5,1328.8 1253.5,1328.4 1254.5,1328.1 1255.5,1327.7 1256.5,1327.3 1257.5,1326.9 1258.5,1326.5 1259.5,1326.1 1260.5,1325.7 1261.5,1325.2 1262.5,1324.8 1263.5,1324.3 1264.5,1323.8 1265.5,1323.4 1266.5,1322.9 1267.5,1322.4 1268.5,1321.9 1269.5,1321.4 1270.5,1320.9 1271.5,1320.4 1272.5,1319.9 1273.5,1319.3 1274.5,1318.8 1275.5,1318.3 1276.5,1317.8 1276.7,1317.7 1277.5,1317.3 1278.5,1316.8 1279.5,1316.2 1280.5,1315.7 1281.5,1315.2 1282.5,1314.6 1283.5,1314.1 1284.5,1313.5 1285.5,1312.9 1286.5,1312.4 1287.5,1311.8 1288.5,1311.2 1289.5,1310.6 1290.5,1310.0 1291.5,1309.4 1292.5,1308.8 1293.5,1308.2 1294.5,1307.6 1295.5,1306.9 1296.5,1306.3 1297.5,1305.6 1298.5,1305.0 1299.5,1304.3 1300.5,1303.6 1301.5,1302.9 1302.0,1302.6 1302.5,1302.3 1303.5,1301.5 1304.5,1300.8 1305.5,1300.1 1306.5,1299.3 1307.5,1298.5 1308.5,1297.8 1309.5,1297.0 1310.5,1296.2 1311.5,1295.3 1312.5,1294.5 1313.5,1293.7 1314.5,1292.8 1315.5,1292.0 1316.5,1291.1 1317.5,1290.3 1318.5,1289.4 1319.5,1288.6 1320.5,1287.7 1321.5,1286.8 1322.2,1286.2 1322.5,1285.9 1323.5,1285.0 1324.5,1284.1 1325.5,1283.2 1326.5,1282.2 1327.5,1281.2 1328.5,1280.2 1329.5,1279.2 1330.5,1278.2 1331.5,1277.2 1332.5,1276.2 1333.5,1275.2 1334.5,1274.2 1335.5,1273.2 1336.5,1272.3 1337.5,1271.3 1338.5,1270.4 1339.5,1269.5 1340.5,1268.7 1341.5,1267.9 1342.4,1267.2 1342.5,1267.1 1343.5,1266.4 1344.5,1265.6 1345.5,1264.9 1346.5,1264.1 1347.5,1263.3 1348.5,1262.6 1349.5,1261.8 1350.5,1261.1 1351.5,1260.3 1352.5,1259.6 1353.5,1258.9 1354.5,1258.3 1355.5,1257.6 1356.5,1257.0 1357.5,1256.4 1358.5,1255.9 1359.5,1255.4 1360.5,1254.9 1361.5,1254.5 1362.5,1254.1 1363.5,1253.7 1364.5,1253.4 1365.1,1253.3 1365.5,1253.2 1366.5,1253.0 1367.5,1252.8 1368.5,1252.6 1369.5,1252.4 1370.5,1252.2 1371.5,1252.0 1372.5,1251.8 1373.5,1251.6 1374.5,1251.5 1375.5,1251.3 1376.5,1251.2 1377.5,1251.1 1378.5,1251.0 1379.5,1250.9 1380.5,1250.9 1381.5,1250.8 1382.5,1250.8 1382.8,1250.8 1383.5,1250.8 1384.5,1250.8 1385.5,1250.8 1386.5,1250.8 1387.5,1250.8 1388.5,1250.8 1389.5,1250.8 1390.5,1250.8 1391.5,1250.8 1392.5,1250.8 1393.5,1250.8 1394.5,1250.8 1395.5,1250.8 1396.5,1250.8 1397.5,1250.8 1398.5,1250.8 1399.5,1250.8 1400.4,1250.8 1400.5,1250.8 1401.5,1250.9 1402.5,1251.1 1403.5,1251.5 1404.5,1252.0 1405.5,1252.6 1406.5,1253.3 1407.5,1254.0 1408.5,1254.8 1409.5,1255.6 1410.5,1256.4 1411.5,1257.2 1412.5,1258.0 1413.1,1258.4 1413.5,1258.7 1414.5,1259.5 1415.5,1260.3 1416.5,1261.2 1417.5,1262.1 1418.5,1263.0 1419.5,1263.9 1420.5,1264.9 1421.5,1265.9 1422.5,1266.8 1423.5,1267.7 1424.5,1268.7 1425.5,1269.5 1425.7,1269.7 1426.5,1270.4 1427.5,1271.2 1428.5,1272.1 1429.5,1272.9 1430.5,1273.7 1431.5,1274.6 1432.5,1275.4 1433.5,1276.2 1434.5,1277.0 1435.5,1277.7 1436.5,1278.5 1437.5,1279.2 1438.3,1279.8 1438.5,1279.9 1439.5,1280.7 1440.5,1281.5 1441.5,1282.4 1442.5,1283.2 1443.5,1284.0 1444.5,1284.7 1445.5,1285.3 1446.5,1285.8 1447.5,1286.1 1448.4,1286.2 1448.5,1286.2 1449.5,1286.1 1450.5,1286.0 1451.5,1285.7 1452.5,1285.4 1453.5,1285.1 1454.5,1284.7 1455.5,1284.3 1456.5,1283.9 1457.5,1283.6 1458.5,1283.3 1459.5,1283.1 1460.5,1283.0 1461.0,1283.0 1461.5,1283.0 1462.5,1283.4 1463.5,1284.0 1464.5,1284.9 1465.5,1285.8 1466.5,1286.9 1467.5,1287.9 1468.3,1288.6 1468.5,1288.8 1469.5,1289.8 1470.5,1291.0 1471.5,1292.3 1472.5,1293.7 1473.5,1294.9 1474.5,1296.1 1475.5,1297.1 1476.5,1297.8 1477.5,1298.2 1477.9,1298.2 1478.5,1298.2 1479.5,1298.1 1480.5,1297.8 1481.5,1297.5 1482.5,1297.2 1483.4,1296.8 1483.5,1296.8 1484.5,1295.8 1485.5,1294.4 1486.5,1293.1 1487.5,1292.5 1488.5,1293.3 1489.5,1295.4 1490.5,1298.1 1491.0,1299.6 1491.5,1301.8 1492.0,1304.7 1492.5,1307.5 1493.0,1309.2 1494.0,1310.6 1495.0,1311.8 1496.0,1312.7 1497.0,1313.4 1498.0,1314.0 1499.0,1314.4 1499.9,1314.7 1500.0,1314.7 1501.0,1315.0 1502.0,1315.2 1503.0,1315.3 1504.0,1315.5 1505.0,1315.6 1506.0,1315.9 1506.8,1316.1 1507.0,1316.2 1508.0,1317.0 1509.0,1318.3 1510.0,1319.8 1511.0,1321.3 1512.0,1322.7 1513.0,1323.5 1513.7,1323.7 1514.0,1323.7 1515.0,1323.7 1516.0,1323.7 1517.0,1323.7 1518.0,1323.7 1519.0,1323.7 1520.0,1323.7 1521.0,1323.7 1522.0,1323.7 1523.0,1323.7 1524.0,1323.9 1525.0,1324.0 1526.0,1324.3 1527.0,1324.5 1528.0,1324.8 1529.0,1325.1 1530.0,1325.4 1531.0,1325.7 1532.0,1325.9 1533.0,1326.1 1534.0,1326.3 1535.0,1326.4 1535.7,1326.4 1536.0,1326.4 1537.0,1326.4 1538.0,1326.4 1539.0,1326.4 1540.0,1326.4 1541.0,1326.4 1542.0,1326.4 1543.0,1326.4 1544.0,1326.4 1545.0,1326.4 1545.4,1326.4 1546.0,1326.4 1547.0,1326.5 1548.0,1326.6 1549.0,1326.7 1550.0,1326.8 1551.0,1326.9 1552.0,1327.0 1553.0,1327.1 1553.6,1327.1 1554.0,1327.0 1555.0,1326.4 1556.0,1325.1 1557.0,1323.4 1558.0,1321.4 1559.0,1319.2 1560.0,1316.9 1561.0,1314.7 1562.0,1312.5 1563.0,1310.0 1564.0,1307.1 1564.5,1305.4 1564.6,1305.1 1565.0,1303.6 1565.5,1301.2 1566.0,1298.6 1566.5,1295.9 1567.0,1293.2 1567.5,1290.7 1568.0,1288.6 1568.5,1286.7 1569.0,1284.8 1569.5,1282.9 1570.0,1281.2 1570.5,1279.6 1571.0,1278.2 1572.0,1276.2 1573.0,1274.9 1574.0,1273.9 1575.0,1273.0 1576.0,1272.3 1577.0,1271.6 1578.0,1271.0 1578.4,1270.7 1579.0,1270.3 1580.0,1269.8 1581.0,1269.4 1582.0,1268.9 1583.0,1268.5 1584.0,1268.1 1585.0,1267.6 1586.0,1267.0 1586.7,1266.5 1587.0,1266.3 1588.0,1265.3 1589.0,1264.2 1590.0,1262.8 1591.0,1260.5 1592.0,1259.1 1593.0,1257.7 1593.6,1256.9 1594.0,1255.9 1595.0,1253.5 1596.0,1251.1 1597.0,1248.7 1597.7,1247.0 1598.0,1246.6 1599.0,1245.1 1600.0,1243.6 1601.0,1242.1 1601.2,1241.8 1602.0,1242.2 1603.0,1242.7 1604.0,1243.2 1605.0,1243.7 1606.0,1244.2 1607.0,1244.7 1608.0,1245.2 1609.0,1246.0 1610.0,1246.7 1611.0,1247.5 1612.0,1248.2 1613.0,1249.0 1613.6,1249.4 1614.0,1248.9 1615.0,1247.5 1616.0,1246.1 1617.0,1244.7 1618.0,1243.4 1619.0,1242.0 1620.0,1238.0 1620.5,1236.0 1621.0,1234.0 1621.5,1232.0 1622.0,1230.0 1622.5,1231.7 1623.5,1235.1 1624.0,1236.9 1624.5,1238.6 1625.0,1240.3 1625.5,1242.0 1626.0,1244.2 1626.5,1246.4 1627.0,1248.6 1627.5,1250.8 1628.0,1253.0 1629.0,1252.0 1630.0,1251.0 1631.0,1250.0 1632.0,1249.0 1633.0,1248.0 1634.0,1247.0 1635.0,1246.0 1636.0,1246.1 1637.0,1246.2 1638.0,1246.2 1639.0,1246.3 1640.0,1246.4 1641.0,1246.5 1642.0,1246.6 1642.5,1246.6 1643.0,1245.1 1644.0,1242.1 1645.0,1239.1 1646.0,1236.1 1646.5,1234.6 1647.0,1233.1 1647.5,1231.5 1648.0,1230.0 1648.5,1228.5 1649.0,1227.0 1649.5,1225.5 1650.0,1224.0 1650.5,1222.5 1651.0,1221.0 1651.5,1219.5 1652.0,1218.0 1652.1,1217.7 1652.5,1216.2 1653.0,1214.3 1653.5,1212.4 1654.0,1210.5 1654.5,1208.7 1655.0,1206.8 1655.5,1204.9 1656.0,1203.0 1656.5,1201.1 1657.0,1199.3 1657.5,1197.4 1657.6,1197.0 1658.0,1195.8 1658.5,1194.3 1659.0,1192.9 1659.5,1191.4 1660.0,1189.9 1660.5,1188.4 1661.5,1185.5 1661.8,1184.6 1662.5,1190.3 1663.0,1194.3 1663.5,1198.3 1664.0,1202.4 1664.2,1204.0 1664.4,1205.6 1664.6,1207.2 1664.8,1208.8 1665.0,1210.4 1665.2,1212.0 1665.7,1216.1 1665.9,1217.7 1666.2,1219.4 1666.7,1222.3 1667.2,1225.2 1667.7,1228.1 1668.2,1231.0 1668.7,1233.8 1669.2,1236.7 1669.7,1239.6 1670.2,1242.5 1670.7,1245.4 1671.4,1249.4 1671.7,1247.7 1672.7,1241.9 1673.2,1239.0 1673.7,1236.1 1674.2,1233.3 1674.7,1230.4 1675.2,1227.5 1675.7,1224.6 1676.2,1221.7 1676.7,1218.9 1676.9,1217.7 1677.2,1216.2 1677.7,1213.7 1678.2,1211.1 1678.7,1208.6 1679.2,1206.1 1679.7,1203.6 1680.2,1201.0 1680.7,1198.5 1681.0,1197.0 1681.7,1198.8 1682.7,1201.3 1683.7,1203.8 1684.7,1206.3 1685.2,1207.5 1685.7,1208.8 1686.2,1210.0 1686.5,1210.8 1686.7,1213.1 1687.2,1218.8 1687.7,1224.6 1687.9,1226.9 1688.1,1229.1 1688.3,1231.4 1688.5,1233.7 1688.7,1236.0 1688.9,1238.3 1689.1,1240.6 1689.3,1242.9 1689.5,1245.2 1689.5,1245.2 1689.7,1248.5 1689.9,1251.8 1690.1,1255.1 1690.3,1258.4 1690.5,1261.7 1690.7,1265.0 1690.9,1268.3 1691.1,1271.6 1691.3,1274.9 1691.5,1278.2 1691.7,1281.5 1691.9,1284.8 1692.0,1286.5 1692.1,1289.3 1692.3,1294.9 1692.5,1300.5 1692.7,1306.0 1692.9,1311.6 1693.1,1317.2 1693.2,1320.0 1693.3,1323.9 1693.5,1331.7 1693.7,1339.4 1693.9,1347.2 1694.1,1355.0 1694.3,1362.8 1694.5,1370.6 1694.7,1378.3 1694.9,1386.1 1695.0,1390.0 1695.1,1393.8 1695.3,1401.3 1695.5,1408.8 1695.7,1416.3 1695.9,1423.8 1696.1,1431.3 1696.3,1438.8 1696.5,1446.3 1696.7,1453.8 1696.9,1461.3 1697.0,1465.0"/>
<path class="cv" stroke="#008000" d="M300.0,1436.4 301.0,1436.2 302.0,1436.1 303.0,1435.9 304.0,1435.7 305.0,1435.6 306.0,1435.4 307.0,1435.2 308.0,1435.1 309.0,1434.9 310.0,1434.7 311.0,1434.5 312.0,1434.4 313.0,1434.2 314.0,1434.0 315.0,1433.8 316.0,1433.7 317.0,1433.5 318.0,1433.3 319.0,1433.1 320.0,1433.0 321.0,1432.8 322.0,1432.6 323.0,1432.4 324.0,1432.3 325.0,1432.1 326.0,1431.9 327.0,1431.7 328.0,1431.5 329.0,1431.4 330.0,1431.2 331.0,1431.0 332.0,1430.8 333.0,1430.6 334.0,1430.5 335.0,1430.3 336.0,1430.1 337.0,1429.9 338.0,1429.7 339.0,1429.5 340.0,1429.3 341.0,1429.2 342.0,1429.0 342.9,1428.8 343.0,1428.8 344.0,1428.6 345.0,1428.4 346.0,1428.2 347.0,1428.0 348.0,1427.9 349.0,1427.7 350.0,1427.5 351.0,1427.3 352.0,1427.1 353.0,1427.0 354.0,1426.8 355.0,1426.6 356.0,1426.4 357.0,1426.3 358.0,1426.1 359.0,1425.9 360.0,1425.7 361.0,1425.5 362.0,1425.4 363.0,1425.2 364.0,1425.0 365.0,1424.8 366.0,1424.6 367.0,1424.5 368.0,1424.3 369.0,1424.1 370.0,1423.9 371.0,1423.7 372.0,1423.5 373.0,1423.3 374.0,1423.1 375.0,1422.9 376.0,1422.7 377.0,1422.5 378.0,1422.3 379.0,1422.1 380.0,1421.9 381.0,1421.7 382.0,1421.5 383.0,1421.2 384.0,1421.0 385.0,1420.8 386.0,1420.5 387.0,1420.3 388.0,1420.1 389.0,1419.8 390.0,1419.6 391.0,1419.3 392.0,1419.1 393.0,1418.8 393.4,1418.7 394.0,1418.5 395.0,1418.3 396.0,1418.0 397.0,1417.7 398.0,1417.4 399.0,1417.1 400.0,1416.8 401.0,1416.5 402.0,1416.2 403.0,1415.8 404.0,1415.5 405.0,1415.2 406.0,1414.8 407.0,1414.5 408.0,1414.1 409.0,1413.7 410.0,1413.4 411.0,1413.0 412.0,1412.6 413.0,1412.2 414.0,1411.8 415.0,1411.4 416.0,1410.9 417.0,1410.5 418.0,1410.1 419.0,1409.6 420.0,1409.2 421.0,1408.7 421.2,1408.6 422.0,1408.2 423.0,1407.7 424.0,1407.2 425.0,1406.7 426.0,1406.2 427.0,1405.6 428.0,1405.1 429.0,1404.5 430.0,1403.9 431.0,1403.3 432.0,1402.6 433.0,1402.0 434.0,1401.4 435.0,1400.7 436.0,1400.0 437.0,1399.3 438.0,1398.6 439.0,1397.9 440.0,1397.2 441.0,1396.4 442.0,1395.7 443.0,1394.9 444.0,1394.1 445.0,1393.3 446.0,1392.5 446.4,1392.2 447.0,1391.7 448.0,1390.9 449.0,1390.0 450.0,1389.1 451.0,1388.2 452.0,1387.2 453.0,1386.2 454.0,1385.2 455.0,1384.2 456.0,1383.2 457.0,1382.1 458.0,1381.0 459.0,1379.9 460.0,1378.7 461.0,1377.6 462.0,1376.4 463.0,1375.2 464.0,1374.0 465.0,1372.7 466.0,1371.5 466.6,1370.7 467.0,1370.2 468.0,1368.8 469.0,1367.4 470.0,1366.0 471.0,1364.5 472.0,1362.9 473.0,1361.3 474.0,1359.7 475.0,1358.0 476.0,1356.4 477.0,1354.7 478.0,1353.0 479.0,1351.3 480.0,1349.7 481.0,1348.0 481.8,1346.7 482.0,1346.4 483.0,1344.7 484.0,1342.9 485.0,1341.1 486.0,1339.3 487.0,1337.5 488.0,1335.7 489.0,1334.0 490.0,1332.3 491.0,1330.7 492.0,1329.2 493.0,1327.9 493.1,1327.8 494.0,1326.7 495.0,1325.3 496.0,1324.0 497.0,1322.8 498.0,1321.8 499.0,1320.9 500.0,1320.4 500.7,1320.2 501.0,1320.2 502.0,1320.1 503.0,1320.0 504.0,1319.9 505.0,1319.8 506.0,1319.7 507.0,1319.7 508.0,1319.7 508.3,1319.7 509.0,1319.8 510.0,1320.3 511.0,1321.2 512.0,1322.3 513.0,1323.7 514.0,1325.2 515.0,1326.8 516.0,1328.5 517.0,1330.1 517.1,1330.3 518.0,1331.9 519.0,1333.9 520.0,1336.1 521.0,1338.6 522.0,1341.1 523.0,1343.8 524.0,1346.6 525.0,1349.5 526.0,1352.3 527.0,1355.1 527.2,1355.6 528.0,1357.8 529.0,1360.8 529.5,1362.3 530.0,1363.8 530.5,1365.4 531.0,1367.0 531.5,1368.6 532.0,1370.2 532.5,1371.7 533.0,1373.3 533.5,1374.9 534.0,1376.4 534.5,1378.0 535.0,1379.5 536.0,1382.4 537.0,1385.1 537.3,1385.9 538.0,1387.7 539.0,1390.3 540.0,1392.8 541.0,1395.3 542.0,1397.7 543.0,1400.0 544.0,1402.2 545.0,1404.3 546.0,1406.2 547.0,1408.0 547.4,1408.6 548.0,1409.5 549.0,1411.0 550.0,1412.5 551.0,1413.9 552.0,1415.2 553.0,1416.5 554.0,1417.7 555.0,1418.9 556.0,1420.0 557.0,1421.1 558.0,1422.1 559.0,1423.1 560.0,1424.0 561.0,1424.9 562.0,1425.8 562.6,1426.3 563.0,1426.6 564.0,1427.4 565.0,1428.2 566.0,1429.0 567.0,1429.7 568.0,1430.5 569.0,1431.2 570.0,1431.9 571.0,1432.5 572.0,1433.2 573.0,1433.8 574.0,1434.5 575.0,1435.1 576.0,1435.7 577.0,1436.2 578.0,1436.8 579.0,1437.3 580.0,1437.8 581.0,1438.3 582.0,1438.8 583.0,1439.2 584.0,1439.7 585.0,1440.1 585.3,1440.2 586.0,1440.5 587.0,1440.9 588.0,1441.2 589.0,1441.6 590.0,1442.0 591.0,1442.3 592.0,1442.7 593.0,1443.0 594.0,1443.4 595.0,1443.7 596.0,1444.0 597.0,1444.3 598.0,1444.6 599.0,1444.9 600.0,1445.2 601.0,1445.5 602.0,1445.7 603.0,1446.0 604.0,1446.3 605.0,1446.5 606.0,1446.8 607.0,1447.0 608.0,1447.3 609.0,1447.5 610.0,1447.8 611.0,1448.0 612.0,1448.2 613.0,1448.4 614.0,1448.7 615.0,1448.9 615.6,1449.0 616.0,1449.1 617.0,1449.3 618.0,1449.5 619.0,1449.7 620.0,1449.9 621.0,1450.1 622.0,1450.3 623.0,1450.5 624.0,1450.6 625.0,1450.8 626.0,1451.0 627.0,1451.2 628.0,1451.3 629.0,1451.5 630.0,1451.7 631.0,1451.8 632.0,1452.0 633.0,1452.1 634.0,1452.3 635.0,1452.4 636.0,1452.6 637.0,1452.7 638.0,1452.9 639.0,1453.1 640.0,1453.2 641.0,1453.4 642.0,1453.5 643.0,1453.7 644.0,1453.8 645.0,1454.0 646.0,1454.1 647.0,1454.3 648.0,1454.4 649.0,1454.6 650.0,1454.7 651.0,1454.9 652.0,1455.1 653.0,1455.2 653.5,1455.3 654.0,1455.4 655.0,1455.5 656.0,1455.7 657.0,1455.9 658.0,1456.0 659.0,1456.2 660.0,1456.3 661.0,1456.5 662.0,1456.6 663.0,1456.8 664.0,1456.9 665.0,1457.1 666.0,1457.2 667.0,1457.4 668.0,1457.6 669.0,1457.7 670.0,1457.9 671.0,1458.0 672.0,1458.2 673.0,1458.3 674.0,1458.5 675.0,1458.6 676.0,1458.8 677.0,1459.0 678.0,1459.1 679.0,1459.3 680.0,1459.5 681.0,1459.6 682.0,1459.8 683.0,1460.0 684.0,1460.2 685.0,1460.3 686.0,1460.5 687.0,1460.7 688.0,1460.9 689.0,1461.1 690.0,1461.3 691.0,1461.5 691.3,1461.6 692.0,1461.8 693.0,1462.0 694.0,1462.2 695.0,1462.5 696.0,1462.8 697.0,1463.1 698.0,1463.4 699.0,1463.7 700.0,1464.0 701.0,1464.3 702.0,1464.6 703.0,1464.9 704.0,1465.3 705.0,1465.6 706.0,1465.9 707.0,1466.2 708.0,1466.6 709.0,1466.9 710.0,1467.2 711.0,1467.5 712.0,1467.8 713.0,1468.1 714.0,1468.3 715.0,1468.6 716.0,1468.8 717.0,1469.1 717.7,1469.2 718.0,1469.3 719.0,1469.5 720.0,1469.7 721.0,1469.9 722.0,1470.1 723.0,1470.4 724.0,1470.6 725.0,1470.8 726.0,1471.0 727.0,1471.2 728.0,1471.3 729.0,1471.5 730.0,1471.6 731.0,1471.6 732.0,1471.7 732.8,1471.7 733.0,1471.7 734.0,1471.7 735.0,1471.5 736.0,1471.4 737.0,1471.2 738.0,1470.9 739.0,1470.6 740.0,1470.3 741.0,1469.9 742.0,1469.6 743.0,1469.2 744.0,1468.8 745.0,1468.4 746.0,1468.1 747.0,1467.7 748.0,1467.4 749.0,1467.1 750.0,1466.8 750.5,1466.7 751.0,1466.6 752.0,1466.4 753.0,1466.1 754.0,1465.9 755.0,1465.7 756.0,1465.5 757.0,1465.2 758.0,1465.0 759.0,1464.8 760.0,1464.6 761.0,1464.4 762.0,1464.2 763.0,1464.0 764.0,1463.8 765.0,1463.6 766.0,1463.4 767.0,1463.2 768.0,1463.0 769.0,1462.9 770.0,1462.7 771.0,1462.6 772.0,1462.5 773.0,1462.4 774.0,1462.2 775.0,1462.2 775.7,1462.1 776.0,1462.1 777.0,1462.0 778.0,1461.9 779.0,1461.9 780.0,1461.8 781.0,1461.7 782.0,1461.6 783.0,1461.6 784.0,1461.5 785.0,1461.5 786.0,1461.4 787.0,1461.3 788.0,1461.3 789.0,1461.3 790.0,1461.2 791.0,1461.2 792.0,1461.2 793.0,1461.1 794.0,1461.1 795.0,1461.1 795.9,1461.1 796.0,1461.1 797.0,1461.1 798.0,1461.2 799.0,1461.3 800.0,1461.4 801.0,1461.5 802.0,1461.6 803.0,1461.8 804.0,1462.0 805.0,1462.2 806.0,1462.3 807.0,1462.5 808.0,1462.7 809.0,1462.9 810.0,1463.1 811.0,1463.2 812.0,1463.3 813.0,1463.4 814.0,1463.5 815.0,1463.6 816.0,1463.6 816.1,1463.6 817.0,1463.6 818.0,1463.6 819.0,1463.5 820.0,1463.5 821.0,1463.4 822.0,1463.3 823.0,1463.2 824.0,1463.1 825.0,1462.9 826.0,1462.8 827.0,1462.6 828.0,1462.5 829.0,1462.3 830.0,1462.1 831.0,1461.9 832.0,1461.7 833.0,1461.5 834.0,1461.3 835.0,1461.1 836.0,1460.9 837.0,1460.7 838.0,1460.4 839.0,1460.2 840.0,1460.0 841.0,1459.8 842.0,1459.6 843.0,1459.4 844.0,1459.2 845.0,1458.9 846.0,1458.8 847.0,1458.6 848.0,1458.4 849.0,1458.2 850.0,1458.0 851.0,1457.9 851.5,1457.8 852.0,1457.7 853.0,1457.6 854.0,1457.4 855.0,1457.3 856.0,1457.1 857.0,1457.0 858.0,1456.8 859.0,1456.7 860.0,1456.5 861.0,1456.4 862.0,1456.2 863.0,1456.1 864.0,1455.9 865.0,1455.8 866.0,1455.6 867.0,1455.5 868.0,1455.3 869.0,1455.2 870.0,1455.1 871.0,1454.9 872.0,1454.8 873.0,1454.6 874.0,1454.5 875.0,1454.4 876.0,1454.2 877.0,1454.1 878.0,1454.0 879.0,1453.9 880.0,1453.7 881.0,1453.6 882.0,1453.5 883.0,1453.4 884.0,1453.3 885.0,1453.2 886.0,1453.1 887.0,1453.0 888.0,1452.9 889.0,1452.8 889.3,1452.8 890.0,1452.7 891.0,1452.7 892.0,1452.6 893.0,1452.5 894.0,1452.4 895.0,1452.3 896.0,1452.2 897.0,1452.1 898.0,1452.0 899.0,1452.0 900.0,1451.9 901.0,1451.8 902.0,1451.8 903.0,1451.7 904.0,1451.6 905.0,1451.6 906.0,1451.6 907.0,1451.5 908.0,1451.5 909.0,1451.5 909.5,1451.5 910.0,1451.5 911.0,1451.6 912.0,1451.7 913.0,1451.9 914.0,1452.1 915.0,1452.3 916.0,1452.6 917.0,1452.9 918.0,1453.3 919.0,1453.6 920.0,1453.9 921.0,1454.3 922.0,1454.6 923.0,1454.9 924.0,1455.2 925.0,1455.5 926.0,1455.7 927.0,1455.9 928.0,1456.0 929.0,1456.1 929.7,1456.1 930.0,1456.1 931.0,1456.0 932.0,1455.9 933.0,1455.7 934.0,1455.4 935.0,1455.1 936.0,1454.8 937.0,1454.4 938.0,1454.0 939.0,1453.5 940.0,1453.1 941.0,1452.7 942.0,1452.2 943.0,1451.8 944.0,1451.4 945.0,1451.0 946.0,1450.7 947.0,1450.4 947.4,1450.3 948.0,1450.2 949.0,1449.9 950.0,1449.7 951.0,1449.5 952.0,1449.3 953.0,1449.0 954.0,1448.8 955.0,1448.6 956.0,1448.4 957.0,1448.3 958.0,1448.1 959.0,1447.9 960.0,1447.7 961.0,1447.5 962.0,1447.4 963.0,1447.2 964.0,1447.0 965.0,1446.8 966.0,1446.7 967.0,1446.5 968.0,1446.4 969.0,1446.2 970.0,1446.0 971.0,1445.9 972.0,1445.7 973.0,1445.6 974.0,1445.4 975.0,1445.3 976.0,1445.1 977.0,1444.9 978.0,1444.8 979.0,1444.6 980.0,1444.5 981.0,1444.3 982.0,1444.1 983.0,1444.0 984.0,1443.8 985.0,1443.6 986.0,1443.5 987.0,1443.3 988.0,1443.1 989.0,1442.9 990.0,1442.8 990.3,1442.7 991.0,1442.6 992.0,1442.4 993.0,1442.2 994.0,1442.0 995.0,1441.8 996.0,1441.6 997.0,1441.4 998.0,1441.3 999.0,1441.1 1000.0,1440.9 1001.0,1440.7 1002.0,1440.5 1003.0,1440.3 1004.0,1440.1 1005.0,1439.9 1006.0,1439.7 1007.0,1439.5 1008.0,1439.3 1009.0,1439.1 1010.0,1438.9 1011.0,1438.7 1012.0,1438.5 1013.0,1438.3 1014.0,1438.1 1015.0,1437.9 1016.0,1437.7 1017.0,1437.5 1018.0,1437.3 1019.0,1437.1 1020.0,1436.9 1021.0,1436.7 1022.0,1436.5 1023.0,1436.3 1024.0,1436.0 1025.0,1435.8 1026.0,1435.6 1027.0,1435.4 1028.0,1435.1 1028.2,1435.1 1029.0,1434.9 1030.0,1434.7 1031.0,1434.4 1032.0,1434.2 1033.0,1434.0 1034.0,1433.7 1035.0,1433.5 1036.0,1433.2 1037.0,1432.9 1038.0,1432.7 1039.0,1432.4 1040.0,1432.2 1041.0,1431.9 1042.0,1431.6 1043.0,1431.4 1044.0,1431.1 1045.0,1430.8 1046.0,1430.5 1047.0,1430.3 1048.0,1430.0 1049.0,1429.7 1050.0,1429.4 1051.0,1429.2 1052.0,1428.9 1053.0,1428.6 1054.0,1428.3 1055.0,1428.0 1056.0,1427.8 1057.0,1427.5 1058.0,1427.2 1059.0,1426.9 1060.0,1426.7 1061.0,1426.4 1062.0,1426.1 1063.0,1425.8 1064.0,1425.6 1065.0,1425.3 1066.0,1425.0 1066.1,1425.0 1067.0,1424.8 1068.0,1424.5 1069.0,1424.2 1070.0,1424.0 1071.0,1423.7 1072.0,1423.5 1073.0,1423.2 1074.0,1422.9 1075.0,1422.7 1076.0,1422.4 1077.0,1422.2 1078.0,1421.9 1079.0,1421.6 1080.0,1421.4 1081.0,1421.1 1082.0,1420.9 1083.0,1420.6 1084.0,1420.4 1085.0,1420.1 1086.0,1419.8 1087.0,1419.6 1088.0,1419.3 1089.0,1419.1 1090.0,1418.8 1091.0,1418.5 1092.0,1418.3 1093.0,1418.0 1094.0,1417.7 1095.0,1417.5 1096.0,1417.2 1097.0,1416.9 1098.0,1416.7 1099.0,1416.4 1100.0,1416.1 1101.0,1415.8 1102.0,1415.6 1103.0,1415.3 1104.0,1415.0 1105.0,1414.7 1106.0,1414.4 1107.0,1414.1 1108.0,1413.9 1109.0,1413.6 1110.0,1413.3 1111.0,1413.0 1112.0,1412.7 1113.0,1412.4 1114.0,1412.1 1115.0,1411.8 1116.0,1411.5 1117.0,1411.2 1118.0,1410.9 1119.0,1410.6 1120.0,1410.3 1121.0,1410.0 1122.0,1409.6 1123.0,1409.3 1124.0,1409.0 1125.0,1408.7 1125.2,1408.6 1126.0,1408.3 1127.0,1408.0 1128.0,1407.7 1129.0,1407.3 1130.0,1407.0 1131.0,1406.6 1132.0,1406.3 1133.0,1406.0 1134.0,1405.6 1135.0,1405.2 1136.0,1404.9 1137.0,1404.5 1138.0,1404.2 1139.0,1403.8 1140.0,1403.4 1141.0,1403.1 1142.0,1402.7 1143.0,1402.3 1144.0,1402.0 1145.0,1401.6 1146.0,1401.2 1147.0,1400.8 1148.0,1400.5 1149.0,1400.1 1150.0,1399.7 1151.0,1399.3 1152.0,1399.0 1153.0,1398.6 1154.0,1398.2 1155.0,1397.8 1156.0,1397.4 1157.0,1397.0 1158.0,1396.7 1159.0,1396.3 1160.0,1395.9 1161.0,1395.5 1162.0,1395.1 1163.0,1394.7 1163.1,1394.7 1164.0,1394.4 1165.0,1394.0 1166.0,1393.6 1167.0,1393.3 1168.0,1392.9 1169.0,1392.6 1170.0,1392.3 1171.0,1391.9 1172.0,1391.6 1173.0,1391.2 1174.0,1390.9 1175.0,1390.5 1176.0,1390.2 1177.0,1389.8 1178.0,1389.4 1179.0,1389.1 1180.0,1388.7 1181.0,1388.2 1182.0,1387.8 1183.0,1387.4 1184.0,1386.9 1185.0,1386.4 1186.0,1385.9 1187.0,1385.4 1188.0,1384.8 1188.4,1384.6 1189.0,1384.2 1190.0,1383.6 1191.0,1383.0 1192.0,1382.3 1193.0,1381.6 1194.0,1380.7 1195.0,1379.9 1196.0,1378.9 1197.0,1377.9 1198.0,1376.7 1199.0,1375.4 1199.7,1374.5 1200.0,1374.0 1201.0,1371.7 1202.0,1368.7 1202.5,1367.0 1203.0,1365.3 1203.5,1363.7 1204.0,1362.1 1205.0,1359.6 1206.0,1358.1 1207.0,1357.4 1208.0,1356.7 1209.0,1356.1 1210.0,1355.6 1211.0,1355.1 1212.0,1354.8 1213.0,1354.5 1214.0,1354.3 1214.9,1354.3 1215.0,1354.3 1216.0,1354.8 1217.0,1355.9 1218.0,1357.4 1219.0,1359.1 1220.0,1360.8 1221.0,1362.2 1222.0,1363.0 1222.4,1363.2 1223.0,1363.3 1224.0,1363.6 1225.0,1363.8 1226.0,1363.9 1227.0,1364.1 1228.0,1364.2 1229.0,1364.3 1230.0,1364.4 1231.0,1364.4 1231.3,1364.4 1232.0,1364.4 1233.0,1364.3 1234.0,1364.3 1235.0,1364.1 1236.0,1364.0 1237.0,1363.8 1238.0,1363.6 1239.0,1363.3 1240.0,1363.1 1241.0,1362.8 1242.0,1362.5 1243.0,1362.2 1244.0,1361.9 1245.0,1361.5 1246.0,1361.2 1247.0,1360.9 1248.0,1360.5 1249.0,1360.2 1250.0,1359.9 1251.0,1359.6 1251.5,1359.4 1252.0,1359.2 1253.0,1358.9 1254.0,1358.6 1255.0,1358.3 1256.0,1358.0 1257.0,1357.6 1258.0,1357.3 1259.0,1356.9 1260.0,1356.5 1261.0,1356.2 1262.0,1355.8 1263.0,1355.4 1264.0,1355.0 1265.0,1354.6 1266.0,1354.2 1267.0,1353.8 1268.0,1353.3 1269.0,1352.9 1270.0,1352.5 1271.0,1352.0 1272.0,1351.5 1273.0,1351.1 1274.0,1350.6 1275.0,1350.1 1276.0,1349.6 1276.7,1349.3 1277.0,1349.2 1278.0,1348.6 1279.0,1348.1 1280.0,1347.6 1281.0,1347.0 1282.0,1346.4 1283.0,1345.9 1284.0,1345.2 1285.0,1344.6 1286.0,1344.0 1287.0,1343.4 1288.0,1342.7 1289.0,1342.1 1290.0,1341.4 1291.0,1340.7 1292.0,1340.0 1293.0,1339.3 1294.0,1338.6 1295.0,1337.9 1296.0,1337.2 1297.0,1336.5 1298.0,1335.8 1299.0,1335.1 1300.0,1334.4 1301.0,1333.6 1302.0,1332.9 1303.0,1332.2 1304.0,1331.4 1305.0,1330.7 1306.0,1329.9 1307.0,1329.1 1308.0,1328.3 1309.0,1327.5 1310.0,1326.7 1311.0,1325.9 1312.0,1325.0 1313.0,1324.2 1314.0,1323.4 1315.0,1322.5 1316.0,1321.7 1317.0,1320.8 1318.0,1320.0 1319.0,1319.1 1320.0,1318.3 1321.0,1317.4 1322.0,1316.6 1322.2,1316.4 1323.0,1315.7 1324.0,1314.8 1325.0,1313.9 1326.0,1313.0 1327.0,1312.1 1328.0,1311.2 1329.0,1310.2 1330.0,1309.3 1331.0,1308.3 1332.0,1307.4 1333.0,1306.4 1334.0,1305.5 1335.0,1304.6 1336.0,1303.7 1337.0,1302.9 1338.0,1302.0 1339.0,1301.2 1340.0,1300.5 1341.0,1299.7 1342.0,1299.1 1342.4,1298.8 1343.0,1298.4 1344.0,1297.8 1345.0,1297.2 1346.0,1296.6 1347.0,1296.0 1348.0,1295.4 1349.0,1294.8 1350.0,1294.2 1351.0,1293.7 1352.0,1293.1 1353.0,1292.6 1354.0,1292.1 1355.0,1291.6 1356.0,1291.1 1357.0,1290.6 1358.0,1290.2 1359.0,1289.7 1360.0,1289.3 1361.0,1288.9 1362.0,1288.5 1363.0,1288.1 1364.0,1287.8 1365.0,1287.4 1365.1,1287.4 1366.0,1287.1 1367.0,1286.8 1368.0,1286.4 1369.0,1286.1 1370.0,1285.7 1371.0,1285.4 1372.0,1285.0 1373.0,1284.7 1374.0,1284.4 1375.0,1284.1 1376.0,1283.8 1377.0,1283.6 1378.0,1283.4 1379.0,1283.2 1380.0,1283.1 1381.0,1283.0 1382.0,1282.9 1382.8,1282.9 1383.0,1282.9 1384.0,1282.9 1385.0,1282.9 1386.0,1282.9 1387.0,1282.9 1388.0,1282.9 1389.0,1282.9 1390.0,1282.9 1391.0,1282.9 1392.0,1282.9 1393.0,1282.9 1394.0,1282.9 1395.0,1282.9 1396.0,1282.9 1397.0,1282.9 1398.0,1282.9 1399.0,1282.9 1400.0,1282.9 1400.4,1282.9 1401.0,1282.9 1402.0,1283.1 1403.0,1283.4 1404.0,1283.7 1405.0,1284.2 1406.0,1284.8 1407.0,1285.4 1408.0,1286.1 1409.0,1286.8 1410.0,1287.6 1411.0,1288.3 1412.0,1289.1 1413.0,1289.8 1413.1,1289.9 1414.0,1290.6 1415.0,1291.4 1416.0,1292.4 1417.0,1293.4 1418.0,1294.4 1419.0,1295.5 1420.0,1296.6 1421.0,1297.8 1422.0,1298.9 1423.0,1299.9 1424.0,1301.0 1425.0,1302.0 1425.7,1302.6 1426.0,1302.9 1427.0,1303.8 1428.0,1304.7 1429.0,1305.6 1430.0,1306.5 1431.0,1307.4 1432.0,1308.3 1433.0,1309.1 1434.0,1309.9 1435.0,1310.7 1436.0,1311.4 1437.0,1312.0 1438.0,1312.5 1438.3,1312.7 1439.0,1313.1 1440.0,1313.6 1441.0,1314.1 1442.0,1314.6 1443.0,1315.0 1444.0,1315.4 1445.0,1315.8 1446.0,1316.1 1447.0,1316.3 1448.0,1316.4 1448.4,1316.4 1449.0,1316.4 1450.0,1316.2 1451.0,1316.0 1452.0,1315.7 1453.0,1315.3 1454.0,1314.9 1455.0,1314.4 1456.0,1314.0 1457.0,1313.6 1458.0,1313.2 1459.0,1313.0 1460.0,1312.8 1461.0,1312.7 1462.0,1312.9 1463.0,1313.5 1464.0,1314.3 1465.0,1315.3 1466.0,1316.4 1467.0,1317.5 1468.0,1318.5 1468.3,1318.8 1469.0,1319.4 1470.0,1320.5 1471.0,1321.6 1472.0,1322.7 1473.0,1323.9 1474.0,1324.9 1475.0,1325.8 1476.0,1326.5 1477.0,1327.0 1477.9,1327.1 1478.0,1327.1 1479.0,1327.0 1480.0,1326.6 1481.0,1326.1 1482.0,1325.4 1483.0,1324.7 1483.4,1324.4 1484.0,1323.7 1485.0,1321.9 1486.0,1319.8 1487.0,1318.4 1487.5,1318.2 1488.0,1318.4 1489.0,1319.9 1490.0,1322.4 1491.0,1325.7 1491.5,1329.0 1492.0,1333.9 1492.2,1335.9 1492.7,1339.9 1493.0,1340.9 1493.2,1341.1 1494.2,1342.0 1495.2,1342.7 1496.2,1343.2 1497.2,1343.5 1498.2,1343.6 1498.6,1343.6 1499.2,1343.6 1500.2,1343.6 1501.2,1343.6 1502.2,1343.6 1503.2,1343.6 1504.2,1343.6 1505.2,1343.6 1506.2,1343.6 1506.8,1343.6 1507.2,1343.7 1508.2,1344.4 1509.2,1345.7 1510.2,1347.3 1511.2,1348.9 1512.2,1350.3 1513.2,1351.1 1513.7,1351.2 1514.2,1351.2 1515.2,1351.1 1516.2,1351.0 1517.2,1350.9 1518.2,1350.8 1519.2,1350.7 1520.2,1350.6 1521.2,1350.5 1522.0,1350.5 1522.2,1350.5 1523.2,1350.5 1524.2,1350.6 1525.2,1350.8 1526.2,1351.0 1527.2,1351.2 1528.2,1351.4 1529.2,1351.6 1530.2,1351.9 1531.2,1352.1 1532.2,1352.3 1533.2,1352.4 1534.2,1352.5 1535.2,1352.6 1535.7,1352.6 1536.2,1352.6 1537.2,1352.5 1538.2,1352.4 1539.2,1352.2 1540.2,1352.0 1541.2,1351.8 1542.2,1351.5 1543.2,1351.2 1544.2,1350.9 1545.2,1350.6 1545.4,1350.5 1546.2,1350.1 1547.2,1349.5 1548.2,1348.7 1549.2,1347.9 1550.2,1347.2 1551.2,1346.6 1552.2,1346.4 1552.3,1346.4 1553.2,1346.8 1554.2,1347.9 1555.2,1349.4 1556.2,1350.8 1557.2,1351.7 1557.8,1351.9 1558.2,1351.6 1559.2,1348.9 1559.7,1346.8 1560.2,1344.5 1560.7,1342.3 1561.2,1340.2 1561.7,1338.6 1561.9,1338.1 1562.7,1336.5 1563.7,1335.1 1564.7,1333.9 1565.7,1332.8 1566.7,1331.5 1567.7,1329.8 1568.7,1327.4 1568.8,1327.1 1569.7,1321.4 1570.2,1316.5 1570.4,1314.5 1570.6,1312.5 1571.1,1307.9 1571.5,1305.1 1571.6,1304.5 1572.1,1301.5 1572.6,1298.6 1573.1,1296.0 1573.6,1294.0 1574.1,1292.9 1574.3,1292.7 1575.1,1292.5 1576.1,1292.2 1577.1,1292.1 1578.1,1292.0 1579.1,1291.9 1580.1,1291.8 1581.1,1291.7 1582.1,1291.6 1583.1,1291.5 1583.9,1291.3 1584.1,1291.3 1585.1,1291.0 1586.1,1290.7 1587.1,1290.3 1588.1,1289.8 1589.1,1289.3 1590.1,1288.2 1591.1,1287.7 1592.1,1287.2 1592.2,1287.2 1593.1,1285.4 1594.1,1283.4 1595.1,1281.4 1596.1,1279.4 1597.1,1277.4 1597.7,1276.2 1598.1,1273.5 1598.6,1270.2 1599.1,1266.9 1599.6,1263.6 1600.1,1260.3 1600.4,1258.3 1600.6,1257.6 1601.1,1255.8 1601.6,1254.0 1602.1,1252.1 1602.5,1250.7 1603.1,1251.5 1604.1,1252.7 1605.1,1254.0 1606.1,1255.2 1607.1,1256.5 1608.0,1257.6 1608.1,1258.2 1608.6,1261.1 1609.1,1264.1 1609.6,1267.0 1610.1,1270.0 1610.1,1270.0 1611.1,1268.2 1612.1,1266.5 1613.1,1264.7 1614.1,1262.9 1615.1,1261.1 1616.1,1259.4 1616.3,1259.0 1616.6,1256.8 1617.1,1253.1 1617.6,1249.4 1618.1,1245.8 1618.6,1242.1 1619.1,1238.4 1619.1,1238.4 1619.6,1235.6 1620.1,1232.8 1620.6,1230.0 1621.1,1227.1 1621.6,1224.3 1621.8,1223.2 1622.6,1225.7 1623.6,1228.9 1624.1,1230.4 1624.6,1232.0 1625.1,1233.6 1625.3,1234.2 1625.6,1236.2 1626.1,1239.5 1626.6,1242.8 1627.1,1246.1 1627.6,1249.4 1628.0,1252.1 1628.1,1251.9 1629.1,1249.6 1630.1,1247.3 1630.6,1246.1 1631.1,1245.0 1631.6,1243.8 1632.6,1241.6 1632.8,1241.1 1633.6,1240.7 1634.6,1240.2 1635.6,1239.7 1636.6,1239.2 1637.6,1238.7 1638.3,1238.3 1638.6,1238.5 1639.6,1239.3 1640.6,1240.0 1641.6,1240.8 1642.6,1241.5 1643.6,1242.3 1643.9,1242.5 1644.6,1239.4 1645.6,1235.1 1646.1,1232.9 1646.6,1230.7 1647.1,1228.5 1647.6,1226.3 1648.0,1224.6 1648.1,1223.8 1648.6,1219.6 1649.1,1215.4 1649.6,1211.2 1650.1,1207.0 1650.6,1202.8 1651.1,1198.6 1651.6,1194.4 1652.1,1190.2 1652.1,1190.2 1652.6,1187.2 1653.1,1184.2 1653.6,1181.1 1654.1,1178.1 1654.6,1175.1 1655.1,1172.1 1655.6,1169.0 1656.1,1166.0 1656.2,1165.4 1656.6,1164.6 1657.1,1163.6 1658.1,1161.6 1659.1,1159.6 1660.1,1157.6 1661.1,1155.6 1662.1,1153.6 1662.4,1153.0 1663.1,1156.3 1664.1,1161.0 1664.6,1163.4 1665.1,1165.7 1665.6,1168.1 1665.9,1169.5 1666.1,1172.0 1666.6,1178.4 1666.8,1181.0 1667.0,1183.5 1667.2,1186.1 1667.4,1188.6 1667.6,1191.2 1667.8,1193.7 1668.0,1196.3 1668.2,1198.8 1668.4,1201.4 1668.6,1203.9 1668.6,1203.9 1669.1,1207.6 1669.3,1209.1 1669.5,1210.6 1670.0,1214.3 1670.5,1217.9 1671.0,1221.6 1671.4,1224.6 1671.5,1223.9 1672.5,1216.5 1673.0,1212.8 1673.5,1209.1 1673.7,1207.6 1673.9,1206.1 1674.1,1204.6 1674.2,1203.9 1674.3,1202.4 1674.5,1199.3 1674.7,1196.3 1674.9,1193.2 1675.1,1190.1 1675.3,1187.1 1675.5,1184.0 1675.7,1181.0 1675.9,1177.9 1676.1,1174.8 1676.3,1171.8 1676.5,1168.7 1676.7,1165.7 1676.9,1162.6 1676.9,1162.6 1677.4,1159.7 1677.9,1156.7 1678.4,1153.8 1678.9,1150.8 1679.4,1147.9 1679.7,1146.1 1679.9,1145.6 1680.4,1144.3 1680.9,1142.9 1681.4,1141.6 1681.9,1140.3 1682.4,1139.0 1682.9,1137.7 1683.9,1135.0 1684.9,1132.4 1685.2,1131.6 1685.9,1135.2 1686.4,1137.8 1686.9,1140.3 1687.4,1142.9 1687.9,1145.5 1688.0,1146.0 1688.4,1152.0 1688.6,1155.0 1688.8,1158.0 1689.0,1161.0 1689.2,1164.0 1689.4,1167.0 1689.6,1170.0 1689.8,1173.0 1690.0,1176.0 1690.0,1176.0 1690.2,1181.5 1690.4,1186.9 1690.6,1192.4 1690.8,1197.9 1691.0,1203.3 1691.2,1208.8 1691.4,1214.3 1691.5,1217.0 1691.6,1219.2 1691.8,1223.5 1692.0,1227.8 1692.2,1232.1 1692.4,1236.4 1692.6,1240.7 1692.8,1245.0 1693.0,1249.3 1693.2,1253.6 1693.4,1257.9 1693.5,1260.0 1693.6,1261.8 1693.8,1265.3 1694.0,1268.8 1694.2,1272.4 1694.4,1275.9 1694.6,1279.4 1694.8,1283.0 1695.0,1286.5 1695.0,1286.5 1695.2,1291.0 1695.4,1295.4 1695.6,1299.9 1695.8,1304.4 1696.0,1308.8 1696.2,1313.3 1696.4,1317.8 1696.5,1320.0 1696.6,1324.7 1696.8,1334.0 1697.0,1343.3 1697.2,1352.7 1697.4,1362.0 1697.6,1371.3 1697.8,1380.7 1698.0,1390.0 1698.0,1390.0 1698.2,1400.0 1698.4,1410.0 1698.6,1420.0 1698.8,1430.0 1699.0,1440.0 1699.2,1450.0 1699.4,1460.0 1699.5,1465.0"/>
</g>
<path class="ln" style="stroke-width:3" d="M373.2,95.7 L376.0,272.5"/>
<path class="ln" d="M519.3,449.0 L519.0,614.4 M491.1,544.2 L481.3,1024.4 M512.6,1045.3 L499.0,1416.2 M1206.8,636.4 L1212.3,1375.8 M1254.5,706.6 L1266.1,1213.7 M1269.2,747.5 L1269.2,782.4 M1503.2,398.1 L1507.6,757.0 M1663.3,92.0 L1661.8,720.0 M1382.3,1115.2 L1382.3,1308.9"/>
<path d="M1004.2,1040.8 L1047.1,1058.5 L1032.7,1077.9 Z" fill="#000"/>
<path class="ln" d="M1040,1066.5 L1063.5,1085.5" style="stroke-width:3.6"/>
<text transform="translate(267.0,1487.1)" font-size="75" text-anchor="end">0.0</text>
<text transform="translate(267.0,1137.6)" font-size="75" text-anchor="end">0.2</text>
<text transform="translate(267.0,788.0)" font-size="75" text-anchor="end">0.4</text>
<text transform="translate(267.0,438.5)" font-size="75" text-anchor="end">0.6</text>
<text transform="translate(267.0,89.0)" font-size="75" text-anchor="end">0.8</text>
<text transform="translate(448.6,1560.0)" font-size="75" text-anchor="middle">1400</text>
<text transform="translate(733.8,1560.0)" font-size="75" text-anchor="middle">1200</text>
<text transform="translate(1018.9,1560.0)" font-size="75" text-anchor="middle">1000</text>
<text transform="translate(1301.1,1560.0)" font-size="75" text-anchor="middle">800</text>
<text transform="translate(1586.2,1560.0)" font-size="75" text-anchor="middle">600</text>
<text transform="translate(600.5,1711.3) scale(1,1.040)" font-size="90.9">Wavenumbers, cm<tspan font-size="52" dy="-43.3" dx="-1.5">-1</tspan></text>
<text transform="translate(109.6,692.4) rotate(-90) scale(1,1.040)" font-size="91" text-anchor="middle">Absorbance</text>
<text transform="translate(388.7,188.6) scale(1,0.990)" font-size="57.6">0.1</text>
<text transform="translate(447.6,444.6) scale(1,0.990)" font-size="57.6">1347</text>
<text transform="translate(380.4,518.6) scale(1,0.990)" font-size="57.6">1372</text>
<text transform="translate(527.8,1093.8) scale(1,0.990)" font-size="57.6">1355</text>
<text transform="translate(1147.0,605.0) scale(1,0.990)" font-size="57.6">860</text>
<text transform="translate(1221.4,676.7) scale(1,0.990)" font-size="57.6">833</text>
<text transform="translate(1257.2,738.8) scale(1,0.990)" font-size="57.6">824</text>
<text transform="translate(1430.5,381.8) scale(1,0.990)" font-size="57.6">657</text>
<text transform="translate(1577.4,770.0) scale(1,0.990)" font-size="57.6">550</text>
<text transform="translate(1323.6,1105.9) scale(1,0.990)" font-size="57.6">742</text>
<text transform="translate(1062.0,1127.0) scale(1,1.045)" font-size="73.8">BP</text>
<text transform="translate(659.6,692.6) scale(1,1.015)" font-size="90.5">Calcined</text>
<text transform="translate(718.0,1228.8) scale(1,1.015)" font-size="90.5">Dried</text>
</svg></body></html>
